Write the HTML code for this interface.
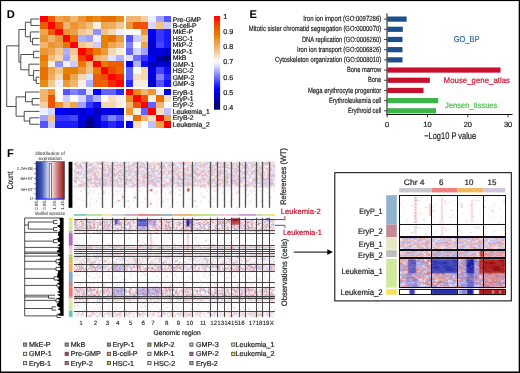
<!DOCTYPE html><html><head><meta charset="utf-8"><style>html,body{margin:0;padding:0;background:#fff;}svg{display:block;will-change:transform;}text{font-family:"Liberation Sans", sans-serif;text-rendering:geometricPrecision;}</style></head><body>
<svg width="520" height="373" viewBox="0 0 520 373">
<defs><filter id="gb" x="0" y="0" width="520" height="373" filterUnits="userSpaceOnUse" color-interpolation-filters="sRGB"><feConvolveMatrix order="3" kernelMatrix="1 2 1 2 4 2 1 2 1" divisor="16.0" edgeMode="duplicate"/></filter></defs>
<g>
<rect width="520" height="373" fill="#fff"/>
<text x="6.8" y="17.7" font-size="11.2" font-weight="bold" fill="#000">D</text>
<g shape-rendering="crispEdges">
<rect x="40" y="15.8" width="7.65" height="6.5" fill="#ff0000"/>
<rect x="47.6" y="15.8" width="7.65" height="6.5" fill="#eb5d00"/>
<rect x="55.2" y="15.8" width="7.65" height="6.5" fill="#eea550"/>
<rect x="62.8" y="15.8" width="7.65" height="6.5" fill="#eb9632"/>
<rect x="70.4" y="15.8" width="7.65" height="6.5" fill="#f0b473"/>
<rect x="78" y="15.8" width="7.65" height="6.5" fill="#eb9632"/>
<rect x="85.6" y="15.8" width="7.65" height="6.5" fill="#e87b00"/>
<rect x="93.2" y="15.8" width="7.65" height="6.5" fill="#ea8b19"/>
<rect x="100.8" y="15.8" width="7.65" height="6.5" fill="#e87000"/>
<rect x="108.4" y="15.8" width="7.65" height="6.5" fill="#e87000"/>
<rect x="116" y="15.8" width="7.65" height="6.5" fill="#ea8b19"/>
<rect x="125.5" y="15.8" width="7.65" height="6.5" fill="#f0b473"/>
<rect x="133.1" y="15.8" width="7.65" height="6.5" fill="#f0b473"/>
<rect x="140.7" y="15.8" width="7.65" height="6.5" fill="#f4d0a0"/>
<rect x="148.3" y="15.8" width="7.65" height="6.5" fill="#efefff"/>
<rect x="155.9" y="15.8" width="7.65" height="6.5" fill="#a0a0ff"/>
<rect x="163.5" y="15.8" width="7.65" height="6.5" fill="#5353ff"/>
<rect x="40" y="22.25" width="7.65" height="6.5" fill="#eb5d00"/>
<rect x="47.6" y="22.25" width="7.65" height="6.5" fill="#ff0000"/>
<rect x="55.2" y="22.25" width="7.65" height="6.5" fill="#eb5d00"/>
<rect x="62.8" y="22.25" width="7.65" height="6.5" fill="#f0b473"/>
<rect x="70.4" y="22.25" width="7.65" height="6.5" fill="#eb9632"/>
<rect x="78" y="22.25" width="7.65" height="6.5" fill="#eea550"/>
<rect x="85.6" y="22.25" width="7.65" height="6.5" fill="#f1bb7d"/>
<rect x="93.2" y="22.25" width="7.65" height="6.5" fill="#faeee1"/>
<rect x="100.8" y="22.25" width="7.65" height="6.5" fill="#eea550"/>
<rect x="108.4" y="22.25" width="7.65" height="6.5" fill="#efac61"/>
<rect x="116" y="22.25" width="7.65" height="6.5" fill="#f2c890"/>
<rect x="125.5" y="22.25" width="7.65" height="6.5" fill="#eb9632"/>
<rect x="133.1" y="22.25" width="7.65" height="6.5" fill="#ed5300"/>
<rect x="140.7" y="22.25" width="7.65" height="6.5" fill="#ed5300"/>
<rect x="148.3" y="22.25" width="7.65" height="6.5" fill="#d5d5ff"/>
<rect x="155.9" y="22.25" width="7.65" height="6.5" fill="#f1c186"/>
<rect x="163.5" y="22.25" width="7.65" height="6.5" fill="#cbcbff"/>
<rect x="40" y="28.7" width="7.65" height="6.5" fill="#eea550"/>
<rect x="47.6" y="28.7" width="7.65" height="6.5" fill="#eb5d00"/>
<rect x="55.2" y="28.7" width="7.65" height="6.5" fill="#ff0000"/>
<rect x="62.8" y="28.7" width="7.65" height="6.5" fill="#eb9632"/>
<rect x="70.4" y="28.7" width="7.65" height="6.5" fill="#eda046"/>
<rect x="78" y="28.7" width="7.65" height="6.5" fill="#f2c890"/>
<rect x="85.6" y="28.7" width="7.65" height="6.5" fill="#f5d8b0"/>
<rect x="93.2" y="28.7" width="7.65" height="6.5" fill="#9090ff"/>
<rect x="100.8" y="28.7" width="7.65" height="6.5" fill="#f1c186"/>
<rect x="108.4" y="28.7" width="7.65" height="6.5" fill="#f5d8b0"/>
<rect x="116" y="28.7" width="7.65" height="6.5" fill="#efefff"/>
<rect x="125.5" y="28.7" width="7.65" height="6.5" fill="#ffffff"/>
<rect x="133.1" y="28.7" width="7.65" height="6.5" fill="#ffffff"/>
<rect x="140.7" y="28.7" width="7.65" height="6.5" fill="#eb9632"/>
<rect x="148.3" y="28.7" width="7.65" height="6.5" fill="#0000ff"/>
<rect x="155.9" y="28.7" width="7.65" height="6.5" fill="#3636ff"/>
<rect x="163.5" y="28.7" width="7.65" height="6.5" fill="#1b1bff"/>
<rect x="40" y="35.15" width="7.65" height="6.5" fill="#eb9632"/>
<rect x="47.6" y="35.15" width="7.65" height="6.5" fill="#f0b473"/>
<rect x="55.2" y="35.15" width="7.65" height="6.5" fill="#eb9632"/>
<rect x="62.8" y="35.15" width="7.65" height="6.5" fill="#ff0000"/>
<rect x="70.4" y="35.15" width="7.65" height="6.5" fill="#e87500"/>
<rect x="78" y="35.15" width="7.65" height="6.5" fill="#b0b0ff"/>
<rect x="85.6" y="35.15" width="7.65" height="6.5" fill="#a0a0ff"/>
<rect x="93.2" y="35.15" width="7.65" height="6.5" fill="#efefff"/>
<rect x="100.8" y="35.15" width="7.65" height="6.5" fill="#e88000"/>
<rect x="108.4" y="35.15" width="7.65" height="6.5" fill="#e87000"/>
<rect x="116" y="35.15" width="7.65" height="6.5" fill="#ec9b3c"/>
<rect x="125.5" y="35.15" width="7.65" height="6.5" fill="#5353ff"/>
<rect x="133.1" y="35.15" width="7.65" height="6.5" fill="#cbcbff"/>
<rect x="140.7" y="35.15" width="7.65" height="6.5" fill="#f2c890"/>
<rect x="148.3" y="35.15" width="7.65" height="6.5" fill="#0000e4"/>
<rect x="155.9" y="35.15" width="7.65" height="6.5" fill="#3636ff"/>
<rect x="163.5" y="35.15" width="7.65" height="6.5" fill="#1b1bff"/>
<rect x="40" y="41.6" width="7.65" height="6.5" fill="#f0b473"/>
<rect x="47.6" y="41.6" width="7.65" height="6.5" fill="#eb9632"/>
<rect x="55.2" y="41.6" width="7.65" height="6.5" fill="#eda046"/>
<rect x="62.8" y="41.6" width="7.65" height="6.5" fill="#e87500"/>
<rect x="70.4" y="41.6" width="7.65" height="6.5" fill="#ff0000"/>
<rect x="78" y="41.6" width="7.65" height="6.5" fill="#f2c890"/>
<rect x="85.6" y="41.6" width="7.65" height="6.5" fill="#f5d8b0"/>
<rect x="93.2" y="41.6" width="7.65" height="6.5" fill="#cbcbff"/>
<rect x="100.8" y="41.6" width="7.65" height="6.5" fill="#e88000"/>
<rect x="108.4" y="41.6" width="7.65" height="6.5" fill="#eea550"/>
<rect x="116" y="41.6" width="7.65" height="6.5" fill="#f0b473"/>
<rect x="125.5" y="41.6" width="7.65" height="6.5" fill="#8080ff"/>
<rect x="133.1" y="41.6" width="7.65" height="6.5" fill="#ffffff"/>
<rect x="140.7" y="41.6" width="7.65" height="6.5" fill="#eea550"/>
<rect x="148.3" y="41.6" width="7.65" height="6.5" fill="#0000d6"/>
<rect x="155.9" y="41.6" width="7.65" height="6.5" fill="#4545ff"/>
<rect x="163.5" y="41.6" width="7.65" height="6.5" fill="#1b1bff"/>
<rect x="40" y="48.05" width="7.65" height="6.5" fill="#eb9632"/>
<rect x="47.6" y="48.05" width="7.65" height="6.5" fill="#eea550"/>
<rect x="55.2" y="48.05" width="7.65" height="6.5" fill="#f2c890"/>
<rect x="62.8" y="48.05" width="7.65" height="6.5" fill="#b0b0ff"/>
<rect x="70.4" y="48.05" width="7.65" height="6.5" fill="#f2c890"/>
<rect x="78" y="48.05" width="7.65" height="6.5" fill="#ff0000"/>
<rect x="85.6" y="48.05" width="7.65" height="6.5" fill="#f04000"/>
<rect x="93.2" y="48.05" width="7.65" height="6.5" fill="#e87b00"/>
<rect x="100.8" y="48.05" width="7.65" height="6.5" fill="#ec9b3c"/>
<rect x="108.4" y="48.05" width="7.65" height="6.5" fill="#f5d8b0"/>
<rect x="116" y="48.05" width="7.65" height="6.5" fill="#faeee1"/>
<rect x="125.5" y="48.05" width="7.65" height="6.5" fill="#6262ff"/>
<rect x="133.1" y="48.05" width="7.65" height="6.5" fill="#d5d5ff"/>
<rect x="140.7" y="48.05" width="7.65" height="6.5" fill="#a0a0ff"/>
<rect x="148.3" y="48.05" width="7.65" height="6.5" fill="#0000d6"/>
<rect x="155.9" y="48.05" width="7.65" height="6.5" fill="#0000e4"/>
<rect x="163.5" y="48.05" width="7.65" height="6.5" fill="#0000c8"/>
<rect x="40" y="54.5" width="7.65" height="6.5" fill="#e87b00"/>
<rect x="47.6" y="54.5" width="7.65" height="6.5" fill="#f1bb7d"/>
<rect x="55.2" y="54.5" width="7.65" height="6.5" fill="#f5d8b0"/>
<rect x="62.8" y="54.5" width="7.65" height="6.5" fill="#a0a0ff"/>
<rect x="70.4" y="54.5" width="7.65" height="6.5" fill="#f5d8b0"/>
<rect x="78" y="54.5" width="7.65" height="6.5" fill="#f04000"/>
<rect x="85.6" y="54.5" width="7.65" height="6.5" fill="#ff0000"/>
<rect x="93.2" y="54.5" width="7.65" height="6.5" fill="#f0b473"/>
<rect x="100.8" y="54.5" width="7.65" height="6.5" fill="#f1c186"/>
<rect x="108.4" y="54.5" width="7.65" height="6.5" fill="#e0e0ff"/>
<rect x="116" y="54.5" width="7.65" height="6.5" fill="#b0b0ff"/>
<rect x="125.5" y="54.5" width="7.65" height="6.5" fill="#e0e0ff"/>
<rect x="133.1" y="54.5" width="7.65" height="6.5" fill="#7070ff"/>
<rect x="140.7" y="54.5" width="7.65" height="6.5" fill="#3636ff"/>
<rect x="148.3" y="54.5" width="7.65" height="6.5" fill="#0000ff"/>
<rect x="155.9" y="54.5" width="7.65" height="6.5" fill="#0000a0"/>
<rect x="163.5" y="54.5" width="7.65" height="6.5" fill="#000080"/>
<rect x="40" y="60.95" width="7.65" height="6.5" fill="#ea8b19"/>
<rect x="47.6" y="60.95" width="7.65" height="6.5" fill="#faeee1"/>
<rect x="55.2" y="60.95" width="7.65" height="6.5" fill="#9090ff"/>
<rect x="62.8" y="60.95" width="7.65" height="6.5" fill="#efefff"/>
<rect x="70.4" y="60.95" width="7.65" height="6.5" fill="#cbcbff"/>
<rect x="78" y="60.95" width="7.65" height="6.5" fill="#e87b00"/>
<rect x="85.6" y="60.95" width="7.65" height="6.5" fill="#f0b473"/>
<rect x="93.2" y="60.95" width="7.65" height="6.5" fill="#ff0000"/>
<rect x="100.8" y="60.95" width="7.65" height="6.5" fill="#e87b00"/>
<rect x="108.4" y="60.95" width="7.65" height="6.5" fill="#eb5d00"/>
<rect x="116" y="60.95" width="7.65" height="6.5" fill="#eb5d00"/>
<rect x="125.5" y="60.95" width="7.65" height="6.5" fill="#0000f1"/>
<rect x="133.1" y="60.95" width="7.65" height="6.5" fill="#b0b0ff"/>
<rect x="140.7" y="60.95" width="7.65" height="6.5" fill="#0d0dff"/>
<rect x="148.3" y="60.95" width="7.65" height="6.5" fill="#0000bb"/>
<rect x="155.9" y="60.95" width="7.65" height="6.5" fill="#0000d6"/>
<rect x="163.5" y="60.95" width="7.65" height="6.5" fill="#0000c8"/>
<rect x="40" y="67.4" width="7.65" height="6.5" fill="#e87000"/>
<rect x="47.6" y="67.4" width="7.65" height="6.5" fill="#eea550"/>
<rect x="55.2" y="67.4" width="7.65" height="6.5" fill="#f1c186"/>
<rect x="62.8" y="67.4" width="7.65" height="6.5" fill="#e88000"/>
<rect x="70.4" y="67.4" width="7.65" height="6.5" fill="#e88000"/>
<rect x="78" y="67.4" width="7.65" height="6.5" fill="#ec9b3c"/>
<rect x="85.6" y="67.4" width="7.65" height="6.5" fill="#f1c186"/>
<rect x="93.2" y="67.4" width="7.65" height="6.5" fill="#e87b00"/>
<rect x="100.8" y="67.4" width="7.65" height="6.5" fill="#ff0000"/>
<rect x="108.4" y="67.4" width="7.65" height="6.5" fill="#ee4a00"/>
<rect x="116" y="67.4" width="7.65" height="6.5" fill="#ea6600"/>
<rect x="125.5" y="67.4" width="7.65" height="6.5" fill="#6262ff"/>
<rect x="133.1" y="67.4" width="7.65" height="6.5" fill="#ffffff"/>
<rect x="140.7" y="67.4" width="7.65" height="6.5" fill="#f5d8b0"/>
<rect x="148.3" y="67.4" width="7.65" height="6.5" fill="#0000e4"/>
<rect x="155.9" y="67.4" width="7.65" height="6.5" fill="#4545ff"/>
<rect x="163.5" y="67.4" width="7.65" height="6.5" fill="#0d0dff"/>
<rect x="40" y="73.85" width="7.65" height="6.5" fill="#e87000"/>
<rect x="47.6" y="73.85" width="7.65" height="6.5" fill="#efac61"/>
<rect x="55.2" y="73.85" width="7.65" height="6.5" fill="#f5d8b0"/>
<rect x="62.8" y="73.85" width="7.65" height="6.5" fill="#e87000"/>
<rect x="70.4" y="73.85" width="7.65" height="6.5" fill="#eea550"/>
<rect x="78" y="73.85" width="7.65" height="6.5" fill="#f5d8b0"/>
<rect x="85.6" y="73.85" width="7.65" height="6.5" fill="#e0e0ff"/>
<rect x="93.2" y="73.85" width="7.65" height="6.5" fill="#eb5d00"/>
<rect x="100.8" y="73.85" width="7.65" height="6.5" fill="#ee4a00"/>
<rect x="108.4" y="73.85" width="7.65" height="6.5" fill="#ff0000"/>
<rect x="116" y="73.85" width="7.65" height="6.5" fill="#f62600"/>
<rect x="125.5" y="73.85" width="7.65" height="6.5" fill="#6262ff"/>
<rect x="133.1" y="73.85" width="7.65" height="6.5" fill="#f7dfc0"/>
<rect x="140.7" y="73.85" width="7.65" height="6.5" fill="#f5d8b0"/>
<rect x="148.3" y="73.85" width="7.65" height="6.5" fill="#0000e4"/>
<rect x="155.9" y="73.85" width="7.65" height="6.5" fill="#8080ff"/>
<rect x="163.5" y="73.85" width="7.65" height="6.5" fill="#2828ff"/>
<rect x="40" y="80.3" width="7.65" height="6.5" fill="#ea8b19"/>
<rect x="47.6" y="80.3" width="7.65" height="6.5" fill="#f2c890"/>
<rect x="55.2" y="80.3" width="7.65" height="6.5" fill="#efefff"/>
<rect x="62.8" y="80.3" width="7.65" height="6.5" fill="#ec9b3c"/>
<rect x="70.4" y="80.3" width="7.65" height="6.5" fill="#f0b473"/>
<rect x="78" y="80.3" width="7.65" height="6.5" fill="#faeee1"/>
<rect x="85.6" y="80.3" width="7.65" height="6.5" fill="#b0b0ff"/>
<rect x="93.2" y="80.3" width="7.65" height="6.5" fill="#eb5d00"/>
<rect x="100.8" y="80.3" width="7.65" height="6.5" fill="#ea6600"/>
<rect x="108.4" y="80.3" width="7.65" height="6.5" fill="#f62600"/>
<rect x="116" y="80.3" width="7.65" height="6.5" fill="#ff0000"/>
<rect x="125.5" y="80.3" width="7.65" height="6.5" fill="#2828ff"/>
<rect x="133.1" y="80.3" width="7.65" height="6.5" fill="#faeee1"/>
<rect x="140.7" y="80.3" width="7.65" height="6.5" fill="#faeee1"/>
<rect x="148.3" y="80.3" width="7.65" height="6.5" fill="#0000c8"/>
<rect x="155.9" y="80.3" width="7.65" height="6.5" fill="#5353ff"/>
<rect x="163.5" y="80.3" width="7.65" height="6.5" fill="#0d0dff"/>
<rect x="40" y="88.8" width="7.65" height="6.5" fill="#f0b473"/>
<rect x="47.6" y="88.8" width="7.65" height="6.5" fill="#eb9632"/>
<rect x="55.2" y="88.8" width="7.65" height="6.5" fill="#ffffff"/>
<rect x="62.8" y="88.8" width="7.65" height="6.5" fill="#5353ff"/>
<rect x="70.4" y="88.8" width="7.65" height="6.5" fill="#8080ff"/>
<rect x="78" y="88.8" width="7.65" height="6.5" fill="#6262ff"/>
<rect x="85.6" y="88.8" width="7.65" height="6.5" fill="#e0e0ff"/>
<rect x="93.2" y="88.8" width="7.65" height="6.5" fill="#0000f1"/>
<rect x="100.8" y="88.8" width="7.65" height="6.5" fill="#6262ff"/>
<rect x="108.4" y="88.8" width="7.65" height="6.5" fill="#6262ff"/>
<rect x="116" y="88.8" width="7.65" height="6.5" fill="#2828ff"/>
<rect x="125.5" y="88.8" width="7.65" height="6.5" fill="#ff0000"/>
<rect x="133.1" y="88.8" width="7.65" height="6.5" fill="#ea8b19"/>
<rect x="140.7" y="88.8" width="7.65" height="6.5" fill="#f0b473"/>
<rect x="148.3" y="88.8" width="7.65" height="6.5" fill="#eb9632"/>
<rect x="155.9" y="88.8" width="7.65" height="6.5" fill="#efefff"/>
<rect x="163.5" y="88.8" width="7.65" height="6.5" fill="#0000e4"/>
<rect x="40" y="95.25" width="7.65" height="6.5" fill="#f0b473"/>
<rect x="47.6" y="95.25" width="7.65" height="6.5" fill="#ed5300"/>
<rect x="55.2" y="95.25" width="7.65" height="6.5" fill="#ffffff"/>
<rect x="62.8" y="95.25" width="7.65" height="6.5" fill="#cbcbff"/>
<rect x="70.4" y="95.25" width="7.65" height="6.5" fill="#ffffff"/>
<rect x="78" y="95.25" width="7.65" height="6.5" fill="#d5d5ff"/>
<rect x="85.6" y="95.25" width="7.65" height="6.5" fill="#7070ff"/>
<rect x="93.2" y="95.25" width="7.65" height="6.5" fill="#b0b0ff"/>
<rect x="100.8" y="95.25" width="7.65" height="6.5" fill="#ffffff"/>
<rect x="108.4" y="95.25" width="7.65" height="6.5" fill="#f7dfc0"/>
<rect x="116" y="95.25" width="7.65" height="6.5" fill="#faeee1"/>
<rect x="125.5" y="95.25" width="7.65" height="6.5" fill="#ea8b19"/>
<rect x="133.1" y="95.25" width="7.65" height="6.5" fill="#ff0000"/>
<rect x="140.7" y="95.25" width="7.65" height="6.5" fill="#ed5300"/>
<rect x="148.3" y="95.25" width="7.65" height="6.5" fill="#faeee1"/>
<rect x="155.9" y="95.25" width="7.65" height="6.5" fill="#e87000"/>
<rect x="163.5" y="95.25" width="7.65" height="6.5" fill="#f7dfc0"/>
<rect x="40" y="101.7" width="7.65" height="6.5" fill="#f4d0a0"/>
<rect x="47.6" y="101.7" width="7.65" height="6.5" fill="#ed5300"/>
<rect x="55.2" y="101.7" width="7.65" height="6.5" fill="#eb9632"/>
<rect x="62.8" y="101.7" width="7.65" height="6.5" fill="#f2c890"/>
<rect x="70.4" y="101.7" width="7.65" height="6.5" fill="#eea550"/>
<rect x="78" y="101.7" width="7.65" height="6.5" fill="#a0a0ff"/>
<rect x="85.6" y="101.7" width="7.65" height="6.5" fill="#3636ff"/>
<rect x="93.2" y="101.7" width="7.65" height="6.5" fill="#0d0dff"/>
<rect x="100.8" y="101.7" width="7.65" height="6.5" fill="#f5d8b0"/>
<rect x="108.4" y="101.7" width="7.65" height="6.5" fill="#f5d8b0"/>
<rect x="116" y="101.7" width="7.65" height="6.5" fill="#faeee1"/>
<rect x="125.5" y="101.7" width="7.65" height="6.5" fill="#f0b473"/>
<rect x="133.1" y="101.7" width="7.65" height="6.5" fill="#ed5300"/>
<rect x="140.7" y="101.7" width="7.65" height="6.5" fill="#ff0000"/>
<rect x="148.3" y="101.7" width="7.65" height="6.5" fill="#6262ff"/>
<rect x="155.9" y="101.7" width="7.65" height="6.5" fill="#f0b473"/>
<rect x="163.5" y="101.7" width="7.65" height="6.5" fill="#ffffff"/>
<rect x="40" y="108.15" width="7.65" height="6.5" fill="#efefff"/>
<rect x="47.6" y="108.15" width="7.65" height="6.5" fill="#d5d5ff"/>
<rect x="55.2" y="108.15" width="7.65" height="6.5" fill="#0000ff"/>
<rect x="62.8" y="108.15" width="7.65" height="6.5" fill="#0000e4"/>
<rect x="70.4" y="108.15" width="7.65" height="6.5" fill="#0000d6"/>
<rect x="78" y="108.15" width="7.65" height="6.5" fill="#0000d6"/>
<rect x="85.6" y="108.15" width="7.65" height="6.5" fill="#0000ff"/>
<rect x="93.2" y="108.15" width="7.65" height="6.5" fill="#0000bb"/>
<rect x="100.8" y="108.15" width="7.65" height="6.5" fill="#0000e4"/>
<rect x="108.4" y="108.15" width="7.65" height="6.5" fill="#0000e4"/>
<rect x="116" y="108.15" width="7.65" height="6.5" fill="#0000c8"/>
<rect x="125.5" y="108.15" width="7.65" height="6.5" fill="#eb9632"/>
<rect x="133.1" y="108.15" width="7.65" height="6.5" fill="#faeee1"/>
<rect x="140.7" y="108.15" width="7.65" height="6.5" fill="#6262ff"/>
<rect x="148.3" y="108.15" width="7.65" height="6.5" fill="#ff0000"/>
<rect x="155.9" y="108.15" width="7.65" height="6.5" fill="#f7dfc0"/>
<rect x="163.5" y="108.15" width="7.65" height="6.5" fill="#c0c0ff"/>
<rect x="40" y="114.6" width="7.65" height="6.5" fill="#a0a0ff"/>
<rect x="47.6" y="114.6" width="7.65" height="6.5" fill="#f1c186"/>
<rect x="55.2" y="114.6" width="7.65" height="6.5" fill="#3636ff"/>
<rect x="62.8" y="114.6" width="7.65" height="6.5" fill="#3636ff"/>
<rect x="70.4" y="114.6" width="7.65" height="6.5" fill="#4545ff"/>
<rect x="78" y="114.6" width="7.65" height="6.5" fill="#0000e4"/>
<rect x="85.6" y="114.6" width="7.65" height="6.5" fill="#0000a0"/>
<rect x="93.2" y="114.6" width="7.65" height="6.5" fill="#0000d6"/>
<rect x="100.8" y="114.6" width="7.65" height="6.5" fill="#4545ff"/>
<rect x="108.4" y="114.6" width="7.65" height="6.5" fill="#8080ff"/>
<rect x="116" y="114.6" width="7.65" height="6.5" fill="#5353ff"/>
<rect x="125.5" y="114.6" width="7.65" height="6.5" fill="#efefff"/>
<rect x="133.1" y="114.6" width="7.65" height="6.5" fill="#e87000"/>
<rect x="140.7" y="114.6" width="7.65" height="6.5" fill="#f0b473"/>
<rect x="148.3" y="114.6" width="7.65" height="6.5" fill="#f7dfc0"/>
<rect x="155.9" y="114.6" width="7.65" height="6.5" fill="#ff0000"/>
<rect x="163.5" y="114.6" width="7.65" height="6.5" fill="#eda046"/>
<rect x="40" y="121.05" width="7.65" height="6.5" fill="#5353ff"/>
<rect x="47.6" y="121.05" width="7.65" height="6.5" fill="#cbcbff"/>
<rect x="55.2" y="121.05" width="7.65" height="6.5" fill="#1b1bff"/>
<rect x="62.8" y="121.05" width="7.65" height="6.5" fill="#1b1bff"/>
<rect x="70.4" y="121.05" width="7.65" height="6.5" fill="#1b1bff"/>
<rect x="78" y="121.05" width="7.65" height="6.5" fill="#0000c8"/>
<rect x="85.6" y="121.05" width="7.65" height="6.5" fill="#000080"/>
<rect x="93.2" y="121.05" width="7.65" height="6.5" fill="#0000c8"/>
<rect x="100.8" y="121.05" width="7.65" height="6.5" fill="#0d0dff"/>
<rect x="108.4" y="121.05" width="7.65" height="6.5" fill="#2828ff"/>
<rect x="116" y="121.05" width="7.65" height="6.5" fill="#0d0dff"/>
<rect x="125.5" y="121.05" width="7.65" height="6.5" fill="#0000e4"/>
<rect x="133.1" y="121.05" width="7.65" height="6.5" fill="#f7dfc0"/>
<rect x="140.7" y="121.05" width="7.65" height="6.5" fill="#ffffff"/>
<rect x="148.3" y="121.05" width="7.65" height="6.5" fill="#c0c0ff"/>
<rect x="155.9" y="121.05" width="7.65" height="6.5" fill="#eda046"/>
<rect x="163.5" y="121.05" width="7.65" height="6.5" fill="#ff0000"/>
</g>
<text x="172.8" y="21.53" font-size="6.8" fill="#111" stroke="#111" stroke-width="0.2">Pre-GMP</text>
<text x="172.8" y="27.98" font-size="6.8" fill="#111" stroke="#111" stroke-width="0.2">B-cell-P</text>
<text x="172.8" y="34.43" font-size="6.8" fill="#111" stroke="#111" stroke-width="0.2">MkE-P</text>
<text x="172.8" y="40.88" font-size="6.8" fill="#111" stroke="#111" stroke-width="0.2">HSC-1</text>
<text x="172.8" y="47.33" font-size="6.8" fill="#111" stroke="#111" stroke-width="0.2">MkP-2</text>
<text x="172.8" y="53.77" font-size="6.8" fill="#111" stroke="#111" stroke-width="0.2">MkP-1</text>
<text x="172.8" y="60.23" font-size="6.8" fill="#111" stroke="#111" stroke-width="0.2">MkB</text>
<text x="172.8" y="66.67" font-size="6.8" fill="#111" stroke="#111" stroke-width="0.2">GMP-1</text>
<text x="172.8" y="73.12" font-size="6.8" fill="#111" stroke="#111" stroke-width="0.2">HSC-2</text>
<text x="172.8" y="79.58" font-size="6.8" fill="#111" stroke="#111" stroke-width="0.2">GMP-2</text>
<text x="172.8" y="86.02" font-size="6.8" fill="#111" stroke="#111" stroke-width="0.2">GMP-3</text>
<text x="172.8" y="94.52" font-size="6.8" fill="#111" stroke="#111" stroke-width="0.2">EryB-1</text>
<text x="172.8" y="100.97" font-size="6.8" fill="#111" stroke="#111" stroke-width="0.2">EryP-1</text>
<text x="172.8" y="107.42" font-size="6.8" fill="#111" stroke="#111" stroke-width="0.2">EryP-2</text>
<text x="172.8" y="113.88" font-size="6.8" fill="#111" stroke="#111" stroke-width="0.2">Leukemia_1</text>
<text x="172.8" y="120.32" font-size="6.8" fill="#111" stroke="#111" stroke-width="0.2">EryB-2</text>
<text x="172.8" y="126.77" font-size="6.8" fill="#111" stroke="#111" stroke-width="0.2">Leukemia_2</text>
<path d="M30.9 19.03L39.5 19.03M30.9 25.48L39.5 25.48M30.9 19.03L30.9 25.48M32.6 38.38L39.5 38.38M32.6 44.83L39.5 44.83M32.6 38.38L32.6 44.83M30.4 41.6L32.6 41.6M30.4 31.93L39.5 31.93M30.4 31.93L30.4 41.6M25.4 22.25L30.9 22.25M25.4 36.76L30.4 36.76M25.4 22.25L25.4 36.76M33.6 51.27L39.5 51.27M33.6 57.73L39.5 57.73M33.6 51.27L33.6 57.73M36.2 77.08L39.5 77.08M36.2 83.52L39.5 83.52M36.2 77.08L36.2 83.52M33.6 70.62L39.5 70.62M33.6 80.3L36.2 80.3M33.6 70.62L33.6 80.3M28.9 64.17L39.5 64.17M28.9 75.46L33.6 75.46M28.9 64.17L28.9 75.46M20.8 54.5L33.6 54.5M20.8 69.82L28.9 69.82M20.8 54.5L20.8 69.82M18.9 29.51L25.4 29.51M18.9 62.16L20.8 62.16M18.9 29.51L18.9 62.16M32.2 98.47L39.5 98.47M32.2 104.92L39.5 104.92M32.2 98.47L32.2 104.92M25.5 92.02L39.5 92.02M25.5 101.7L32.2 101.7M25.5 92.02L25.5 101.7M29.8 117.82L39.5 117.82M29.8 124.27L39.5 124.27M29.8 117.82L29.8 124.27M24.2 111.38L39.5 111.38M24.2 121.05L29.8 121.05M24.2 111.38L24.2 121.05M16.1 96.86L25.5 96.86M16.1 116.21L24.2 116.21M16.1 96.86L16.1 116.21M6.7 45.83L18.9 45.83M6.7 106.54L16.1 106.54M6.7 45.83L6.7 106.54" stroke="#3a3a3a" stroke-width="0.9" fill="none"/>
<defs><linearGradient id="cb" x1="0" y1="0" x2="0" y2="1">
<stop offset="0" stop-color="#ff0000"/>
<stop offset="0.03" stop-color="#fb1100"/>
<stop offset="0.05" stop-color="#f62500"/>
<stop offset="0.07" stop-color="#f23900"/>
<stop offset="0.1" stop-color="#ee4900"/>
<stop offset="0.12" stop-color="#ec5800"/>
<stop offset="0.15" stop-color="#e96700"/>
<stop offset="0.17" stop-color="#e87300"/>
<stop offset="0.2" stop-color="#e87b00"/>
<stop offset="0.23" stop-color="#e98811"/>
<stop offset="0.25" stop-color="#eb9734"/>
<stop offset="0.28" stop-color="#ed9f44"/>
<stop offset="0.3" stop-color="#eea756"/>
<stop offset="0.33" stop-color="#f0b371"/>
<stop offset="0.35" stop-color="#f1bd81"/>
<stop offset="0.38" stop-color="#f2c890"/>
<stop offset="0.4" stop-color="#f4d4a8"/>
<stop offset="0.42" stop-color="#f7e0c1"/>
<stop offset="0.45" stop-color="#f9ebda"/>
<stop offset="0.47" stop-color="#fdf8f2"/>
<stop offset="0.5" stop-color="#f4f4ff"/>
<stop offset="0.53" stop-color="#dedeff"/>
<stop offset="0.55" stop-color="#cdcdff"/>
<stop offset="0.57" stop-color="#bbbbff"/>
<stop offset="0.6" stop-color="#a2a2ff"/>
<stop offset="0.62" stop-color="#8989ff"/>
<stop offset="0.65" stop-color="#7171ff"/>
<stop offset="0.68" stop-color="#5a5aff"/>
<stop offset="0.7" stop-color="#4444ff"/>
<stop offset="0.72" stop-color="#2e2eff"/>
<stop offset="0.75" stop-color="#1919ff"/>
<stop offset="0.78" stop-color="#0404ff"/>
<stop offset="0.8" stop-color="#0000ee"/>
<stop offset="0.82" stop-color="#0000d9"/>
<stop offset="0.85" stop-color="#0000c4"/>
<stop offset="0.88" stop-color="#0000af"/>
<stop offset="0.9" stop-color="#00009c"/>
<stop offset="0.93" stop-color="#00008b"/>
<stop offset="0.95" stop-color="#00007e"/>
<stop offset="0.97" stop-color="#000077"/>
<stop offset="1" stop-color="#000070"/>
</linearGradient></defs>
<rect x="214" y="16" width="6.1" height="93.7" fill="url(#cb)"/>
<text x="223.2" y="18.9" font-size="7.2" fill="#222" stroke="#222" stroke-width="0.2">1</text>
<text x="223.2" y="34.07" font-size="7.2" fill="#222" stroke="#222" stroke-width="0.2">0.9</text>
<text x="223.2" y="49.24" font-size="7.2" fill="#222" stroke="#222" stroke-width="0.2">0.8</text>
<text x="223.2" y="64.41" font-size="7.2" fill="#222" stroke="#222" stroke-width="0.2">0.7</text>
<text x="223.2" y="79.58" font-size="7.2" fill="#222" stroke="#222" stroke-width="0.2">0.6</text>
<text x="223.2" y="94.75" font-size="7.2" fill="#222" stroke="#222" stroke-width="0.2">0.5</text>
<text x="223.2" y="109.92" font-size="7.2" fill="#222" stroke="#222" stroke-width="0.2">0.4</text>
<text x="249.4" y="17.7" font-size="11.2" font-weight="bold" fill="#000">E</text>
<rect x="387.5" y="16.5" width="19.1" height="5.2" fill="#1d4f8b"/>
<line x1="384" y1="19.1" x2="387" y2="19.1" stroke="#222" stroke-width="0.8"/>
<text x="303.2" y="21.2" font-size="7.5" fill="#222" textLength="78" lengthAdjust="spacingAndGlyphs" stroke="#222" stroke-width="0.2">Iron ion import (GO:0097286)</text>
<rect x="387.5" y="26.69" width="15.3" height="5.2" fill="#1d4f8b"/>
<line x1="384" y1="29.29" x2="387" y2="29.29" stroke="#222" stroke-width="0.8"/>
<text x="248.8" y="31.39" font-size="7.5" fill="#222" textLength="132.4" lengthAdjust="spacingAndGlyphs" stroke="#222" stroke-width="0.2">Mitotic sister chromatid segregation (GO:0000070)</text>
<rect x="387.5" y="36.88" width="15" height="5.2" fill="#1d4f8b"/>
<line x1="384" y1="39.48" x2="387" y2="39.48" stroke="#222" stroke-width="0.8"/>
<text x="301.9" y="41.58" font-size="7.5" fill="#222" textLength="79.3" lengthAdjust="spacingAndGlyphs" stroke="#222" stroke-width="0.2">DNA replication (GO:0006260)</text>
<rect x="387.5" y="47.07" width="15" height="5.2" fill="#1d4f8b"/>
<line x1="384" y1="49.67" x2="387" y2="49.67" stroke="#222" stroke-width="0.8"/>
<text x="297" y="51.77" font-size="7.5" fill="#222" textLength="84.2" lengthAdjust="spacingAndGlyphs" stroke="#222" stroke-width="0.2">Iron ion transport (GO:0006826)</text>
<rect x="387.5" y="57.26" width="15" height="5.2" fill="#1d4f8b"/>
<line x1="384" y1="59.86" x2="387" y2="59.86" stroke="#222" stroke-width="0.8"/>
<text x="275" y="61.96" font-size="7.5" fill="#222" textLength="106.2" lengthAdjust="spacingAndGlyphs" stroke="#222" stroke-width="0.2">Cytoskeleton organization (GO:0008010)</text>
<rect x="387.5" y="67.45" width="113" height="5.2" fill="#c8102e"/>
<line x1="384" y1="70.05" x2="387" y2="70.05" stroke="#222" stroke-width="0.8"/>
<text x="346.9" y="72.15" font-size="7.5" fill="#222" textLength="34.3" lengthAdjust="spacingAndGlyphs" stroke="#222" stroke-width="0.2">Bone marrow</text>
<rect x="387.5" y="77.64" width="42.3" height="5.2" fill="#c8102e"/>
<line x1="384" y1="80.24" x2="387" y2="80.24" stroke="#222" stroke-width="0.8"/>
<text x="367.9" y="82.34" font-size="7.5" fill="#222" textLength="13.3" lengthAdjust="spacingAndGlyphs" stroke="#222" stroke-width="0.2">Bone</text>
<rect x="387.5" y="87.83" width="36" height="5.2" fill="#c8102e"/>
<line x1="384" y1="90.43" x2="387" y2="90.43" stroke="#222" stroke-width="0.8"/>
<text x="307.9" y="92.53" font-size="7.5" fill="#222" textLength="73.3" lengthAdjust="spacingAndGlyphs" stroke="#222" stroke-width="0.2">Mega erythrocyte progenitor</text>
<rect x="387.5" y="98.02" width="50.7" height="5.2" fill="#3cb44a"/>
<line x1="384" y1="100.62" x2="387" y2="100.62" stroke="#222" stroke-width="0.8"/>
<text x="329" y="102.72" font-size="7.5" fill="#222" textLength="52.2" lengthAdjust="spacingAndGlyphs" stroke="#222" stroke-width="0.2">Erythroleukemia cell</text>
<rect x="387.5" y="108.21" width="48.5" height="5.2" fill="#3cb44a"/>
<line x1="384" y1="110.81" x2="387" y2="110.81" stroke="#222" stroke-width="0.8"/>
<text x="348" y="112.91" font-size="7.5" fill="#222" textLength="33.2" lengthAdjust="spacingAndGlyphs" stroke="#222" stroke-width="0.2">Erythroid cell</text>
<line x1="387" y1="13.3" x2="387" y2="115" stroke="#111" stroke-width="1"/>
<line x1="386.5" y1="114.5" x2="512.5" y2="114.5" stroke="#111" stroke-width="1"/>
<line x1="387.2" y1="114.5" x2="387.2" y2="117.3" stroke="#111" stroke-width="0.8"/>
<text x="387.2" y="126.7" font-size="7.5" fill="#222" text-anchor="middle" stroke="#222" stroke-width="0.2">0</text>
<line x1="427.5" y1="114.5" x2="427.5" y2="117.3" stroke="#111" stroke-width="0.8"/>
<text x="427.5" y="126.7" font-size="7.5" fill="#222" text-anchor="middle" stroke="#222" stroke-width="0.2">10</text>
<line x1="467.8" y1="114.5" x2="467.8" y2="117.3" stroke="#111" stroke-width="0.8"/>
<text x="467.8" y="126.7" font-size="7.5" fill="#222" text-anchor="middle" stroke="#222" stroke-width="0.2">20</text>
<line x1="508.1" y1="114.5" x2="508.1" y2="117.3" stroke="#111" stroke-width="0.8"/>
<text x="508.1" y="126.7" font-size="7.5" fill="#222" text-anchor="middle" stroke="#222" stroke-width="0.2">30</text>
<text x="424.2" y="139" font-size="9.6" fill="#222" textLength="52" lengthAdjust="spacingAndGlyphs" stroke="#222" stroke-width="0.2">−Log10 P value</text>
<text x="453.7" y="42.2" font-size="8.5" fill="#2e6aa2" textLength="25.8" lengthAdjust="spacingAndGlyphs" stroke="#2e6aa2" stroke-width="0.2">GO_BP</text>
<text x="443.6" y="82.7" font-size="8.1" fill="#c8102e" textLength="66.4" lengthAdjust="spacingAndGlyphs" stroke="#c8102e" stroke-width="0.2">Mouse_gene_atlas</text>
<text x="445.0" y="108.2" font-size="8.1" fill="#4cbb4c" textLength="52.4" lengthAdjust="spacingAndGlyphs" stroke="#4cbb4c" stroke-width="0.2">Jensen_tissues</text>
<defs>
<filter id="bl" x="-5%" y="-5%" width="110%" height="110%" color-interpolation-filters="sRGB"><feConvolveMatrix order="3" kernelMatrix="1 2 1 2 12 2 1 2 1" divisor="24" edgeMode="duplicate"/></filter>
<pattern id="pd" x="0" y="0" width="83" height="29" patternUnits="userSpaceOnUse"><rect width="83" height="29" fill="#fbf9fa"/><rect x="0" y="0" width="1" height="1" fill="#eab8b8"/><rect x="1" y="0" width="1" height="1" fill="#bcbcec"/><rect x="2" y="0" width="1" height="1" fill="#eab8b8"/><rect x="5" y="0" width="1" height="1" fill="#bcbcec"/><rect x="8" y="0" width="1" height="1" fill="#e6b0b0"/><rect x="9" y="0" width="1" height="1" fill="#eab8b8"/><rect x="11" y="0" width="1" height="1" fill="#ecbebe"/><rect x="12" y="0" width="1" height="1" fill="#eab8b8"/><rect x="16" y="0" width="1" height="1" fill="#ecbebe"/><rect x="17" y="0" width="1" height="1" fill="#f2cccc"/><rect x="18" y="0" width="1" height="1" fill="#c8c8f0"/><rect x="19" y="0" width="1" height="1" fill="#e0a2a2"/><rect x="20" y="0" width="1" height="1" fill="#d4d4f4"/><rect x="21" y="0" width="1" height="1" fill="#e0a2a2"/><rect x="23" y="0" width="1" height="1" fill="#c8c8f0"/><rect x="24" y="0" width="1" height="1" fill="#eab8b8"/><rect x="25" y="0" width="1" height="1" fill="#bcbcec"/><rect x="26" y="0" width="1" height="1" fill="#e0a2a2"/><rect x="28" y="0" width="1" height="1" fill="#c8c8f0"/><rect x="29" y="0" width="1" height="1" fill="#c8c8f0"/><rect x="30" y="0" width="1" height="1" fill="#f2cccc"/><rect x="31" y="0" width="1" height="1" fill="#c2c2ee"/><rect x="32" y="0" width="1" height="1" fill="#e6b0b0"/><rect x="33" y="0" width="1" height="1" fill="#e0a2a2"/><rect x="34" y="0" width="1" height="1" fill="#bcbcec"/><rect x="36" y="0" width="1" height="1" fill="#e6b0b0"/><rect x="38" y="0" width="1" height="1" fill="#eab8b8"/><rect x="39" y="0" width="1" height="1" fill="#c8c8f0"/><rect x="40" y="0" width="1" height="1" fill="#eab8b8"/><rect x="42" y="0" width="1" height="1" fill="#eab8b8"/><rect x="43" y="0" width="1" height="1" fill="#c8c8f0"/><rect x="44" y="0" width="1" height="1" fill="#c8c8f0"/><rect x="45" y="0" width="1" height="1" fill="#c8c8f0"/><rect x="46" y="0" width="1" height="1" fill="#ecbebe"/><rect x="47" y="0" width="1" height="1" fill="#e6b0b0"/><rect x="48" y="0" width="1" height="1" fill="#d4d4f4"/><rect x="51" y="0" width="1" height="1" fill="#c8c8f0"/><rect x="52" y="0" width="1" height="1" fill="#c8c8f0"/><rect x="53" y="0" width="1" height="1" fill="#f2cccc"/><rect x="54" y="0" width="1" height="1" fill="#eab8b8"/><rect x="55" y="0" width="1" height="1" fill="#bcbcec"/><rect x="58" y="0" width="1" height="1" fill="#c2c2ee"/><rect x="60" y="0" width="1" height="1" fill="#c2c2ee"/><rect x="61" y="0" width="1" height="1" fill="#c8c8f0"/><rect x="62" y="0" width="1" height="1" fill="#c2c2ee"/><rect x="64" y="0" width="1" height="1" fill="#eab8b8"/><rect x="65" y="0" width="1" height="1" fill="#ecbebe"/><rect x="66" y="0" width="1" height="1" fill="#c8c8f0"/><rect x="67" y="0" width="1" height="1" fill="#ecbebe"/><rect x="68" y="0" width="1" height="1" fill="#bcbcec"/><rect x="69" y="0" width="1" height="1" fill="#c2c2ee"/><rect x="70" y="0" width="1" height="1" fill="#f2cccc"/><rect x="71" y="0" width="1" height="1" fill="#bcbcec"/><rect x="73" y="0" width="1" height="1" fill="#e6b0b0"/><rect x="74" y="0" width="1" height="1" fill="#d4d4f4"/><rect x="76" y="0" width="1" height="1" fill="#e6b0b0"/><rect x="78" y="0" width="1" height="1" fill="#c2c2ee"/><rect x="79" y="0" width="1" height="1" fill="#eab8b8"/><rect x="80" y="0" width="1" height="1" fill="#d4d4f4"/><rect x="82" y="0" width="1" height="1" fill="#e6b0b0"/><rect x="0" y="1" width="1" height="1" fill="#e6b0b0"/><rect x="3" y="1" width="1" height="1" fill="#d4d4f4"/><rect x="6" y="1" width="1" height="1" fill="#ecbebe"/><rect x="8" y="1" width="1" height="1" fill="#f2cccc"/><rect x="10" y="1" width="1" height="1" fill="#e6b0b0"/><rect x="11" y="1" width="1" height="1" fill="#e0a2a2"/><rect x="12" y="1" width="1" height="1" fill="#eab8b8"/><rect x="14" y="1" width="1" height="1" fill="#e6b0b0"/><rect x="15" y="1" width="1" height="1" fill="#e0a2a2"/><rect x="18" y="1" width="1" height="1" fill="#ecbebe"/><rect x="19" y="1" width="1" height="1" fill="#f2cccc"/><rect x="20" y="1" width="1" height="1" fill="#ecbebe"/><rect x="21" y="1" width="1" height="1" fill="#ecbebe"/><rect x="22" y="1" width="1" height="1" fill="#bcbcec"/><rect x="23" y="1" width="1" height="1" fill="#c2c2ee"/><rect x="24" y="1" width="1" height="1" fill="#c2c2ee"/><rect x="25" y="1" width="1" height="1" fill="#bcbcec"/><rect x="26" y="1" width="1" height="1" fill="#e0a2a2"/><rect x="29" y="1" width="1" height="1" fill="#d4d4f4"/><rect x="30" y="1" width="1" height="1" fill="#ecbebe"/><rect x="31" y="1" width="1" height="1" fill="#ecbebe"/><rect x="32" y="1" width="1" height="1" fill="#eab8b8"/><rect x="33" y="1" width="1" height="1" fill="#c8c8f0"/><rect x="35" y="1" width="1" height="1" fill="#e0a2a2"/><rect x="36" y="1" width="1" height="1" fill="#e0a2a2"/><rect x="37" y="1" width="1" height="1" fill="#eab8b8"/><rect x="38" y="1" width="1" height="1" fill="#ecbebe"/><rect x="39" y="1" width="1" height="1" fill="#f2cccc"/><rect x="40" y="1" width="1" height="1" fill="#e0a2a2"/><rect x="41" y="1" width="1" height="1" fill="#d4d4f4"/><rect x="45" y="1" width="1" height="1" fill="#bcbcec"/><rect x="46" y="1" width="1" height="1" fill="#eab8b8"/><rect x="47" y="1" width="1" height="1" fill="#f2cccc"/><rect x="49" y="1" width="1" height="1" fill="#bcbcec"/><rect x="50" y="1" width="1" height="1" fill="#bcbcec"/><rect x="52" y="1" width="1" height="1" fill="#ecbebe"/><rect x="53" y="1" width="1" height="1" fill="#e6b0b0"/><rect x="54" y="1" width="1" height="1" fill="#eab8b8"/><rect x="58" y="1" width="1" height="1" fill="#e6b0b0"/><rect x="60" y="1" width="1" height="1" fill="#eab8b8"/><rect x="61" y="1" width="1" height="1" fill="#e6b0b0"/><rect x="62" y="1" width="1" height="1" fill="#d4d4f4"/><rect x="64" y="1" width="1" height="1" fill="#e0a2a2"/><rect x="65" y="1" width="1" height="1" fill="#e0a2a2"/><rect x="66" y="1" width="1" height="1" fill="#eab8b8"/><rect x="67" y="1" width="1" height="1" fill="#bcbcec"/><rect x="68" y="1" width="1" height="1" fill="#c2c2ee"/><rect x="70" y="1" width="1" height="1" fill="#ecbebe"/><rect x="71" y="1" width="1" height="1" fill="#c2c2ee"/><rect x="72" y="1" width="1" height="1" fill="#f2cccc"/><rect x="74" y="1" width="1" height="1" fill="#bcbcec"/><rect x="76" y="1" width="1" height="1" fill="#d4d4f4"/><rect x="79" y="1" width="1" height="1" fill="#f2cccc"/><rect x="80" y="1" width="1" height="1" fill="#f2cccc"/><rect x="0" y="2" width="1" height="1" fill="#d4d4f4"/><rect x="1" y="2" width="1" height="1" fill="#c8c8f0"/><rect x="2" y="2" width="1" height="1" fill="#c8c8f0"/><rect x="5" y="2" width="1" height="1" fill="#d4d4f4"/><rect x="6" y="2" width="1" height="1" fill="#c2c2ee"/><rect x="7" y="2" width="1" height="1" fill="#f2cccc"/><rect x="8" y="2" width="1" height="1" fill="#c8c8f0"/><rect x="11" y="2" width="1" height="1" fill="#e6b0b0"/><rect x="12" y="2" width="1" height="1" fill="#c8c8f0"/><rect x="13" y="2" width="1" height="1" fill="#eab8b8"/><rect x="14" y="2" width="1" height="1" fill="#f2cccc"/><rect x="15" y="2" width="1" height="1" fill="#d4d4f4"/><rect x="18" y="2" width="1" height="1" fill="#bcbcec"/><rect x="19" y="2" width="1" height="1" fill="#f2cccc"/><rect x="21" y="2" width="1" height="1" fill="#e6b0b0"/><rect x="22" y="2" width="1" height="1" fill="#e6b0b0"/><rect x="23" y="2" width="1" height="1" fill="#c2c2ee"/><rect x="24" y="2" width="1" height="1" fill="#c8c8f0"/><rect x="25" y="2" width="1" height="1" fill="#e6b0b0"/><rect x="27" y="2" width="1" height="1" fill="#e0a2a2"/><rect x="28" y="2" width="1" height="1" fill="#f2cccc"/><rect x="31" y="2" width="1" height="1" fill="#bcbcec"/><rect x="32" y="2" width="1" height="1" fill="#f2cccc"/><rect x="35" y="2" width="1" height="1" fill="#bcbcec"/><rect x="38" y="2" width="1" height="1" fill="#e6b0b0"/><rect x="40" y="2" width="1" height="1" fill="#f2cccc"/><rect x="41" y="2" width="1" height="1" fill="#eab8b8"/><rect x="42" y="2" width="1" height="1" fill="#bcbcec"/><rect x="43" y="2" width="1" height="1" fill="#f2cccc"/><rect x="44" y="2" width="1" height="1" fill="#e6b0b0"/><rect x="46" y="2" width="1" height="1" fill="#eab8b8"/><rect x="49" y="2" width="1" height="1" fill="#e6b0b0"/><rect x="50" y="2" width="1" height="1" fill="#e6b0b0"/><rect x="51" y="2" width="1" height="1" fill="#c2c2ee"/><rect x="53" y="2" width="1" height="1" fill="#eab8b8"/><rect x="54" y="2" width="1" height="1" fill="#ecbebe"/><rect x="55" y="2" width="1" height="1" fill="#c8c8f0"/><rect x="57" y="2" width="1" height="1" fill="#e6b0b0"/><rect x="58" y="2" width="1" height="1" fill="#ecbebe"/><rect x="59" y="2" width="1" height="1" fill="#d4d4f4"/><rect x="60" y="2" width="1" height="1" fill="#e6b0b0"/><rect x="61" y="2" width="1" height="1" fill="#f2cccc"/><rect x="62" y="2" width="1" height="1" fill="#bcbcec"/><rect x="64" y="2" width="1" height="1" fill="#eab8b8"/><rect x="65" y="2" width="1" height="1" fill="#e0a2a2"/><rect x="67" y="2" width="1" height="1" fill="#ecbebe"/><rect x="68" y="2" width="1" height="1" fill="#c2c2ee"/><rect x="69" y="2" width="1" height="1" fill="#c8c8f0"/><rect x="70" y="2" width="1" height="1" fill="#d4d4f4"/><rect x="71" y="2" width="1" height="1" fill="#e0a2a2"/><rect x="72" y="2" width="1" height="1" fill="#eab8b8"/><rect x="73" y="2" width="1" height="1" fill="#f2cccc"/><rect x="75" y="2" width="1" height="1" fill="#eab8b8"/><rect x="77" y="2" width="1" height="1" fill="#f2cccc"/><rect x="1" y="3" width="1" height="1" fill="#c2c2ee"/><rect x="4" y="3" width="1" height="1" fill="#c2c2ee"/><rect x="6" y="3" width="1" height="1" fill="#f2cccc"/><rect x="7" y="3" width="1" height="1" fill="#ecbebe"/><rect x="8" y="3" width="1" height="1" fill="#bcbcec"/><rect x="11" y="3" width="1" height="1" fill="#c8c8f0"/><rect x="12" y="3" width="1" height="1" fill="#e6b0b0"/><rect x="13" y="3" width="1" height="1" fill="#bcbcec"/><rect x="14" y="3" width="1" height="1" fill="#f2cccc"/><rect x="17" y="3" width="1" height="1" fill="#e0a2a2"/><rect x="19" y="3" width="1" height="1" fill="#e6b0b0"/><rect x="20" y="3" width="1" height="1" fill="#c2c2ee"/><rect x="25" y="3" width="1" height="1" fill="#c2c2ee"/><rect x="27" y="3" width="1" height="1" fill="#bcbcec"/><rect x="28" y="3" width="1" height="1" fill="#eab8b8"/><rect x="29" y="3" width="1" height="1" fill="#ecbebe"/><rect x="30" y="3" width="1" height="1" fill="#e6b0b0"/><rect x="32" y="3" width="1" height="1" fill="#c8c8f0"/><rect x="35" y="3" width="1" height="1" fill="#e6b0b0"/><rect x="36" y="3" width="1" height="1" fill="#c2c2ee"/><rect x="37" y="3" width="1" height="1" fill="#e6b0b0"/><rect x="40" y="3" width="1" height="1" fill="#f2cccc"/><rect x="43" y="3" width="1" height="1" fill="#c8c8f0"/><rect x="48" y="3" width="1" height="1" fill="#e0a2a2"/><rect x="50" y="3" width="1" height="1" fill="#c2c2ee"/><rect x="56" y="3" width="1" height="1" fill="#d4d4f4"/><rect x="59" y="3" width="1" height="1" fill="#e6b0b0"/><rect x="60" y="3" width="1" height="1" fill="#f2cccc"/><rect x="61" y="3" width="1" height="1" fill="#e0a2a2"/><rect x="62" y="3" width="1" height="1" fill="#bcbcec"/><rect x="65" y="3" width="1" height="1" fill="#e0a2a2"/><rect x="66" y="3" width="1" height="1" fill="#ecbebe"/><rect x="67" y="3" width="1" height="1" fill="#ecbebe"/><rect x="68" y="3" width="1" height="1" fill="#bcbcec"/><rect x="72" y="3" width="1" height="1" fill="#c8c8f0"/><rect x="74" y="3" width="1" height="1" fill="#bcbcec"/><rect x="76" y="3" width="1" height="1" fill="#e6b0b0"/><rect x="77" y="3" width="1" height="1" fill="#e0a2a2"/><rect x="78" y="3" width="1" height="1" fill="#c8c8f0"/><rect x="79" y="3" width="1" height="1" fill="#eab8b8"/><rect x="81" y="3" width="1" height="1" fill="#bcbcec"/><rect x="82" y="3" width="1" height="1" fill="#bcbcec"/><rect x="0" y="4" width="1" height="1" fill="#bcbcec"/><rect x="2" y="4" width="1" height="1" fill="#d4d4f4"/><rect x="3" y="4" width="1" height="1" fill="#ecbebe"/><rect x="4" y="4" width="1" height="1" fill="#eab8b8"/><rect x="5" y="4" width="1" height="1" fill="#d4d4f4"/><rect x="6" y="4" width="1" height="1" fill="#c8c8f0"/><rect x="8" y="4" width="1" height="1" fill="#eab8b8"/><rect x="9" y="4" width="1" height="1" fill="#eab8b8"/><rect x="11" y="4" width="1" height="1" fill="#e6b0b0"/><rect x="12" y="4" width="1" height="1" fill="#c8c8f0"/><rect x="13" y="4" width="1" height="1" fill="#e6b0b0"/><rect x="14" y="4" width="1" height="1" fill="#bcbcec"/><rect x="15" y="4" width="1" height="1" fill="#eab8b8"/><rect x="17" y="4" width="1" height="1" fill="#bcbcec"/><rect x="18" y="4" width="1" height="1" fill="#c2c2ee"/><rect x="19" y="4" width="1" height="1" fill="#c2c2ee"/><rect x="21" y="4" width="1" height="1" fill="#c8c8f0"/><rect x="22" y="4" width="1" height="1" fill="#e0a2a2"/><rect x="23" y="4" width="1" height="1" fill="#ecbebe"/><rect x="24" y="4" width="1" height="1" fill="#d4d4f4"/><rect x="26" y="4" width="1" height="1" fill="#e0a2a2"/><rect x="27" y="4" width="1" height="1" fill="#c2c2ee"/><rect x="29" y="4" width="1" height="1" fill="#e0a2a2"/><rect x="35" y="4" width="1" height="1" fill="#bcbcec"/><rect x="36" y="4" width="1" height="1" fill="#c8c8f0"/><rect x="37" y="4" width="1" height="1" fill="#eab8b8"/><rect x="38" y="4" width="1" height="1" fill="#e6b0b0"/><rect x="40" y="4" width="1" height="1" fill="#e0a2a2"/><rect x="42" y="4" width="1" height="1" fill="#bcbcec"/><rect x="43" y="4" width="1" height="1" fill="#f2cccc"/><rect x="44" y="4" width="1" height="1" fill="#e0a2a2"/><rect x="46" y="4" width="1" height="1" fill="#f2cccc"/><rect x="48" y="4" width="1" height="1" fill="#e6b0b0"/><rect x="49" y="4" width="1" height="1" fill="#d4d4f4"/><rect x="51" y="4" width="1" height="1" fill="#bcbcec"/><rect x="52" y="4" width="1" height="1" fill="#e6b0b0"/><rect x="53" y="4" width="1" height="1" fill="#e6b0b0"/><rect x="54" y="4" width="1" height="1" fill="#f2cccc"/><rect x="56" y="4" width="1" height="1" fill="#bcbcec"/><rect x="59" y="4" width="1" height="1" fill="#ecbebe"/><rect x="60" y="4" width="1" height="1" fill="#eab8b8"/><rect x="61" y="4" width="1" height="1" fill="#eab8b8"/><rect x="62" y="4" width="1" height="1" fill="#eab8b8"/><rect x="63" y="4" width="1" height="1" fill="#bcbcec"/><rect x="64" y="4" width="1" height="1" fill="#c8c8f0"/><rect x="65" y="4" width="1" height="1" fill="#c8c8f0"/><rect x="68" y="4" width="1" height="1" fill="#c2c2ee"/><rect x="69" y="4" width="1" height="1" fill="#d4d4f4"/><rect x="70" y="4" width="1" height="1" fill="#d4d4f4"/><rect x="71" y="4" width="1" height="1" fill="#bcbcec"/><rect x="72" y="4" width="1" height="1" fill="#e0a2a2"/><rect x="73" y="4" width="1" height="1" fill="#bcbcec"/><rect x="74" y="4" width="1" height="1" fill="#c2c2ee"/><rect x="75" y="4" width="1" height="1" fill="#c8c8f0"/><rect x="76" y="4" width="1" height="1" fill="#eab8b8"/><rect x="77" y="4" width="1" height="1" fill="#c2c2ee"/><rect x="80" y="4" width="1" height="1" fill="#bcbcec"/><rect x="82" y="4" width="1" height="1" fill="#f2cccc"/><rect x="4" y="5" width="1" height="1" fill="#e6b0b0"/><rect x="5" y="5" width="1" height="1" fill="#e0a2a2"/><rect x="6" y="5" width="1" height="1" fill="#c8c8f0"/><rect x="7" y="5" width="1" height="1" fill="#e0a2a2"/><rect x="8" y="5" width="1" height="1" fill="#e0a2a2"/><rect x="10" y="5" width="1" height="1" fill="#c2c2ee"/><rect x="11" y="5" width="1" height="1" fill="#bcbcec"/><rect x="12" y="5" width="1" height="1" fill="#bcbcec"/><rect x="13" y="5" width="1" height="1" fill="#d4d4f4"/><rect x="14" y="5" width="1" height="1" fill="#e0a2a2"/><rect x="15" y="5" width="1" height="1" fill="#bcbcec"/><rect x="16" y="5" width="1" height="1" fill="#bcbcec"/><rect x="17" y="5" width="1" height="1" fill="#f2cccc"/><rect x="18" y="5" width="1" height="1" fill="#e0a2a2"/><rect x="19" y="5" width="1" height="1" fill="#c2c2ee"/><rect x="20" y="5" width="1" height="1" fill="#bcbcec"/><rect x="21" y="5" width="1" height="1" fill="#f2cccc"/><rect x="22" y="5" width="1" height="1" fill="#bcbcec"/><rect x="24" y="5" width="1" height="1" fill="#f2cccc"/><rect x="25" y="5" width="1" height="1" fill="#e6b0b0"/><rect x="28" y="5" width="1" height="1" fill="#c2c2ee"/><rect x="29" y="5" width="1" height="1" fill="#eab8b8"/><rect x="31" y="5" width="1" height="1" fill="#e6b0b0"/><rect x="32" y="5" width="1" height="1" fill="#f2cccc"/><rect x="33" y="5" width="1" height="1" fill="#e6b0b0"/><rect x="34" y="5" width="1" height="1" fill="#e0a2a2"/><rect x="36" y="5" width="1" height="1" fill="#c2c2ee"/><rect x="37" y="5" width="1" height="1" fill="#f2cccc"/><rect x="38" y="5" width="1" height="1" fill="#eab8b8"/><rect x="39" y="5" width="1" height="1" fill="#c2c2ee"/><rect x="40" y="5" width="1" height="1" fill="#c8c8f0"/><rect x="42" y="5" width="1" height="1" fill="#d4d4f4"/><rect x="43" y="5" width="1" height="1" fill="#e0a2a2"/><rect x="44" y="5" width="1" height="1" fill="#e0a2a2"/><rect x="46" y="5" width="1" height="1" fill="#e0a2a2"/><rect x="47" y="5" width="1" height="1" fill="#e6b0b0"/><rect x="48" y="5" width="1" height="1" fill="#bcbcec"/><rect x="49" y="5" width="1" height="1" fill="#d4d4f4"/><rect x="51" y="5" width="1" height="1" fill="#ecbebe"/><rect x="53" y="5" width="1" height="1" fill="#eab8b8"/><rect x="54" y="5" width="1" height="1" fill="#c8c8f0"/><rect x="55" y="5" width="1" height="1" fill="#f2cccc"/><rect x="56" y="5" width="1" height="1" fill="#bcbcec"/><rect x="58" y="5" width="1" height="1" fill="#d4d4f4"/><rect x="59" y="5" width="1" height="1" fill="#c8c8f0"/><rect x="61" y="5" width="1" height="1" fill="#ecbebe"/><rect x="64" y="5" width="1" height="1" fill="#e6b0b0"/><rect x="66" y="5" width="1" height="1" fill="#ecbebe"/><rect x="67" y="5" width="1" height="1" fill="#f2cccc"/><rect x="69" y="5" width="1" height="1" fill="#c2c2ee"/><rect x="70" y="5" width="1" height="1" fill="#c8c8f0"/><rect x="72" y="5" width="1" height="1" fill="#ecbebe"/><rect x="74" y="5" width="1" height="1" fill="#bcbcec"/><rect x="77" y="5" width="1" height="1" fill="#d4d4f4"/><rect x="78" y="5" width="1" height="1" fill="#eab8b8"/><rect x="79" y="5" width="1" height="1" fill="#e6b0b0"/><rect x="3" y="6" width="1" height="1" fill="#e0a2a2"/><rect x="4" y="6" width="1" height="1" fill="#c8c8f0"/><rect x="5" y="6" width="1" height="1" fill="#e0a2a2"/><rect x="6" y="6" width="1" height="1" fill="#f2cccc"/><rect x="7" y="6" width="1" height="1" fill="#bcbcec"/><rect x="8" y="6" width="1" height="1" fill="#bcbcec"/><rect x="12" y="6" width="1" height="1" fill="#d4d4f4"/><rect x="13" y="6" width="1" height="1" fill="#c2c2ee"/><rect x="14" y="6" width="1" height="1" fill="#f2cccc"/><rect x="15" y="6" width="1" height="1" fill="#e6b0b0"/><rect x="16" y="6" width="1" height="1" fill="#bcbcec"/><rect x="17" y="6" width="1" height="1" fill="#ecbebe"/><rect x="20" y="6" width="1" height="1" fill="#f2cccc"/><rect x="21" y="6" width="1" height="1" fill="#c2c2ee"/><rect x="23" y="6" width="1" height="1" fill="#bcbcec"/><rect x="24" y="6" width="1" height="1" fill="#d4d4f4"/><rect x="26" y="6" width="1" height="1" fill="#ecbebe"/><rect x="27" y="6" width="1" height="1" fill="#e0a2a2"/><rect x="28" y="6" width="1" height="1" fill="#e6b0b0"/><rect x="29" y="6" width="1" height="1" fill="#bcbcec"/><rect x="30" y="6" width="1" height="1" fill="#c8c8f0"/><rect x="31" y="6" width="1" height="1" fill="#e6b0b0"/><rect x="33" y="6" width="1" height="1" fill="#eab8b8"/><rect x="34" y="6" width="1" height="1" fill="#eab8b8"/><rect x="37" y="6" width="1" height="1" fill="#c2c2ee"/><rect x="38" y="6" width="1" height="1" fill="#ecbebe"/><rect x="40" y="6" width="1" height="1" fill="#ecbebe"/><rect x="42" y="6" width="1" height="1" fill="#e6b0b0"/><rect x="43" y="6" width="1" height="1" fill="#eab8b8"/><rect x="44" y="6" width="1" height="1" fill="#c2c2ee"/><rect x="45" y="6" width="1" height="1" fill="#c2c2ee"/><rect x="46" y="6" width="1" height="1" fill="#eab8b8"/><rect x="47" y="6" width="1" height="1" fill="#e0a2a2"/><rect x="49" y="6" width="1" height="1" fill="#d4d4f4"/><rect x="51" y="6" width="1" height="1" fill="#f2cccc"/><rect x="52" y="6" width="1" height="1" fill="#e6b0b0"/><rect x="53" y="6" width="1" height="1" fill="#e6b0b0"/><rect x="54" y="6" width="1" height="1" fill="#f2cccc"/><rect x="55" y="6" width="1" height="1" fill="#e0a2a2"/><rect x="56" y="6" width="1" height="1" fill="#eab8b8"/><rect x="59" y="6" width="1" height="1" fill="#eab8b8"/><rect x="60" y="6" width="1" height="1" fill="#e6b0b0"/><rect x="61" y="6" width="1" height="1" fill="#c8c8f0"/><rect x="64" y="6" width="1" height="1" fill="#c8c8f0"/><rect x="65" y="6" width="1" height="1" fill="#c8c8f0"/><rect x="66" y="6" width="1" height="1" fill="#c2c2ee"/><rect x="67" y="6" width="1" height="1" fill="#e0a2a2"/><rect x="68" y="6" width="1" height="1" fill="#e0a2a2"/><rect x="69" y="6" width="1" height="1" fill="#c8c8f0"/><rect x="70" y="6" width="1" height="1" fill="#e0a2a2"/><rect x="71" y="6" width="1" height="1" fill="#d4d4f4"/><rect x="72" y="6" width="1" height="1" fill="#f2cccc"/><rect x="74" y="6" width="1" height="1" fill="#c2c2ee"/><rect x="75" y="6" width="1" height="1" fill="#c2c2ee"/><rect x="76" y="6" width="1" height="1" fill="#bcbcec"/><rect x="79" y="6" width="1" height="1" fill="#ecbebe"/><rect x="81" y="6" width="1" height="1" fill="#eab8b8"/><rect x="82" y="6" width="1" height="1" fill="#f2cccc"/><rect x="1" y="7" width="1" height="1" fill="#c2c2ee"/><rect x="3" y="7" width="1" height="1" fill="#c8c8f0"/><rect x="5" y="7" width="1" height="1" fill="#f2cccc"/><rect x="6" y="7" width="1" height="1" fill="#bcbcec"/><rect x="8" y="7" width="1" height="1" fill="#c8c8f0"/><rect x="10" y="7" width="1" height="1" fill="#e6b0b0"/><rect x="11" y="7" width="1" height="1" fill="#bcbcec"/><rect x="12" y="7" width="1" height="1" fill="#f2cccc"/><rect x="17" y="7" width="1" height="1" fill="#e6b0b0"/><rect x="18" y="7" width="1" height="1" fill="#f2cccc"/><rect x="19" y="7" width="1" height="1" fill="#d4d4f4"/><rect x="20" y="7" width="1" height="1" fill="#bcbcec"/><rect x="22" y="7" width="1" height="1" fill="#bcbcec"/><rect x="23" y="7" width="1" height="1" fill="#eab8b8"/><rect x="24" y="7" width="1" height="1" fill="#ecbebe"/><rect x="26" y="7" width="1" height="1" fill="#eab8b8"/><rect x="27" y="7" width="1" height="1" fill="#d4d4f4"/><rect x="29" y="7" width="1" height="1" fill="#e0a2a2"/><rect x="30" y="7" width="1" height="1" fill="#c2c2ee"/><rect x="32" y="7" width="1" height="1" fill="#e0a2a2"/><rect x="34" y="7" width="1" height="1" fill="#bcbcec"/><rect x="35" y="7" width="1" height="1" fill="#f2cccc"/><rect x="36" y="7" width="1" height="1" fill="#eab8b8"/><rect x="37" y="7" width="1" height="1" fill="#e6b0b0"/><rect x="38" y="7" width="1" height="1" fill="#ecbebe"/><rect x="41" y="7" width="1" height="1" fill="#bcbcec"/><rect x="42" y="7" width="1" height="1" fill="#eab8b8"/><rect x="43" y="7" width="1" height="1" fill="#c8c8f0"/><rect x="45" y="7" width="1" height="1" fill="#c8c8f0"/><rect x="47" y="7" width="1" height="1" fill="#bcbcec"/><rect x="48" y="7" width="1" height="1" fill="#e6b0b0"/><rect x="49" y="7" width="1" height="1" fill="#c8c8f0"/><rect x="50" y="7" width="1" height="1" fill="#c2c2ee"/><rect x="52" y="7" width="1" height="1" fill="#f2cccc"/><rect x="56" y="7" width="1" height="1" fill="#eab8b8"/><rect x="57" y="7" width="1" height="1" fill="#c8c8f0"/><rect x="58" y="7" width="1" height="1" fill="#e6b0b0"/><rect x="59" y="7" width="1" height="1" fill="#f2cccc"/><rect x="60" y="7" width="1" height="1" fill="#e0a2a2"/><rect x="61" y="7" width="1" height="1" fill="#bcbcec"/><rect x="62" y="7" width="1" height="1" fill="#ecbebe"/><rect x="64" y="7" width="1" height="1" fill="#bcbcec"/><rect x="65" y="7" width="1" height="1" fill="#ecbebe"/><rect x="66" y="7" width="1" height="1" fill="#c2c2ee"/><rect x="67" y="7" width="1" height="1" fill="#e0a2a2"/><rect x="68" y="7" width="1" height="1" fill="#f2cccc"/><rect x="69" y="7" width="1" height="1" fill="#e0a2a2"/><rect x="70" y="7" width="1" height="1" fill="#eab8b8"/><rect x="72" y="7" width="1" height="1" fill="#f2cccc"/><rect x="73" y="7" width="1" height="1" fill="#ecbebe"/><rect x="74" y="7" width="1" height="1" fill="#e0a2a2"/><rect x="75" y="7" width="1" height="1" fill="#eab8b8"/><rect x="76" y="7" width="1" height="1" fill="#e0a2a2"/><rect x="80" y="7" width="1" height="1" fill="#e6b0b0"/><rect x="81" y="7" width="1" height="1" fill="#d4d4f4"/><rect x="82" y="7" width="1" height="1" fill="#eab8b8"/><rect x="0" y="8" width="1" height="1" fill="#eab8b8"/><rect x="3" y="8" width="1" height="1" fill="#e0a2a2"/><rect x="4" y="8" width="1" height="1" fill="#ecbebe"/><rect x="5" y="8" width="1" height="1" fill="#c2c2ee"/><rect x="7" y="8" width="1" height="1" fill="#ecbebe"/><rect x="8" y="8" width="1" height="1" fill="#d4d4f4"/><rect x="9" y="8" width="1" height="1" fill="#d4d4f4"/><rect x="11" y="8" width="1" height="1" fill="#eab8b8"/><rect x="12" y="8" width="1" height="1" fill="#c8c8f0"/><rect x="13" y="8" width="1" height="1" fill="#c8c8f0"/><rect x="15" y="8" width="1" height="1" fill="#c8c8f0"/><rect x="16" y="8" width="1" height="1" fill="#e6b0b0"/><rect x="17" y="8" width="1" height="1" fill="#c8c8f0"/><rect x="18" y="8" width="1" height="1" fill="#d4d4f4"/><rect x="20" y="8" width="1" height="1" fill="#c2c2ee"/><rect x="21" y="8" width="1" height="1" fill="#bcbcec"/><rect x="22" y="8" width="1" height="1" fill="#ecbebe"/><rect x="23" y="8" width="1" height="1" fill="#ecbebe"/><rect x="26" y="8" width="1" height="1" fill="#e0a2a2"/><rect x="27" y="8" width="1" height="1" fill="#e6b0b0"/><rect x="29" y="8" width="1" height="1" fill="#e6b0b0"/><rect x="31" y="8" width="1" height="1" fill="#eab8b8"/><rect x="33" y="8" width="1" height="1" fill="#e0a2a2"/><rect x="34" y="8" width="1" height="1" fill="#f2cccc"/><rect x="35" y="8" width="1" height="1" fill="#d4d4f4"/><rect x="38" y="8" width="1" height="1" fill="#c2c2ee"/><rect x="40" y="8" width="1" height="1" fill="#c2c2ee"/><rect x="41" y="8" width="1" height="1" fill="#eab8b8"/><rect x="42" y="8" width="1" height="1" fill="#e6b0b0"/><rect x="43" y="8" width="1" height="1" fill="#c2c2ee"/><rect x="44" y="8" width="1" height="1" fill="#f2cccc"/><rect x="46" y="8" width="1" height="1" fill="#e6b0b0"/><rect x="49" y="8" width="1" height="1" fill="#bcbcec"/><rect x="53" y="8" width="1" height="1" fill="#d4d4f4"/><rect x="54" y="8" width="1" height="1" fill="#eab8b8"/><rect x="57" y="8" width="1" height="1" fill="#ecbebe"/><rect x="58" y="8" width="1" height="1" fill="#bcbcec"/><rect x="60" y="8" width="1" height="1" fill="#bcbcec"/><rect x="61" y="8" width="1" height="1" fill="#e0a2a2"/><rect x="63" y="8" width="1" height="1" fill="#f2cccc"/><rect x="64" y="8" width="1" height="1" fill="#d4d4f4"/><rect x="65" y="8" width="1" height="1" fill="#c8c8f0"/><rect x="67" y="8" width="1" height="1" fill="#ecbebe"/><rect x="68" y="8" width="1" height="1" fill="#f2cccc"/><rect x="69" y="8" width="1" height="1" fill="#ecbebe"/><rect x="70" y="8" width="1" height="1" fill="#c8c8f0"/><rect x="71" y="8" width="1" height="1" fill="#f2cccc"/><rect x="72" y="8" width="1" height="1" fill="#c8c8f0"/><rect x="73" y="8" width="1" height="1" fill="#e0a2a2"/><rect x="74" y="8" width="1" height="1" fill="#f2cccc"/><rect x="75" y="8" width="1" height="1" fill="#bcbcec"/><rect x="81" y="8" width="1" height="1" fill="#d4d4f4"/><rect x="0" y="9" width="1" height="1" fill="#c8c8f0"/><rect x="1" y="9" width="1" height="1" fill="#c8c8f0"/><rect x="2" y="9" width="1" height="1" fill="#c8c8f0"/><rect x="3" y="9" width="1" height="1" fill="#bcbcec"/><rect x="6" y="9" width="1" height="1" fill="#e0a2a2"/><rect x="7" y="9" width="1" height="1" fill="#eab8b8"/><rect x="8" y="9" width="1" height="1" fill="#f2cccc"/><rect x="9" y="9" width="1" height="1" fill="#c2c2ee"/><rect x="10" y="9" width="1" height="1" fill="#e0a2a2"/><rect x="11" y="9" width="1" height="1" fill="#eab8b8"/><rect x="12" y="9" width="1" height="1" fill="#c8c8f0"/><rect x="13" y="9" width="1" height="1" fill="#eab8b8"/><rect x="14" y="9" width="1" height="1" fill="#bcbcec"/><rect x="15" y="9" width="1" height="1" fill="#bcbcec"/><rect x="16" y="9" width="1" height="1" fill="#e6b0b0"/><rect x="17" y="9" width="1" height="1" fill="#ecbebe"/><rect x="19" y="9" width="1" height="1" fill="#e6b0b0"/><rect x="20" y="9" width="1" height="1" fill="#f2cccc"/><rect x="21" y="9" width="1" height="1" fill="#ecbebe"/><rect x="22" y="9" width="1" height="1" fill="#ecbebe"/><rect x="23" y="9" width="1" height="1" fill="#e6b0b0"/><rect x="24" y="9" width="1" height="1" fill="#d4d4f4"/><rect x="25" y="9" width="1" height="1" fill="#f2cccc"/><rect x="27" y="9" width="1" height="1" fill="#bcbcec"/><rect x="31" y="9" width="1" height="1" fill="#d4d4f4"/><rect x="32" y="9" width="1" height="1" fill="#d4d4f4"/><rect x="34" y="9" width="1" height="1" fill="#ecbebe"/><rect x="35" y="9" width="1" height="1" fill="#d4d4f4"/><rect x="37" y="9" width="1" height="1" fill="#f2cccc"/><rect x="41" y="9" width="1" height="1" fill="#c8c8f0"/><rect x="42" y="9" width="1" height="1" fill="#e0a2a2"/><rect x="43" y="9" width="1" height="1" fill="#e0a2a2"/><rect x="45" y="9" width="1" height="1" fill="#f2cccc"/><rect x="46" y="9" width="1" height="1" fill="#e6b0b0"/><rect x="48" y="9" width="1" height="1" fill="#c2c2ee"/><rect x="49" y="9" width="1" height="1" fill="#e6b0b0"/><rect x="50" y="9" width="1" height="1" fill="#ecbebe"/><rect x="51" y="9" width="1" height="1" fill="#d4d4f4"/><rect x="53" y="9" width="1" height="1" fill="#eab8b8"/><rect x="54" y="9" width="1" height="1" fill="#eab8b8"/><rect x="55" y="9" width="1" height="1" fill="#c2c2ee"/><rect x="56" y="9" width="1" height="1" fill="#eab8b8"/><rect x="58" y="9" width="1" height="1" fill="#d4d4f4"/><rect x="59" y="9" width="1" height="1" fill="#f2cccc"/><rect x="60" y="9" width="1" height="1" fill="#c8c8f0"/><rect x="61" y="9" width="1" height="1" fill="#eab8b8"/><rect x="65" y="9" width="1" height="1" fill="#c2c2ee"/><rect x="66" y="9" width="1" height="1" fill="#e0a2a2"/><rect x="67" y="9" width="1" height="1" fill="#d4d4f4"/><rect x="68" y="9" width="1" height="1" fill="#ecbebe"/><rect x="69" y="9" width="1" height="1" fill="#d4d4f4"/><rect x="70" y="9" width="1" height="1" fill="#eab8b8"/><rect x="71" y="9" width="1" height="1" fill="#e0a2a2"/><rect x="72" y="9" width="1" height="1" fill="#d4d4f4"/><rect x="76" y="9" width="1" height="1" fill="#bcbcec"/><rect x="82" y="9" width="1" height="1" fill="#e6b0b0"/><rect x="0" y="10" width="1" height="1" fill="#d4d4f4"/><rect x="1" y="10" width="1" height="1" fill="#c8c8f0"/><rect x="3" y="10" width="1" height="1" fill="#c2c2ee"/><rect x="4" y="10" width="1" height="1" fill="#d4d4f4"/><rect x="7" y="10" width="1" height="1" fill="#e0a2a2"/><rect x="11" y="10" width="1" height="1" fill="#c2c2ee"/><rect x="12" y="10" width="1" height="1" fill="#e6b0b0"/><rect x="13" y="10" width="1" height="1" fill="#eab8b8"/><rect x="16" y="10" width="1" height="1" fill="#e6b0b0"/><rect x="17" y="10" width="1" height="1" fill="#c8c8f0"/><rect x="18" y="10" width="1" height="1" fill="#d4d4f4"/><rect x="19" y="10" width="1" height="1" fill="#c8c8f0"/><rect x="20" y="10" width="1" height="1" fill="#e0a2a2"/><rect x="21" y="10" width="1" height="1" fill="#c8c8f0"/><rect x="22" y="10" width="1" height="1" fill="#eab8b8"/><rect x="23" y="10" width="1" height="1" fill="#ecbebe"/><rect x="24" y="10" width="1" height="1" fill="#eab8b8"/><rect x="25" y="10" width="1" height="1" fill="#c2c2ee"/><rect x="27" y="10" width="1" height="1" fill="#e0a2a2"/><rect x="29" y="10" width="1" height="1" fill="#c2c2ee"/><rect x="31" y="10" width="1" height="1" fill="#ecbebe"/><rect x="32" y="10" width="1" height="1" fill="#d4d4f4"/><rect x="34" y="10" width="1" height="1" fill="#ecbebe"/><rect x="36" y="10" width="1" height="1" fill="#c2c2ee"/><rect x="37" y="10" width="1" height="1" fill="#c8c8f0"/><rect x="38" y="10" width="1" height="1" fill="#eab8b8"/><rect x="39" y="10" width="1" height="1" fill="#c2c2ee"/><rect x="40" y="10" width="1" height="1" fill="#e6b0b0"/><rect x="42" y="10" width="1" height="1" fill="#eab8b8"/><rect x="43" y="10" width="1" height="1" fill="#c2c2ee"/><rect x="44" y="10" width="1" height="1" fill="#c2c2ee"/><rect x="45" y="10" width="1" height="1" fill="#c2c2ee"/><rect x="50" y="10" width="1" height="1" fill="#eab8b8"/><rect x="51" y="10" width="1" height="1" fill="#bcbcec"/><rect x="52" y="10" width="1" height="1" fill="#c2c2ee"/><rect x="53" y="10" width="1" height="1" fill="#e0a2a2"/><rect x="54" y="10" width="1" height="1" fill="#f2cccc"/><rect x="56" y="10" width="1" height="1" fill="#c2c2ee"/><rect x="59" y="10" width="1" height="1" fill="#c8c8f0"/><rect x="61" y="10" width="1" height="1" fill="#f2cccc"/><rect x="62" y="10" width="1" height="1" fill="#f2cccc"/><rect x="63" y="10" width="1" height="1" fill="#e0a2a2"/><rect x="64" y="10" width="1" height="1" fill="#eab8b8"/><rect x="65" y="10" width="1" height="1" fill="#e6b0b0"/><rect x="67" y="10" width="1" height="1" fill="#bcbcec"/><rect x="69" y="10" width="1" height="1" fill="#c2c2ee"/><rect x="70" y="10" width="1" height="1" fill="#ecbebe"/><rect x="71" y="10" width="1" height="1" fill="#c8c8f0"/><rect x="72" y="10" width="1" height="1" fill="#e0a2a2"/><rect x="73" y="10" width="1" height="1" fill="#d4d4f4"/><rect x="77" y="10" width="1" height="1" fill="#eab8b8"/><rect x="78" y="10" width="1" height="1" fill="#d4d4f4"/><rect x="79" y="10" width="1" height="1" fill="#f2cccc"/><rect x="80" y="10" width="1" height="1" fill="#bcbcec"/><rect x="81" y="10" width="1" height="1" fill="#eab8b8"/><rect x="82" y="10" width="1" height="1" fill="#e0a2a2"/><rect x="1" y="11" width="1" height="1" fill="#bcbcec"/><rect x="2" y="11" width="1" height="1" fill="#ecbebe"/><rect x="4" y="11" width="1" height="1" fill="#e0a2a2"/><rect x="5" y="11" width="1" height="1" fill="#d4d4f4"/><rect x="7" y="11" width="1" height="1" fill="#d4d4f4"/><rect x="12" y="11" width="1" height="1" fill="#d4d4f4"/><rect x="13" y="11" width="1" height="1" fill="#d4d4f4"/><rect x="14" y="11" width="1" height="1" fill="#c2c2ee"/><rect x="15" y="11" width="1" height="1" fill="#bcbcec"/><rect x="16" y="11" width="1" height="1" fill="#f2cccc"/><rect x="18" y="11" width="1" height="1" fill="#e0a2a2"/><rect x="20" y="11" width="1" height="1" fill="#c8c8f0"/><rect x="21" y="11" width="1" height="1" fill="#c2c2ee"/><rect x="22" y="11" width="1" height="1" fill="#ecbebe"/><rect x="23" y="11" width="1" height="1" fill="#c8c8f0"/><rect x="26" y="11" width="1" height="1" fill="#bcbcec"/><rect x="27" y="11" width="1" height="1" fill="#ecbebe"/><rect x="28" y="11" width="1" height="1" fill="#ecbebe"/><rect x="29" y="11" width="1" height="1" fill="#e6b0b0"/><rect x="30" y="11" width="1" height="1" fill="#ecbebe"/><rect x="31" y="11" width="1" height="1" fill="#eab8b8"/><rect x="33" y="11" width="1" height="1" fill="#e0a2a2"/><rect x="34" y="11" width="1" height="1" fill="#eab8b8"/><rect x="35" y="11" width="1" height="1" fill="#f2cccc"/><rect x="36" y="11" width="1" height="1" fill="#c8c8f0"/><rect x="38" y="11" width="1" height="1" fill="#eab8b8"/><rect x="42" y="11" width="1" height="1" fill="#e6b0b0"/><rect x="47" y="11" width="1" height="1" fill="#f2cccc"/><rect x="48" y="11" width="1" height="1" fill="#f2cccc"/><rect x="49" y="11" width="1" height="1" fill="#ecbebe"/><rect x="50" y="11" width="1" height="1" fill="#c8c8f0"/><rect x="51" y="11" width="1" height="1" fill="#c8c8f0"/><rect x="52" y="11" width="1" height="1" fill="#e6b0b0"/><rect x="54" y="11" width="1" height="1" fill="#d4d4f4"/><rect x="57" y="11" width="1" height="1" fill="#e6b0b0"/><rect x="58" y="11" width="1" height="1" fill="#d4d4f4"/><rect x="59" y="11" width="1" height="1" fill="#bcbcec"/><rect x="60" y="11" width="1" height="1" fill="#c8c8f0"/><rect x="61" y="11" width="1" height="1" fill="#c8c8f0"/><rect x="69" y="11" width="1" height="1" fill="#c8c8f0"/><rect x="71" y="11" width="1" height="1" fill="#e6b0b0"/><rect x="72" y="11" width="1" height="1" fill="#f2cccc"/><rect x="73" y="11" width="1" height="1" fill="#c8c8f0"/><rect x="74" y="11" width="1" height="1" fill="#ecbebe"/><rect x="78" y="11" width="1" height="1" fill="#ecbebe"/><rect x="79" y="11" width="1" height="1" fill="#f2cccc"/><rect x="80" y="11" width="1" height="1" fill="#eab8b8"/><rect x="81" y="11" width="1" height="1" fill="#eab8b8"/><rect x="0" y="12" width="1" height="1" fill="#e0a2a2"/><rect x="4" y="12" width="1" height="1" fill="#c8c8f0"/><rect x="5" y="12" width="1" height="1" fill="#e0a2a2"/><rect x="6" y="12" width="1" height="1" fill="#bcbcec"/><rect x="9" y="12" width="1" height="1" fill="#e6b0b0"/><rect x="10" y="12" width="1" height="1" fill="#e0a2a2"/><rect x="11" y="12" width="1" height="1" fill="#f2cccc"/><rect x="12" y="12" width="1" height="1" fill="#bcbcec"/><rect x="13" y="12" width="1" height="1" fill="#e0a2a2"/><rect x="14" y="12" width="1" height="1" fill="#eab8b8"/><rect x="16" y="12" width="1" height="1" fill="#c8c8f0"/><rect x="17" y="12" width="1" height="1" fill="#eab8b8"/><rect x="18" y="12" width="1" height="1" fill="#c2c2ee"/><rect x="20" y="12" width="1" height="1" fill="#f2cccc"/><rect x="22" y="12" width="1" height="1" fill="#d4d4f4"/><rect x="24" y="12" width="1" height="1" fill="#f2cccc"/><rect x="25" y="12" width="1" height="1" fill="#bcbcec"/><rect x="28" y="12" width="1" height="1" fill="#ecbebe"/><rect x="31" y="12" width="1" height="1" fill="#c2c2ee"/><rect x="34" y="12" width="1" height="1" fill="#ecbebe"/><rect x="35" y="12" width="1" height="1" fill="#eab8b8"/><rect x="36" y="12" width="1" height="1" fill="#c2c2ee"/><rect x="37" y="12" width="1" height="1" fill="#c8c8f0"/><rect x="38" y="12" width="1" height="1" fill="#eab8b8"/><rect x="39" y="12" width="1" height="1" fill="#eab8b8"/><rect x="40" y="12" width="1" height="1" fill="#ecbebe"/><rect x="43" y="12" width="1" height="1" fill="#e6b0b0"/><rect x="45" y="12" width="1" height="1" fill="#c2c2ee"/><rect x="46" y="12" width="1" height="1" fill="#e0a2a2"/><rect x="47" y="12" width="1" height="1" fill="#bcbcec"/><rect x="48" y="12" width="1" height="1" fill="#c2c2ee"/><rect x="49" y="12" width="1" height="1" fill="#e6b0b0"/><rect x="50" y="12" width="1" height="1" fill="#c8c8f0"/><rect x="51" y="12" width="1" height="1" fill="#f2cccc"/><rect x="53" y="12" width="1" height="1" fill="#c8c8f0"/><rect x="55" y="12" width="1" height="1" fill="#eab8b8"/><rect x="56" y="12" width="1" height="1" fill="#f2cccc"/><rect x="57" y="12" width="1" height="1" fill="#d4d4f4"/><rect x="61" y="12" width="1" height="1" fill="#d4d4f4"/><rect x="62" y="12" width="1" height="1" fill="#c2c2ee"/><rect x="63" y="12" width="1" height="1" fill="#f2cccc"/><rect x="64" y="12" width="1" height="1" fill="#ecbebe"/><rect x="65" y="12" width="1" height="1" fill="#c8c8f0"/><rect x="68" y="12" width="1" height="1" fill="#c2c2ee"/><rect x="70" y="12" width="1" height="1" fill="#c2c2ee"/><rect x="72" y="12" width="1" height="1" fill="#e0a2a2"/><rect x="73" y="12" width="1" height="1" fill="#eab8b8"/><rect x="74" y="12" width="1" height="1" fill="#c2c2ee"/><rect x="76" y="12" width="1" height="1" fill="#bcbcec"/><rect x="78" y="12" width="1" height="1" fill="#e6b0b0"/><rect x="79" y="12" width="1" height="1" fill="#c8c8f0"/><rect x="80" y="12" width="1" height="1" fill="#e0a2a2"/><rect x="81" y="12" width="1" height="1" fill="#ecbebe"/><rect x="82" y="12" width="1" height="1" fill="#ecbebe"/><rect x="0" y="13" width="1" height="1" fill="#d4d4f4"/><rect x="1" y="13" width="1" height="1" fill="#bcbcec"/><rect x="2" y="13" width="1" height="1" fill="#e0a2a2"/><rect x="3" y="13" width="1" height="1" fill="#e6b0b0"/><rect x="5" y="13" width="1" height="1" fill="#e0a2a2"/><rect x="8" y="13" width="1" height="1" fill="#eab8b8"/><rect x="9" y="13" width="1" height="1" fill="#eab8b8"/><rect x="10" y="13" width="1" height="1" fill="#d4d4f4"/><rect x="12" y="13" width="1" height="1" fill="#bcbcec"/><rect x="13" y="13" width="1" height="1" fill="#e6b0b0"/><rect x="14" y="13" width="1" height="1" fill="#e0a2a2"/><rect x="15" y="13" width="1" height="1" fill="#e6b0b0"/><rect x="17" y="13" width="1" height="1" fill="#eab8b8"/><rect x="18" y="13" width="1" height="1" fill="#f2cccc"/><rect x="21" y="13" width="1" height="1" fill="#f2cccc"/><rect x="22" y="13" width="1" height="1" fill="#bcbcec"/><rect x="24" y="13" width="1" height="1" fill="#f2cccc"/><rect x="25" y="13" width="1" height="1" fill="#d4d4f4"/><rect x="26" y="13" width="1" height="1" fill="#c8c8f0"/><rect x="27" y="13" width="1" height="1" fill="#ecbebe"/><rect x="28" y="13" width="1" height="1" fill="#d4d4f4"/><rect x="31" y="13" width="1" height="1" fill="#eab8b8"/><rect x="33" y="13" width="1" height="1" fill="#e0a2a2"/><rect x="34" y="13" width="1" height="1" fill="#e0a2a2"/><rect x="35" y="13" width="1" height="1" fill="#eab8b8"/><rect x="36" y="13" width="1" height="1" fill="#e6b0b0"/><rect x="37" y="13" width="1" height="1" fill="#ecbebe"/><rect x="38" y="13" width="1" height="1" fill="#e6b0b0"/><rect x="39" y="13" width="1" height="1" fill="#f2cccc"/><rect x="40" y="13" width="1" height="1" fill="#c2c2ee"/><rect x="42" y="13" width="1" height="1" fill="#bcbcec"/><rect x="43" y="13" width="1" height="1" fill="#c2c2ee"/><rect x="44" y="13" width="1" height="1" fill="#bcbcec"/><rect x="47" y="13" width="1" height="1" fill="#eab8b8"/><rect x="48" y="13" width="1" height="1" fill="#f2cccc"/><rect x="50" y="13" width="1" height="1" fill="#e6b0b0"/><rect x="51" y="13" width="1" height="1" fill="#bcbcec"/><rect x="52" y="13" width="1" height="1" fill="#ecbebe"/><rect x="53" y="13" width="1" height="1" fill="#e6b0b0"/><rect x="54" y="13" width="1" height="1" fill="#e6b0b0"/><rect x="56" y="13" width="1" height="1" fill="#e0a2a2"/><rect x="57" y="13" width="1" height="1" fill="#bcbcec"/><rect x="59" y="13" width="1" height="1" fill="#ecbebe"/><rect x="61" y="13" width="1" height="1" fill="#c8c8f0"/><rect x="62" y="13" width="1" height="1" fill="#e0a2a2"/><rect x="63" y="13" width="1" height="1" fill="#d4d4f4"/><rect x="66" y="13" width="1" height="1" fill="#c8c8f0"/><rect x="67" y="13" width="1" height="1" fill="#bcbcec"/><rect x="69" y="13" width="1" height="1" fill="#ecbebe"/><rect x="70" y="13" width="1" height="1" fill="#eab8b8"/><rect x="71" y="13" width="1" height="1" fill="#f2cccc"/><rect x="72" y="13" width="1" height="1" fill="#ecbebe"/><rect x="73" y="13" width="1" height="1" fill="#ecbebe"/><rect x="75" y="13" width="1" height="1" fill="#ecbebe"/><rect x="76" y="13" width="1" height="1" fill="#c8c8f0"/><rect x="78" y="13" width="1" height="1" fill="#f2cccc"/><rect x="79" y="13" width="1" height="1" fill="#f2cccc"/><rect x="81" y="13" width="1" height="1" fill="#e0a2a2"/><rect x="0" y="14" width="1" height="1" fill="#f2cccc"/><rect x="2" y="14" width="1" height="1" fill="#c2c2ee"/><rect x="3" y="14" width="1" height="1" fill="#eab8b8"/><rect x="4" y="14" width="1" height="1" fill="#ecbebe"/><rect x="5" y="14" width="1" height="1" fill="#e0a2a2"/><rect x="7" y="14" width="1" height="1" fill="#ecbebe"/><rect x="8" y="14" width="1" height="1" fill="#c8c8f0"/><rect x="9" y="14" width="1" height="1" fill="#f2cccc"/><rect x="10" y="14" width="1" height="1" fill="#e0a2a2"/><rect x="11" y="14" width="1" height="1" fill="#e0a2a2"/><rect x="12" y="14" width="1" height="1" fill="#ecbebe"/><rect x="13" y="14" width="1" height="1" fill="#e0a2a2"/><rect x="15" y="14" width="1" height="1" fill="#c2c2ee"/><rect x="19" y="14" width="1" height="1" fill="#c8c8f0"/><rect x="20" y="14" width="1" height="1" fill="#eab8b8"/><rect x="21" y="14" width="1" height="1" fill="#e0a2a2"/><rect x="22" y="14" width="1" height="1" fill="#c2c2ee"/><rect x="23" y="14" width="1" height="1" fill="#c2c2ee"/><rect x="26" y="14" width="1" height="1" fill="#e0a2a2"/><rect x="28" y="14" width="1" height="1" fill="#e0a2a2"/><rect x="29" y="14" width="1" height="1" fill="#e0a2a2"/><rect x="31" y="14" width="1" height="1" fill="#eab8b8"/><rect x="33" y="14" width="1" height="1" fill="#eab8b8"/><rect x="34" y="14" width="1" height="1" fill="#f2cccc"/><rect x="39" y="14" width="1" height="1" fill="#e0a2a2"/><rect x="40" y="14" width="1" height="1" fill="#d4d4f4"/><rect x="41" y="14" width="1" height="1" fill="#e6b0b0"/><rect x="46" y="14" width="1" height="1" fill="#d4d4f4"/><rect x="47" y="14" width="1" height="1" fill="#c2c2ee"/><rect x="48" y="14" width="1" height="1" fill="#d4d4f4"/><rect x="50" y="14" width="1" height="1" fill="#bcbcec"/><rect x="51" y="14" width="1" height="1" fill="#ecbebe"/><rect x="57" y="14" width="1" height="1" fill="#c8c8f0"/><rect x="58" y="14" width="1" height="1" fill="#e0a2a2"/><rect x="59" y="14" width="1" height="1" fill="#bcbcec"/><rect x="62" y="14" width="1" height="1" fill="#c2c2ee"/><rect x="65" y="14" width="1" height="1" fill="#e0a2a2"/><rect x="67" y="14" width="1" height="1" fill="#e0a2a2"/><rect x="70" y="14" width="1" height="1" fill="#bcbcec"/><rect x="72" y="14" width="1" height="1" fill="#bcbcec"/><rect x="73" y="14" width="1" height="1" fill="#d4d4f4"/><rect x="75" y="14" width="1" height="1" fill="#c2c2ee"/><rect x="80" y="14" width="1" height="1" fill="#bcbcec"/><rect x="82" y="14" width="1" height="1" fill="#f2cccc"/><rect x="2" y="15" width="1" height="1" fill="#bcbcec"/><rect x="3" y="15" width="1" height="1" fill="#d4d4f4"/><rect x="5" y="15" width="1" height="1" fill="#ecbebe"/><rect x="7" y="15" width="1" height="1" fill="#c8c8f0"/><rect x="8" y="15" width="1" height="1" fill="#ecbebe"/><rect x="9" y="15" width="1" height="1" fill="#d4d4f4"/><rect x="10" y="15" width="1" height="1" fill="#e0a2a2"/><rect x="12" y="15" width="1" height="1" fill="#d4d4f4"/><rect x="14" y="15" width="1" height="1" fill="#f2cccc"/><rect x="19" y="15" width="1" height="1" fill="#c8c8f0"/><rect x="20" y="15" width="1" height="1" fill="#bcbcec"/><rect x="22" y="15" width="1" height="1" fill="#bcbcec"/><rect x="23" y="15" width="1" height="1" fill="#f2cccc"/><rect x="24" y="15" width="1" height="1" fill="#ecbebe"/><rect x="26" y="15" width="1" height="1" fill="#f2cccc"/><rect x="27" y="15" width="1" height="1" fill="#eab8b8"/><rect x="31" y="15" width="1" height="1" fill="#eab8b8"/><rect x="33" y="15" width="1" height="1" fill="#eab8b8"/><rect x="34" y="15" width="1" height="1" fill="#e0a2a2"/><rect x="36" y="15" width="1" height="1" fill="#c8c8f0"/><rect x="38" y="15" width="1" height="1" fill="#c8c8f0"/><rect x="39" y="15" width="1" height="1" fill="#d4d4f4"/><rect x="42" y="15" width="1" height="1" fill="#d4d4f4"/><rect x="43" y="15" width="1" height="1" fill="#e6b0b0"/><rect x="45" y="15" width="1" height="1" fill="#c2c2ee"/><rect x="46" y="15" width="1" height="1" fill="#d4d4f4"/><rect x="49" y="15" width="1" height="1" fill="#ecbebe"/><rect x="50" y="15" width="1" height="1" fill="#eab8b8"/><rect x="51" y="15" width="1" height="1" fill="#f2cccc"/><rect x="52" y="15" width="1" height="1" fill="#ecbebe"/><rect x="53" y="15" width="1" height="1" fill="#c8c8f0"/><rect x="54" y="15" width="1" height="1" fill="#e6b0b0"/><rect x="55" y="15" width="1" height="1" fill="#e0a2a2"/><rect x="58" y="15" width="1" height="1" fill="#bcbcec"/><rect x="59" y="15" width="1" height="1" fill="#c8c8f0"/><rect x="61" y="15" width="1" height="1" fill="#c8c8f0"/><rect x="62" y="15" width="1" height="1" fill="#e6b0b0"/><rect x="63" y="15" width="1" height="1" fill="#e0a2a2"/><rect x="64" y="15" width="1" height="1" fill="#ecbebe"/><rect x="65" y="15" width="1" height="1" fill="#d4d4f4"/><rect x="66" y="15" width="1" height="1" fill="#e0a2a2"/><rect x="69" y="15" width="1" height="1" fill="#f2cccc"/><rect x="70" y="15" width="1" height="1" fill="#f2cccc"/><rect x="71" y="15" width="1" height="1" fill="#ecbebe"/><rect x="75" y="15" width="1" height="1" fill="#e0a2a2"/><rect x="77" y="15" width="1" height="1" fill="#e0a2a2"/><rect x="78" y="15" width="1" height="1" fill="#ecbebe"/><rect x="79" y="15" width="1" height="1" fill="#f2cccc"/><rect x="0" y="16" width="1" height="1" fill="#e0a2a2"/><rect x="1" y="16" width="1" height="1" fill="#bcbcec"/><rect x="4" y="16" width="1" height="1" fill="#bcbcec"/><rect x="5" y="16" width="1" height="1" fill="#e0a2a2"/><rect x="6" y="16" width="1" height="1" fill="#e0a2a2"/><rect x="9" y="16" width="1" height="1" fill="#d4d4f4"/><rect x="10" y="16" width="1" height="1" fill="#bcbcec"/><rect x="11" y="16" width="1" height="1" fill="#ecbebe"/><rect x="13" y="16" width="1" height="1" fill="#c2c2ee"/><rect x="14" y="16" width="1" height="1" fill="#c8c8f0"/><rect x="15" y="16" width="1" height="1" fill="#c2c2ee"/><rect x="17" y="16" width="1" height="1" fill="#c8c8f0"/><rect x="18" y="16" width="1" height="1" fill="#c2c2ee"/><rect x="19" y="16" width="1" height="1" fill="#c8c8f0"/><rect x="20" y="16" width="1" height="1" fill="#e6b0b0"/><rect x="21" y="16" width="1" height="1" fill="#e6b0b0"/><rect x="22" y="16" width="1" height="1" fill="#bcbcec"/><rect x="23" y="16" width="1" height="1" fill="#ecbebe"/><rect x="24" y="16" width="1" height="1" fill="#ecbebe"/><rect x="25" y="16" width="1" height="1" fill="#eab8b8"/><rect x="26" y="16" width="1" height="1" fill="#d4d4f4"/><rect x="27" y="16" width="1" height="1" fill="#e6b0b0"/><rect x="29" y="16" width="1" height="1" fill="#ecbebe"/><rect x="30" y="16" width="1" height="1" fill="#bcbcec"/><rect x="31" y="16" width="1" height="1" fill="#e6b0b0"/><rect x="33" y="16" width="1" height="1" fill="#ecbebe"/><rect x="37" y="16" width="1" height="1" fill="#d4d4f4"/><rect x="38" y="16" width="1" height="1" fill="#e0a2a2"/><rect x="41" y="16" width="1" height="1" fill="#ecbebe"/><rect x="42" y="16" width="1" height="1" fill="#eab8b8"/><rect x="44" y="16" width="1" height="1" fill="#bcbcec"/><rect x="45" y="16" width="1" height="1" fill="#ecbebe"/><rect x="47" y="16" width="1" height="1" fill="#e0a2a2"/><rect x="48" y="16" width="1" height="1" fill="#d4d4f4"/><rect x="50" y="16" width="1" height="1" fill="#e6b0b0"/><rect x="51" y="16" width="1" height="1" fill="#e6b0b0"/><rect x="52" y="16" width="1" height="1" fill="#eab8b8"/><rect x="53" y="16" width="1" height="1" fill="#d4d4f4"/><rect x="54" y="16" width="1" height="1" fill="#f2cccc"/><rect x="56" y="16" width="1" height="1" fill="#e6b0b0"/><rect x="58" y="16" width="1" height="1" fill="#c2c2ee"/><rect x="59" y="16" width="1" height="1" fill="#eab8b8"/><rect x="62" y="16" width="1" height="1" fill="#c2c2ee"/><rect x="63" y="16" width="1" height="1" fill="#d4d4f4"/><rect x="64" y="16" width="1" height="1" fill="#e0a2a2"/><rect x="66" y="16" width="1" height="1" fill="#ecbebe"/><rect x="68" y="16" width="1" height="1" fill="#eab8b8"/><rect x="69" y="16" width="1" height="1" fill="#e0a2a2"/><rect x="70" y="16" width="1" height="1" fill="#c2c2ee"/><rect x="71" y="16" width="1" height="1" fill="#d4d4f4"/><rect x="72" y="16" width="1" height="1" fill="#c8c8f0"/><rect x="73" y="16" width="1" height="1" fill="#c8c8f0"/><rect x="75" y="16" width="1" height="1" fill="#eab8b8"/><rect x="77" y="16" width="1" height="1" fill="#bcbcec"/><rect x="78" y="16" width="1" height="1" fill="#e0a2a2"/><rect x="79" y="16" width="1" height="1" fill="#f2cccc"/><rect x="80" y="16" width="1" height="1" fill="#e0a2a2"/><rect x="0" y="17" width="1" height="1" fill="#e0a2a2"/><rect x="2" y="17" width="1" height="1" fill="#d4d4f4"/><rect x="3" y="17" width="1" height="1" fill="#e0a2a2"/><rect x="4" y="17" width="1" height="1" fill="#bcbcec"/><rect x="6" y="17" width="1" height="1" fill="#ecbebe"/><rect x="12" y="17" width="1" height="1" fill="#e6b0b0"/><rect x="13" y="17" width="1" height="1" fill="#e0a2a2"/><rect x="14" y="17" width="1" height="1" fill="#c8c8f0"/><rect x="16" y="17" width="1" height="1" fill="#ecbebe"/><rect x="17" y="17" width="1" height="1" fill="#e6b0b0"/><rect x="18" y="17" width="1" height="1" fill="#eab8b8"/><rect x="19" y="17" width="1" height="1" fill="#f2cccc"/><rect x="20" y="17" width="1" height="1" fill="#eab8b8"/><rect x="21" y="17" width="1" height="1" fill="#e0a2a2"/><rect x="22" y="17" width="1" height="1" fill="#ecbebe"/><rect x="24" y="17" width="1" height="1" fill="#e6b0b0"/><rect x="27" y="17" width="1" height="1" fill="#eab8b8"/><rect x="29" y="17" width="1" height="1" fill="#c2c2ee"/><rect x="31" y="17" width="1" height="1" fill="#c8c8f0"/><rect x="32" y="17" width="1" height="1" fill="#d4d4f4"/><rect x="33" y="17" width="1" height="1" fill="#e0a2a2"/><rect x="34" y="17" width="1" height="1" fill="#e0a2a2"/><rect x="35" y="17" width="1" height="1" fill="#d4d4f4"/><rect x="37" y="17" width="1" height="1" fill="#bcbcec"/><rect x="39" y="17" width="1" height="1" fill="#e6b0b0"/><rect x="40" y="17" width="1" height="1" fill="#c8c8f0"/><rect x="41" y="17" width="1" height="1" fill="#c2c2ee"/><rect x="42" y="17" width="1" height="1" fill="#c8c8f0"/><rect x="43" y="17" width="1" height="1" fill="#c2c2ee"/><rect x="45" y="17" width="1" height="1" fill="#ecbebe"/><rect x="46" y="17" width="1" height="1" fill="#bcbcec"/><rect x="49" y="17" width="1" height="1" fill="#c2c2ee"/><rect x="51" y="17" width="1" height="1" fill="#e6b0b0"/><rect x="52" y="17" width="1" height="1" fill="#ecbebe"/><rect x="54" y="17" width="1" height="1" fill="#e6b0b0"/><rect x="55" y="17" width="1" height="1" fill="#eab8b8"/><rect x="56" y="17" width="1" height="1" fill="#eab8b8"/><rect x="57" y="17" width="1" height="1" fill="#bcbcec"/><rect x="58" y="17" width="1" height="1" fill="#bcbcec"/><rect x="60" y="17" width="1" height="1" fill="#c2c2ee"/><rect x="62" y="17" width="1" height="1" fill="#d4d4f4"/><rect x="63" y="17" width="1" height="1" fill="#eab8b8"/><rect x="70" y="17" width="1" height="1" fill="#f2cccc"/><rect x="71" y="17" width="1" height="1" fill="#eab8b8"/><rect x="73" y="17" width="1" height="1" fill="#f2cccc"/><rect x="75" y="17" width="1" height="1" fill="#ecbebe"/><rect x="77" y="17" width="1" height="1" fill="#bcbcec"/><rect x="78" y="17" width="1" height="1" fill="#eab8b8"/><rect x="81" y="17" width="1" height="1" fill="#bcbcec"/><rect x="82" y="17" width="1" height="1" fill="#bcbcec"/><rect x="0" y="18" width="1" height="1" fill="#c2c2ee"/><rect x="1" y="18" width="1" height="1" fill="#bcbcec"/><rect x="2" y="18" width="1" height="1" fill="#d4d4f4"/><rect x="4" y="18" width="1" height="1" fill="#e6b0b0"/><rect x="6" y="18" width="1" height="1" fill="#d4d4f4"/><rect x="7" y="18" width="1" height="1" fill="#ecbebe"/><rect x="8" y="18" width="1" height="1" fill="#f2cccc"/><rect x="9" y="18" width="1" height="1" fill="#eab8b8"/><rect x="10" y="18" width="1" height="1" fill="#bcbcec"/><rect x="11" y="18" width="1" height="1" fill="#f2cccc"/><rect x="14" y="18" width="1" height="1" fill="#bcbcec"/><rect x="15" y="18" width="1" height="1" fill="#e0a2a2"/><rect x="16" y="18" width="1" height="1" fill="#f2cccc"/><rect x="17" y="18" width="1" height="1" fill="#ecbebe"/><rect x="18" y="18" width="1" height="1" fill="#e6b0b0"/><rect x="19" y="18" width="1" height="1" fill="#c2c2ee"/><rect x="23" y="18" width="1" height="1" fill="#f2cccc"/><rect x="24" y="18" width="1" height="1" fill="#c8c8f0"/><rect x="26" y="18" width="1" height="1" fill="#ecbebe"/><rect x="28" y="18" width="1" height="1" fill="#eab8b8"/><rect x="29" y="18" width="1" height="1" fill="#eab8b8"/><rect x="30" y="18" width="1" height="1" fill="#e6b0b0"/><rect x="31" y="18" width="1" height="1" fill="#c2c2ee"/><rect x="37" y="18" width="1" height="1" fill="#f2cccc"/><rect x="39" y="18" width="1" height="1" fill="#c2c2ee"/><rect x="40" y="18" width="1" height="1" fill="#bcbcec"/><rect x="41" y="18" width="1" height="1" fill="#ecbebe"/><rect x="43" y="18" width="1" height="1" fill="#c8c8f0"/><rect x="45" y="18" width="1" height="1" fill="#c2c2ee"/><rect x="49" y="18" width="1" height="1" fill="#c2c2ee"/><rect x="50" y="18" width="1" height="1" fill="#eab8b8"/><rect x="51" y="18" width="1" height="1" fill="#c2c2ee"/><rect x="52" y="18" width="1" height="1" fill="#f2cccc"/><rect x="53" y="18" width="1" height="1" fill="#e0a2a2"/><rect x="54" y="18" width="1" height="1" fill="#c2c2ee"/><rect x="57" y="18" width="1" height="1" fill="#ecbebe"/><rect x="58" y="18" width="1" height="1" fill="#f2cccc"/><rect x="59" y="18" width="1" height="1" fill="#c2c2ee"/><rect x="60" y="18" width="1" height="1" fill="#bcbcec"/><rect x="64" y="18" width="1" height="1" fill="#e0a2a2"/><rect x="65" y="18" width="1" height="1" fill="#eab8b8"/><rect x="67" y="18" width="1" height="1" fill="#e0a2a2"/><rect x="68" y="18" width="1" height="1" fill="#c2c2ee"/><rect x="69" y="18" width="1" height="1" fill="#e6b0b0"/><rect x="70" y="18" width="1" height="1" fill="#ecbebe"/><rect x="73" y="18" width="1" height="1" fill="#ecbebe"/><rect x="74" y="18" width="1" height="1" fill="#e6b0b0"/><rect x="75" y="18" width="1" height="1" fill="#e6b0b0"/><rect x="76" y="18" width="1" height="1" fill="#d4d4f4"/><rect x="80" y="18" width="1" height="1" fill="#c2c2ee"/><rect x="2" y="19" width="1" height="1" fill="#c8c8f0"/><rect x="3" y="19" width="1" height="1" fill="#eab8b8"/><rect x="4" y="19" width="1" height="1" fill="#c8c8f0"/><rect x="6" y="19" width="1" height="1" fill="#bcbcec"/><rect x="7" y="19" width="1" height="1" fill="#bcbcec"/><rect x="8" y="19" width="1" height="1" fill="#e6b0b0"/><rect x="13" y="19" width="1" height="1" fill="#d4d4f4"/><rect x="14" y="19" width="1" height="1" fill="#d4d4f4"/><rect x="16" y="19" width="1" height="1" fill="#c2c2ee"/><rect x="17" y="19" width="1" height="1" fill="#e0a2a2"/><rect x="18" y="19" width="1" height="1" fill="#bcbcec"/><rect x="19" y="19" width="1" height="1" fill="#d4d4f4"/><rect x="21" y="19" width="1" height="1" fill="#bcbcec"/><rect x="22" y="19" width="1" height="1" fill="#d4d4f4"/><rect x="25" y="19" width="1" height="1" fill="#ecbebe"/><rect x="29" y="19" width="1" height="1" fill="#c2c2ee"/><rect x="30" y="19" width="1" height="1" fill="#bcbcec"/><rect x="32" y="19" width="1" height="1" fill="#ecbebe"/><rect x="34" y="19" width="1" height="1" fill="#e0a2a2"/><rect x="35" y="19" width="1" height="1" fill="#eab8b8"/><rect x="36" y="19" width="1" height="1" fill="#e0a2a2"/><rect x="37" y="19" width="1" height="1" fill="#e0a2a2"/><rect x="38" y="19" width="1" height="1" fill="#c2c2ee"/><rect x="40" y="19" width="1" height="1" fill="#d4d4f4"/><rect x="41" y="19" width="1" height="1" fill="#bcbcec"/><rect x="47" y="19" width="1" height="1" fill="#f2cccc"/><rect x="49" y="19" width="1" height="1" fill="#d4d4f4"/><rect x="50" y="19" width="1" height="1" fill="#c2c2ee"/><rect x="51" y="19" width="1" height="1" fill="#ecbebe"/><rect x="52" y="19" width="1" height="1" fill="#c8c8f0"/><rect x="55" y="19" width="1" height="1" fill="#c8c8f0"/><rect x="56" y="19" width="1" height="1" fill="#d4d4f4"/><rect x="57" y="19" width="1" height="1" fill="#e6b0b0"/><rect x="59" y="19" width="1" height="1" fill="#c8c8f0"/><rect x="60" y="19" width="1" height="1" fill="#eab8b8"/><rect x="61" y="19" width="1" height="1" fill="#ecbebe"/><rect x="62" y="19" width="1" height="1" fill="#eab8b8"/><rect x="63" y="19" width="1" height="1" fill="#f2cccc"/><rect x="65" y="19" width="1" height="1" fill="#e0a2a2"/><rect x="67" y="19" width="1" height="1" fill="#c8c8f0"/><rect x="70" y="19" width="1" height="1" fill="#eab8b8"/><rect x="71" y="19" width="1" height="1" fill="#eab8b8"/><rect x="73" y="19" width="1" height="1" fill="#d4d4f4"/><rect x="74" y="19" width="1" height="1" fill="#eab8b8"/><rect x="75" y="19" width="1" height="1" fill="#ecbebe"/><rect x="76" y="19" width="1" height="1" fill="#e0a2a2"/><rect x="79" y="19" width="1" height="1" fill="#eab8b8"/><rect x="80" y="19" width="1" height="1" fill="#c8c8f0"/><rect x="81" y="19" width="1" height="1" fill="#bcbcec"/><rect x="2" y="20" width="1" height="1" fill="#d4d4f4"/><rect x="3" y="20" width="1" height="1" fill="#e0a2a2"/><rect x="4" y="20" width="1" height="1" fill="#e0a2a2"/><rect x="5" y="20" width="1" height="1" fill="#bcbcec"/><rect x="6" y="20" width="1" height="1" fill="#e0a2a2"/><rect x="7" y="20" width="1" height="1" fill="#bcbcec"/><rect x="8" y="20" width="1" height="1" fill="#e0a2a2"/><rect x="9" y="20" width="1" height="1" fill="#c2c2ee"/><rect x="11" y="20" width="1" height="1" fill="#d4d4f4"/><rect x="12" y="20" width="1" height="1" fill="#e6b0b0"/><rect x="14" y="20" width="1" height="1" fill="#d4d4f4"/><rect x="15" y="20" width="1" height="1" fill="#c8c8f0"/><rect x="21" y="20" width="1" height="1" fill="#eab8b8"/><rect x="22" y="20" width="1" height="1" fill="#eab8b8"/><rect x="23" y="20" width="1" height="1" fill="#c8c8f0"/><rect x="24" y="20" width="1" height="1" fill="#c2c2ee"/><rect x="25" y="20" width="1" height="1" fill="#e0a2a2"/><rect x="27" y="20" width="1" height="1" fill="#bcbcec"/><rect x="28" y="20" width="1" height="1" fill="#c2c2ee"/><rect x="29" y="20" width="1" height="1" fill="#c8c8f0"/><rect x="31" y="20" width="1" height="1" fill="#bcbcec"/><rect x="32" y="20" width="1" height="1" fill="#c8c8f0"/><rect x="33" y="20" width="1" height="1" fill="#eab8b8"/><rect x="34" y="20" width="1" height="1" fill="#f2cccc"/><rect x="35" y="20" width="1" height="1" fill="#c8c8f0"/><rect x="37" y="20" width="1" height="1" fill="#d4d4f4"/><rect x="38" y="20" width="1" height="1" fill="#eab8b8"/><rect x="39" y="20" width="1" height="1" fill="#ecbebe"/><rect x="40" y="20" width="1" height="1" fill="#c8c8f0"/><rect x="42" y="20" width="1" height="1" fill="#eab8b8"/><rect x="44" y="20" width="1" height="1" fill="#eab8b8"/><rect x="45" y="20" width="1" height="1" fill="#bcbcec"/><rect x="46" y="20" width="1" height="1" fill="#e6b0b0"/><rect x="47" y="20" width="1" height="1" fill="#c8c8f0"/><rect x="48" y="20" width="1" height="1" fill="#c8c8f0"/><rect x="49" y="20" width="1" height="1" fill="#bcbcec"/><rect x="50" y="20" width="1" height="1" fill="#bcbcec"/><rect x="51" y="20" width="1" height="1" fill="#eab8b8"/><rect x="54" y="20" width="1" height="1" fill="#e6b0b0"/><rect x="55" y="20" width="1" height="1" fill="#f2cccc"/><rect x="57" y="20" width="1" height="1" fill="#e6b0b0"/><rect x="58" y="20" width="1" height="1" fill="#ecbebe"/><rect x="60" y="20" width="1" height="1" fill="#ecbebe"/><rect x="61" y="20" width="1" height="1" fill="#e0a2a2"/><rect x="64" y="20" width="1" height="1" fill="#e6b0b0"/><rect x="66" y="20" width="1" height="1" fill="#f2cccc"/><rect x="67" y="20" width="1" height="1" fill="#bcbcec"/><rect x="68" y="20" width="1" height="1" fill="#c2c2ee"/><rect x="70" y="20" width="1" height="1" fill="#ecbebe"/><rect x="71" y="20" width="1" height="1" fill="#f2cccc"/><rect x="72" y="20" width="1" height="1" fill="#f2cccc"/><rect x="75" y="20" width="1" height="1" fill="#e6b0b0"/><rect x="76" y="20" width="1" height="1" fill="#c8c8f0"/><rect x="77" y="20" width="1" height="1" fill="#bcbcec"/><rect x="78" y="20" width="1" height="1" fill="#eab8b8"/><rect x="79" y="20" width="1" height="1" fill="#ecbebe"/><rect x="80" y="20" width="1" height="1" fill="#e0a2a2"/><rect x="81" y="20" width="1" height="1" fill="#e6b0b0"/><rect x="1" y="21" width="1" height="1" fill="#e0a2a2"/><rect x="2" y="21" width="1" height="1" fill="#e6b0b0"/><rect x="5" y="21" width="1" height="1" fill="#c8c8f0"/><rect x="10" y="21" width="1" height="1" fill="#d4d4f4"/><rect x="11" y="21" width="1" height="1" fill="#eab8b8"/><rect x="14" y="21" width="1" height="1" fill="#f2cccc"/><rect x="20" y="21" width="1" height="1" fill="#f2cccc"/><rect x="24" y="21" width="1" height="1" fill="#eab8b8"/><rect x="25" y="21" width="1" height="1" fill="#f2cccc"/><rect x="27" y="21" width="1" height="1" fill="#e6b0b0"/><rect x="28" y="21" width="1" height="1" fill="#f2cccc"/><rect x="29" y="21" width="1" height="1" fill="#c2c2ee"/><rect x="31" y="21" width="1" height="1" fill="#c8c8f0"/><rect x="33" y="21" width="1" height="1" fill="#ecbebe"/><rect x="34" y="21" width="1" height="1" fill="#d4d4f4"/><rect x="35" y="21" width="1" height="1" fill="#e0a2a2"/><rect x="37" y="21" width="1" height="1" fill="#c2c2ee"/><rect x="38" y="21" width="1" height="1" fill="#e0a2a2"/><rect x="40" y="21" width="1" height="1" fill="#d4d4f4"/><rect x="43" y="21" width="1" height="1" fill="#ecbebe"/><rect x="45" y="21" width="1" height="1" fill="#ecbebe"/><rect x="46" y="21" width="1" height="1" fill="#ecbebe"/><rect x="48" y="21" width="1" height="1" fill="#ecbebe"/><rect x="50" y="21" width="1" height="1" fill="#e6b0b0"/><rect x="51" y="21" width="1" height="1" fill="#c2c2ee"/><rect x="53" y="21" width="1" height="1" fill="#f2cccc"/><rect x="54" y="21" width="1" height="1" fill="#ecbebe"/><rect x="56" y="21" width="1" height="1" fill="#eab8b8"/><rect x="57" y="21" width="1" height="1" fill="#eab8b8"/><rect x="58" y="21" width="1" height="1" fill="#c2c2ee"/><rect x="59" y="21" width="1" height="1" fill="#bcbcec"/><rect x="61" y="21" width="1" height="1" fill="#d4d4f4"/><rect x="62" y="21" width="1" height="1" fill="#d4d4f4"/><rect x="64" y="21" width="1" height="1" fill="#c8c8f0"/><rect x="65" y="21" width="1" height="1" fill="#c8c8f0"/><rect x="66" y="21" width="1" height="1" fill="#e6b0b0"/><rect x="68" y="21" width="1" height="1" fill="#bcbcec"/><rect x="70" y="21" width="1" height="1" fill="#c8c8f0"/><rect x="71" y="21" width="1" height="1" fill="#eab8b8"/><rect x="72" y="21" width="1" height="1" fill="#c8c8f0"/><rect x="73" y="21" width="1" height="1" fill="#f2cccc"/><rect x="77" y="21" width="1" height="1" fill="#eab8b8"/><rect x="78" y="21" width="1" height="1" fill="#bcbcec"/><rect x="80" y="21" width="1" height="1" fill="#c2c2ee"/><rect x="81" y="21" width="1" height="1" fill="#c8c8f0"/><rect x="82" y="21" width="1" height="1" fill="#ecbebe"/><rect x="3" y="22" width="1" height="1" fill="#e6b0b0"/><rect x="4" y="22" width="1" height="1" fill="#e0a2a2"/><rect x="8" y="22" width="1" height="1" fill="#c8c8f0"/><rect x="9" y="22" width="1" height="1" fill="#c8c8f0"/><rect x="10" y="22" width="1" height="1" fill="#e0a2a2"/><rect x="12" y="22" width="1" height="1" fill="#ecbebe"/><rect x="13" y="22" width="1" height="1" fill="#f2cccc"/><rect x="15" y="22" width="1" height="1" fill="#c8c8f0"/><rect x="17" y="22" width="1" height="1" fill="#c2c2ee"/><rect x="20" y="22" width="1" height="1" fill="#d4d4f4"/><rect x="21" y="22" width="1" height="1" fill="#bcbcec"/><rect x="22" y="22" width="1" height="1" fill="#e6b0b0"/><rect x="24" y="22" width="1" height="1" fill="#e6b0b0"/><rect x="25" y="22" width="1" height="1" fill="#eab8b8"/><rect x="26" y="22" width="1" height="1" fill="#e0a2a2"/><rect x="29" y="22" width="1" height="1" fill="#c8c8f0"/><rect x="30" y="22" width="1" height="1" fill="#eab8b8"/><rect x="33" y="22" width="1" height="1" fill="#f2cccc"/><rect x="34" y="22" width="1" height="1" fill="#ecbebe"/><rect x="36" y="22" width="1" height="1" fill="#ecbebe"/><rect x="37" y="22" width="1" height="1" fill="#bcbcec"/><rect x="39" y="22" width="1" height="1" fill="#c8c8f0"/><rect x="40" y="22" width="1" height="1" fill="#d4d4f4"/><rect x="41" y="22" width="1" height="1" fill="#eab8b8"/><rect x="42" y="22" width="1" height="1" fill="#bcbcec"/><rect x="43" y="22" width="1" height="1" fill="#e0a2a2"/><rect x="44" y="22" width="1" height="1" fill="#d4d4f4"/><rect x="45" y="22" width="1" height="1" fill="#eab8b8"/><rect x="46" y="22" width="1" height="1" fill="#bcbcec"/><rect x="47" y="22" width="1" height="1" fill="#c8c8f0"/><rect x="48" y="22" width="1" height="1" fill="#f2cccc"/><rect x="52" y="22" width="1" height="1" fill="#e0a2a2"/><rect x="53" y="22" width="1" height="1" fill="#e0a2a2"/><rect x="54" y="22" width="1" height="1" fill="#e6b0b0"/><rect x="55" y="22" width="1" height="1" fill="#c2c2ee"/><rect x="56" y="22" width="1" height="1" fill="#c8c8f0"/><rect x="57" y="22" width="1" height="1" fill="#bcbcec"/><rect x="58" y="22" width="1" height="1" fill="#ecbebe"/><rect x="59" y="22" width="1" height="1" fill="#e0a2a2"/><rect x="60" y="22" width="1" height="1" fill="#eab8b8"/><rect x="61" y="22" width="1" height="1" fill="#e0a2a2"/><rect x="62" y="22" width="1" height="1" fill="#c2c2ee"/><rect x="64" y="22" width="1" height="1" fill="#d4d4f4"/><rect x="67" y="22" width="1" height="1" fill="#ecbebe"/><rect x="70" y="22" width="1" height="1" fill="#c8c8f0"/><rect x="71" y="22" width="1" height="1" fill="#d4d4f4"/><rect x="72" y="22" width="1" height="1" fill="#e6b0b0"/><rect x="75" y="22" width="1" height="1" fill="#eab8b8"/><rect x="76" y="22" width="1" height="1" fill="#d4d4f4"/><rect x="77" y="22" width="1" height="1" fill="#ecbebe"/><rect x="78" y="22" width="1" height="1" fill="#ecbebe"/><rect x="79" y="22" width="1" height="1" fill="#bcbcec"/><rect x="80" y="22" width="1" height="1" fill="#bcbcec"/><rect x="81" y="22" width="1" height="1" fill="#c8c8f0"/><rect x="82" y="22" width="1" height="1" fill="#c8c8f0"/><rect x="1" y="23" width="1" height="1" fill="#c2c2ee"/><rect x="2" y="23" width="1" height="1" fill="#eab8b8"/><rect x="3" y="23" width="1" height="1" fill="#c2c2ee"/><rect x="6" y="23" width="1" height="1" fill="#ecbebe"/><rect x="7" y="23" width="1" height="1" fill="#bcbcec"/><rect x="9" y="23" width="1" height="1" fill="#bcbcec"/><rect x="10" y="23" width="1" height="1" fill="#d4d4f4"/><rect x="11" y="23" width="1" height="1" fill="#e0a2a2"/><rect x="12" y="23" width="1" height="1" fill="#f2cccc"/><rect x="13" y="23" width="1" height="1" fill="#e6b0b0"/><rect x="14" y="23" width="1" height="1" fill="#c8c8f0"/><rect x="16" y="23" width="1" height="1" fill="#ecbebe"/><rect x="17" y="23" width="1" height="1" fill="#eab8b8"/><rect x="19" y="23" width="1" height="1" fill="#e0a2a2"/><rect x="20" y="23" width="1" height="1" fill="#eab8b8"/><rect x="22" y="23" width="1" height="1" fill="#e6b0b0"/><rect x="25" y="23" width="1" height="1" fill="#bcbcec"/><rect x="26" y="23" width="1" height="1" fill="#c8c8f0"/><rect x="27" y="23" width="1" height="1" fill="#e6b0b0"/><rect x="28" y="23" width="1" height="1" fill="#c8c8f0"/><rect x="30" y="23" width="1" height="1" fill="#e0a2a2"/><rect x="31" y="23" width="1" height="1" fill="#e0a2a2"/><rect x="33" y="23" width="1" height="1" fill="#f2cccc"/><rect x="35" y="23" width="1" height="1" fill="#e0a2a2"/><rect x="38" y="23" width="1" height="1" fill="#f2cccc"/><rect x="41" y="23" width="1" height="1" fill="#e6b0b0"/><rect x="43" y="23" width="1" height="1" fill="#f2cccc"/><rect x="45" y="23" width="1" height="1" fill="#d4d4f4"/><rect x="46" y="23" width="1" height="1" fill="#ecbebe"/><rect x="48" y="23" width="1" height="1" fill="#bcbcec"/><rect x="49" y="23" width="1" height="1" fill="#ecbebe"/><rect x="50" y="23" width="1" height="1" fill="#ecbebe"/><rect x="51" y="23" width="1" height="1" fill="#e6b0b0"/><rect x="54" y="23" width="1" height="1" fill="#c2c2ee"/><rect x="56" y="23" width="1" height="1" fill="#f2cccc"/><rect x="58" y="23" width="1" height="1" fill="#f2cccc"/><rect x="61" y="23" width="1" height="1" fill="#c8c8f0"/><rect x="62" y="23" width="1" height="1" fill="#c2c2ee"/><rect x="63" y="23" width="1" height="1" fill="#c2c2ee"/><rect x="65" y="23" width="1" height="1" fill="#ecbebe"/><rect x="66" y="23" width="1" height="1" fill="#e0a2a2"/><rect x="67" y="23" width="1" height="1" fill="#e6b0b0"/><rect x="68" y="23" width="1" height="1" fill="#ecbebe"/><rect x="69" y="23" width="1" height="1" fill="#ecbebe"/><rect x="70" y="23" width="1" height="1" fill="#c8c8f0"/><rect x="71" y="23" width="1" height="1" fill="#c2c2ee"/><rect x="72" y="23" width="1" height="1" fill="#f2cccc"/><rect x="75" y="23" width="1" height="1" fill="#eab8b8"/><rect x="76" y="23" width="1" height="1" fill="#bcbcec"/><rect x="78" y="23" width="1" height="1" fill="#ecbebe"/><rect x="79" y="23" width="1" height="1" fill="#c8c8f0"/><rect x="80" y="23" width="1" height="1" fill="#c8c8f0"/><rect x="81" y="23" width="1" height="1" fill="#eab8b8"/><rect x="82" y="23" width="1" height="1" fill="#ecbebe"/><rect x="0" y="24" width="1" height="1" fill="#bcbcec"/><rect x="5" y="24" width="1" height="1" fill="#ecbebe"/><rect x="6" y="24" width="1" height="1" fill="#c2c2ee"/><rect x="7" y="24" width="1" height="1" fill="#f2cccc"/><rect x="8" y="24" width="1" height="1" fill="#c8c8f0"/><rect x="10" y="24" width="1" height="1" fill="#c8c8f0"/><rect x="11" y="24" width="1" height="1" fill="#ecbebe"/><rect x="13" y="24" width="1" height="1" fill="#c8c8f0"/><rect x="16" y="24" width="1" height="1" fill="#d4d4f4"/><rect x="17" y="24" width="1" height="1" fill="#e0a2a2"/><rect x="18" y="24" width="1" height="1" fill="#ecbebe"/><rect x="19" y="24" width="1" height="1" fill="#eab8b8"/><rect x="20" y="24" width="1" height="1" fill="#bcbcec"/><rect x="21" y="24" width="1" height="1" fill="#e0a2a2"/><rect x="22" y="24" width="1" height="1" fill="#eab8b8"/><rect x="23" y="24" width="1" height="1" fill="#d4d4f4"/><rect x="25" y="24" width="1" height="1" fill="#f2cccc"/><rect x="26" y="24" width="1" height="1" fill="#c2c2ee"/><rect x="27" y="24" width="1" height="1" fill="#c8c8f0"/><rect x="29" y="24" width="1" height="1" fill="#ecbebe"/><rect x="30" y="24" width="1" height="1" fill="#f2cccc"/><rect x="31" y="24" width="1" height="1" fill="#c8c8f0"/><rect x="32" y="24" width="1" height="1" fill="#eab8b8"/><rect x="37" y="24" width="1" height="1" fill="#c2c2ee"/><rect x="38" y="24" width="1" height="1" fill="#e6b0b0"/><rect x="40" y="24" width="1" height="1" fill="#eab8b8"/><rect x="43" y="24" width="1" height="1" fill="#bcbcec"/><rect x="45" y="24" width="1" height="1" fill="#f2cccc"/><rect x="46" y="24" width="1" height="1" fill="#e0a2a2"/><rect x="48" y="24" width="1" height="1" fill="#ecbebe"/><rect x="49" y="24" width="1" height="1" fill="#d4d4f4"/><rect x="54" y="24" width="1" height="1" fill="#c2c2ee"/><rect x="55" y="24" width="1" height="1" fill="#ecbebe"/><rect x="61" y="24" width="1" height="1" fill="#eab8b8"/><rect x="63" y="24" width="1" height="1" fill="#f2cccc"/><rect x="64" y="24" width="1" height="1" fill="#ecbebe"/><rect x="65" y="24" width="1" height="1" fill="#c2c2ee"/><rect x="68" y="24" width="1" height="1" fill="#e0a2a2"/><rect x="69" y="24" width="1" height="1" fill="#d4d4f4"/><rect x="70" y="24" width="1" height="1" fill="#e0a2a2"/><rect x="71" y="24" width="1" height="1" fill="#c8c8f0"/><rect x="75" y="24" width="1" height="1" fill="#d4d4f4"/><rect x="78" y="24" width="1" height="1" fill="#e6b0b0"/><rect x="82" y="24" width="1" height="1" fill="#f2cccc"/><rect x="0" y="25" width="1" height="1" fill="#d4d4f4"/><rect x="2" y="25" width="1" height="1" fill="#eab8b8"/><rect x="4" y="25" width="1" height="1" fill="#eab8b8"/><rect x="5" y="25" width="1" height="1" fill="#bcbcec"/><rect x="7" y="25" width="1" height="1" fill="#c8c8f0"/><rect x="8" y="25" width="1" height="1" fill="#e0a2a2"/><rect x="9" y="25" width="1" height="1" fill="#eab8b8"/><rect x="10" y="25" width="1" height="1" fill="#ecbebe"/><rect x="12" y="25" width="1" height="1" fill="#f2cccc"/><rect x="13" y="25" width="1" height="1" fill="#e6b0b0"/><rect x="18" y="25" width="1" height="1" fill="#ecbebe"/><rect x="21" y="25" width="1" height="1" fill="#ecbebe"/><rect x="22" y="25" width="1" height="1" fill="#f2cccc"/><rect x="23" y="25" width="1" height="1" fill="#d4d4f4"/><rect x="24" y="25" width="1" height="1" fill="#c8c8f0"/><rect x="25" y="25" width="1" height="1" fill="#f2cccc"/><rect x="26" y="25" width="1" height="1" fill="#e0a2a2"/><rect x="27" y="25" width="1" height="1" fill="#e6b0b0"/><rect x="28" y="25" width="1" height="1" fill="#c2c2ee"/><rect x="29" y="25" width="1" height="1" fill="#e0a2a2"/><rect x="31" y="25" width="1" height="1" fill="#bcbcec"/><rect x="32" y="25" width="1" height="1" fill="#ecbebe"/><rect x="33" y="25" width="1" height="1" fill="#d4d4f4"/><rect x="34" y="25" width="1" height="1" fill="#bcbcec"/><rect x="35" y="25" width="1" height="1" fill="#d4d4f4"/><rect x="36" y="25" width="1" height="1" fill="#bcbcec"/><rect x="37" y="25" width="1" height="1" fill="#e6b0b0"/><rect x="39" y="25" width="1" height="1" fill="#c2c2ee"/><rect x="40" y="25" width="1" height="1" fill="#bcbcec"/><rect x="42" y="25" width="1" height="1" fill="#c2c2ee"/><rect x="43" y="25" width="1" height="1" fill="#ecbebe"/><rect x="44" y="25" width="1" height="1" fill="#d4d4f4"/><rect x="45" y="25" width="1" height="1" fill="#c2c2ee"/><rect x="46" y="25" width="1" height="1" fill="#d4d4f4"/><rect x="47" y="25" width="1" height="1" fill="#ecbebe"/><rect x="48" y="25" width="1" height="1" fill="#bcbcec"/><rect x="49" y="25" width="1" height="1" fill="#eab8b8"/><rect x="51" y="25" width="1" height="1" fill="#ecbebe"/><rect x="52" y="25" width="1" height="1" fill="#c8c8f0"/><rect x="53" y="25" width="1" height="1" fill="#d4d4f4"/><rect x="54" y="25" width="1" height="1" fill="#ecbebe"/><rect x="55" y="25" width="1" height="1" fill="#e6b0b0"/><rect x="57" y="25" width="1" height="1" fill="#bcbcec"/><rect x="58" y="25" width="1" height="1" fill="#c8c8f0"/><rect x="59" y="25" width="1" height="1" fill="#c8c8f0"/><rect x="60" y="25" width="1" height="1" fill="#d4d4f4"/><rect x="63" y="25" width="1" height="1" fill="#bcbcec"/><rect x="67" y="25" width="1" height="1" fill="#d4d4f4"/><rect x="68" y="25" width="1" height="1" fill="#c8c8f0"/><rect x="70" y="25" width="1" height="1" fill="#eab8b8"/><rect x="71" y="25" width="1" height="1" fill="#d4d4f4"/><rect x="72" y="25" width="1" height="1" fill="#c2c2ee"/><rect x="73" y="25" width="1" height="1" fill="#e6b0b0"/><rect x="74" y="25" width="1" height="1" fill="#e6b0b0"/><rect x="75" y="25" width="1" height="1" fill="#c8c8f0"/><rect x="81" y="25" width="1" height="1" fill="#e6b0b0"/><rect x="82" y="25" width="1" height="1" fill="#f2cccc"/><rect x="1" y="26" width="1" height="1" fill="#e0a2a2"/><rect x="2" y="26" width="1" height="1" fill="#bcbcec"/><rect x="3" y="26" width="1" height="1" fill="#eab8b8"/><rect x="4" y="26" width="1" height="1" fill="#ecbebe"/><rect x="5" y="26" width="1" height="1" fill="#e6b0b0"/><rect x="6" y="26" width="1" height="1" fill="#f2cccc"/><rect x="7" y="26" width="1" height="1" fill="#e6b0b0"/><rect x="8" y="26" width="1" height="1" fill="#d4d4f4"/><rect x="9" y="26" width="1" height="1" fill="#eab8b8"/><rect x="10" y="26" width="1" height="1" fill="#ecbebe"/><rect x="12" y="26" width="1" height="1" fill="#c8c8f0"/><rect x="13" y="26" width="1" height="1" fill="#f2cccc"/><rect x="14" y="26" width="1" height="1" fill="#eab8b8"/><rect x="15" y="26" width="1" height="1" fill="#f2cccc"/><rect x="18" y="26" width="1" height="1" fill="#ecbebe"/><rect x="20" y="26" width="1" height="1" fill="#f2cccc"/><rect x="21" y="26" width="1" height="1" fill="#bcbcec"/><rect x="22" y="26" width="1" height="1" fill="#c8c8f0"/><rect x="25" y="26" width="1" height="1" fill="#ecbebe"/><rect x="26" y="26" width="1" height="1" fill="#d4d4f4"/><rect x="28" y="26" width="1" height="1" fill="#bcbcec"/><rect x="29" y="26" width="1" height="1" fill="#f2cccc"/><rect x="35" y="26" width="1" height="1" fill="#eab8b8"/><rect x="36" y="26" width="1" height="1" fill="#bcbcec"/><rect x="37" y="26" width="1" height="1" fill="#ecbebe"/><rect x="38" y="26" width="1" height="1" fill="#e6b0b0"/><rect x="41" y="26" width="1" height="1" fill="#f2cccc"/><rect x="42" y="26" width="1" height="1" fill="#e0a2a2"/><rect x="43" y="26" width="1" height="1" fill="#bcbcec"/><rect x="44" y="26" width="1" height="1" fill="#bcbcec"/><rect x="45" y="26" width="1" height="1" fill="#bcbcec"/><rect x="46" y="26" width="1" height="1" fill="#bcbcec"/><rect x="48" y="26" width="1" height="1" fill="#e0a2a2"/><rect x="51" y="26" width="1" height="1" fill="#c2c2ee"/><rect x="52" y="26" width="1" height="1" fill="#c2c2ee"/><rect x="53" y="26" width="1" height="1" fill="#e6b0b0"/><rect x="54" y="26" width="1" height="1" fill="#e6b0b0"/><rect x="55" y="26" width="1" height="1" fill="#e6b0b0"/><rect x="56" y="26" width="1" height="1" fill="#ecbebe"/><rect x="58" y="26" width="1" height="1" fill="#c2c2ee"/><rect x="59" y="26" width="1" height="1" fill="#e6b0b0"/><rect x="60" y="26" width="1" height="1" fill="#bcbcec"/><rect x="61" y="26" width="1" height="1" fill="#eab8b8"/><rect x="64" y="26" width="1" height="1" fill="#ecbebe"/><rect x="65" y="26" width="1" height="1" fill="#e0a2a2"/><rect x="67" y="26" width="1" height="1" fill="#f2cccc"/><rect x="68" y="26" width="1" height="1" fill="#eab8b8"/><rect x="69" y="26" width="1" height="1" fill="#bcbcec"/><rect x="70" y="26" width="1" height="1" fill="#ecbebe"/><rect x="71" y="26" width="1" height="1" fill="#e0a2a2"/><rect x="73" y="26" width="1" height="1" fill="#c2c2ee"/><rect x="74" y="26" width="1" height="1" fill="#e0a2a2"/><rect x="75" y="26" width="1" height="1" fill="#e6b0b0"/><rect x="77" y="26" width="1" height="1" fill="#c2c2ee"/><rect x="78" y="26" width="1" height="1" fill="#eab8b8"/><rect x="80" y="26" width="1" height="1" fill="#c8c8f0"/><rect x="81" y="26" width="1" height="1" fill="#ecbebe"/><rect x="2" y="27" width="1" height="1" fill="#c8c8f0"/><rect x="3" y="27" width="1" height="1" fill="#ecbebe"/><rect x="5" y="27" width="1" height="1" fill="#c8c8f0"/><rect x="6" y="27" width="1" height="1" fill="#eab8b8"/><rect x="7" y="27" width="1" height="1" fill="#e0a2a2"/><rect x="8" y="27" width="1" height="1" fill="#ecbebe"/><rect x="11" y="27" width="1" height="1" fill="#e0a2a2"/><rect x="14" y="27" width="1" height="1" fill="#bcbcec"/><rect x="15" y="27" width="1" height="1" fill="#eab8b8"/><rect x="16" y="27" width="1" height="1" fill="#f2cccc"/><rect x="18" y="27" width="1" height="1" fill="#e0a2a2"/><rect x="20" y="27" width="1" height="1" fill="#ecbebe"/><rect x="24" y="27" width="1" height="1" fill="#eab8b8"/><rect x="25" y="27" width="1" height="1" fill="#d4d4f4"/><rect x="26" y="27" width="1" height="1" fill="#eab8b8"/><rect x="27" y="27" width="1" height="1" fill="#e6b0b0"/><rect x="28" y="27" width="1" height="1" fill="#e0a2a2"/><rect x="29" y="27" width="1" height="1" fill="#e6b0b0"/><rect x="30" y="27" width="1" height="1" fill="#bcbcec"/><rect x="31" y="27" width="1" height="1" fill="#ecbebe"/><rect x="33" y="27" width="1" height="1" fill="#e6b0b0"/><rect x="34" y="27" width="1" height="1" fill="#eab8b8"/><rect x="35" y="27" width="1" height="1" fill="#c8c8f0"/><rect x="36" y="27" width="1" height="1" fill="#d4d4f4"/><rect x="37" y="27" width="1" height="1" fill="#e6b0b0"/><rect x="38" y="27" width="1" height="1" fill="#bcbcec"/><rect x="39" y="27" width="1" height="1" fill="#c8c8f0"/><rect x="41" y="27" width="1" height="1" fill="#e6b0b0"/><rect x="42" y="27" width="1" height="1" fill="#e0a2a2"/><rect x="44" y="27" width="1" height="1" fill="#bcbcec"/><rect x="46" y="27" width="1" height="1" fill="#e6b0b0"/><rect x="47" y="27" width="1" height="1" fill="#eab8b8"/><rect x="48" y="27" width="1" height="1" fill="#d4d4f4"/><rect x="49" y="27" width="1" height="1" fill="#bcbcec"/><rect x="50" y="27" width="1" height="1" fill="#e0a2a2"/><rect x="51" y="27" width="1" height="1" fill="#ecbebe"/><rect x="53" y="27" width="1" height="1" fill="#c8c8f0"/><rect x="54" y="27" width="1" height="1" fill="#e0a2a2"/><rect x="56" y="27" width="1" height="1" fill="#bcbcec"/><rect x="61" y="27" width="1" height="1" fill="#e0a2a2"/><rect x="65" y="27" width="1" height="1" fill="#e6b0b0"/><rect x="66" y="27" width="1" height="1" fill="#eab8b8"/><rect x="67" y="27" width="1" height="1" fill="#c2c2ee"/><rect x="69" y="27" width="1" height="1" fill="#bcbcec"/><rect x="70" y="27" width="1" height="1" fill="#e0a2a2"/><rect x="71" y="27" width="1" height="1" fill="#f2cccc"/><rect x="76" y="27" width="1" height="1" fill="#ecbebe"/><rect x="77" y="27" width="1" height="1" fill="#e0a2a2"/><rect x="78" y="27" width="1" height="1" fill="#e0a2a2"/><rect x="79" y="27" width="1" height="1" fill="#e0a2a2"/><rect x="80" y="27" width="1" height="1" fill="#d4d4f4"/><rect x="81" y="27" width="1" height="1" fill="#bcbcec"/><rect x="82" y="27" width="1" height="1" fill="#c8c8f0"/><rect x="2" y="28" width="1" height="1" fill="#c8c8f0"/><rect x="3" y="28" width="1" height="1" fill="#e0a2a2"/><rect x="4" y="28" width="1" height="1" fill="#e0a2a2"/><rect x="6" y="28" width="1" height="1" fill="#e6b0b0"/><rect x="9" y="28" width="1" height="1" fill="#c8c8f0"/><rect x="10" y="28" width="1" height="1" fill="#bcbcec"/><rect x="11" y="28" width="1" height="1" fill="#e0a2a2"/><rect x="12" y="28" width="1" height="1" fill="#e0a2a2"/><rect x="13" y="28" width="1" height="1" fill="#f2cccc"/><rect x="15" y="28" width="1" height="1" fill="#bcbcec"/><rect x="18" y="28" width="1" height="1" fill="#f2cccc"/><rect x="19" y="28" width="1" height="1" fill="#eab8b8"/><rect x="21" y="28" width="1" height="1" fill="#e6b0b0"/><rect x="22" y="28" width="1" height="1" fill="#f2cccc"/><rect x="23" y="28" width="1" height="1" fill="#f2cccc"/><rect x="24" y="28" width="1" height="1" fill="#ecbebe"/><rect x="26" y="28" width="1" height="1" fill="#c2c2ee"/><rect x="27" y="28" width="1" height="1" fill="#bcbcec"/><rect x="29" y="28" width="1" height="1" fill="#c8c8f0"/><rect x="30" y="28" width="1" height="1" fill="#e0a2a2"/><rect x="31" y="28" width="1" height="1" fill="#c2c2ee"/><rect x="33" y="28" width="1" height="1" fill="#ecbebe"/><rect x="34" y="28" width="1" height="1" fill="#f2cccc"/><rect x="35" y="28" width="1" height="1" fill="#c8c8f0"/><rect x="38" y="28" width="1" height="1" fill="#ecbebe"/><rect x="40" y="28" width="1" height="1" fill="#eab8b8"/><rect x="42" y="28" width="1" height="1" fill="#d4d4f4"/><rect x="45" y="28" width="1" height="1" fill="#bcbcec"/><rect x="47" y="28" width="1" height="1" fill="#c8c8f0"/><rect x="52" y="28" width="1" height="1" fill="#c2c2ee"/><rect x="53" y="28" width="1" height="1" fill="#e6b0b0"/><rect x="54" y="28" width="1" height="1" fill="#bcbcec"/><rect x="55" y="28" width="1" height="1" fill="#ecbebe"/><rect x="56" y="28" width="1" height="1" fill="#bcbcec"/><rect x="57" y="28" width="1" height="1" fill="#c8c8f0"/><rect x="58" y="28" width="1" height="1" fill="#eab8b8"/><rect x="59" y="28" width="1" height="1" fill="#f2cccc"/><rect x="60" y="28" width="1" height="1" fill="#bcbcec"/><rect x="62" y="28" width="1" height="1" fill="#bcbcec"/><rect x="63" y="28" width="1" height="1" fill="#e6b0b0"/><rect x="64" y="28" width="1" height="1" fill="#c8c8f0"/><rect x="65" y="28" width="1" height="1" fill="#e6b0b0"/><rect x="70" y="28" width="1" height="1" fill="#c2c2ee"/><rect x="73" y="28" width="1" height="1" fill="#c8c8f0"/><rect x="75" y="28" width="1" height="1" fill="#bcbcec"/><rect x="76" y="28" width="1" height="1" fill="#bcbcec"/><rect x="78" y="28" width="1" height="1" fill="#e0a2a2"/><rect x="80" y="28" width="1" height="1" fill="#c2c2ee"/><rect x="81" y="28" width="1" height="1" fill="#ecbebe"/></pattern>
<pattern id="po" x="0" y="0" width="79" height="31" patternUnits="userSpaceOnUse"><rect width="79" height="31" fill="#fcf9f9"/><rect x="3" y="0" width="1" height="1" fill="#e29a9a"/><rect x="4" y="0" width="1" height="1" fill="#e6a8a8"/><rect x="9" y="0" width="1" height="1" fill="#d88888"/><rect x="10" y="0" width="1" height="1" fill="#e29a9a"/><rect x="13" y="0" width="1" height="1" fill="#d07474"/><rect x="17" y="0" width="1" height="1" fill="#eab4b4"/><rect x="21" y="0" width="1" height="1" fill="#e29a9a"/><rect x="23" y="0" width="1" height="1" fill="#c8c8f0"/><rect x="24" y="0" width="1" height="1" fill="#a0a0e4"/><rect x="29" y="0" width="1" height="1" fill="#c8c8f0"/><rect x="30" y="0" width="1" height="1" fill="#c8c8f0"/><rect x="31" y="0" width="1" height="1" fill="#c8c8f0"/><rect x="32" y="0" width="1" height="1" fill="#e29a9a"/><rect x="34" y="0" width="1" height="1" fill="#aaaae6"/><rect x="35" y="0" width="1" height="1" fill="#e6a8a8"/><rect x="37" y="0" width="1" height="1" fill="#b4b4ea"/><rect x="39" y="0" width="1" height="1" fill="#c8c8f0"/><rect x="41" y="0" width="1" height="1" fill="#eab4b4"/><rect x="44" y="0" width="1" height="1" fill="#e6a8a8"/><rect x="46" y="0" width="1" height="1" fill="#eab4b4"/><rect x="47" y="0" width="1" height="1" fill="#d07474"/><rect x="48" y="0" width="1" height="1" fill="#d07474"/><rect x="49" y="0" width="1" height="1" fill="#a0a0e4"/><rect x="50" y="0" width="1" height="1" fill="#b4b4ea"/><rect x="54" y="0" width="1" height="1" fill="#a0a0e4"/><rect x="58" y="0" width="1" height="1" fill="#eab4b4"/><rect x="59" y="0" width="1" height="1" fill="#e6a8a8"/><rect x="60" y="0" width="1" height="1" fill="#d07474"/><rect x="62" y="0" width="1" height="1" fill="#eab4b4"/><rect x="63" y="0" width="1" height="1" fill="#aaaae6"/><rect x="64" y="0" width="1" height="1" fill="#eab4b4"/><rect x="65" y="0" width="1" height="1" fill="#d07474"/><rect x="67" y="0" width="1" height="1" fill="#b4b4ea"/><rect x="71" y="0" width="1" height="1" fill="#b4b4ea"/><rect x="74" y="0" width="1" height="1" fill="#b4b4ea"/><rect x="75" y="0" width="1" height="1" fill="#eab4b4"/><rect x="0" y="1" width="1" height="1" fill="#eab4b4"/><rect x="1" y="1" width="1" height="1" fill="#c8c8f0"/><rect x="2" y="1" width="1" height="1" fill="#e6a8a8"/><rect x="6" y="1" width="1" height="1" fill="#d07474"/><rect x="7" y="1" width="1" height="1" fill="#d88888"/><rect x="8" y="1" width="1" height="1" fill="#b4b4ea"/><rect x="9" y="1" width="1" height="1" fill="#a0a0e4"/><rect x="11" y="1" width="1" height="1" fill="#eab4b4"/><rect x="13" y="1" width="1" height="1" fill="#d88888"/><rect x="15" y="1" width="1" height="1" fill="#d07474"/><rect x="18" y="1" width="1" height="1" fill="#e6a8a8"/><rect x="19" y="1" width="1" height="1" fill="#c8c8f0"/><rect x="20" y="1" width="1" height="1" fill="#e6a8a8"/><rect x="21" y="1" width="1" height="1" fill="#eab4b4"/><rect x="22" y="1" width="1" height="1" fill="#aaaae6"/><rect x="23" y="1" width="1" height="1" fill="#c8c8f0"/><rect x="24" y="1" width="1" height="1" fill="#a0a0e4"/><rect x="25" y="1" width="1" height="1" fill="#d88888"/><rect x="27" y="1" width="1" height="1" fill="#e29a9a"/><rect x="28" y="1" width="1" height="1" fill="#b4b4ea"/><rect x="29" y="1" width="1" height="1" fill="#d07474"/><rect x="30" y="1" width="1" height="1" fill="#aaaae6"/><rect x="34" y="1" width="1" height="1" fill="#a0a0e4"/><rect x="35" y="1" width="1" height="1" fill="#d88888"/><rect x="36" y="1" width="1" height="1" fill="#aaaae6"/><rect x="39" y="1" width="1" height="1" fill="#aaaae6"/><rect x="40" y="1" width="1" height="1" fill="#eab4b4"/><rect x="43" y="1" width="1" height="1" fill="#a0a0e4"/><rect x="44" y="1" width="1" height="1" fill="#d07474"/><rect x="45" y="1" width="1" height="1" fill="#eab4b4"/><rect x="46" y="1" width="1" height="1" fill="#d88888"/><rect x="47" y="1" width="1" height="1" fill="#e29a9a"/><rect x="48" y="1" width="1" height="1" fill="#c8c8f0"/><rect x="53" y="1" width="1" height="1" fill="#c8c8f0"/><rect x="57" y="1" width="1" height="1" fill="#a0a0e4"/><rect x="59" y="1" width="1" height="1" fill="#d07474"/><rect x="60" y="1" width="1" height="1" fill="#d88888"/><rect x="61" y="1" width="1" height="1" fill="#d88888"/><rect x="63" y="1" width="1" height="1" fill="#d07474"/><rect x="66" y="1" width="1" height="1" fill="#d07474"/><rect x="67" y="1" width="1" height="1" fill="#e6a8a8"/><rect x="68" y="1" width="1" height="1" fill="#d88888"/><rect x="69" y="1" width="1" height="1" fill="#eab4b4"/><rect x="71" y="1" width="1" height="1" fill="#d07474"/><rect x="72" y="1" width="1" height="1" fill="#eab4b4"/><rect x="75" y="1" width="1" height="1" fill="#d07474"/><rect x="76" y="1" width="1" height="1" fill="#a0a0e4"/><rect x="78" y="1" width="1" height="1" fill="#a0a0e4"/><rect x="6" y="2" width="1" height="1" fill="#aaaae6"/><rect x="8" y="2" width="1" height="1" fill="#e6a8a8"/><rect x="10" y="2" width="1" height="1" fill="#a0a0e4"/><rect x="14" y="2" width="1" height="1" fill="#a0a0e4"/><rect x="16" y="2" width="1" height="1" fill="#d07474"/><rect x="18" y="2" width="1" height="1" fill="#eab4b4"/><rect x="19" y="2" width="1" height="1" fill="#c8c8f0"/><rect x="21" y="2" width="1" height="1" fill="#e6a8a8"/><rect x="23" y="2" width="1" height="1" fill="#c8c8f0"/><rect x="26" y="2" width="1" height="1" fill="#eab4b4"/><rect x="31" y="2" width="1" height="1" fill="#aaaae6"/><rect x="35" y="2" width="1" height="1" fill="#d07474"/><rect x="37" y="2" width="1" height="1" fill="#d88888"/><rect x="41" y="2" width="1" height="1" fill="#d07474"/><rect x="43" y="2" width="1" height="1" fill="#d88888"/><rect x="44" y="2" width="1" height="1" fill="#e29a9a"/><rect x="45" y="2" width="1" height="1" fill="#eab4b4"/><rect x="47" y="2" width="1" height="1" fill="#a0a0e4"/><rect x="48" y="2" width="1" height="1" fill="#e29a9a"/><rect x="49" y="2" width="1" height="1" fill="#e6a8a8"/><rect x="50" y="2" width="1" height="1" fill="#e29a9a"/><rect x="53" y="2" width="1" height="1" fill="#e6a8a8"/><rect x="54" y="2" width="1" height="1" fill="#e29a9a"/><rect x="56" y="2" width="1" height="1" fill="#a0a0e4"/><rect x="58" y="2" width="1" height="1" fill="#a0a0e4"/><rect x="62" y="2" width="1" height="1" fill="#eab4b4"/><rect x="66" y="2" width="1" height="1" fill="#c8c8f0"/><rect x="67" y="2" width="1" height="1" fill="#c8c8f0"/><rect x="68" y="2" width="1" height="1" fill="#eab4b4"/><rect x="70" y="2" width="1" height="1" fill="#e29a9a"/><rect x="72" y="2" width="1" height="1" fill="#aaaae6"/><rect x="73" y="2" width="1" height="1" fill="#aaaae6"/><rect x="77" y="2" width="1" height="1" fill="#a0a0e4"/><rect x="1" y="3" width="1" height="1" fill="#e6a8a8"/><rect x="2" y="3" width="1" height="1" fill="#d88888"/><rect x="5" y="3" width="1" height="1" fill="#aaaae6"/><rect x="6" y="3" width="1" height="1" fill="#e29a9a"/><rect x="8" y="3" width="1" height="1" fill="#e29a9a"/><rect x="9" y="3" width="1" height="1" fill="#c8c8f0"/><rect x="14" y="3" width="1" height="1" fill="#d07474"/><rect x="16" y="3" width="1" height="1" fill="#a0a0e4"/><rect x="21" y="3" width="1" height="1" fill="#e6a8a8"/><rect x="23" y="3" width="1" height="1" fill="#e6a8a8"/><rect x="26" y="3" width="1" height="1" fill="#eab4b4"/><rect x="30" y="3" width="1" height="1" fill="#eab4b4"/><rect x="32" y="3" width="1" height="1" fill="#e29a9a"/><rect x="33" y="3" width="1" height="1" fill="#aaaae6"/><rect x="35" y="3" width="1" height="1" fill="#e6a8a8"/><rect x="37" y="3" width="1" height="1" fill="#d88888"/><rect x="38" y="3" width="1" height="1" fill="#d88888"/><rect x="39" y="3" width="1" height="1" fill="#e29a9a"/><rect x="40" y="3" width="1" height="1" fill="#aaaae6"/><rect x="43" y="3" width="1" height="1" fill="#e6a8a8"/><rect x="44" y="3" width="1" height="1" fill="#e6a8a8"/><rect x="46" y="3" width="1" height="1" fill="#e6a8a8"/><rect x="48" y="3" width="1" height="1" fill="#e29a9a"/><rect x="52" y="3" width="1" height="1" fill="#d88888"/><rect x="54" y="3" width="1" height="1" fill="#d07474"/><rect x="57" y="3" width="1" height="1" fill="#c8c8f0"/><rect x="61" y="3" width="1" height="1" fill="#d07474"/><rect x="64" y="3" width="1" height="1" fill="#c8c8f0"/><rect x="65" y="3" width="1" height="1" fill="#e6a8a8"/><rect x="69" y="3" width="1" height="1" fill="#d07474"/><rect x="70" y="3" width="1" height="1" fill="#e6a8a8"/><rect x="71" y="3" width="1" height="1" fill="#d88888"/><rect x="72" y="3" width="1" height="1" fill="#a0a0e4"/><rect x="73" y="3" width="1" height="1" fill="#b4b4ea"/><rect x="75" y="3" width="1" height="1" fill="#e6a8a8"/><rect x="76" y="3" width="1" height="1" fill="#d88888"/><rect x="77" y="3" width="1" height="1" fill="#e29a9a"/><rect x="1" y="4" width="1" height="1" fill="#c8c8f0"/><rect x="2" y="4" width="1" height="1" fill="#d07474"/><rect x="3" y="4" width="1" height="1" fill="#d07474"/><rect x="7" y="4" width="1" height="1" fill="#c8c8f0"/><rect x="8" y="4" width="1" height="1" fill="#d07474"/><rect x="10" y="4" width="1" height="1" fill="#e6a8a8"/><rect x="11" y="4" width="1" height="1" fill="#e6a8a8"/><rect x="12" y="4" width="1" height="1" fill="#e29a9a"/><rect x="13" y="4" width="1" height="1" fill="#a0a0e4"/><rect x="15" y="4" width="1" height="1" fill="#e6a8a8"/><rect x="20" y="4" width="1" height="1" fill="#aaaae6"/><rect x="24" y="4" width="1" height="1" fill="#a0a0e4"/><rect x="25" y="4" width="1" height="1" fill="#a0a0e4"/><rect x="27" y="4" width="1" height="1" fill="#d07474"/><rect x="28" y="4" width="1" height="1" fill="#e29a9a"/><rect x="30" y="4" width="1" height="1" fill="#e29a9a"/><rect x="31" y="4" width="1" height="1" fill="#b4b4ea"/><rect x="33" y="4" width="1" height="1" fill="#a0a0e4"/><rect x="34" y="4" width="1" height="1" fill="#eab4b4"/><rect x="35" y="4" width="1" height="1" fill="#eab4b4"/><rect x="47" y="4" width="1" height="1" fill="#d07474"/><rect x="49" y="4" width="1" height="1" fill="#eab4b4"/><rect x="51" y="4" width="1" height="1" fill="#e6a8a8"/><rect x="52" y="4" width="1" height="1" fill="#aaaae6"/><rect x="54" y="4" width="1" height="1" fill="#d07474"/><rect x="57" y="4" width="1" height="1" fill="#aaaae6"/><rect x="59" y="4" width="1" height="1" fill="#e6a8a8"/><rect x="60" y="4" width="1" height="1" fill="#d88888"/><rect x="61" y="4" width="1" height="1" fill="#b4b4ea"/><rect x="62" y="4" width="1" height="1" fill="#eab4b4"/><rect x="63" y="4" width="1" height="1" fill="#a0a0e4"/><rect x="64" y="4" width="1" height="1" fill="#aaaae6"/><rect x="65" y="4" width="1" height="1" fill="#e6a8a8"/><rect x="68" y="4" width="1" height="1" fill="#d07474"/><rect x="69" y="4" width="1" height="1" fill="#c8c8f0"/><rect x="70" y="4" width="1" height="1" fill="#d07474"/><rect x="72" y="4" width="1" height="1" fill="#aaaae6"/><rect x="74" y="4" width="1" height="1" fill="#aaaae6"/><rect x="75" y="4" width="1" height="1" fill="#d07474"/><rect x="77" y="4" width="1" height="1" fill="#c8c8f0"/><rect x="0" y="5" width="1" height="1" fill="#d07474"/><rect x="2" y="5" width="1" height="1" fill="#eab4b4"/><rect x="4" y="5" width="1" height="1" fill="#d07474"/><rect x="6" y="5" width="1" height="1" fill="#aaaae6"/><rect x="8" y="5" width="1" height="1" fill="#d88888"/><rect x="9" y="5" width="1" height="1" fill="#a0a0e4"/><rect x="10" y="5" width="1" height="1" fill="#d07474"/><rect x="11" y="5" width="1" height="1" fill="#d07474"/><rect x="14" y="5" width="1" height="1" fill="#d88888"/><rect x="15" y="5" width="1" height="1" fill="#eab4b4"/><rect x="17" y="5" width="1" height="1" fill="#a0a0e4"/><rect x="18" y="5" width="1" height="1" fill="#eab4b4"/><rect x="19" y="5" width="1" height="1" fill="#d07474"/><rect x="20" y="5" width="1" height="1" fill="#c8c8f0"/><rect x="21" y="5" width="1" height="1" fill="#c8c8f0"/><rect x="22" y="5" width="1" height="1" fill="#e29a9a"/><rect x="25" y="5" width="1" height="1" fill="#d07474"/><rect x="27" y="5" width="1" height="1" fill="#a0a0e4"/><rect x="28" y="5" width="1" height="1" fill="#c8c8f0"/><rect x="31" y="5" width="1" height="1" fill="#c8c8f0"/><rect x="32" y="5" width="1" height="1" fill="#e6a8a8"/><rect x="33" y="5" width="1" height="1" fill="#c8c8f0"/><rect x="35" y="5" width="1" height="1" fill="#eab4b4"/><rect x="36" y="5" width="1" height="1" fill="#c8c8f0"/><rect x="38" y="5" width="1" height="1" fill="#eab4b4"/><rect x="40" y="5" width="1" height="1" fill="#b4b4ea"/><rect x="41" y="5" width="1" height="1" fill="#e29a9a"/><rect x="42" y="5" width="1" height="1" fill="#d07474"/><rect x="45" y="5" width="1" height="1" fill="#d07474"/><rect x="46" y="5" width="1" height="1" fill="#d07474"/><rect x="49" y="5" width="1" height="1" fill="#b4b4ea"/><rect x="50" y="5" width="1" height="1" fill="#d07474"/><rect x="54" y="5" width="1" height="1" fill="#e6a8a8"/><rect x="55" y="5" width="1" height="1" fill="#e29a9a"/><rect x="56" y="5" width="1" height="1" fill="#e6a8a8"/><rect x="59" y="5" width="1" height="1" fill="#aaaae6"/><rect x="61" y="5" width="1" height="1" fill="#e6a8a8"/><rect x="62" y="5" width="1" height="1" fill="#e29a9a"/><rect x="64" y="5" width="1" height="1" fill="#d07474"/><rect x="65" y="5" width="1" height="1" fill="#e29a9a"/><rect x="66" y="5" width="1" height="1" fill="#eab4b4"/><rect x="68" y="5" width="1" height="1" fill="#d07474"/><rect x="71" y="5" width="1" height="1" fill="#d07474"/><rect x="73" y="5" width="1" height="1" fill="#e6a8a8"/><rect x="74" y="5" width="1" height="1" fill="#b4b4ea"/><rect x="75" y="5" width="1" height="1" fill="#a0a0e4"/><rect x="76" y="5" width="1" height="1" fill="#d88888"/><rect x="3" y="6" width="1" height="1" fill="#d88888"/><rect x="4" y="6" width="1" height="1" fill="#aaaae6"/><rect x="7" y="6" width="1" height="1" fill="#eab4b4"/><rect x="10" y="6" width="1" height="1" fill="#aaaae6"/><rect x="12" y="6" width="1" height="1" fill="#c8c8f0"/><rect x="14" y="6" width="1" height="1" fill="#aaaae6"/><rect x="16" y="6" width="1" height="1" fill="#e6a8a8"/><rect x="21" y="6" width="1" height="1" fill="#a0a0e4"/><rect x="22" y="6" width="1" height="1" fill="#a0a0e4"/><rect x="23" y="6" width="1" height="1" fill="#d07474"/><rect x="24" y="6" width="1" height="1" fill="#e6a8a8"/><rect x="25" y="6" width="1" height="1" fill="#eab4b4"/><rect x="28" y="6" width="1" height="1" fill="#b4b4ea"/><rect x="31" y="6" width="1" height="1" fill="#a0a0e4"/><rect x="36" y="6" width="1" height="1" fill="#c8c8f0"/><rect x="38" y="6" width="1" height="1" fill="#a0a0e4"/><rect x="39" y="6" width="1" height="1" fill="#d88888"/><rect x="40" y="6" width="1" height="1" fill="#b4b4ea"/><rect x="41" y="6" width="1" height="1" fill="#c8c8f0"/><rect x="43" y="6" width="1" height="1" fill="#b4b4ea"/><rect x="44" y="6" width="1" height="1" fill="#eab4b4"/><rect x="48" y="6" width="1" height="1" fill="#d88888"/><rect x="49" y="6" width="1" height="1" fill="#a0a0e4"/><rect x="51" y="6" width="1" height="1" fill="#a0a0e4"/><rect x="54" y="6" width="1" height="1" fill="#d88888"/><rect x="57" y="6" width="1" height="1" fill="#eab4b4"/><rect x="60" y="6" width="1" height="1" fill="#c8c8f0"/><rect x="61" y="6" width="1" height="1" fill="#a0a0e4"/><rect x="62" y="6" width="1" height="1" fill="#e6a8a8"/><rect x="63" y="6" width="1" height="1" fill="#eab4b4"/><rect x="64" y="6" width="1" height="1" fill="#e29a9a"/><rect x="65" y="6" width="1" height="1" fill="#b4b4ea"/><rect x="66" y="6" width="1" height="1" fill="#e29a9a"/><rect x="67" y="6" width="1" height="1" fill="#aaaae6"/><rect x="68" y="6" width="1" height="1" fill="#c8c8f0"/><rect x="69" y="6" width="1" height="1" fill="#b4b4ea"/><rect x="71" y="6" width="1" height="1" fill="#b4b4ea"/><rect x="75" y="6" width="1" height="1" fill="#d07474"/><rect x="0" y="7" width="1" height="1" fill="#b4b4ea"/><rect x="2" y="7" width="1" height="1" fill="#e29a9a"/><rect x="3" y="7" width="1" height="1" fill="#c8c8f0"/><rect x="5" y="7" width="1" height="1" fill="#e6a8a8"/><rect x="7" y="7" width="1" height="1" fill="#b4b4ea"/><rect x="8" y="7" width="1" height="1" fill="#e6a8a8"/><rect x="10" y="7" width="1" height="1" fill="#a0a0e4"/><rect x="12" y="7" width="1" height="1" fill="#eab4b4"/><rect x="14" y="7" width="1" height="1" fill="#e29a9a"/><rect x="15" y="7" width="1" height="1" fill="#d07474"/><rect x="18" y="7" width="1" height="1" fill="#d07474"/><rect x="20" y="7" width="1" height="1" fill="#a0a0e4"/><rect x="21" y="7" width="1" height="1" fill="#d07474"/><rect x="26" y="7" width="1" height="1" fill="#d07474"/><rect x="28" y="7" width="1" height="1" fill="#c8c8f0"/><rect x="29" y="7" width="1" height="1" fill="#d88888"/><rect x="30" y="7" width="1" height="1" fill="#d88888"/><rect x="34" y="7" width="1" height="1" fill="#d88888"/><rect x="35" y="7" width="1" height="1" fill="#a0a0e4"/><rect x="36" y="7" width="1" height="1" fill="#a0a0e4"/><rect x="40" y="7" width="1" height="1" fill="#d07474"/><rect x="41" y="7" width="1" height="1" fill="#d07474"/><rect x="42" y="7" width="1" height="1" fill="#b4b4ea"/><rect x="44" y="7" width="1" height="1" fill="#b4b4ea"/><rect x="45" y="7" width="1" height="1" fill="#e6a8a8"/><rect x="46" y="7" width="1" height="1" fill="#e6a8a8"/><rect x="47" y="7" width="1" height="1" fill="#aaaae6"/><rect x="48" y="7" width="1" height="1" fill="#b4b4ea"/><rect x="50" y="7" width="1" height="1" fill="#a0a0e4"/><rect x="51" y="7" width="1" height="1" fill="#d07474"/><rect x="58" y="7" width="1" height="1" fill="#eab4b4"/><rect x="59" y="7" width="1" height="1" fill="#eab4b4"/><rect x="60" y="7" width="1" height="1" fill="#aaaae6"/><rect x="61" y="7" width="1" height="1" fill="#aaaae6"/><rect x="63" y="7" width="1" height="1" fill="#a0a0e4"/><rect x="66" y="7" width="1" height="1" fill="#eab4b4"/><rect x="70" y="7" width="1" height="1" fill="#c8c8f0"/><rect x="72" y="7" width="1" height="1" fill="#eab4b4"/><rect x="73" y="7" width="1" height="1" fill="#c8c8f0"/><rect x="74" y="7" width="1" height="1" fill="#a0a0e4"/><rect x="75" y="7" width="1" height="1" fill="#d07474"/><rect x="77" y="7" width="1" height="1" fill="#a0a0e4"/><rect x="3" y="8" width="1" height="1" fill="#e29a9a"/><rect x="4" y="8" width="1" height="1" fill="#b4b4ea"/><rect x="6" y="8" width="1" height="1" fill="#a0a0e4"/><rect x="7" y="8" width="1" height="1" fill="#d88888"/><rect x="8" y="8" width="1" height="1" fill="#e29a9a"/><rect x="10" y="8" width="1" height="1" fill="#e6a8a8"/><rect x="11" y="8" width="1" height="1" fill="#a0a0e4"/><rect x="14" y="8" width="1" height="1" fill="#d07474"/><rect x="15" y="8" width="1" height="1" fill="#b4b4ea"/><rect x="19" y="8" width="1" height="1" fill="#e6a8a8"/><rect x="20" y="8" width="1" height="1" fill="#c8c8f0"/><rect x="21" y="8" width="1" height="1" fill="#b4b4ea"/><rect x="22" y="8" width="1" height="1" fill="#eab4b4"/><rect x="24" y="8" width="1" height="1" fill="#b4b4ea"/><rect x="25" y="8" width="1" height="1" fill="#d07474"/><rect x="27" y="8" width="1" height="1" fill="#a0a0e4"/><rect x="28" y="8" width="1" height="1" fill="#c8c8f0"/><rect x="30" y="8" width="1" height="1" fill="#d88888"/><rect x="31" y="8" width="1" height="1" fill="#c8c8f0"/><rect x="34" y="8" width="1" height="1" fill="#eab4b4"/><rect x="36" y="8" width="1" height="1" fill="#a0a0e4"/><rect x="37" y="8" width="1" height="1" fill="#c8c8f0"/><rect x="39" y="8" width="1" height="1" fill="#e6a8a8"/><rect x="42" y="8" width="1" height="1" fill="#d07474"/><rect x="45" y="8" width="1" height="1" fill="#b4b4ea"/><rect x="46" y="8" width="1" height="1" fill="#e29a9a"/><rect x="48" y="8" width="1" height="1" fill="#c8c8f0"/><rect x="50" y="8" width="1" height="1" fill="#e6a8a8"/><rect x="54" y="8" width="1" height="1" fill="#d07474"/><rect x="57" y="8" width="1" height="1" fill="#e29a9a"/><rect x="58" y="8" width="1" height="1" fill="#aaaae6"/><rect x="59" y="8" width="1" height="1" fill="#d07474"/><rect x="63" y="8" width="1" height="1" fill="#e6a8a8"/><rect x="64" y="8" width="1" height="1" fill="#aaaae6"/><rect x="65" y="8" width="1" height="1" fill="#c8c8f0"/><rect x="67" y="8" width="1" height="1" fill="#d07474"/><rect x="68" y="8" width="1" height="1" fill="#eab4b4"/><rect x="73" y="8" width="1" height="1" fill="#c8c8f0"/><rect x="75" y="8" width="1" height="1" fill="#eab4b4"/><rect x="76" y="8" width="1" height="1" fill="#d07474"/><rect x="78" y="8" width="1" height="1" fill="#c8c8f0"/><rect x="0" y="9" width="1" height="1" fill="#d88888"/><rect x="1" y="9" width="1" height="1" fill="#e6a8a8"/><rect x="2" y="9" width="1" height="1" fill="#eab4b4"/><rect x="3" y="9" width="1" height="1" fill="#c8c8f0"/><rect x="4" y="9" width="1" height="1" fill="#c8c8f0"/><rect x="7" y="9" width="1" height="1" fill="#a0a0e4"/><rect x="8" y="9" width="1" height="1" fill="#d07474"/><rect x="10" y="9" width="1" height="1" fill="#d07474"/><rect x="11" y="9" width="1" height="1" fill="#d88888"/><rect x="15" y="9" width="1" height="1" fill="#eab4b4"/><rect x="18" y="9" width="1" height="1" fill="#c8c8f0"/><rect x="25" y="9" width="1" height="1" fill="#eab4b4"/><rect x="27" y="9" width="1" height="1" fill="#c8c8f0"/><rect x="28" y="9" width="1" height="1" fill="#e29a9a"/><rect x="29" y="9" width="1" height="1" fill="#e29a9a"/><rect x="31" y="9" width="1" height="1" fill="#aaaae6"/><rect x="32" y="9" width="1" height="1" fill="#c8c8f0"/><rect x="33" y="9" width="1" height="1" fill="#e6a8a8"/><rect x="42" y="9" width="1" height="1" fill="#d07474"/><rect x="45" y="9" width="1" height="1" fill="#e29a9a"/><rect x="50" y="9" width="1" height="1" fill="#c8c8f0"/><rect x="51" y="9" width="1" height="1" fill="#a0a0e4"/><rect x="52" y="9" width="1" height="1" fill="#aaaae6"/><rect x="56" y="9" width="1" height="1" fill="#e29a9a"/><rect x="58" y="9" width="1" height="1" fill="#aaaae6"/><rect x="63" y="9" width="1" height="1" fill="#c8c8f0"/><rect x="64" y="9" width="1" height="1" fill="#c8c8f0"/><rect x="65" y="9" width="1" height="1" fill="#e6a8a8"/><rect x="67" y="9" width="1" height="1" fill="#c8c8f0"/><rect x="69" y="9" width="1" height="1" fill="#d88888"/><rect x="73" y="9" width="1" height="1" fill="#eab4b4"/><rect x="74" y="9" width="1" height="1" fill="#e29a9a"/><rect x="76" y="9" width="1" height="1" fill="#b4b4ea"/><rect x="1" y="10" width="1" height="1" fill="#e29a9a"/><rect x="3" y="10" width="1" height="1" fill="#aaaae6"/><rect x="6" y="10" width="1" height="1" fill="#e29a9a"/><rect x="8" y="10" width="1" height="1" fill="#e6a8a8"/><rect x="11" y="10" width="1" height="1" fill="#d07474"/><rect x="12" y="10" width="1" height="1" fill="#aaaae6"/><rect x="13" y="10" width="1" height="1" fill="#d07474"/><rect x="14" y="10" width="1" height="1" fill="#e6a8a8"/><rect x="15" y="10" width="1" height="1" fill="#e6a8a8"/><rect x="16" y="10" width="1" height="1" fill="#d88888"/><rect x="18" y="10" width="1" height="1" fill="#eab4b4"/><rect x="19" y="10" width="1" height="1" fill="#e29a9a"/><rect x="23" y="10" width="1" height="1" fill="#e6a8a8"/><rect x="24" y="10" width="1" height="1" fill="#e29a9a"/><rect x="25" y="10" width="1" height="1" fill="#e6a8a8"/><rect x="26" y="10" width="1" height="1" fill="#eab4b4"/><rect x="28" y="10" width="1" height="1" fill="#b4b4ea"/><rect x="29" y="10" width="1" height="1" fill="#d88888"/><rect x="31" y="10" width="1" height="1" fill="#b4b4ea"/><rect x="33" y="10" width="1" height="1" fill="#d07474"/><rect x="34" y="10" width="1" height="1" fill="#aaaae6"/><rect x="36" y="10" width="1" height="1" fill="#d07474"/><rect x="39" y="10" width="1" height="1" fill="#c8c8f0"/><rect x="41" y="10" width="1" height="1" fill="#aaaae6"/><rect x="43" y="10" width="1" height="1" fill="#d07474"/><rect x="44" y="10" width="1" height="1" fill="#b4b4ea"/><rect x="45" y="10" width="1" height="1" fill="#aaaae6"/><rect x="46" y="10" width="1" height="1" fill="#d88888"/><rect x="50" y="10" width="1" height="1" fill="#e29a9a"/><rect x="51" y="10" width="1" height="1" fill="#e6a8a8"/><rect x="52" y="10" width="1" height="1" fill="#eab4b4"/><rect x="57" y="10" width="1" height="1" fill="#d88888"/><rect x="61" y="10" width="1" height="1" fill="#e6a8a8"/><rect x="64" y="10" width="1" height="1" fill="#e29a9a"/><rect x="69" y="10" width="1" height="1" fill="#eab4b4"/><rect x="70" y="10" width="1" height="1" fill="#d88888"/><rect x="72" y="10" width="1" height="1" fill="#e6a8a8"/><rect x="73" y="10" width="1" height="1" fill="#d88888"/><rect x="75" y="10" width="1" height="1" fill="#d88888"/><rect x="76" y="10" width="1" height="1" fill="#a0a0e4"/><rect x="78" y="10" width="1" height="1" fill="#d88888"/><rect x="0" y="11" width="1" height="1" fill="#c8c8f0"/><rect x="2" y="11" width="1" height="1" fill="#d07474"/><rect x="4" y="11" width="1" height="1" fill="#d07474"/><rect x="5" y="11" width="1" height="1" fill="#d88888"/><rect x="7" y="11" width="1" height="1" fill="#b4b4ea"/><rect x="8" y="11" width="1" height="1" fill="#d07474"/><rect x="9" y="11" width="1" height="1" fill="#a0a0e4"/><rect x="10" y="11" width="1" height="1" fill="#eab4b4"/><rect x="11" y="11" width="1" height="1" fill="#e6a8a8"/><rect x="12" y="11" width="1" height="1" fill="#a0a0e4"/><rect x="14" y="11" width="1" height="1" fill="#a0a0e4"/><rect x="15" y="11" width="1" height="1" fill="#b4b4ea"/><rect x="18" y="11" width="1" height="1" fill="#d88888"/><rect x="22" y="11" width="1" height="1" fill="#aaaae6"/><rect x="24" y="11" width="1" height="1" fill="#e6a8a8"/><rect x="25" y="11" width="1" height="1" fill="#e6a8a8"/><rect x="27" y="11" width="1" height="1" fill="#e29a9a"/><rect x="29" y="11" width="1" height="1" fill="#c8c8f0"/><rect x="32" y="11" width="1" height="1" fill="#e6a8a8"/><rect x="35" y="11" width="1" height="1" fill="#eab4b4"/><rect x="37" y="11" width="1" height="1" fill="#e6a8a8"/><rect x="38" y="11" width="1" height="1" fill="#c8c8f0"/><rect x="39" y="11" width="1" height="1" fill="#a0a0e4"/><rect x="42" y="11" width="1" height="1" fill="#aaaae6"/><rect x="44" y="11" width="1" height="1" fill="#a0a0e4"/><rect x="46" y="11" width="1" height="1" fill="#b4b4ea"/><rect x="47" y="11" width="1" height="1" fill="#aaaae6"/><rect x="50" y="11" width="1" height="1" fill="#d88888"/><rect x="53" y="11" width="1" height="1" fill="#d88888"/><rect x="57" y="11" width="1" height="1" fill="#a0a0e4"/><rect x="58" y="11" width="1" height="1" fill="#d88888"/><rect x="59" y="11" width="1" height="1" fill="#eab4b4"/><rect x="61" y="11" width="1" height="1" fill="#a0a0e4"/><rect x="63" y="11" width="1" height="1" fill="#d88888"/><rect x="64" y="11" width="1" height="1" fill="#d88888"/><rect x="65" y="11" width="1" height="1" fill="#e29a9a"/><rect x="67" y="11" width="1" height="1" fill="#e6a8a8"/><rect x="68" y="11" width="1" height="1" fill="#e6a8a8"/><rect x="69" y="11" width="1" height="1" fill="#a0a0e4"/><rect x="74" y="11" width="1" height="1" fill="#aaaae6"/><rect x="76" y="11" width="1" height="1" fill="#e6a8a8"/><rect x="77" y="11" width="1" height="1" fill="#e29a9a"/><rect x="0" y="12" width="1" height="1" fill="#a0a0e4"/><rect x="2" y="12" width="1" height="1" fill="#c8c8f0"/><rect x="7" y="12" width="1" height="1" fill="#b4b4ea"/><rect x="8" y="12" width="1" height="1" fill="#e6a8a8"/><rect x="9" y="12" width="1" height="1" fill="#eab4b4"/><rect x="11" y="12" width="1" height="1" fill="#b4b4ea"/><rect x="12" y="12" width="1" height="1" fill="#e29a9a"/><rect x="15" y="12" width="1" height="1" fill="#eab4b4"/><rect x="17" y="12" width="1" height="1" fill="#e29a9a"/><rect x="18" y="12" width="1" height="1" fill="#e6a8a8"/><rect x="21" y="12" width="1" height="1" fill="#d07474"/><rect x="23" y="12" width="1" height="1" fill="#a0a0e4"/><rect x="24" y="12" width="1" height="1" fill="#e6a8a8"/><rect x="26" y="12" width="1" height="1" fill="#eab4b4"/><rect x="27" y="12" width="1" height="1" fill="#d88888"/><rect x="29" y="12" width="1" height="1" fill="#d07474"/><rect x="30" y="12" width="1" height="1" fill="#d88888"/><rect x="35" y="12" width="1" height="1" fill="#eab4b4"/><rect x="38" y="12" width="1" height="1" fill="#a0a0e4"/><rect x="39" y="12" width="1" height="1" fill="#a0a0e4"/><rect x="41" y="12" width="1" height="1" fill="#d07474"/><rect x="42" y="12" width="1" height="1" fill="#e29a9a"/><rect x="46" y="12" width="1" height="1" fill="#e29a9a"/><rect x="47" y="12" width="1" height="1" fill="#e6a8a8"/><rect x="49" y="12" width="1" height="1" fill="#d88888"/><rect x="50" y="12" width="1" height="1" fill="#e29a9a"/><rect x="51" y="12" width="1" height="1" fill="#aaaae6"/><rect x="54" y="12" width="1" height="1" fill="#b4b4ea"/><rect x="56" y="12" width="1" height="1" fill="#a0a0e4"/><rect x="58" y="12" width="1" height="1" fill="#e6a8a8"/><rect x="60" y="12" width="1" height="1" fill="#e6a8a8"/><rect x="61" y="12" width="1" height="1" fill="#e29a9a"/><rect x="66" y="12" width="1" height="1" fill="#c8c8f0"/><rect x="69" y="12" width="1" height="1" fill="#a0a0e4"/><rect x="70" y="12" width="1" height="1" fill="#e6a8a8"/><rect x="76" y="12" width="1" height="1" fill="#aaaae6"/><rect x="77" y="12" width="1" height="1" fill="#d07474"/><rect x="78" y="12" width="1" height="1" fill="#eab4b4"/><rect x="0" y="13" width="1" height="1" fill="#d07474"/><rect x="2" y="13" width="1" height="1" fill="#c8c8f0"/><rect x="4" y="13" width="1" height="1" fill="#d88888"/><rect x="5" y="13" width="1" height="1" fill="#a0a0e4"/><rect x="7" y="13" width="1" height="1" fill="#a0a0e4"/><rect x="9" y="13" width="1" height="1" fill="#c8c8f0"/><rect x="12" y="13" width="1" height="1" fill="#c8c8f0"/><rect x="14" y="13" width="1" height="1" fill="#b4b4ea"/><rect x="17" y="13" width="1" height="1" fill="#d07474"/><rect x="18" y="13" width="1" height="1" fill="#d88888"/><rect x="19" y="13" width="1" height="1" fill="#eab4b4"/><rect x="20" y="13" width="1" height="1" fill="#a0a0e4"/><rect x="24" y="13" width="1" height="1" fill="#d07474"/><rect x="25" y="13" width="1" height="1" fill="#a0a0e4"/><rect x="27" y="13" width="1" height="1" fill="#d88888"/><rect x="29" y="13" width="1" height="1" fill="#c8c8f0"/><rect x="31" y="13" width="1" height="1" fill="#eab4b4"/><rect x="32" y="13" width="1" height="1" fill="#b4b4ea"/><rect x="34" y="13" width="1" height="1" fill="#d07474"/><rect x="38" y="13" width="1" height="1" fill="#e6a8a8"/><rect x="39" y="13" width="1" height="1" fill="#e29a9a"/><rect x="42" y="13" width="1" height="1" fill="#aaaae6"/><rect x="46" y="13" width="1" height="1" fill="#c8c8f0"/><rect x="47" y="13" width="1" height="1" fill="#b4b4ea"/><rect x="50" y="13" width="1" height="1" fill="#d07474"/><rect x="51" y="13" width="1" height="1" fill="#d88888"/><rect x="56" y="13" width="1" height="1" fill="#b4b4ea"/><rect x="57" y="13" width="1" height="1" fill="#d07474"/><rect x="58" y="13" width="1" height="1" fill="#b4b4ea"/><rect x="59" y="13" width="1" height="1" fill="#c8c8f0"/><rect x="63" y="13" width="1" height="1" fill="#e6a8a8"/><rect x="64" y="13" width="1" height="1" fill="#e29a9a"/><rect x="66" y="13" width="1" height="1" fill="#e29a9a"/><rect x="67" y="13" width="1" height="1" fill="#e29a9a"/><rect x="69" y="13" width="1" height="1" fill="#b4b4ea"/><rect x="70" y="13" width="1" height="1" fill="#d88888"/><rect x="73" y="13" width="1" height="1" fill="#eab4b4"/><rect x="77" y="13" width="1" height="1" fill="#d88888"/><rect x="2" y="14" width="1" height="1" fill="#d88888"/><rect x="4" y="14" width="1" height="1" fill="#d07474"/><rect x="5" y="14" width="1" height="1" fill="#c8c8f0"/><rect x="7" y="14" width="1" height="1" fill="#e6a8a8"/><rect x="8" y="14" width="1" height="1" fill="#e6a8a8"/><rect x="11" y="14" width="1" height="1" fill="#aaaae6"/><rect x="12" y="14" width="1" height="1" fill="#aaaae6"/><rect x="17" y="14" width="1" height="1" fill="#eab4b4"/><rect x="18" y="14" width="1" height="1" fill="#e29a9a"/><rect x="21" y="14" width="1" height="1" fill="#c8c8f0"/><rect x="25" y="14" width="1" height="1" fill="#e6a8a8"/><rect x="29" y="14" width="1" height="1" fill="#aaaae6"/><rect x="30" y="14" width="1" height="1" fill="#c8c8f0"/><rect x="34" y="14" width="1" height="1" fill="#e6a8a8"/><rect x="35" y="14" width="1" height="1" fill="#e29a9a"/><rect x="47" y="14" width="1" height="1" fill="#c8c8f0"/><rect x="50" y="14" width="1" height="1" fill="#e29a9a"/><rect x="51" y="14" width="1" height="1" fill="#d88888"/><rect x="53" y="14" width="1" height="1" fill="#d88888"/><rect x="54" y="14" width="1" height="1" fill="#aaaae6"/><rect x="56" y="14" width="1" height="1" fill="#e29a9a"/><rect x="57" y="14" width="1" height="1" fill="#d88888"/><rect x="58" y="14" width="1" height="1" fill="#a0a0e4"/><rect x="60" y="14" width="1" height="1" fill="#e6a8a8"/><rect x="61" y="14" width="1" height="1" fill="#eab4b4"/><rect x="62" y="14" width="1" height="1" fill="#b4b4ea"/><rect x="63" y="14" width="1" height="1" fill="#d88888"/><rect x="64" y="14" width="1" height="1" fill="#a0a0e4"/><rect x="66" y="14" width="1" height="1" fill="#b4b4ea"/><rect x="70" y="14" width="1" height="1" fill="#e29a9a"/><rect x="71" y="14" width="1" height="1" fill="#eab4b4"/><rect x="73" y="14" width="1" height="1" fill="#d88888"/><rect x="74" y="14" width="1" height="1" fill="#e29a9a"/><rect x="75" y="14" width="1" height="1" fill="#d88888"/><rect x="0" y="15" width="1" height="1" fill="#eab4b4"/><rect x="3" y="15" width="1" height="1" fill="#e6a8a8"/><rect x="4" y="15" width="1" height="1" fill="#c8c8f0"/><rect x="5" y="15" width="1" height="1" fill="#d88888"/><rect x="7" y="15" width="1" height="1" fill="#c8c8f0"/><rect x="9" y="15" width="1" height="1" fill="#eab4b4"/><rect x="12" y="15" width="1" height="1" fill="#eab4b4"/><rect x="13" y="15" width="1" height="1" fill="#e29a9a"/><rect x="15" y="15" width="1" height="1" fill="#d07474"/><rect x="17" y="15" width="1" height="1" fill="#e6a8a8"/><rect x="19" y="15" width="1" height="1" fill="#aaaae6"/><rect x="20" y="15" width="1" height="1" fill="#aaaae6"/><rect x="23" y="15" width="1" height="1" fill="#e29a9a"/><rect x="24" y="15" width="1" height="1" fill="#d88888"/><rect x="26" y="15" width="1" height="1" fill="#eab4b4"/><rect x="27" y="15" width="1" height="1" fill="#c8c8f0"/><rect x="28" y="15" width="1" height="1" fill="#e6a8a8"/><rect x="30" y="15" width="1" height="1" fill="#d88888"/><rect x="32" y="15" width="1" height="1" fill="#a0a0e4"/><rect x="33" y="15" width="1" height="1" fill="#d88888"/><rect x="34" y="15" width="1" height="1" fill="#e6a8a8"/><rect x="35" y="15" width="1" height="1" fill="#d88888"/><rect x="37" y="15" width="1" height="1" fill="#c8c8f0"/><rect x="39" y="15" width="1" height="1" fill="#d88888"/><rect x="40" y="15" width="1" height="1" fill="#d88888"/><rect x="41" y="15" width="1" height="1" fill="#b4b4ea"/><rect x="42" y="15" width="1" height="1" fill="#d07474"/><rect x="43" y="15" width="1" height="1" fill="#c8c8f0"/><rect x="45" y="15" width="1" height="1" fill="#e6a8a8"/><rect x="51" y="15" width="1" height="1" fill="#c8c8f0"/><rect x="52" y="15" width="1" height="1" fill="#e6a8a8"/><rect x="53" y="15" width="1" height="1" fill="#eab4b4"/><rect x="55" y="15" width="1" height="1" fill="#aaaae6"/><rect x="58" y="15" width="1" height="1" fill="#eab4b4"/><rect x="59" y="15" width="1" height="1" fill="#b4b4ea"/><rect x="60" y="15" width="1" height="1" fill="#d88888"/><rect x="62" y="15" width="1" height="1" fill="#a0a0e4"/><rect x="64" y="15" width="1" height="1" fill="#a0a0e4"/><rect x="65" y="15" width="1" height="1" fill="#eab4b4"/><rect x="66" y="15" width="1" height="1" fill="#e6a8a8"/><rect x="67" y="15" width="1" height="1" fill="#a0a0e4"/><rect x="68" y="15" width="1" height="1" fill="#e6a8a8"/><rect x="72" y="15" width="1" height="1" fill="#a0a0e4"/><rect x="75" y="15" width="1" height="1" fill="#b4b4ea"/><rect x="77" y="15" width="1" height="1" fill="#d07474"/><rect x="78" y="15" width="1" height="1" fill="#e6a8a8"/><rect x="0" y="16" width="1" height="1" fill="#d88888"/><rect x="3" y="16" width="1" height="1" fill="#e6a8a8"/><rect x="4" y="16" width="1" height="1" fill="#a0a0e4"/><rect x="7" y="16" width="1" height="1" fill="#e29a9a"/><rect x="9" y="16" width="1" height="1" fill="#d07474"/><rect x="10" y="16" width="1" height="1" fill="#e29a9a"/><rect x="11" y="16" width="1" height="1" fill="#aaaae6"/><rect x="13" y="16" width="1" height="1" fill="#eab4b4"/><rect x="14" y="16" width="1" height="1" fill="#e29a9a"/><rect x="15" y="16" width="1" height="1" fill="#d07474"/><rect x="16" y="16" width="1" height="1" fill="#d07474"/><rect x="19" y="16" width="1" height="1" fill="#b4b4ea"/><rect x="20" y="16" width="1" height="1" fill="#e6a8a8"/><rect x="23" y="16" width="1" height="1" fill="#aaaae6"/><rect x="28" y="16" width="1" height="1" fill="#aaaae6"/><rect x="29" y="16" width="1" height="1" fill="#d07474"/><rect x="31" y="16" width="1" height="1" fill="#eab4b4"/><rect x="32" y="16" width="1" height="1" fill="#aaaae6"/><rect x="34" y="16" width="1" height="1" fill="#eab4b4"/><rect x="35" y="16" width="1" height="1" fill="#aaaae6"/><rect x="36" y="16" width="1" height="1" fill="#b4b4ea"/><rect x="37" y="16" width="1" height="1" fill="#e6a8a8"/><rect x="43" y="16" width="1" height="1" fill="#a0a0e4"/><rect x="46" y="16" width="1" height="1" fill="#b4b4ea"/><rect x="48" y="16" width="1" height="1" fill="#a0a0e4"/><rect x="50" y="16" width="1" height="1" fill="#d88888"/><rect x="52" y="16" width="1" height="1" fill="#e6a8a8"/><rect x="54" y="16" width="1" height="1" fill="#d88888"/><rect x="55" y="16" width="1" height="1" fill="#d07474"/><rect x="56" y="16" width="1" height="1" fill="#aaaae6"/><rect x="64" y="16" width="1" height="1" fill="#eab4b4"/><rect x="65" y="16" width="1" height="1" fill="#d07474"/><rect x="67" y="16" width="1" height="1" fill="#a0a0e4"/><rect x="68" y="16" width="1" height="1" fill="#d88888"/><rect x="70" y="16" width="1" height="1" fill="#aaaae6"/><rect x="71" y="16" width="1" height="1" fill="#e29a9a"/><rect x="75" y="16" width="1" height="1" fill="#e29a9a"/><rect x="77" y="16" width="1" height="1" fill="#c8c8f0"/><rect x="0" y="17" width="1" height="1" fill="#c8c8f0"/><rect x="2" y="17" width="1" height="1" fill="#e6a8a8"/><rect x="3" y="17" width="1" height="1" fill="#c8c8f0"/><rect x="4" y="17" width="1" height="1" fill="#c8c8f0"/><rect x="7" y="17" width="1" height="1" fill="#eab4b4"/><rect x="8" y="17" width="1" height="1" fill="#b4b4ea"/><rect x="10" y="17" width="1" height="1" fill="#a0a0e4"/><rect x="11" y="17" width="1" height="1" fill="#d07474"/><rect x="12" y="17" width="1" height="1" fill="#e29a9a"/><rect x="13" y="17" width="1" height="1" fill="#d07474"/><rect x="14" y="17" width="1" height="1" fill="#eab4b4"/><rect x="18" y="17" width="1" height="1" fill="#eab4b4"/><rect x="19" y="17" width="1" height="1" fill="#eab4b4"/><rect x="20" y="17" width="1" height="1" fill="#d07474"/><rect x="26" y="17" width="1" height="1" fill="#d88888"/><rect x="33" y="17" width="1" height="1" fill="#a0a0e4"/><rect x="36" y="17" width="1" height="1" fill="#d88888"/><rect x="37" y="17" width="1" height="1" fill="#b4b4ea"/><rect x="38" y="17" width="1" height="1" fill="#b4b4ea"/><rect x="39" y="17" width="1" height="1" fill="#eab4b4"/><rect x="41" y="17" width="1" height="1" fill="#d07474"/><rect x="43" y="17" width="1" height="1" fill="#d88888"/><rect x="44" y="17" width="1" height="1" fill="#aaaae6"/><rect x="46" y="17" width="1" height="1" fill="#b4b4ea"/><rect x="48" y="17" width="1" height="1" fill="#e6a8a8"/><rect x="49" y="17" width="1" height="1" fill="#b4b4ea"/><rect x="54" y="17" width="1" height="1" fill="#a0a0e4"/><rect x="57" y="17" width="1" height="1" fill="#aaaae6"/><rect x="58" y="17" width="1" height="1" fill="#c8c8f0"/><rect x="59" y="17" width="1" height="1" fill="#b4b4ea"/><rect x="60" y="17" width="1" height="1" fill="#d88888"/><rect x="61" y="17" width="1" height="1" fill="#e29a9a"/><rect x="63" y="17" width="1" height="1" fill="#eab4b4"/><rect x="67" y="17" width="1" height="1" fill="#aaaae6"/><rect x="70" y="17" width="1" height="1" fill="#c8c8f0"/><rect x="71" y="17" width="1" height="1" fill="#e29a9a"/><rect x="75" y="17" width="1" height="1" fill="#e6a8a8"/><rect x="76" y="17" width="1" height="1" fill="#e6a8a8"/><rect x="78" y="17" width="1" height="1" fill="#b4b4ea"/><rect x="0" y="18" width="1" height="1" fill="#a0a0e4"/><rect x="2" y="18" width="1" height="1" fill="#aaaae6"/><rect x="3" y="18" width="1" height="1" fill="#eab4b4"/><rect x="7" y="18" width="1" height="1" fill="#aaaae6"/><rect x="11" y="18" width="1" height="1" fill="#aaaae6"/><rect x="12" y="18" width="1" height="1" fill="#b4b4ea"/><rect x="14" y="18" width="1" height="1" fill="#d07474"/><rect x="17" y="18" width="1" height="1" fill="#c8c8f0"/><rect x="18" y="18" width="1" height="1" fill="#d88888"/><rect x="19" y="18" width="1" height="1" fill="#b4b4ea"/><rect x="21" y="18" width="1" height="1" fill="#a0a0e4"/><rect x="22" y="18" width="1" height="1" fill="#e6a8a8"/><rect x="23" y="18" width="1" height="1" fill="#b4b4ea"/><rect x="24" y="18" width="1" height="1" fill="#d07474"/><rect x="25" y="18" width="1" height="1" fill="#a0a0e4"/><rect x="27" y="18" width="1" height="1" fill="#d88888"/><rect x="29" y="18" width="1" height="1" fill="#eab4b4"/><rect x="32" y="18" width="1" height="1" fill="#c8c8f0"/><rect x="33" y="18" width="1" height="1" fill="#a0a0e4"/><rect x="34" y="18" width="1" height="1" fill="#b4b4ea"/><rect x="36" y="18" width="1" height="1" fill="#e6a8a8"/><rect x="37" y="18" width="1" height="1" fill="#d88888"/><rect x="44" y="18" width="1" height="1" fill="#b4b4ea"/><rect x="45" y="18" width="1" height="1" fill="#e29a9a"/><rect x="46" y="18" width="1" height="1" fill="#a0a0e4"/><rect x="47" y="18" width="1" height="1" fill="#e6a8a8"/><rect x="48" y="18" width="1" height="1" fill="#a0a0e4"/><rect x="49" y="18" width="1" height="1" fill="#eab4b4"/><rect x="50" y="18" width="1" height="1" fill="#b4b4ea"/><rect x="51" y="18" width="1" height="1" fill="#eab4b4"/><rect x="53" y="18" width="1" height="1" fill="#aaaae6"/><rect x="54" y="18" width="1" height="1" fill="#eab4b4"/><rect x="55" y="18" width="1" height="1" fill="#d07474"/><rect x="57" y="18" width="1" height="1" fill="#eab4b4"/><rect x="58" y="18" width="1" height="1" fill="#a0a0e4"/><rect x="59" y="18" width="1" height="1" fill="#aaaae6"/><rect x="60" y="18" width="1" height="1" fill="#e6a8a8"/><rect x="61" y="18" width="1" height="1" fill="#b4b4ea"/><rect x="62" y="18" width="1" height="1" fill="#c8c8f0"/><rect x="63" y="18" width="1" height="1" fill="#e6a8a8"/><rect x="71" y="18" width="1" height="1" fill="#eab4b4"/><rect x="73" y="18" width="1" height="1" fill="#e6a8a8"/><rect x="75" y="18" width="1" height="1" fill="#c8c8f0"/><rect x="76" y="18" width="1" height="1" fill="#d07474"/><rect x="78" y="18" width="1" height="1" fill="#e6a8a8"/><rect x="0" y="19" width="1" height="1" fill="#d07474"/><rect x="1" y="19" width="1" height="1" fill="#d88888"/><rect x="2" y="19" width="1" height="1" fill="#aaaae6"/><rect x="3" y="19" width="1" height="1" fill="#e6a8a8"/><rect x="4" y="19" width="1" height="1" fill="#eab4b4"/><rect x="6" y="19" width="1" height="1" fill="#eab4b4"/><rect x="10" y="19" width="1" height="1" fill="#d07474"/><rect x="13" y="19" width="1" height="1" fill="#d07474"/><rect x="14" y="19" width="1" height="1" fill="#eab4b4"/><rect x="15" y="19" width="1" height="1" fill="#d88888"/><rect x="16" y="19" width="1" height="1" fill="#d07474"/><rect x="17" y="19" width="1" height="1" fill="#d88888"/><rect x="18" y="19" width="1" height="1" fill="#c8c8f0"/><rect x="19" y="19" width="1" height="1" fill="#c8c8f0"/><rect x="21" y="19" width="1" height="1" fill="#a0a0e4"/><rect x="22" y="19" width="1" height="1" fill="#a0a0e4"/><rect x="26" y="19" width="1" height="1" fill="#c8c8f0"/><rect x="29" y="19" width="1" height="1" fill="#b4b4ea"/><rect x="32" y="19" width="1" height="1" fill="#a0a0e4"/><rect x="33" y="19" width="1" height="1" fill="#eab4b4"/><rect x="34" y="19" width="1" height="1" fill="#a0a0e4"/><rect x="35" y="19" width="1" height="1" fill="#e6a8a8"/><rect x="40" y="19" width="1" height="1" fill="#aaaae6"/><rect x="41" y="19" width="1" height="1" fill="#eab4b4"/><rect x="42" y="19" width="1" height="1" fill="#b4b4ea"/><rect x="48" y="19" width="1" height="1" fill="#e6a8a8"/><rect x="51" y="19" width="1" height="1" fill="#d88888"/><rect x="52" y="19" width="1" height="1" fill="#e6a8a8"/><rect x="54" y="19" width="1" height="1" fill="#aaaae6"/><rect x="55" y="19" width="1" height="1" fill="#a0a0e4"/><rect x="57" y="19" width="1" height="1" fill="#eab4b4"/><rect x="58" y="19" width="1" height="1" fill="#e29a9a"/><rect x="59" y="19" width="1" height="1" fill="#e29a9a"/><rect x="60" y="19" width="1" height="1" fill="#d07474"/><rect x="64" y="19" width="1" height="1" fill="#e29a9a"/><rect x="67" y="19" width="1" height="1" fill="#eab4b4"/><rect x="69" y="19" width="1" height="1" fill="#e6a8a8"/><rect x="70" y="19" width="1" height="1" fill="#e29a9a"/><rect x="72" y="19" width="1" height="1" fill="#e29a9a"/><rect x="73" y="19" width="1" height="1" fill="#d88888"/><rect x="2" y="20" width="1" height="1" fill="#b4b4ea"/><rect x="3" y="20" width="1" height="1" fill="#b4b4ea"/><rect x="4" y="20" width="1" height="1" fill="#e6a8a8"/><rect x="6" y="20" width="1" height="1" fill="#eab4b4"/><rect x="7" y="20" width="1" height="1" fill="#e6a8a8"/><rect x="9" y="20" width="1" height="1" fill="#e29a9a"/><rect x="10" y="20" width="1" height="1" fill="#e6a8a8"/><rect x="12" y="20" width="1" height="1" fill="#e6a8a8"/><rect x="13" y="20" width="1" height="1" fill="#c8c8f0"/><rect x="15" y="20" width="1" height="1" fill="#e29a9a"/><rect x="16" y="20" width="1" height="1" fill="#c8c8f0"/><rect x="18" y="20" width="1" height="1" fill="#e29a9a"/><rect x="19" y="20" width="1" height="1" fill="#c8c8f0"/><rect x="20" y="20" width="1" height="1" fill="#e6a8a8"/><rect x="21" y="20" width="1" height="1" fill="#b4b4ea"/><rect x="22" y="20" width="1" height="1" fill="#eab4b4"/><rect x="24" y="20" width="1" height="1" fill="#aaaae6"/><rect x="25" y="20" width="1" height="1" fill="#a0a0e4"/><rect x="26" y="20" width="1" height="1" fill="#eab4b4"/><rect x="29" y="20" width="1" height="1" fill="#aaaae6"/><rect x="30" y="20" width="1" height="1" fill="#c8c8f0"/><rect x="32" y="20" width="1" height="1" fill="#b4b4ea"/><rect x="34" y="20" width="1" height="1" fill="#e29a9a"/><rect x="36" y="20" width="1" height="1" fill="#e29a9a"/><rect x="37" y="20" width="1" height="1" fill="#e6a8a8"/><rect x="40" y="20" width="1" height="1" fill="#d07474"/><rect x="44" y="20" width="1" height="1" fill="#eab4b4"/><rect x="45" y="20" width="1" height="1" fill="#e29a9a"/><rect x="46" y="20" width="1" height="1" fill="#e29a9a"/><rect x="47" y="20" width="1" height="1" fill="#e6a8a8"/><rect x="51" y="20" width="1" height="1" fill="#a0a0e4"/><rect x="53" y="20" width="1" height="1" fill="#aaaae6"/><rect x="59" y="20" width="1" height="1" fill="#e6a8a8"/><rect x="60" y="20" width="1" height="1" fill="#e6a8a8"/><rect x="61" y="20" width="1" height="1" fill="#d07474"/><rect x="65" y="20" width="1" height="1" fill="#c8c8f0"/><rect x="66" y="20" width="1" height="1" fill="#e29a9a"/><rect x="67" y="20" width="1" height="1" fill="#e29a9a"/><rect x="68" y="20" width="1" height="1" fill="#a0a0e4"/><rect x="69" y="20" width="1" height="1" fill="#b4b4ea"/><rect x="70" y="20" width="1" height="1" fill="#eab4b4"/><rect x="72" y="20" width="1" height="1" fill="#d07474"/><rect x="73" y="20" width="1" height="1" fill="#a0a0e4"/><rect x="74" y="20" width="1" height="1" fill="#d88888"/><rect x="77" y="20" width="1" height="1" fill="#e29a9a"/><rect x="78" y="20" width="1" height="1" fill="#a0a0e4"/><rect x="0" y="21" width="1" height="1" fill="#d07474"/><rect x="1" y="21" width="1" height="1" fill="#eab4b4"/><rect x="2" y="21" width="1" height="1" fill="#d88888"/><rect x="4" y="21" width="1" height="1" fill="#d88888"/><rect x="5" y="21" width="1" height="1" fill="#c8c8f0"/><rect x="6" y="21" width="1" height="1" fill="#eab4b4"/><rect x="8" y="21" width="1" height="1" fill="#e6a8a8"/><rect x="10" y="21" width="1" height="1" fill="#b4b4ea"/><rect x="12" y="21" width="1" height="1" fill="#d07474"/><rect x="16" y="21" width="1" height="1" fill="#d07474"/><rect x="19" y="21" width="1" height="1" fill="#a0a0e4"/><rect x="22" y="21" width="1" height="1" fill="#aaaae6"/><rect x="23" y="21" width="1" height="1" fill="#d07474"/><rect x="27" y="21" width="1" height="1" fill="#aaaae6"/><rect x="30" y="21" width="1" height="1" fill="#a0a0e4"/><rect x="31" y="21" width="1" height="1" fill="#eab4b4"/><rect x="33" y="21" width="1" height="1" fill="#b4b4ea"/><rect x="34" y="21" width="1" height="1" fill="#b4b4ea"/><rect x="35" y="21" width="1" height="1" fill="#aaaae6"/><rect x="41" y="21" width="1" height="1" fill="#a0a0e4"/><rect x="44" y="21" width="1" height="1" fill="#a0a0e4"/><rect x="47" y="21" width="1" height="1" fill="#c8c8f0"/><rect x="48" y="21" width="1" height="1" fill="#eab4b4"/><rect x="52" y="21" width="1" height="1" fill="#d07474"/><rect x="60" y="21" width="1" height="1" fill="#b4b4ea"/><rect x="61" y="21" width="1" height="1" fill="#e6a8a8"/><rect x="64" y="21" width="1" height="1" fill="#a0a0e4"/><rect x="66" y="21" width="1" height="1" fill="#d88888"/><rect x="67" y="21" width="1" height="1" fill="#d88888"/><rect x="70" y="21" width="1" height="1" fill="#eab4b4"/><rect x="73" y="21" width="1" height="1" fill="#d07474"/><rect x="75" y="21" width="1" height="1" fill="#aaaae6"/><rect x="77" y="21" width="1" height="1" fill="#aaaae6"/><rect x="1" y="22" width="1" height="1" fill="#e29a9a"/><rect x="5" y="22" width="1" height="1" fill="#eab4b4"/><rect x="7" y="22" width="1" height="1" fill="#aaaae6"/><rect x="8" y="22" width="1" height="1" fill="#c8c8f0"/><rect x="12" y="22" width="1" height="1" fill="#e29a9a"/><rect x="14" y="22" width="1" height="1" fill="#d07474"/><rect x="15" y="22" width="1" height="1" fill="#aaaae6"/><rect x="16" y="22" width="1" height="1" fill="#b4b4ea"/><rect x="17" y="22" width="1" height="1" fill="#e6a8a8"/><rect x="18" y="22" width="1" height="1" fill="#eab4b4"/><rect x="28" y="22" width="1" height="1" fill="#e6a8a8"/><rect x="29" y="22" width="1" height="1" fill="#e29a9a"/><rect x="34" y="22" width="1" height="1" fill="#d07474"/><rect x="36" y="22" width="1" height="1" fill="#c8c8f0"/><rect x="37" y="22" width="1" height="1" fill="#d88888"/><rect x="38" y="22" width="1" height="1" fill="#b4b4ea"/><rect x="39" y="22" width="1" height="1" fill="#d88888"/><rect x="40" y="22" width="1" height="1" fill="#d88888"/><rect x="46" y="22" width="1" height="1" fill="#b4b4ea"/><rect x="47" y="22" width="1" height="1" fill="#d88888"/><rect x="51" y="22" width="1" height="1" fill="#aaaae6"/><rect x="53" y="22" width="1" height="1" fill="#b4b4ea"/><rect x="55" y="22" width="1" height="1" fill="#d88888"/><rect x="56" y="22" width="1" height="1" fill="#c8c8f0"/><rect x="57" y="22" width="1" height="1" fill="#eab4b4"/><rect x="61" y="22" width="1" height="1" fill="#e6a8a8"/><rect x="62" y="22" width="1" height="1" fill="#a0a0e4"/><rect x="65" y="22" width="1" height="1" fill="#d88888"/><rect x="67" y="22" width="1" height="1" fill="#e6a8a8"/><rect x="71" y="22" width="1" height="1" fill="#e29a9a"/><rect x="72" y="22" width="1" height="1" fill="#aaaae6"/><rect x="75" y="22" width="1" height="1" fill="#d88888"/><rect x="76" y="22" width="1" height="1" fill="#e29a9a"/><rect x="78" y="22" width="1" height="1" fill="#d88888"/><rect x="0" y="23" width="1" height="1" fill="#e6a8a8"/><rect x="1" y="23" width="1" height="1" fill="#aaaae6"/><rect x="2" y="23" width="1" height="1" fill="#b4b4ea"/><rect x="4" y="23" width="1" height="1" fill="#e29a9a"/><rect x="8" y="23" width="1" height="1" fill="#eab4b4"/><rect x="10" y="23" width="1" height="1" fill="#d07474"/><rect x="12" y="23" width="1" height="1" fill="#d88888"/><rect x="13" y="23" width="1" height="1" fill="#c8c8f0"/><rect x="14" y="23" width="1" height="1" fill="#e29a9a"/><rect x="19" y="23" width="1" height="1" fill="#d88888"/><rect x="21" y="23" width="1" height="1" fill="#d88888"/><rect x="23" y="23" width="1" height="1" fill="#eab4b4"/><rect x="24" y="23" width="1" height="1" fill="#d07474"/><rect x="25" y="23" width="1" height="1" fill="#d07474"/><rect x="27" y="23" width="1" height="1" fill="#eab4b4"/><rect x="29" y="23" width="1" height="1" fill="#c8c8f0"/><rect x="30" y="23" width="1" height="1" fill="#eab4b4"/><rect x="31" y="23" width="1" height="1" fill="#eab4b4"/><rect x="32" y="23" width="1" height="1" fill="#b4b4ea"/><rect x="34" y="23" width="1" height="1" fill="#d88888"/><rect x="36" y="23" width="1" height="1" fill="#eab4b4"/><rect x="37" y="23" width="1" height="1" fill="#d88888"/><rect x="38" y="23" width="1" height="1" fill="#eab4b4"/><rect x="40" y="23" width="1" height="1" fill="#c8c8f0"/><rect x="41" y="23" width="1" height="1" fill="#d88888"/><rect x="42" y="23" width="1" height="1" fill="#aaaae6"/><rect x="45" y="23" width="1" height="1" fill="#e29a9a"/><rect x="46" y="23" width="1" height="1" fill="#c8c8f0"/><rect x="47" y="23" width="1" height="1" fill="#d88888"/><rect x="48" y="23" width="1" height="1" fill="#d88888"/><rect x="49" y="23" width="1" height="1" fill="#c8c8f0"/><rect x="51" y="23" width="1" height="1" fill="#a0a0e4"/><rect x="54" y="23" width="1" height="1" fill="#e29a9a"/><rect x="57" y="23" width="1" height="1" fill="#d07474"/><rect x="58" y="23" width="1" height="1" fill="#e29a9a"/><rect x="60" y="23" width="1" height="1" fill="#c8c8f0"/><rect x="61" y="23" width="1" height="1" fill="#c8c8f0"/><rect x="63" y="23" width="1" height="1" fill="#d07474"/><rect x="65" y="23" width="1" height="1" fill="#a0a0e4"/><rect x="66" y="23" width="1" height="1" fill="#e29a9a"/><rect x="68" y="23" width="1" height="1" fill="#c8c8f0"/><rect x="71" y="23" width="1" height="1" fill="#e6a8a8"/><rect x="72" y="23" width="1" height="1" fill="#a0a0e4"/><rect x="73" y="23" width="1" height="1" fill="#aaaae6"/><rect x="74" y="23" width="1" height="1" fill="#d07474"/><rect x="76" y="23" width="1" height="1" fill="#c8c8f0"/><rect x="77" y="23" width="1" height="1" fill="#d88888"/><rect x="3" y="24" width="1" height="1" fill="#d07474"/><rect x="4" y="24" width="1" height="1" fill="#b4b4ea"/><rect x="6" y="24" width="1" height="1" fill="#e29a9a"/><rect x="11" y="24" width="1" height="1" fill="#c8c8f0"/><rect x="12" y="24" width="1" height="1" fill="#a0a0e4"/><rect x="14" y="24" width="1" height="1" fill="#e6a8a8"/><rect x="15" y="24" width="1" height="1" fill="#a0a0e4"/><rect x="16" y="24" width="1" height="1" fill="#a0a0e4"/><rect x="18" y="24" width="1" height="1" fill="#c8c8f0"/><rect x="19" y="24" width="1" height="1" fill="#d88888"/><rect x="20" y="24" width="1" height="1" fill="#e6a8a8"/><rect x="25" y="24" width="1" height="1" fill="#d07474"/><rect x="26" y="24" width="1" height="1" fill="#eab4b4"/><rect x="27" y="24" width="1" height="1" fill="#aaaae6"/><rect x="28" y="24" width="1" height="1" fill="#eab4b4"/><rect x="29" y="24" width="1" height="1" fill="#e29a9a"/><rect x="30" y="24" width="1" height="1" fill="#a0a0e4"/><rect x="33" y="24" width="1" height="1" fill="#aaaae6"/><rect x="35" y="24" width="1" height="1" fill="#aaaae6"/><rect x="39" y="24" width="1" height="1" fill="#e29a9a"/><rect x="43" y="24" width="1" height="1" fill="#eab4b4"/><rect x="44" y="24" width="1" height="1" fill="#e29a9a"/><rect x="46" y="24" width="1" height="1" fill="#e6a8a8"/><rect x="47" y="24" width="1" height="1" fill="#e29a9a"/><rect x="48" y="24" width="1" height="1" fill="#eab4b4"/><rect x="55" y="24" width="1" height="1" fill="#d07474"/><rect x="56" y="24" width="1" height="1" fill="#d88888"/><rect x="57" y="24" width="1" height="1" fill="#d88888"/><rect x="64" y="24" width="1" height="1" fill="#e6a8a8"/><rect x="65" y="24" width="1" height="1" fill="#e29a9a"/><rect x="66" y="24" width="1" height="1" fill="#e29a9a"/><rect x="71" y="24" width="1" height="1" fill="#aaaae6"/><rect x="76" y="24" width="1" height="1" fill="#d07474"/><rect x="77" y="24" width="1" height="1" fill="#aaaae6"/><rect x="78" y="24" width="1" height="1" fill="#d07474"/><rect x="0" y="25" width="1" height="1" fill="#e29a9a"/><rect x="1" y="25" width="1" height="1" fill="#d07474"/><rect x="5" y="25" width="1" height="1" fill="#a0a0e4"/><rect x="6" y="25" width="1" height="1" fill="#e6a8a8"/><rect x="9" y="25" width="1" height="1" fill="#e29a9a"/><rect x="10" y="25" width="1" height="1" fill="#e6a8a8"/><rect x="11" y="25" width="1" height="1" fill="#aaaae6"/><rect x="12" y="25" width="1" height="1" fill="#d07474"/><rect x="17" y="25" width="1" height="1" fill="#eab4b4"/><rect x="19" y="25" width="1" height="1" fill="#aaaae6"/><rect x="20" y="25" width="1" height="1" fill="#b4b4ea"/><rect x="23" y="25" width="1" height="1" fill="#b4b4ea"/><rect x="27" y="25" width="1" height="1" fill="#e6a8a8"/><rect x="29" y="25" width="1" height="1" fill="#d88888"/><rect x="31" y="25" width="1" height="1" fill="#d07474"/><rect x="32" y="25" width="1" height="1" fill="#e6a8a8"/><rect x="33" y="25" width="1" height="1" fill="#b4b4ea"/><rect x="36" y="25" width="1" height="1" fill="#aaaae6"/><rect x="38" y="25" width="1" height="1" fill="#a0a0e4"/><rect x="42" y="25" width="1" height="1" fill="#d07474"/><rect x="43" y="25" width="1" height="1" fill="#a0a0e4"/><rect x="44" y="25" width="1" height="1" fill="#c8c8f0"/><rect x="46" y="25" width="1" height="1" fill="#eab4b4"/><rect x="50" y="25" width="1" height="1" fill="#d88888"/><rect x="51" y="25" width="1" height="1" fill="#b4b4ea"/><rect x="52" y="25" width="1" height="1" fill="#b4b4ea"/><rect x="55" y="25" width="1" height="1" fill="#aaaae6"/><rect x="56" y="25" width="1" height="1" fill="#e6a8a8"/><rect x="60" y="25" width="1" height="1" fill="#d88888"/><rect x="61" y="25" width="1" height="1" fill="#c8c8f0"/><rect x="62" y="25" width="1" height="1" fill="#d88888"/><rect x="64" y="25" width="1" height="1" fill="#d88888"/><rect x="65" y="25" width="1" height="1" fill="#e6a8a8"/><rect x="66" y="25" width="1" height="1" fill="#d07474"/><rect x="68" y="25" width="1" height="1" fill="#e6a8a8"/><rect x="69" y="25" width="1" height="1" fill="#b4b4ea"/><rect x="71" y="25" width="1" height="1" fill="#a0a0e4"/><rect x="75" y="25" width="1" height="1" fill="#a0a0e4"/><rect x="76" y="25" width="1" height="1" fill="#e6a8a8"/><rect x="3" y="26" width="1" height="1" fill="#aaaae6"/><rect x="11" y="26" width="1" height="1" fill="#e29a9a"/><rect x="12" y="26" width="1" height="1" fill="#eab4b4"/><rect x="14" y="26" width="1" height="1" fill="#e6a8a8"/><rect x="20" y="26" width="1" height="1" fill="#e6a8a8"/><rect x="23" y="26" width="1" height="1" fill="#c8c8f0"/><rect x="27" y="26" width="1" height="1" fill="#a0a0e4"/><rect x="28" y="26" width="1" height="1" fill="#aaaae6"/><rect x="30" y="26" width="1" height="1" fill="#a0a0e4"/><rect x="32" y="26" width="1" height="1" fill="#aaaae6"/><rect x="33" y="26" width="1" height="1" fill="#eab4b4"/><rect x="34" y="26" width="1" height="1" fill="#e6a8a8"/><rect x="36" y="26" width="1" height="1" fill="#eab4b4"/><rect x="37" y="26" width="1" height="1" fill="#b4b4ea"/><rect x="38" y="26" width="1" height="1" fill="#e6a8a8"/><rect x="42" y="26" width="1" height="1" fill="#d07474"/><rect x="43" y="26" width="1" height="1" fill="#d07474"/><rect x="44" y="26" width="1" height="1" fill="#e6a8a8"/><rect x="49" y="26" width="1" height="1" fill="#c8c8f0"/><rect x="52" y="26" width="1" height="1" fill="#e6a8a8"/><rect x="53" y="26" width="1" height="1" fill="#aaaae6"/><rect x="54" y="26" width="1" height="1" fill="#d07474"/><rect x="55" y="26" width="1" height="1" fill="#b4b4ea"/><rect x="57" y="26" width="1" height="1" fill="#d07474"/><rect x="58" y="26" width="1" height="1" fill="#d07474"/><rect x="59" y="26" width="1" height="1" fill="#aaaae6"/><rect x="60" y="26" width="1" height="1" fill="#d88888"/><rect x="61" y="26" width="1" height="1" fill="#d07474"/><rect x="63" y="26" width="1" height="1" fill="#e6a8a8"/><rect x="66" y="26" width="1" height="1" fill="#c8c8f0"/><rect x="67" y="26" width="1" height="1" fill="#b4b4ea"/><rect x="71" y="26" width="1" height="1" fill="#e6a8a8"/><rect x="72" y="26" width="1" height="1" fill="#e29a9a"/><rect x="75" y="26" width="1" height="1" fill="#eab4b4"/><rect x="3" y="27" width="1" height="1" fill="#e6a8a8"/><rect x="4" y="27" width="1" height="1" fill="#d07474"/><rect x="5" y="27" width="1" height="1" fill="#eab4b4"/><rect x="6" y="27" width="1" height="1" fill="#e6a8a8"/><rect x="10" y="27" width="1" height="1" fill="#a0a0e4"/><rect x="11" y="27" width="1" height="1" fill="#e6a8a8"/><rect x="17" y="27" width="1" height="1" fill="#c8c8f0"/><rect x="18" y="27" width="1" height="1" fill="#eab4b4"/><rect x="19" y="27" width="1" height="1" fill="#e6a8a8"/><rect x="20" y="27" width="1" height="1" fill="#aaaae6"/><rect x="21" y="27" width="1" height="1" fill="#a0a0e4"/><rect x="23" y="27" width="1" height="1" fill="#aaaae6"/><rect x="25" y="27" width="1" height="1" fill="#d88888"/><rect x="26" y="27" width="1" height="1" fill="#eab4b4"/><rect x="28" y="27" width="1" height="1" fill="#e6a8a8"/><rect x="30" y="27" width="1" height="1" fill="#e29a9a"/><rect x="32" y="27" width="1" height="1" fill="#e29a9a"/><rect x="34" y="27" width="1" height="1" fill="#d88888"/><rect x="35" y="27" width="1" height="1" fill="#aaaae6"/><rect x="36" y="27" width="1" height="1" fill="#a0a0e4"/><rect x="37" y="27" width="1" height="1" fill="#e6a8a8"/><rect x="38" y="27" width="1" height="1" fill="#d07474"/><rect x="39" y="27" width="1" height="1" fill="#eab4b4"/><rect x="41" y="27" width="1" height="1" fill="#d07474"/><rect x="42" y="27" width="1" height="1" fill="#d07474"/><rect x="43" y="27" width="1" height="1" fill="#d07474"/><rect x="44" y="27" width="1" height="1" fill="#e6a8a8"/><rect x="46" y="27" width="1" height="1" fill="#b4b4ea"/><rect x="47" y="27" width="1" height="1" fill="#a0a0e4"/><rect x="48" y="27" width="1" height="1" fill="#d07474"/><rect x="49" y="27" width="1" height="1" fill="#e6a8a8"/><rect x="50" y="27" width="1" height="1" fill="#aaaae6"/><rect x="52" y="27" width="1" height="1" fill="#d07474"/><rect x="53" y="27" width="1" height="1" fill="#d88888"/><rect x="55" y="27" width="1" height="1" fill="#b4b4ea"/><rect x="57" y="27" width="1" height="1" fill="#aaaae6"/><rect x="62" y="27" width="1" height="1" fill="#d07474"/><rect x="63" y="27" width="1" height="1" fill="#a0a0e4"/><rect x="65" y="27" width="1" height="1" fill="#e29a9a"/><rect x="74" y="27" width="1" height="1" fill="#b4b4ea"/><rect x="75" y="27" width="1" height="1" fill="#c8c8f0"/><rect x="76" y="27" width="1" height="1" fill="#eab4b4"/><rect x="77" y="27" width="1" height="1" fill="#e29a9a"/><rect x="78" y="27" width="1" height="1" fill="#d88888"/><rect x="0" y="28" width="1" height="1" fill="#c8c8f0"/><rect x="3" y="28" width="1" height="1" fill="#d88888"/><rect x="7" y="28" width="1" height="1" fill="#a0a0e4"/><rect x="10" y="28" width="1" height="1" fill="#d07474"/><rect x="11" y="28" width="1" height="1" fill="#b4b4ea"/><rect x="14" y="28" width="1" height="1" fill="#e6a8a8"/><rect x="15" y="28" width="1" height="1" fill="#aaaae6"/><rect x="16" y="28" width="1" height="1" fill="#d07474"/><rect x="19" y="28" width="1" height="1" fill="#e6a8a8"/><rect x="20" y="28" width="1" height="1" fill="#d07474"/><rect x="21" y="28" width="1" height="1" fill="#d07474"/><rect x="22" y="28" width="1" height="1" fill="#e29a9a"/><rect x="25" y="28" width="1" height="1" fill="#e29a9a"/><rect x="26" y="28" width="1" height="1" fill="#c8c8f0"/><rect x="27" y="28" width="1" height="1" fill="#eab4b4"/><rect x="28" y="28" width="1" height="1" fill="#a0a0e4"/><rect x="30" y="28" width="1" height="1" fill="#d07474"/><rect x="31" y="28" width="1" height="1" fill="#d88888"/><rect x="33" y="28" width="1" height="1" fill="#b4b4ea"/><rect x="34" y="28" width="1" height="1" fill="#a0a0e4"/><rect x="35" y="28" width="1" height="1" fill="#b4b4ea"/><rect x="39" y="28" width="1" height="1" fill="#c8c8f0"/><rect x="40" y="28" width="1" height="1" fill="#aaaae6"/><rect x="42" y="28" width="1" height="1" fill="#e6a8a8"/><rect x="47" y="28" width="1" height="1" fill="#e29a9a"/><rect x="48" y="28" width="1" height="1" fill="#b4b4ea"/><rect x="49" y="28" width="1" height="1" fill="#eab4b4"/><rect x="51" y="28" width="1" height="1" fill="#d88888"/><rect x="52" y="28" width="1" height="1" fill="#eab4b4"/><rect x="53" y="28" width="1" height="1" fill="#d88888"/><rect x="54" y="28" width="1" height="1" fill="#e29a9a"/><rect x="55" y="28" width="1" height="1" fill="#e29a9a"/><rect x="56" y="28" width="1" height="1" fill="#e29a9a"/><rect x="57" y="28" width="1" height="1" fill="#eab4b4"/><rect x="58" y="28" width="1" height="1" fill="#d88888"/><rect x="60" y="28" width="1" height="1" fill="#d88888"/><rect x="61" y="28" width="1" height="1" fill="#e6a8a8"/><rect x="63" y="28" width="1" height="1" fill="#d88888"/><rect x="64" y="28" width="1" height="1" fill="#e6a8a8"/><rect x="66" y="28" width="1" height="1" fill="#d07474"/><rect x="70" y="28" width="1" height="1" fill="#eab4b4"/><rect x="71" y="28" width="1" height="1" fill="#a0a0e4"/><rect x="72" y="28" width="1" height="1" fill="#eab4b4"/><rect x="73" y="28" width="1" height="1" fill="#c8c8f0"/><rect x="74" y="28" width="1" height="1" fill="#d07474"/><rect x="75" y="28" width="1" height="1" fill="#d07474"/><rect x="77" y="28" width="1" height="1" fill="#e6a8a8"/><rect x="78" y="28" width="1" height="1" fill="#e29a9a"/><rect x="1" y="29" width="1" height="1" fill="#c8c8f0"/><rect x="3" y="29" width="1" height="1" fill="#aaaae6"/><rect x="4" y="29" width="1" height="1" fill="#a0a0e4"/><rect x="6" y="29" width="1" height="1" fill="#d88888"/><rect x="7" y="29" width="1" height="1" fill="#d88888"/><rect x="8" y="29" width="1" height="1" fill="#d07474"/><rect x="9" y="29" width="1" height="1" fill="#d07474"/><rect x="10" y="29" width="1" height="1" fill="#e6a8a8"/><rect x="12" y="29" width="1" height="1" fill="#eab4b4"/><rect x="16" y="29" width="1" height="1" fill="#aaaae6"/><rect x="17" y="29" width="1" height="1" fill="#aaaae6"/><rect x="18" y="29" width="1" height="1" fill="#b4b4ea"/><rect x="19" y="29" width="1" height="1" fill="#e29a9a"/><rect x="20" y="29" width="1" height="1" fill="#e6a8a8"/><rect x="22" y="29" width="1" height="1" fill="#d07474"/><rect x="25" y="29" width="1" height="1" fill="#aaaae6"/><rect x="29" y="29" width="1" height="1" fill="#aaaae6"/><rect x="31" y="29" width="1" height="1" fill="#e6a8a8"/><rect x="32" y="29" width="1" height="1" fill="#e6a8a8"/><rect x="33" y="29" width="1" height="1" fill="#d88888"/><rect x="37" y="29" width="1" height="1" fill="#e6a8a8"/><rect x="39" y="29" width="1" height="1" fill="#d07474"/><rect x="42" y="29" width="1" height="1" fill="#d88888"/><rect x="43" y="29" width="1" height="1" fill="#a0a0e4"/><rect x="45" y="29" width="1" height="1" fill="#c8c8f0"/><rect x="46" y="29" width="1" height="1" fill="#a0a0e4"/><rect x="48" y="29" width="1" height="1" fill="#c8c8f0"/><rect x="49" y="29" width="1" height="1" fill="#e29a9a"/><rect x="50" y="29" width="1" height="1" fill="#e29a9a"/><rect x="57" y="29" width="1" height="1" fill="#a0a0e4"/><rect x="58" y="29" width="1" height="1" fill="#e29a9a"/><rect x="60" y="29" width="1" height="1" fill="#aaaae6"/><rect x="61" y="29" width="1" height="1" fill="#aaaae6"/><rect x="62" y="29" width="1" height="1" fill="#c8c8f0"/><rect x="65" y="29" width="1" height="1" fill="#c8c8f0"/><rect x="67" y="29" width="1" height="1" fill="#e29a9a"/><rect x="69" y="29" width="1" height="1" fill="#d07474"/><rect x="71" y="29" width="1" height="1" fill="#b4b4ea"/><rect x="74" y="29" width="1" height="1" fill="#a0a0e4"/><rect x="75" y="29" width="1" height="1" fill="#e6a8a8"/><rect x="76" y="29" width="1" height="1" fill="#d88888"/><rect x="77" y="29" width="1" height="1" fill="#eab4b4"/><rect x="3" y="30" width="1" height="1" fill="#e6a8a8"/><rect x="5" y="30" width="1" height="1" fill="#aaaae6"/><rect x="6" y="30" width="1" height="1" fill="#aaaae6"/><rect x="7" y="30" width="1" height="1" fill="#d88888"/><rect x="9" y="30" width="1" height="1" fill="#b4b4ea"/><rect x="12" y="30" width="1" height="1" fill="#eab4b4"/><rect x="14" y="30" width="1" height="1" fill="#eab4b4"/><rect x="15" y="30" width="1" height="1" fill="#e29a9a"/><rect x="16" y="30" width="1" height="1" fill="#eab4b4"/><rect x="18" y="30" width="1" height="1" fill="#b4b4ea"/><rect x="19" y="30" width="1" height="1" fill="#d07474"/><rect x="22" y="30" width="1" height="1" fill="#eab4b4"/><rect x="26" y="30" width="1" height="1" fill="#b4b4ea"/><rect x="27" y="30" width="1" height="1" fill="#c8c8f0"/><rect x="29" y="30" width="1" height="1" fill="#d07474"/><rect x="31" y="30" width="1" height="1" fill="#e29a9a"/><rect x="32" y="30" width="1" height="1" fill="#a0a0e4"/><rect x="33" y="30" width="1" height="1" fill="#d07474"/><rect x="36" y="30" width="1" height="1" fill="#e29a9a"/><rect x="37" y="30" width="1" height="1" fill="#d88888"/><rect x="38" y="30" width="1" height="1" fill="#e6a8a8"/><rect x="40" y="30" width="1" height="1" fill="#d88888"/><rect x="42" y="30" width="1" height="1" fill="#b4b4ea"/><rect x="44" y="30" width="1" height="1" fill="#e29a9a"/><rect x="45" y="30" width="1" height="1" fill="#d88888"/><rect x="50" y="30" width="1" height="1" fill="#d88888"/><rect x="51" y="30" width="1" height="1" fill="#d07474"/><rect x="52" y="30" width="1" height="1" fill="#d88888"/><rect x="53" y="30" width="1" height="1" fill="#eab4b4"/><rect x="56" y="30" width="1" height="1" fill="#b4b4ea"/><rect x="57" y="30" width="1" height="1" fill="#b4b4ea"/><rect x="59" y="30" width="1" height="1" fill="#e29a9a"/><rect x="61" y="30" width="1" height="1" fill="#eab4b4"/><rect x="63" y="30" width="1" height="1" fill="#d88888"/><rect x="66" y="30" width="1" height="1" fill="#c8c8f0"/><rect x="67" y="30" width="1" height="1" fill="#d88888"/><rect x="68" y="30" width="1" height="1" fill="#d88888"/><rect x="69" y="30" width="1" height="1" fill="#b4b4ea"/><rect x="70" y="30" width="1" height="1" fill="#d88888"/><rect x="72" y="30" width="1" height="1" fill="#eab4b4"/><rect x="75" y="30" width="1" height="1" fill="#a0a0e4"/><rect x="76" y="30" width="1" height="1" fill="#d88888"/><rect x="77" y="30" width="1" height="1" fill="#aaaae6"/></pattern>
<pattern id="pm" x="0" y="0" width="71" height="23" patternUnits="userSpaceOnUse"><rect x="3" y="0" width="1" height="1" fill="#ccccee"/><rect x="4" y="0" width="2" height="1" fill="#d6d6f2"/><rect x="8" y="0" width="2" height="1" fill="#ecc0c0"/><rect x="11" y="0" width="1" height="1" fill="#eebcbc"/><rect x="15" y="0" width="1" height="1" fill="#d6d6f2"/><rect x="16" y="0" width="2" height="1" fill="#e2e2f6"/><rect x="27" y="0" width="3" height="1" fill="#e6b0b0"/><rect x="34" y="0" width="1" height="1" fill="#eaeafa"/><rect x="35" y="0" width="2" height="1" fill="#ccccee"/><rect x="38" y="0" width="1" height="1" fill="#ecc0c0"/><rect x="42" y="0" width="2" height="1" fill="#f4dada"/><rect x="44" y="0" width="2" height="1" fill="#f0cccc"/><rect x="47" y="0" width="3" height="1" fill="#f4dada"/><rect x="51" y="0" width="2" height="1" fill="#e6b0b0"/><rect x="54" y="0" width="2" height="1" fill="#ecc0c0"/><rect x="56" y="0" width="2" height="1" fill="#ccccee"/><rect x="58" y="0" width="1" height="1" fill="#e6b0b0"/><rect x="59" y="0" width="1" height="1" fill="#d6d6f2"/><rect x="61" y="0" width="2" height="1" fill="#eaeafa"/><rect x="63" y="0" width="1" height="1" fill="#f0cccc"/><rect x="68" y="0" width="2" height="1" fill="#eaeafa"/><rect x="0" y="1" width="3" height="1" fill="#f8e6e6"/><rect x="4" y="1" width="2" height="1" fill="#d6d6f2"/><rect x="8" y="1" width="2" height="1" fill="#ccccee"/><rect x="11" y="1" width="2" height="1" fill="#f4dada"/><rect x="15" y="1" width="2" height="1" fill="#f0cccc"/><rect x="17" y="1" width="2" height="1" fill="#eaeafa"/><rect x="25" y="1" width="2" height="1" fill="#ccccee"/><rect x="28" y="1" width="3" height="1" fill="#f4dada"/><rect x="36" y="1" width="1" height="1" fill="#d6d6f2"/><rect x="37" y="1" width="3" height="1" fill="#ccccee"/><rect x="41" y="1" width="3" height="1" fill="#eebcbc"/><rect x="44" y="1" width="1" height="1" fill="#ecc0c0"/><rect x="45" y="1" width="3" height="1" fill="#eebcbc"/><rect x="48" y="1" width="2" height="1" fill="#f0cccc"/><rect x="53" y="1" width="1" height="1" fill="#e6b0b0"/><rect x="55" y="1" width="3" height="1" fill="#f8e6e6"/><rect x="58" y="1" width="2" height="1" fill="#f0cccc"/><rect x="60" y="1" width="2" height="1" fill="#f0cccc"/><rect x="63" y="1" width="3" height="1" fill="#eaeafa"/><rect x="66" y="1" width="2" height="1" fill="#e6b0b0"/><rect x="69" y="1" width="2" height="1" fill="#e2e2f6"/><rect x="1" y="2" width="3" height="1" fill="#ccccee"/><rect x="6" y="2" width="1" height="1" fill="#eebcbc"/><rect x="7" y="2" width="3" height="1" fill="#f8e6e6"/><rect x="12" y="2" width="2" height="1" fill="#e6b0b0"/><rect x="14" y="2" width="2" height="1" fill="#ecc0c0"/><rect x="16" y="2" width="3" height="1" fill="#f8e6e6"/><rect x="22" y="2" width="2" height="1" fill="#ccccee"/><rect x="26" y="2" width="2" height="1" fill="#ccccee"/><rect x="28" y="2" width="2" height="1" fill="#d6d6f2"/><rect x="30" y="2" width="1" height="1" fill="#e2e2f6"/><rect x="33" y="2" width="3" height="1" fill="#eaeafa"/><rect x="40" y="2" width="1" height="1" fill="#e2e2f6"/><rect x="42" y="2" width="1" height="1" fill="#f0cccc"/><rect x="44" y="2" width="1" height="1" fill="#eaeafa"/><rect x="46" y="2" width="1" height="1" fill="#f8e6e6"/><rect x="56" y="2" width="2" height="1" fill="#e2e2f6"/><rect x="59" y="2" width="1" height="1" fill="#ecc0c0"/><rect x="68" y="2" width="1" height="1" fill="#f8e6e6"/><rect x="69" y="2" width="1" height="1" fill="#d6d6f2"/><rect x="70" y="2" width="1" height="1" fill="#e2e2f6"/><rect x="5" y="3" width="3" height="1" fill="#ecc0c0"/><rect x="9" y="3" width="3" height="1" fill="#e2e2f6"/><rect x="15" y="3" width="2" height="1" fill="#f8e6e6"/><rect x="19" y="3" width="1" height="1" fill="#f8e6e6"/><rect x="23" y="3" width="2" height="1" fill="#ccccee"/><rect x="25" y="3" width="3" height="1" fill="#eaeafa"/><rect x="28" y="3" width="2" height="1" fill="#e6b0b0"/><rect x="34" y="3" width="2" height="1" fill="#f4dada"/><rect x="36" y="3" width="3" height="1" fill="#d6d6f2"/><rect x="39" y="3" width="1" height="1" fill="#e6b0b0"/><rect x="40" y="3" width="2" height="1" fill="#ecc0c0"/><rect x="46" y="3" width="3" height="1" fill="#f0cccc"/><rect x="53" y="3" width="2" height="1" fill="#eebcbc"/><rect x="56" y="3" width="2" height="1" fill="#e2e2f6"/><rect x="61" y="3" width="2" height="1" fill="#eaeafa"/><rect x="63" y="3" width="2" height="1" fill="#f4dada"/><rect x="66" y="3" width="1" height="1" fill="#f4dada"/><rect x="2" y="4" width="2" height="1" fill="#ecc0c0"/><rect x="6" y="4" width="3" height="1" fill="#ccccee"/><rect x="13" y="4" width="2" height="1" fill="#f4dada"/><rect x="17" y="4" width="2" height="1" fill="#d6d6f2"/><rect x="22" y="4" width="2" height="1" fill="#f4dada"/><rect x="24" y="4" width="2" height="1" fill="#ecc0c0"/><rect x="26" y="4" width="1" height="1" fill="#e6b0b0"/><rect x="27" y="4" width="2" height="1" fill="#f4dada"/><rect x="30" y="4" width="1" height="1" fill="#e6b0b0"/><rect x="34" y="4" width="1" height="1" fill="#f0cccc"/><rect x="38" y="4" width="3" height="1" fill="#f8e6e6"/><rect x="41" y="4" width="3" height="1" fill="#e6b0b0"/><rect x="47" y="4" width="2" height="1" fill="#f8e6e6"/><rect x="49" y="4" width="3" height="1" fill="#ccccee"/><rect x="58" y="4" width="1" height="1" fill="#f4dada"/><rect x="62" y="4" width="2" height="1" fill="#e6b0b0"/><rect x="70" y="4" width="1" height="1" fill="#eebcbc"/><rect x="0" y="5" width="1" height="1" fill="#f0cccc"/><rect x="1" y="5" width="1" height="1" fill="#e6b0b0"/><rect x="3" y="5" width="2" height="1" fill="#d6d6f2"/><rect x="6" y="5" width="1" height="1" fill="#e6b0b0"/><rect x="8" y="5" width="1" height="1" fill="#e2e2f6"/><rect x="9" y="5" width="2" height="1" fill="#f4dada"/><rect x="12" y="5" width="2" height="1" fill="#f8e6e6"/><rect x="14" y="5" width="2" height="1" fill="#e6b0b0"/><rect x="16" y="5" width="3" height="1" fill="#e2e2f6"/><rect x="19" y="5" width="3" height="1" fill="#f4dada"/><rect x="23" y="5" width="3" height="1" fill="#d6d6f2"/><rect x="27" y="5" width="1" height="1" fill="#ccccee"/><rect x="30" y="5" width="2" height="1" fill="#ccccee"/><rect x="32" y="5" width="2" height="1" fill="#f4dada"/><rect x="36" y="5" width="3" height="1" fill="#f0cccc"/><rect x="45" y="5" width="1" height="1" fill="#ccccee"/><rect x="47" y="5" width="2" height="1" fill="#d6d6f2"/><rect x="50" y="5" width="2" height="1" fill="#d6d6f2"/><rect x="52" y="5" width="3" height="1" fill="#f0cccc"/><rect x="55" y="5" width="1" height="1" fill="#eebcbc"/><rect x="57" y="5" width="3" height="1" fill="#f0cccc"/><rect x="60" y="5" width="3" height="1" fill="#d6d6f2"/><rect x="63" y="5" width="3" height="1" fill="#ecc0c0"/><rect x="68" y="5" width="2" height="1" fill="#ccccee"/><rect x="0" y="6" width="1" height="1" fill="#ccccee"/><rect x="4" y="6" width="2" height="1" fill="#d6d6f2"/><rect x="11" y="6" width="2" height="1" fill="#ecc0c0"/><rect x="16" y="6" width="3" height="1" fill="#e6b0b0"/><rect x="19" y="6" width="1" height="1" fill="#d6d6f2"/><rect x="22" y="6" width="1" height="1" fill="#d6d6f2"/><rect x="25" y="6" width="3" height="1" fill="#e2e2f6"/><rect x="30" y="6" width="1" height="1" fill="#e2e2f6"/><rect x="33" y="6" width="1" height="1" fill="#ecc0c0"/><rect x="35" y="6" width="2" height="1" fill="#e2e2f6"/><rect x="41" y="6" width="3" height="1" fill="#f8e6e6"/><rect x="44" y="6" width="2" height="1" fill="#e2e2f6"/><rect x="46" y="6" width="2" height="1" fill="#ecc0c0"/><rect x="49" y="6" width="2" height="1" fill="#f4dada"/><rect x="51" y="6" width="2" height="1" fill="#f0cccc"/><rect x="60" y="6" width="1" height="1" fill="#f0cccc"/><rect x="62" y="6" width="3" height="1" fill="#ccccee"/><rect x="65" y="6" width="2" height="1" fill="#d6d6f2"/><rect x="67" y="6" width="1" height="1" fill="#f8e6e6"/><rect x="3" y="7" width="2" height="1" fill="#e2e2f6"/><rect x="5" y="7" width="2" height="1" fill="#ecc0c0"/><rect x="7" y="7" width="1" height="1" fill="#f8e6e6"/><rect x="8" y="7" width="1" height="1" fill="#f0cccc"/><rect x="9" y="7" width="3" height="1" fill="#e2e2f6"/><rect x="13" y="7" width="1" height="1" fill="#eebcbc"/><rect x="16" y="7" width="2" height="1" fill="#f4dada"/><rect x="18" y="7" width="1" height="1" fill="#e2e2f6"/><rect x="19" y="7" width="1" height="1" fill="#eaeafa"/><rect x="21" y="7" width="3" height="1" fill="#f8e6e6"/><rect x="24" y="7" width="1" height="1" fill="#f0cccc"/><rect x="25" y="7" width="1" height="1" fill="#e2e2f6"/><rect x="27" y="7" width="3" height="1" fill="#ecc0c0"/><rect x="32" y="7" width="2" height="1" fill="#e2e2f6"/><rect x="34" y="7" width="1" height="1" fill="#eebcbc"/><rect x="35" y="7" width="1" height="1" fill="#eebcbc"/><rect x="49" y="7" width="3" height="1" fill="#ccccee"/><rect x="52" y="7" width="3" height="1" fill="#e2e2f6"/><rect x="55" y="7" width="1" height="1" fill="#e2e2f6"/><rect x="56" y="7" width="3" height="1" fill="#ccccee"/><rect x="63" y="7" width="3" height="1" fill="#ccccee"/><rect x="66" y="7" width="1" height="1" fill="#d6d6f2"/><rect x="67" y="7" width="3" height="1" fill="#f0cccc"/><rect x="0" y="8" width="3" height="1" fill="#ecc0c0"/><rect x="8" y="8" width="3" height="1" fill="#e2e2f6"/><rect x="13" y="8" width="1" height="1" fill="#f4dada"/><rect x="14" y="8" width="1" height="1" fill="#f8e6e6"/><rect x="16" y="8" width="2" height="1" fill="#ccccee"/><rect x="18" y="8" width="2" height="1" fill="#f8e6e6"/><rect x="20" y="8" width="3" height="1" fill="#eaeafa"/><rect x="23" y="8" width="1" height="1" fill="#d6d6f2"/><rect x="24" y="8" width="1" height="1" fill="#d6d6f2"/><rect x="29" y="8" width="1" height="1" fill="#e2e2f6"/><rect x="30" y="8" width="3" height="1" fill="#f8e6e6"/><rect x="33" y="8" width="3" height="1" fill="#e6b0b0"/><rect x="38" y="8" width="1" height="1" fill="#f8e6e6"/><rect x="42" y="8" width="1" height="1" fill="#e6b0b0"/><rect x="45" y="8" width="1" height="1" fill="#e2e2f6"/><rect x="48" y="8" width="1" height="1" fill="#e6b0b0"/><rect x="55" y="8" width="1" height="1" fill="#e6b0b0"/><rect x="60" y="8" width="2" height="1" fill="#e6b0b0"/><rect x="63" y="8" width="1" height="1" fill="#eaeafa"/><rect x="64" y="8" width="2" height="1" fill="#e6b0b0"/><rect x="69" y="8" width="2" height="1" fill="#f8e6e6"/><rect x="4" y="9" width="1" height="1" fill="#f0cccc"/><rect x="8" y="9" width="1" height="1" fill="#e2e2f6"/><rect x="9" y="9" width="2" height="1" fill="#f0cccc"/><rect x="12" y="9" width="2" height="1" fill="#eebcbc"/><rect x="16" y="9" width="3" height="1" fill="#d6d6f2"/><rect x="19" y="9" width="2" height="1" fill="#ccccee"/><rect x="21" y="9" width="1" height="1" fill="#e6b0b0"/><rect x="22" y="9" width="3" height="1" fill="#e6b0b0"/><rect x="26" y="9" width="3" height="1" fill="#e2e2f6"/><rect x="31" y="9" width="2" height="1" fill="#e2e2f6"/><rect x="33" y="9" width="1" height="1" fill="#ccccee"/><rect x="37" y="9" width="2" height="1" fill="#ecc0c0"/><rect x="41" y="9" width="3" height="1" fill="#f0cccc"/><rect x="45" y="9" width="1" height="1" fill="#e6b0b0"/><rect x="51" y="9" width="3" height="1" fill="#eaeafa"/><rect x="57" y="9" width="2" height="1" fill="#eaeafa"/><rect x="60" y="9" width="1" height="1" fill="#ccccee"/><rect x="64" y="9" width="3" height="1" fill="#ecc0c0"/><rect x="68" y="9" width="3" height="1" fill="#f4dada"/><rect x="2" y="10" width="1" height="1" fill="#f4dada"/><rect x="6" y="10" width="2" height="1" fill="#ccccee"/><rect x="8" y="10" width="1" height="1" fill="#ccccee"/><rect x="9" y="10" width="3" height="1" fill="#ccccee"/><rect x="13" y="10" width="3" height="1" fill="#e2e2f6"/><rect x="19" y="10" width="3" height="1" fill="#eebcbc"/><rect x="22" y="10" width="1" height="1" fill="#f0cccc"/><rect x="27" y="10" width="2" height="1" fill="#d6d6f2"/><rect x="33" y="10" width="1" height="1" fill="#eaeafa"/><rect x="36" y="10" width="3" height="1" fill="#e2e2f6"/><rect x="40" y="10" width="2" height="1" fill="#ccccee"/><rect x="43" y="10" width="2" height="1" fill="#ccccee"/><rect x="47" y="10" width="1" height="1" fill="#e6b0b0"/><rect x="50" y="10" width="2" height="1" fill="#d6d6f2"/><rect x="53" y="10" width="2" height="1" fill="#d6d6f2"/><rect x="56" y="10" width="3" height="1" fill="#ecc0c0"/><rect x="60" y="10" width="3" height="1" fill="#f4dada"/><rect x="63" y="10" width="3" height="1" fill="#f0cccc"/><rect x="66" y="10" width="2" height="1" fill="#f8e6e6"/><rect x="68" y="10" width="3" height="1" fill="#eebcbc"/><rect x="0" y="11" width="1" height="1" fill="#d6d6f2"/><rect x="1" y="11" width="3" height="1" fill="#eebcbc"/><rect x="9" y="11" width="2" height="1" fill="#f8e6e6"/><rect x="15" y="11" width="3" height="1" fill="#ecc0c0"/><rect x="19" y="11" width="3" height="1" fill="#ecc0c0"/><rect x="22" y="11" width="2" height="1" fill="#e2e2f6"/><rect x="24" y="11" width="3" height="1" fill="#eebcbc"/><rect x="27" y="11" width="2" height="1" fill="#f8e6e6"/><rect x="30" y="11" width="2" height="1" fill="#f4dada"/><rect x="35" y="11" width="2" height="1" fill="#eebcbc"/><rect x="38" y="11" width="2" height="1" fill="#e2e2f6"/><rect x="41" y="11" width="3" height="1" fill="#e6b0b0"/><rect x="44" y="11" width="1" height="1" fill="#f0cccc"/><rect x="50" y="11" width="1" height="1" fill="#e6b0b0"/><rect x="52" y="11" width="2" height="1" fill="#f4dada"/><rect x="54" y="11" width="2" height="1" fill="#d6d6f2"/><rect x="57" y="11" width="2" height="1" fill="#f8e6e6"/><rect x="61" y="11" width="2" height="1" fill="#f0cccc"/><rect x="68" y="11" width="1" height="1" fill="#eaeafa"/><rect x="69" y="11" width="1" height="1" fill="#f8e6e6"/><rect x="1" y="12" width="1" height="1" fill="#e6b0b0"/><rect x="10" y="12" width="1" height="1" fill="#d6d6f2"/><rect x="12" y="12" width="3" height="1" fill="#ecc0c0"/><rect x="16" y="12" width="3" height="1" fill="#ccccee"/><rect x="19" y="12" width="1" height="1" fill="#ecc0c0"/><rect x="21" y="12" width="3" height="1" fill="#eebcbc"/><rect x="27" y="12" width="2" height="1" fill="#f4dada"/><rect x="29" y="12" width="1" height="1" fill="#eebcbc"/><rect x="30" y="12" width="2" height="1" fill="#ecc0c0"/><rect x="33" y="12" width="1" height="1" fill="#eaeafa"/><rect x="36" y="12" width="2" height="1" fill="#d6d6f2"/><rect x="38" y="12" width="1" height="1" fill="#ccccee"/><rect x="39" y="12" width="1" height="1" fill="#ccccee"/><rect x="49" y="12" width="1" height="1" fill="#f0cccc"/><rect x="50" y="12" width="2" height="1" fill="#f8e6e6"/><rect x="54" y="12" width="3" height="1" fill="#e6b0b0"/><rect x="59" y="12" width="1" height="1" fill="#ecc0c0"/><rect x="62" y="12" width="2" height="1" fill="#eaeafa"/><rect x="64" y="12" width="1" height="1" fill="#ecc0c0"/><rect x="67" y="12" width="1" height="1" fill="#d6d6f2"/><rect x="0" y="13" width="3" height="1" fill="#ccccee"/><rect x="6" y="13" width="3" height="1" fill="#f0cccc"/><rect x="11" y="13" width="1" height="1" fill="#f0cccc"/><rect x="12" y="13" width="1" height="1" fill="#e2e2f6"/><rect x="15" y="13" width="3" height="1" fill="#eebcbc"/><rect x="20" y="13" width="1" height="1" fill="#d6d6f2"/><rect x="21" y="13" width="2" height="1" fill="#ecc0c0"/><rect x="25" y="13" width="3" height="1" fill="#d6d6f2"/><rect x="28" y="13" width="1" height="1" fill="#eaeafa"/><rect x="29" y="13" width="3" height="1" fill="#e2e2f6"/><rect x="37" y="13" width="3" height="1" fill="#f8e6e6"/><rect x="40" y="13" width="3" height="1" fill="#d6d6f2"/><rect x="43" y="13" width="2" height="1" fill="#f8e6e6"/><rect x="45" y="13" width="1" height="1" fill="#ecc0c0"/><rect x="48" y="13" width="2" height="1" fill="#ecc0c0"/><rect x="50" y="13" width="1" height="1" fill="#eebcbc"/><rect x="53" y="13" width="3" height="1" fill="#d6d6f2"/><rect x="57" y="13" width="3" height="1" fill="#ecc0c0"/><rect x="65" y="13" width="3" height="1" fill="#ecc0c0"/><rect x="0" y="14" width="3" height="1" fill="#e2e2f6"/><rect x="4" y="14" width="2" height="1" fill="#eaeafa"/><rect x="7" y="14" width="2" height="1" fill="#f8e6e6"/><rect x="10" y="14" width="3" height="1" fill="#ecc0c0"/><rect x="15" y="14" width="1" height="1" fill="#eebcbc"/><rect x="20" y="14" width="3" height="1" fill="#eebcbc"/><rect x="23" y="14" width="3" height="1" fill="#ccccee"/><rect x="28" y="14" width="1" height="1" fill="#eebcbc"/><rect x="29" y="14" width="1" height="1" fill="#e2e2f6"/><rect x="31" y="14" width="1" height="1" fill="#f4dada"/><rect x="34" y="14" width="3" height="1" fill="#e6b0b0"/><rect x="37" y="14" width="2" height="1" fill="#eebcbc"/><rect x="39" y="14" width="3" height="1" fill="#f4dada"/><rect x="42" y="14" width="3" height="1" fill="#ecc0c0"/><rect x="47" y="14" width="1" height="1" fill="#eebcbc"/><rect x="48" y="14" width="1" height="1" fill="#ecc0c0"/><rect x="50" y="14" width="2" height="1" fill="#e2e2f6"/><rect x="54" y="14" width="1" height="1" fill="#eaeafa"/><rect x="55" y="14" width="3" height="1" fill="#eaeafa"/><rect x="58" y="14" width="2" height="1" fill="#ecc0c0"/><rect x="61" y="14" width="1" height="1" fill="#e6b0b0"/><rect x="62" y="14" width="1" height="1" fill="#eebcbc"/><rect x="65" y="14" width="2" height="1" fill="#f0cccc"/><rect x="67" y="14" width="2" height="1" fill="#e6b0b0"/><rect x="70" y="14" width="1" height="1" fill="#f0cccc"/><rect x="1" y="15" width="1" height="1" fill="#e6b0b0"/><rect x="2" y="15" width="3" height="1" fill="#ccccee"/><rect x="6" y="15" width="1" height="1" fill="#eebcbc"/><rect x="7" y="15" width="3" height="1" fill="#eaeafa"/><rect x="10" y="15" width="3" height="1" fill="#d6d6f2"/><rect x="16" y="15" width="1" height="1" fill="#eebcbc"/><rect x="19" y="15" width="3" height="1" fill="#e2e2f6"/><rect x="23" y="15" width="1" height="1" fill="#e6b0b0"/><rect x="28" y="15" width="3" height="1" fill="#eebcbc"/><rect x="31" y="15" width="3" height="1" fill="#f0cccc"/><rect x="35" y="15" width="1" height="1" fill="#f4dada"/><rect x="36" y="15" width="3" height="1" fill="#eaeafa"/><rect x="39" y="15" width="3" height="1" fill="#d6d6f2"/><rect x="42" y="15" width="1" height="1" fill="#e2e2f6"/><rect x="45" y="15" width="3" height="1" fill="#e6b0b0"/><rect x="48" y="15" width="3" height="1" fill="#ccccee"/><rect x="53" y="15" width="2" height="1" fill="#e6b0b0"/><rect x="55" y="15" width="3" height="1" fill="#d6d6f2"/><rect x="67" y="15" width="3" height="1" fill="#e6b0b0"/><rect x="70" y="15" width="1" height="1" fill="#d6d6f2"/><rect x="0" y="16" width="1" height="1" fill="#f0cccc"/><rect x="6" y="16" width="1" height="1" fill="#ccccee"/><rect x="7" y="16" width="1" height="1" fill="#f0cccc"/><rect x="10" y="16" width="3" height="1" fill="#d6d6f2"/><rect x="14" y="16" width="2" height="1" fill="#f0cccc"/><rect x="17" y="16" width="1" height="1" fill="#f4dada"/><rect x="18" y="16" width="3" height="1" fill="#ecc0c0"/><rect x="21" y="16" width="3" height="1" fill="#f8e6e6"/><rect x="25" y="16" width="1" height="1" fill="#ccccee"/><rect x="27" y="16" width="1" height="1" fill="#f0cccc"/><rect x="29" y="16" width="2" height="1" fill="#f4dada"/><rect x="33" y="16" width="1" height="1" fill="#eaeafa"/><rect x="37" y="16" width="2" height="1" fill="#ccccee"/><rect x="39" y="16" width="3" height="1" fill="#eaeafa"/><rect x="42" y="16" width="1" height="1" fill="#eebcbc"/><rect x="44" y="16" width="3" height="1" fill="#eebcbc"/><rect x="47" y="16" width="3" height="1" fill="#e2e2f6"/><rect x="50" y="16" width="3" height="1" fill="#eaeafa"/><rect x="55" y="16" width="3" height="1" fill="#f4dada"/><rect x="61" y="16" width="1" height="1" fill="#eaeafa"/><rect x="68" y="16" width="2" height="1" fill="#eebcbc"/><rect x="70" y="16" width="1" height="1" fill="#d6d6f2"/><rect x="1" y="17" width="1" height="1" fill="#e6b0b0"/><rect x="5" y="17" width="2" height="1" fill="#eaeafa"/><rect x="9" y="17" width="2" height="1" fill="#e2e2f6"/><rect x="16" y="17" width="2" height="1" fill="#f0cccc"/><rect x="18" y="17" width="2" height="1" fill="#ccccee"/><rect x="25" y="17" width="3" height="1" fill="#ccccee"/><rect x="29" y="17" width="1" height="1" fill="#f4dada"/><rect x="31" y="17" width="3" height="1" fill="#e6b0b0"/><rect x="37" y="17" width="1" height="1" fill="#ccccee"/><rect x="40" y="17" width="3" height="1" fill="#eebcbc"/><rect x="43" y="17" width="3" height="1" fill="#f8e6e6"/><rect x="48" y="17" width="2" height="1" fill="#eebcbc"/><rect x="53" y="17" width="2" height="1" fill="#f4dada"/><rect x="57" y="17" width="3" height="1" fill="#f0cccc"/><rect x="62" y="17" width="2" height="1" fill="#ecc0c0"/><rect x="66" y="17" width="1" height="1" fill="#d6d6f2"/><rect x="67" y="17" width="1" height="1" fill="#eaeafa"/><rect x="68" y="17" width="2" height="1" fill="#eaeafa"/><rect x="0" y="18" width="2" height="1" fill="#f4dada"/><rect x="2" y="18" width="1" height="1" fill="#f0cccc"/><rect x="4" y="18" width="3" height="1" fill="#eaeafa"/><rect x="7" y="18" width="1" height="1" fill="#ecc0c0"/><rect x="8" y="18" width="2" height="1" fill="#e6b0b0"/><rect x="12" y="18" width="1" height="1" fill="#e6b0b0"/><rect x="14" y="18" width="3" height="1" fill="#f4dada"/><rect x="17" y="18" width="1" height="1" fill="#e6b0b0"/><rect x="18" y="18" width="1" height="1" fill="#e2e2f6"/><rect x="19" y="18" width="3" height="1" fill="#e6b0b0"/><rect x="22" y="18" width="1" height="1" fill="#f8e6e6"/><rect x="24" y="18" width="3" height="1" fill="#eaeafa"/><rect x="29" y="18" width="3" height="1" fill="#d6d6f2"/><rect x="32" y="18" width="3" height="1" fill="#eaeafa"/><rect x="36" y="18" width="1" height="1" fill="#ccccee"/><rect x="42" y="18" width="2" height="1" fill="#ccccee"/><rect x="44" y="18" width="3" height="1" fill="#f4dada"/><rect x="49" y="18" width="1" height="1" fill="#f0cccc"/><rect x="50" y="18" width="2" height="1" fill="#d6d6f2"/><rect x="52" y="18" width="2" height="1" fill="#f0cccc"/><rect x="55" y="18" width="3" height="1" fill="#f8e6e6"/><rect x="58" y="18" width="1" height="1" fill="#f8e6e6"/><rect x="59" y="18" width="2" height="1" fill="#f4dada"/><rect x="63" y="18" width="1" height="1" fill="#d6d6f2"/><rect x="65" y="18" width="3" height="1" fill="#ecc0c0"/><rect x="1" y="19" width="3" height="1" fill="#e2e2f6"/><rect x="4" y="19" width="3" height="1" fill="#e6b0b0"/><rect x="7" y="19" width="2" height="1" fill="#eaeafa"/><rect x="14" y="19" width="1" height="1" fill="#f8e6e6"/><rect x="15" y="19" width="3" height="1" fill="#ccccee"/><rect x="18" y="19" width="3" height="1" fill="#f8e6e6"/><rect x="24" y="19" width="1" height="1" fill="#eaeafa"/><rect x="25" y="19" width="3" height="1" fill="#d6d6f2"/><rect x="28" y="19" width="1" height="1" fill="#ecc0c0"/><rect x="29" y="19" width="2" height="1" fill="#e6b0b0"/><rect x="32" y="19" width="2" height="1" fill="#eebcbc"/><rect x="34" y="19" width="3" height="1" fill="#ecc0c0"/><rect x="38" y="19" width="3" height="1" fill="#ecc0c0"/><rect x="44" y="19" width="1" height="1" fill="#eebcbc"/><rect x="45" y="19" width="1" height="1" fill="#d6d6f2"/><rect x="48" y="19" width="3" height="1" fill="#ecc0c0"/><rect x="56" y="19" width="1" height="1" fill="#eaeafa"/><rect x="57" y="19" width="2" height="1" fill="#eaeafa"/><rect x="62" y="19" width="1" height="1" fill="#f0cccc"/><rect x="63" y="19" width="2" height="1" fill="#f8e6e6"/><rect x="65" y="19" width="3" height="1" fill="#f4dada"/><rect x="69" y="19" width="2" height="1" fill="#eebcbc"/><rect x="0" y="20" width="2" height="1" fill="#d6d6f2"/><rect x="3" y="20" width="2" height="1" fill="#f4dada"/><rect x="7" y="20" width="2" height="1" fill="#f0cccc"/><rect x="11" y="20" width="3" height="1" fill="#e2e2f6"/><rect x="15" y="20" width="3" height="1" fill="#eaeafa"/><rect x="18" y="20" width="3" height="1" fill="#f8e6e6"/><rect x="21" y="20" width="2" height="1" fill="#ecc0c0"/><rect x="23" y="20" width="1" height="1" fill="#f4dada"/><rect x="25" y="20" width="1" height="1" fill="#f0cccc"/><rect x="28" y="20" width="3" height="1" fill="#e6b0b0"/><rect x="32" y="20" width="3" height="1" fill="#ecc0c0"/><rect x="37" y="20" width="3" height="1" fill="#d6d6f2"/><rect x="40" y="20" width="2" height="1" fill="#d6d6f2"/><rect x="42" y="20" width="1" height="1" fill="#eaeafa"/><rect x="44" y="20" width="2" height="1" fill="#ccccee"/><rect x="49" y="20" width="1" height="1" fill="#e2e2f6"/><rect x="55" y="20" width="1" height="1" fill="#f8e6e6"/><rect x="56" y="20" width="3" height="1" fill="#f0cccc"/><rect x="59" y="20" width="1" height="1" fill="#f0cccc"/><rect x="66" y="20" width="1" height="1" fill="#e6b0b0"/><rect x="67" y="20" width="3" height="1" fill="#ccccee"/><rect x="3" y="21" width="3" height="1" fill="#e2e2f6"/><rect x="7" y="21" width="1" height="1" fill="#f0cccc"/><rect x="8" y="21" width="1" height="1" fill="#f8e6e6"/><rect x="10" y="21" width="1" height="1" fill="#ccccee"/><rect x="15" y="21" width="2" height="1" fill="#eaeafa"/><rect x="20" y="21" width="2" height="1" fill="#d6d6f2"/><rect x="24" y="21" width="3" height="1" fill="#eaeafa"/><rect x="28" y="21" width="3" height="1" fill="#ecc0c0"/><rect x="33" y="21" width="1" height="1" fill="#eaeafa"/><rect x="36" y="21" width="1" height="1" fill="#f0cccc"/><rect x="38" y="21" width="1" height="1" fill="#eaeafa"/><rect x="42" y="21" width="1" height="1" fill="#f4dada"/><rect x="43" y="21" width="3" height="1" fill="#ccccee"/><rect x="46" y="21" width="1" height="1" fill="#d6d6f2"/><rect x="47" y="21" width="3" height="1" fill="#f4dada"/><rect x="51" y="21" width="2" height="1" fill="#f8e6e6"/><rect x="53" y="21" width="2" height="1" fill="#d6d6f2"/><rect x="55" y="21" width="3" height="1" fill="#e2e2f6"/><rect x="59" y="21" width="3" height="1" fill="#f4dada"/><rect x="63" y="21" width="3" height="1" fill="#e6b0b0"/><rect x="5" y="22" width="1" height="1" fill="#d6d6f2"/><rect x="9" y="22" width="2" height="1" fill="#f4dada"/><rect x="11" y="22" width="1" height="1" fill="#ccccee"/><rect x="15" y="22" width="2" height="1" fill="#e2e2f6"/><rect x="17" y="22" width="2" height="1" fill="#eaeafa"/><rect x="22" y="22" width="1" height="1" fill="#f4dada"/><rect x="23" y="22" width="2" height="1" fill="#ccccee"/><rect x="25" y="22" width="1" height="1" fill="#e6b0b0"/><rect x="34" y="22" width="3" height="1" fill="#ccccee"/><rect x="37" y="22" width="3" height="1" fill="#e2e2f6"/><rect x="42" y="22" width="2" height="1" fill="#f0cccc"/><rect x="44" y="22" width="1" height="1" fill="#f4dada"/><rect x="49" y="22" width="2" height="1" fill="#f4dada"/><rect x="51" y="22" width="3" height="1" fill="#ecc0c0"/><rect x="55" y="22" width="1" height="1" fill="#f8e6e6"/><rect x="56" y="22" width="1" height="1" fill="#d6d6f2"/><rect x="59" y="22" width="2" height="1" fill="#e6b0b0"/><rect x="63" y="22" width="3" height="1" fill="#e6b0b0"/><rect x="66" y="22" width="3" height="1" fill="#d6d6f2"/><rect x="70" y="22" width="1" height="1" fill="#ccccee"/></pattern>
<pattern id="ps" x="0" y="0" width="67" height="31" patternUnits="userSpaceOnUse"><rect x="16" y="0" width="1" height="1" fill="#dadaf4"/><rect x="56" y="0" width="1" height="1" fill="#e4b0b0"/><rect x="58" y="0" width="1" height="1" fill="#e4b0b0"/><rect x="18" y="1" width="1" height="1" fill="#d0d0f2"/><rect x="30" y="1" width="1" height="1" fill="#e4b0b0"/><rect x="53" y="1" width="1" height="1" fill="#dadaf4"/><rect x="59" y="1" width="1" height="1" fill="#dadaf4"/><rect x="66" y="1" width="1" height="1" fill="#e4b0b0"/><rect x="3" y="2" width="1" height="1" fill="#f0d0d0"/><rect x="8" y="2" width="1" height="1" fill="#e2e2f6"/><rect x="34" y="2" width="1" height="1" fill="#f0d0d0"/><rect x="53" y="2" width="1" height="1" fill="#f4dada"/><rect x="5" y="3" width="1" height="1" fill="#f0d0d0"/><rect x="17" y="3" width="1" height="1" fill="#ecc6c6"/><rect x="23" y="3" width="1" height="1" fill="#f0d0d0"/><rect x="33" y="3" width="1" height="1" fill="#d0d0f2"/><rect x="44" y="3" width="1" height="1" fill="#e2e2f6"/><rect x="45" y="3" width="1" height="1" fill="#d0d0f2"/><rect x="50" y="3" width="1" height="1" fill="#f4dada"/><rect x="13" y="4" width="1" height="1" fill="#d0d0f2"/><rect x="15" y="4" width="1" height="1" fill="#ecc6c6"/><rect x="26" y="4" width="1" height="1" fill="#e4b0b0"/><rect x="38" y="4" width="1" height="1" fill="#d0d0f2"/><rect x="45" y="4" width="1" height="1" fill="#e4b0b0"/><rect x="49" y="4" width="1" height="1" fill="#f0d0d0"/><rect x="53" y="4" width="1" height="1" fill="#e2e2f6"/><rect x="58" y="4" width="1" height="1" fill="#f4dada"/><rect x="6" y="5" width="1" height="1" fill="#e4b0b0"/><rect x="13" y="5" width="1" height="1" fill="#e4b0b0"/><rect x="23" y="5" width="1" height="1" fill="#e4b0b0"/><rect x="36" y="5" width="1" height="1" fill="#e4b0b0"/><rect x="48" y="5" width="1" height="1" fill="#dadaf4"/><rect x="50" y="5" width="1" height="1" fill="#f0d0d0"/><rect x="52" y="5" width="1" height="1" fill="#d0d0f2"/><rect x="59" y="5" width="1" height="1" fill="#dadaf4"/><rect x="0" y="6" width="1" height="1" fill="#f0d0d0"/><rect x="26" y="6" width="1" height="1" fill="#ecc6c6"/><rect x="35" y="6" width="1" height="1" fill="#ecc6c6"/><rect x="37" y="6" width="1" height="1" fill="#ecc6c6"/><rect x="38" y="6" width="1" height="1" fill="#f0d0d0"/><rect x="50" y="6" width="1" height="1" fill="#d0d0f2"/><rect x="8" y="7" width="1" height="1" fill="#f0d0d0"/><rect x="19" y="7" width="1" height="1" fill="#e2e2f6"/><rect x="21" y="7" width="1" height="1" fill="#e4b0b0"/><rect x="22" y="7" width="1" height="1" fill="#f4dada"/><rect x="31" y="7" width="1" height="1" fill="#e4b0b0"/><rect x="34" y="7" width="1" height="1" fill="#d0d0f2"/><rect x="36" y="7" width="1" height="1" fill="#e4b0b0"/><rect x="41" y="7" width="1" height="1" fill="#ecc6c6"/><rect x="66" y="7" width="1" height="1" fill="#dadaf4"/><rect x="47" y="8" width="1" height="1" fill="#e4b0b0"/><rect x="51" y="8" width="1" height="1" fill="#dadaf4"/><rect x="54" y="8" width="1" height="1" fill="#ecc6c6"/><rect x="0" y="9" width="1" height="1" fill="#f4dada"/><rect x="32" y="9" width="1" height="1" fill="#f0d0d0"/><rect x="45" y="9" width="1" height="1" fill="#ecc6c6"/><rect x="46" y="9" width="1" height="1" fill="#dadaf4"/><rect x="1" y="10" width="1" height="1" fill="#e4b0b0"/><rect x="8" y="10" width="1" height="1" fill="#e2e2f6"/><rect x="24" y="10" width="1" height="1" fill="#f4dada"/><rect x="60" y="10" width="1" height="1" fill="#e2e2f6"/><rect x="3" y="11" width="1" height="1" fill="#e4b0b0"/><rect x="30" y="11" width="1" height="1" fill="#f4dada"/><rect x="55" y="11" width="1" height="1" fill="#dadaf4"/><rect x="10" y="12" width="1" height="1" fill="#ecc6c6"/><rect x="11" y="12" width="1" height="1" fill="#f0d0d0"/><rect x="13" y="12" width="1" height="1" fill="#f0d0d0"/><rect x="31" y="12" width="1" height="1" fill="#f0d0d0"/><rect x="56" y="12" width="1" height="1" fill="#f4dada"/><rect x="24" y="13" width="1" height="1" fill="#dadaf4"/><rect x="33" y="13" width="1" height="1" fill="#d0d0f2"/><rect x="38" y="13" width="1" height="1" fill="#f4dada"/><rect x="54" y="13" width="1" height="1" fill="#d0d0f2"/><rect x="16" y="14" width="1" height="1" fill="#f0d0d0"/><rect x="29" y="14" width="1" height="1" fill="#ecc6c6"/><rect x="49" y="14" width="1" height="1" fill="#dadaf4"/><rect x="60" y="14" width="1" height="1" fill="#f0d0d0"/><rect x="61" y="14" width="1" height="1" fill="#d0d0f2"/><rect x="66" y="14" width="1" height="1" fill="#f0d0d0"/><rect x="7" y="15" width="1" height="1" fill="#f4dada"/><rect x="13" y="15" width="1" height="1" fill="#dadaf4"/><rect x="17" y="15" width="1" height="1" fill="#f4dada"/><rect x="29" y="15" width="1" height="1" fill="#d0d0f2"/><rect x="37" y="15" width="1" height="1" fill="#e2e2f6"/><rect x="49" y="15" width="1" height="1" fill="#f0d0d0"/><rect x="60" y="15" width="1" height="1" fill="#f4dada"/><rect x="61" y="15" width="1" height="1" fill="#ecc6c6"/><rect x="8" y="16" width="1" height="1" fill="#ecc6c6"/><rect x="23" y="16" width="1" height="1" fill="#ecc6c6"/><rect x="26" y="16" width="1" height="1" fill="#ecc6c6"/><rect x="33" y="16" width="1" height="1" fill="#dadaf4"/><rect x="43" y="16" width="1" height="1" fill="#f4dada"/><rect x="48" y="16" width="1" height="1" fill="#ecc6c6"/><rect x="58" y="16" width="1" height="1" fill="#dadaf4"/><rect x="66" y="16" width="1" height="1" fill="#f4dada"/><rect x="23" y="18" width="1" height="1" fill="#dadaf4"/><rect x="38" y="18" width="1" height="1" fill="#f4dada"/><rect x="50" y="18" width="1" height="1" fill="#f4dada"/><rect x="22" y="20" width="1" height="1" fill="#d0d0f2"/><rect x="35" y="20" width="1" height="1" fill="#e2e2f6"/><rect x="53" y="20" width="1" height="1" fill="#d0d0f2"/><rect x="62" y="20" width="1" height="1" fill="#e4b0b0"/><rect x="10" y="21" width="1" height="1" fill="#f4dada"/><rect x="12" y="21" width="1" height="1" fill="#d0d0f2"/><rect x="35" y="21" width="1" height="1" fill="#e2e2f6"/><rect x="36" y="21" width="1" height="1" fill="#ecc6c6"/><rect x="38" y="21" width="1" height="1" fill="#f0d0d0"/><rect x="43" y="21" width="1" height="1" fill="#e2e2f6"/><rect x="61" y="21" width="1" height="1" fill="#ecc6c6"/><rect x="22" y="22" width="1" height="1" fill="#e2e2f6"/><rect x="50" y="22" width="1" height="1" fill="#dadaf4"/><rect x="4" y="23" width="1" height="1" fill="#e4b0b0"/><rect x="5" y="23" width="1" height="1" fill="#e2e2f6"/><rect x="4" y="24" width="1" height="1" fill="#f4dada"/><rect x="8" y="24" width="1" height="1" fill="#f0d0d0"/><rect x="9" y="24" width="1" height="1" fill="#ecc6c6"/><rect x="20" y="24" width="1" height="1" fill="#ecc6c6"/><rect x="25" y="24" width="1" height="1" fill="#e2e2f6"/><rect x="32" y="24" width="1" height="1" fill="#ecc6c6"/><rect x="36" y="24" width="1" height="1" fill="#ecc6c6"/><rect x="62" y="24" width="1" height="1" fill="#e2e2f6"/><rect x="1" y="25" width="1" height="1" fill="#f4dada"/><rect x="18" y="25" width="1" height="1" fill="#d0d0f2"/><rect x="29" y="25" width="1" height="1" fill="#e4b0b0"/><rect x="57" y="25" width="1" height="1" fill="#dadaf4"/><rect x="64" y="25" width="1" height="1" fill="#dadaf4"/><rect x="10" y="26" width="1" height="1" fill="#e4b0b0"/><rect x="38" y="26" width="1" height="1" fill="#e2e2f6"/><rect x="7" y="27" width="1" height="1" fill="#e4b0b0"/><rect x="11" y="27" width="1" height="1" fill="#d0d0f2"/><rect x="12" y="27" width="1" height="1" fill="#dadaf4"/><rect x="22" y="27" width="1" height="1" fill="#f4dada"/><rect x="41" y="27" width="1" height="1" fill="#e4b0b0"/><rect x="61" y="27" width="1" height="1" fill="#e2e2f6"/><rect x="64" y="27" width="1" height="1" fill="#f0d0d0"/><rect x="3" y="28" width="1" height="1" fill="#e4b0b0"/><rect x="22" y="28" width="1" height="1" fill="#f0d0d0"/><rect x="31" y="28" width="1" height="1" fill="#d0d0f2"/><rect x="33" y="28" width="1" height="1" fill="#e4b0b0"/><rect x="42" y="28" width="1" height="1" fill="#d0d0f2"/><rect x="47" y="28" width="1" height="1" fill="#ecc6c6"/><rect x="54" y="28" width="1" height="1" fill="#ecc6c6"/><rect x="27" y="29" width="1" height="1" fill="#e4b0b0"/><rect x="33" y="29" width="1" height="1" fill="#f0d0d0"/><rect x="52" y="29" width="1" height="1" fill="#e2e2f6"/><rect x="57" y="29" width="1" height="1" fill="#e4b0b0"/><rect x="63" y="29" width="1" height="1" fill="#dadaf4"/><rect x="6" y="30" width="1" height="1" fill="#f4dada"/><rect x="12" y="30" width="1" height="1" fill="#e2e2f6"/><rect x="25" y="30" width="1" height="1" fill="#f0d0d0"/><rect x="30" y="30" width="1" height="1" fill="#f4dada"/><rect x="39" y="30" width="1" height="1" fill="#f0d0d0"/><rect x="43" y="30" width="1" height="1" fill="#e4b0b0"/><rect x="47" y="30" width="1" height="1" fill="#ecc6c6"/><rect x="49" y="30" width="1" height="1" fill="#e4b0b0"/><rect x="65" y="30" width="1" height="1" fill="#e2e2f6"/></pattern>
<pattern id="pz" x="0" y="0" width="59" height="27" patternUnits="userSpaceOnUse"><rect x="1" y="0" width="1" height="1" fill="#f0d0d0"/><rect x="2" y="0" width="1" height="1" fill="#dcdcf4"/><rect x="29" y="0" width="1" height="1" fill="#f0d0d0"/><rect x="20" y="1" width="2" height="1" fill="#dcdcf4"/><rect x="36" y="1" width="2" height="1" fill="#ecc4c4"/><rect x="42" y="1" width="2" height="1" fill="#dcdcf4"/><rect x="10" y="3" width="2" height="1" fill="#ecc4c4"/><rect x="52" y="4" width="2" height="1" fill="#dcdcf4"/><rect x="53" y="6" width="1" height="1" fill="#dcdcf4"/><rect x="26" y="7" width="2" height="1" fill="#f0d0d0"/><rect x="31" y="7" width="1" height="1" fill="#f0d0d0"/><rect x="37" y="7" width="1" height="1" fill="#dcdcf4"/><rect x="5" y="8" width="2" height="1" fill="#dcdcf4"/><rect x="8" y="8" width="2" height="1" fill="#f0d0d0"/><rect x="46" y="9" width="1" height="1" fill="#f0d0d0"/><rect x="2" y="10" width="2" height="1" fill="#dcdcf4"/><rect x="3" y="11" width="2" height="1" fill="#f0d0d0"/><rect x="6" y="11" width="2" height="1" fill="#f0d0d0"/><rect x="13" y="11" width="1" height="1" fill="#ecc4c4"/><rect x="41" y="11" width="1" height="1" fill="#ecc4c4"/><rect x="31" y="12" width="2" height="1" fill="#ecc4c4"/><rect x="35" y="13" width="1" height="1" fill="#f0d0d0"/><rect x="32" y="14" width="2" height="1" fill="#f0d0d0"/><rect x="44" y="14" width="1" height="1" fill="#ecc4c4"/><rect x="45" y="14" width="2" height="1" fill="#f0d0d0"/><rect x="21" y="15" width="2" height="1" fill="#dcdcf4"/><rect x="57" y="16" width="2" height="1" fill="#ecc4c4"/><rect x="48" y="17" width="1" height="1" fill="#ecc4c4"/><rect x="12" y="18" width="2" height="1" fill="#ecc4c4"/><rect x="20" y="18" width="1" height="1" fill="#dcdcf4"/><rect x="28" y="19" width="1" height="1" fill="#ecc4c4"/><rect x="44" y="20" width="1" height="1" fill="#ecc4c4"/><rect x="19" y="21" width="2" height="1" fill="#ecc4c4"/><rect x="38" y="21" width="2" height="1" fill="#f0d0d0"/><rect x="44" y="21" width="1" height="1" fill="#ecc4c4"/><rect x="20" y="22" width="2" height="1" fill="#f0d0d0"/><rect x="58" y="23" width="1" height="1" fill="#dcdcf4"/><rect x="7" y="24" width="2" height="1" fill="#f0d0d0"/><rect x="49" y="24" width="1" height="1" fill="#f0d0d0"/><rect x="39" y="25" width="2" height="1" fill="#f0d0d0"/><rect x="16" y="26" width="1" height="1" fill="#dcdcf4"/></pattern>
<pattern id="pt" x="0" y="0" width="47" height="23" patternUnits="userSpaceOnUse"><rect x="0" y="0" width="4" height="1" fill="rgba(255,255,255,0.55)"/><rect x="4" y="0" width="4" height="1" fill="rgba(0,0,60,0.12)"/><rect x="8" y="0" width="2" height="1" fill="rgba(255,255,255,0.35)"/><rect x="14" y="0" width="2" height="1" fill="rgba(0,0,60,0.12)"/><rect x="16" y="0" width="2" height="1" fill="rgba(0,0,60,0.12)"/><rect x="18" y="0" width="5" height="1" fill="rgba(255,255,255,0.35)"/><rect x="25" y="0" width="4" height="1" fill="rgba(0,0,60,0.12)"/><rect x="29" y="0" width="5" height="1" fill="rgba(255,255,255,0.35)"/><rect x="35" y="0" width="1" height="1" fill="rgba(0,0,60,0.12)"/><rect x="37" y="0" width="2" height="1" fill="rgba(255,255,255,0.35)"/><rect x="39" y="0" width="1" height="1" fill="rgba(255,255,255,0.35)"/><rect x="41" y="0" width="4" height="1" fill="rgba(255,255,255,0.35)"/><rect x="46" y="0" width="1" height="1" fill="rgba(255,255,255,0.55)"/><rect x="4" y="1" width="1" height="1" fill="rgba(255,255,255,0.35)"/><rect x="6" y="1" width="6" height="1" fill="rgba(0,0,60,0.12)"/><rect x="12" y="1" width="1" height="1" fill="rgba(255,255,255,0.55)"/><rect x="13" y="1" width="4" height="1" fill="rgba(255,255,255,0.55)"/><rect x="18" y="1" width="4" height="1" fill="rgba(255,255,255,0.35)"/><rect x="22" y="1" width="5" height="1" fill="rgba(255,255,255,0.55)"/><rect x="28" y="1" width="2" height="1" fill="rgba(255,255,255,0.35)"/><rect x="30" y="1" width="4" height="1" fill="rgba(0,0,60,0.12)"/><rect x="34" y="1" width="1" height="1" fill="rgba(255,255,255,0.55)"/><rect x="35" y="1" width="3" height="1" fill="rgba(0,0,60,0.12)"/><rect x="38" y="1" width="2" height="1" fill="rgba(255,255,255,0.55)"/><rect x="40" y="1" width="4" height="1" fill="rgba(255,255,255,0.35)"/><rect x="44" y="1" width="2" height="1" fill="rgba(0,0,60,0.12)"/><rect x="0" y="2" width="3" height="1" fill="rgba(255,255,255,0.55)"/><rect x="4" y="2" width="4" height="1" fill="rgba(0,0,60,0.12)"/><rect x="8" y="2" width="3" height="1" fill="rgba(0,0,60,0.12)"/><rect x="14" y="2" width="6" height="1" fill="rgba(255,255,255,0.35)"/><rect x="21" y="2" width="1" height="1" fill="rgba(0,0,60,0.12)"/><rect x="23" y="2" width="4" height="1" fill="rgba(255,255,255,0.35)"/><rect x="28" y="2" width="3" height="1" fill="rgba(255,255,255,0.55)"/><rect x="32" y="2" width="4" height="1" fill="rgba(255,255,255,0.55)"/><rect x="36" y="2" width="6" height="1" fill="rgba(255,255,255,0.55)"/><rect x="42" y="2" width="4" height="1" fill="rgba(255,255,255,0.55)"/><rect x="46" y="2" width="1" height="1" fill="rgba(255,255,255,0.55)"/><rect x="0" y="3" width="5" height="1" fill="rgba(255,255,255,0.55)"/><rect x="5" y="3" width="6" height="1" fill="rgba(0,0,60,0.12)"/><rect x="15" y="3" width="5" height="1" fill="rgba(255,255,255,0.55)"/><rect x="23" y="3" width="1" height="1" fill="rgba(255,255,255,0.35)"/><rect x="28" y="3" width="2" height="1" fill="rgba(0,0,60,0.12)"/><rect x="32" y="3" width="5" height="1" fill="rgba(255,255,255,0.55)"/><rect x="38" y="3" width="1" height="1" fill="rgba(255,255,255,0.55)"/><rect x="42" y="3" width="3" height="1" fill="rgba(255,255,255,0.35)"/><rect x="45" y="3" width="1" height="1" fill="rgba(255,255,255,0.55)"/><rect x="46" y="3" width="1" height="1" fill="rgba(255,255,255,0.55)"/><rect x="0" y="4" width="1" height="1" fill="rgba(255,255,255,0.35)"/><rect x="1" y="4" width="1" height="1" fill="rgba(255,255,255,0.35)"/><rect x="4" y="4" width="5" height="1" fill="rgba(0,0,60,0.12)"/><rect x="9" y="4" width="2" height="1" fill="rgba(255,255,255,0.35)"/><rect x="11" y="4" width="1" height="1" fill="rgba(255,255,255,0.35)"/><rect x="15" y="4" width="1" height="1" fill="rgba(255,255,255,0.55)"/><rect x="17" y="4" width="6" height="1" fill="rgba(0,0,60,0.12)"/><rect x="24" y="4" width="1" height="1" fill="rgba(0,0,60,0.12)"/><rect x="26" y="4" width="5" height="1" fill="rgba(255,255,255,0.35)"/><rect x="31" y="4" width="5" height="1" fill="rgba(255,255,255,0.35)"/><rect x="41" y="4" width="1" height="1" fill="rgba(255,255,255,0.35)"/><rect x="45" y="4" width="2" height="1" fill="rgba(255,255,255,0.35)"/><rect x="3" y="5" width="1" height="1" fill="rgba(255,255,255,0.35)"/><rect x="4" y="5" width="4" height="1" fill="rgba(255,255,255,0.55)"/><rect x="8" y="5" width="1" height="1" fill="rgba(255,255,255,0.55)"/><rect x="12" y="5" width="5" height="1" fill="rgba(0,0,60,0.12)"/><rect x="17" y="5" width="1" height="1" fill="rgba(255,255,255,0.35)"/><rect x="21" y="5" width="2" height="1" fill="rgba(255,255,255,0.35)"/><rect x="23" y="5" width="2" height="1" fill="rgba(255,255,255,0.55)"/><rect x="28" y="5" width="6" height="1" fill="rgba(255,255,255,0.55)"/><rect x="36" y="5" width="1" height="1" fill="rgba(255,255,255,0.35)"/><rect x="37" y="5" width="1" height="1" fill="rgba(255,255,255,0.35)"/><rect x="39" y="5" width="5" height="1" fill="rgba(255,255,255,0.55)"/><rect x="45" y="5" width="2" height="1" fill="rgba(255,255,255,0.55)"/><rect x="0" y="6" width="3" height="1" fill="rgba(0,0,60,0.12)"/><rect x="3" y="6" width="2" height="1" fill="rgba(0,0,60,0.12)"/><rect x="5" y="6" width="3" height="1" fill="rgba(0,0,60,0.12)"/><rect x="9" y="6" width="3" height="1" fill="rgba(0,0,60,0.12)"/><rect x="12" y="6" width="2" height="1" fill="rgba(255,255,255,0.55)"/><rect x="14" y="6" width="4" height="1" fill="rgba(0,0,60,0.12)"/><rect x="20" y="6" width="2" height="1" fill="rgba(255,255,255,0.55)"/><rect x="22" y="6" width="1" height="1" fill="rgba(255,255,255,0.55)"/><rect x="23" y="6" width="1" height="1" fill="rgba(255,255,255,0.55)"/><rect x="25" y="6" width="4" height="1" fill="rgba(255,255,255,0.35)"/><rect x="30" y="6" width="4" height="1" fill="rgba(255,255,255,0.35)"/><rect x="36" y="6" width="6" height="1" fill="rgba(255,255,255,0.55)"/><rect x="42" y="6" width="5" height="1" fill="rgba(0,0,60,0.12)"/><rect x="0" y="7" width="1" height="1" fill="rgba(0,0,60,0.12)"/><rect x="3" y="7" width="1" height="1" fill="rgba(255,255,255,0.35)"/><rect x="5" y="7" width="3" height="1" fill="rgba(0,0,60,0.12)"/><rect x="8" y="7" width="5" height="1" fill="rgba(255,255,255,0.35)"/><rect x="13" y="7" width="3" height="1" fill="rgba(255,255,255,0.55)"/><rect x="16" y="7" width="3" height="1" fill="rgba(255,255,255,0.55)"/><rect x="20" y="7" width="2" height="1" fill="rgba(255,255,255,0.55)"/><rect x="23" y="7" width="2" height="1" fill="rgba(255,255,255,0.35)"/><rect x="25" y="7" width="4" height="1" fill="rgba(255,255,255,0.55)"/><rect x="35" y="7" width="2" height="1" fill="rgba(0,0,60,0.12)"/><rect x="41" y="7" width="2" height="1" fill="rgba(0,0,60,0.12)"/><rect x="44" y="7" width="3" height="1" fill="rgba(255,255,255,0.55)"/><rect x="0" y="8" width="6" height="1" fill="rgba(0,0,60,0.12)"/><rect x="8" y="8" width="6" height="1" fill="rgba(0,0,60,0.12)"/><rect x="15" y="8" width="6" height="1" fill="rgba(255,255,255,0.55)"/><rect x="23" y="8" width="3" height="1" fill="rgba(255,255,255,0.55)"/><rect x="26" y="8" width="6" height="1" fill="rgba(255,255,255,0.35)"/><rect x="34" y="8" width="2" height="1" fill="rgba(255,255,255,0.35)"/><rect x="37" y="8" width="1" height="1" fill="rgba(0,0,60,0.12)"/><rect x="38" y="8" width="2" height="1" fill="rgba(255,255,255,0.35)"/><rect x="42" y="8" width="5" height="1" fill="rgba(255,255,255,0.35)"/><rect x="1" y="9" width="5" height="1" fill="rgba(255,255,255,0.35)"/><rect x="6" y="9" width="5" height="1" fill="rgba(255,255,255,0.35)"/><rect x="14" y="9" width="5" height="1" fill="rgba(0,0,60,0.12)"/><rect x="19" y="9" width="1" height="1" fill="rgba(255,255,255,0.35)"/><rect x="22" y="9" width="1" height="1" fill="rgba(0,0,60,0.12)"/><rect x="23" y="9" width="4" height="1" fill="rgba(255,255,255,0.35)"/><rect x="27" y="9" width="4" height="1" fill="rgba(255,255,255,0.55)"/><rect x="32" y="9" width="3" height="1" fill="rgba(255,255,255,0.35)"/><rect x="35" y="9" width="1" height="1" fill="rgba(0,0,60,0.12)"/><rect x="37" y="9" width="5" height="1" fill="rgba(0,0,60,0.12)"/><rect x="42" y="9" width="5" height="1" fill="rgba(255,255,255,0.35)"/><rect x="4" y="10" width="5" height="1" fill="rgba(255,255,255,0.55)"/><rect x="10" y="10" width="5" height="1" fill="rgba(255,255,255,0.35)"/><rect x="16" y="10" width="3" height="1" fill="rgba(255,255,255,0.35)"/><rect x="19" y="10" width="5" height="1" fill="rgba(0,0,60,0.12)"/><rect x="26" y="10" width="4" height="1" fill="rgba(255,255,255,0.55)"/><rect x="30" y="10" width="5" height="1" fill="rgba(255,255,255,0.35)"/><rect x="36" y="10" width="4" height="1" fill="rgba(0,0,60,0.12)"/><rect x="41" y="10" width="5" height="1" fill="rgba(255,255,255,0.35)"/><rect x="46" y="10" width="1" height="1" fill="rgba(0,0,60,0.12)"/><rect x="0" y="11" width="1" height="1" fill="rgba(255,255,255,0.55)"/><rect x="1" y="11" width="6" height="1" fill="rgba(0,0,60,0.12)"/><rect x="8" y="11" width="5" height="1" fill="rgba(0,0,60,0.12)"/><rect x="14" y="11" width="3" height="1" fill="rgba(255,255,255,0.35)"/><rect x="17" y="11" width="2" height="1" fill="rgba(0,0,60,0.12)"/><rect x="19" y="11" width="5" height="1" fill="rgba(255,255,255,0.35)"/><rect x="24" y="11" width="4" height="1" fill="rgba(255,255,255,0.55)"/><rect x="28" y="11" width="4" height="1" fill="rgba(255,255,255,0.35)"/><rect x="32" y="11" width="1" height="1" fill="rgba(255,255,255,0.55)"/><rect x="35" y="11" width="6" height="1" fill="rgba(255,255,255,0.35)"/><rect x="44" y="11" width="1" height="1" fill="rgba(255,255,255,0.55)"/><rect x="45" y="11" width="2" height="1" fill="rgba(0,0,60,0.12)"/><rect x="1" y="12" width="6" height="1" fill="rgba(255,255,255,0.55)"/><rect x="10" y="12" width="3" height="1" fill="rgba(255,255,255,0.55)"/><rect x="13" y="12" width="1" height="1" fill="rgba(0,0,60,0.12)"/><rect x="14" y="12" width="2" height="1" fill="rgba(255,255,255,0.55)"/><rect x="16" y="12" width="6" height="1" fill="rgba(255,255,255,0.55)"/><rect x="22" y="12" width="5" height="1" fill="rgba(255,255,255,0.35)"/><rect x="27" y="12" width="3" height="1" fill="rgba(255,255,255,0.55)"/><rect x="30" y="12" width="1" height="1" fill="rgba(255,255,255,0.55)"/><rect x="31" y="12" width="4" height="1" fill="rgba(0,0,60,0.12)"/><rect x="35" y="12" width="3" height="1" fill="rgba(255,255,255,0.55)"/><rect x="39" y="12" width="6" height="1" fill="rgba(0,0,60,0.12)"/><rect x="0" y="13" width="2" height="1" fill="rgba(255,255,255,0.55)"/><rect x="4" y="13" width="3" height="1" fill="rgba(255,255,255,0.55)"/><rect x="11" y="13" width="2" height="1" fill="rgba(255,255,255,0.55)"/><rect x="13" y="13" width="3" height="1" fill="rgba(0,0,60,0.12)"/><rect x="17" y="13" width="3" height="1" fill="rgba(255,255,255,0.55)"/><rect x="20" y="13" width="5" height="1" fill="rgba(0,0,60,0.12)"/><rect x="29" y="13" width="5" height="1" fill="rgba(255,255,255,0.35)"/><rect x="34" y="13" width="4" height="1" fill="rgba(255,255,255,0.55)"/><rect x="38" y="13" width="1" height="1" fill="rgba(255,255,255,0.35)"/><rect x="39" y="13" width="4" height="1" fill="rgba(255,255,255,0.55)"/><rect x="0" y="14" width="3" height="1" fill="rgba(255,255,255,0.55)"/><rect x="7" y="14" width="3" height="1" fill="rgba(255,255,255,0.35)"/><rect x="11" y="14" width="1" height="1" fill="rgba(0,0,60,0.12)"/><rect x="14" y="14" width="4" height="1" fill="rgba(255,255,255,0.35)"/><rect x="21" y="14" width="5" height="1" fill="rgba(255,255,255,0.35)"/><rect x="27" y="14" width="3" height="1" fill="rgba(0,0,60,0.12)"/><rect x="30" y="14" width="6" height="1" fill="rgba(255,255,255,0.55)"/><rect x="36" y="14" width="3" height="1" fill="rgba(0,0,60,0.12)"/><rect x="39" y="14" width="3" height="1" fill="rgba(255,255,255,0.35)"/><rect x="42" y="14" width="2" height="1" fill="rgba(255,255,255,0.55)"/><rect x="45" y="14" width="2" height="1" fill="rgba(255,255,255,0.35)"/><rect x="2" y="15" width="2" height="1" fill="rgba(255,255,255,0.35)"/><rect x="5" y="15" width="5" height="1" fill="rgba(255,255,255,0.35)"/><rect x="16" y="15" width="6" height="1" fill="rgba(255,255,255,0.55)"/><rect x="23" y="15" width="4" height="1" fill="rgba(0,0,60,0.12)"/><rect x="27" y="15" width="3" height="1" fill="rgba(255,255,255,0.35)"/><rect x="30" y="15" width="6" height="1" fill="rgba(255,255,255,0.35)"/><rect x="38" y="15" width="1" height="1" fill="rgba(0,0,60,0.12)"/><rect x="39" y="15" width="6" height="1" fill="rgba(255,255,255,0.55)"/><rect x="45" y="15" width="2" height="1" fill="rgba(255,255,255,0.35)"/><rect x="1" y="16" width="1" height="1" fill="rgba(0,0,60,0.12)"/><rect x="3" y="16" width="4" height="1" fill="rgba(255,255,255,0.55)"/><rect x="7" y="16" width="5" height="1" fill="rgba(255,255,255,0.55)"/><rect x="12" y="16" width="4" height="1" fill="rgba(255,255,255,0.35)"/><rect x="16" y="16" width="6" height="1" fill="rgba(255,255,255,0.35)"/><rect x="22" y="16" width="3" height="1" fill="rgba(0,0,60,0.12)"/><rect x="25" y="16" width="5" height="1" fill="rgba(0,0,60,0.12)"/><rect x="30" y="16" width="4" height="1" fill="rgba(0,0,60,0.12)"/><rect x="34" y="16" width="4" height="1" fill="rgba(255,255,255,0.35)"/><rect x="39" y="16" width="3" height="1" fill="rgba(0,0,60,0.12)"/><rect x="42" y="16" width="2" height="1" fill="rgba(255,255,255,0.35)"/><rect x="44" y="16" width="3" height="1" fill="rgba(255,255,255,0.55)"/><rect x="0" y="17" width="3" height="1" fill="rgba(255,255,255,0.35)"/><rect x="4" y="17" width="4" height="1" fill="rgba(255,255,255,0.35)"/><rect x="11" y="17" width="4" height="1" fill="rgba(255,255,255,0.55)"/><rect x="16" y="17" width="3" height="1" fill="rgba(255,255,255,0.35)"/><rect x="19" y="17" width="5" height="1" fill="rgba(255,255,255,0.55)"/><rect x="26" y="17" width="4" height="1" fill="rgba(0,0,60,0.12)"/><rect x="30" y="17" width="1" height="1" fill="rgba(255,255,255,0.55)"/><rect x="31" y="17" width="3" height="1" fill="rgba(255,255,255,0.55)"/><rect x="36" y="17" width="6" height="1" fill="rgba(255,255,255,0.55)"/><rect x="42" y="17" width="1" height="1" fill="rgba(255,255,255,0.35)"/><rect x="43" y="17" width="3" height="1" fill="rgba(255,255,255,0.35)"/><rect x="46" y="17" width="1" height="1" fill="rgba(255,255,255,0.55)"/><rect x="1" y="18" width="4" height="1" fill="rgba(255,255,255,0.55)"/><rect x="7" y="18" width="6" height="1" fill="rgba(255,255,255,0.55)"/><rect x="13" y="18" width="5" height="1" fill="rgba(255,255,255,0.55)"/><rect x="19" y="18" width="4" height="1" fill="rgba(255,255,255,0.35)"/><rect x="23" y="18" width="6" height="1" fill="rgba(255,255,255,0.55)"/><rect x="30" y="18" width="3" height="1" fill="rgba(255,255,255,0.35)"/><rect x="33" y="18" width="1" height="1" fill="rgba(0,0,60,0.12)"/><rect x="34" y="18" width="6" height="1" fill="rgba(0,0,60,0.12)"/><rect x="40" y="18" width="2" height="1" fill="rgba(255,255,255,0.55)"/><rect x="42" y="18" width="2" height="1" fill="rgba(255,255,255,0.35)"/><rect x="44" y="18" width="3" height="1" fill="rgba(255,255,255,0.35)"/><rect x="5" y="19" width="6" height="1" fill="rgba(0,0,60,0.12)"/><rect x="11" y="19" width="2" height="1" fill="rgba(255,255,255,0.55)"/><rect x="13" y="19" width="5" height="1" fill="rgba(255,255,255,0.55)"/><rect x="18" y="19" width="2" height="1" fill="rgba(255,255,255,0.35)"/><rect x="20" y="19" width="1" height="1" fill="rgba(255,255,255,0.35)"/><rect x="21" y="19" width="6" height="1" fill="rgba(255,255,255,0.55)"/><rect x="27" y="19" width="3" height="1" fill="rgba(255,255,255,0.55)"/><rect x="30" y="19" width="5" height="1" fill="rgba(255,255,255,0.35)"/><rect x="39" y="19" width="5" height="1" fill="rgba(255,255,255,0.35)"/><rect x="45" y="19" width="2" height="1" fill="rgba(255,255,255,0.35)"/><rect x="1" y="20" width="2" height="1" fill="rgba(255,255,255,0.55)"/><rect x="6" y="20" width="2" height="1" fill="rgba(255,255,255,0.55)"/><rect x="8" y="20" width="3" height="1" fill="rgba(255,255,255,0.55)"/><rect x="13" y="20" width="2" height="1" fill="rgba(0,0,60,0.12)"/><rect x="16" y="20" width="4" height="1" fill="rgba(255,255,255,0.35)"/><rect x="20" y="20" width="2" height="1" fill="rgba(0,0,60,0.12)"/><rect x="22" y="20" width="6" height="1" fill="rgba(255,255,255,0.55)"/><rect x="28" y="20" width="4" height="1" fill="rgba(255,255,255,0.55)"/><rect x="32" y="20" width="1" height="1" fill="rgba(255,255,255,0.35)"/><rect x="33" y="20" width="4" height="1" fill="rgba(255,255,255,0.55)"/><rect x="38" y="20" width="3" height="1" fill="rgba(255,255,255,0.35)"/><rect x="41" y="20" width="5" height="1" fill="rgba(255,255,255,0.35)"/><rect x="2" y="21" width="2" height="1" fill="rgba(255,255,255,0.35)"/><rect x="6" y="21" width="3" height="1" fill="rgba(255,255,255,0.55)"/><rect x="10" y="21" width="5" height="1" fill="rgba(255,255,255,0.55)"/><rect x="19" y="21" width="4" height="1" fill="rgba(0,0,60,0.12)"/><rect x="23" y="21" width="1" height="1" fill="rgba(255,255,255,0.55)"/><rect x="26" y="21" width="3" height="1" fill="rgba(255,255,255,0.35)"/><rect x="29" y="21" width="3" height="1" fill="rgba(255,255,255,0.35)"/><rect x="33" y="21" width="3" height="1" fill="rgba(0,0,60,0.12)"/><rect x="37" y="21" width="5" height="1" fill="rgba(255,255,255,0.35)"/><rect x="2" y="22" width="3" height="1" fill="rgba(255,255,255,0.55)"/><rect x="6" y="22" width="1" height="1" fill="rgba(255,255,255,0.35)"/><rect x="10" y="22" width="5" height="1" fill="rgba(0,0,60,0.12)"/><rect x="16" y="22" width="1" height="1" fill="rgba(0,0,60,0.12)"/><rect x="17" y="22" width="1" height="1" fill="rgba(0,0,60,0.12)"/><rect x="20" y="22" width="6" height="1" fill="rgba(255,255,255,0.35)"/><rect x="28" y="22" width="5" height="1" fill="rgba(255,255,255,0.35)"/><rect x="38" y="22" width="4" height="1" fill="rgba(255,255,255,0.35)"/><rect x="42" y="22" width="5" height="1" fill="rgba(255,255,255,0.55)"/></pattern>
<pattern id="pj" x="0" y="0" width="53" height="29" patternUnits="userSpaceOnUse"><rect width="53" height="29" fill="#faf6fa"/><rect x="0" y="0" width="6" height="1" fill="#dc8484"/><rect x="6" y="0" width="4" height="1" fill="#9898e2"/><rect x="10" y="0" width="4" height="1" fill="#9898e2"/><rect x="14" y="0" width="6" height="1" fill="#dc8484"/><rect x="22" y="0" width="2" height="1" fill="#eaacac"/><rect x="24" y="0" width="2" height="1" fill="#8e8ede"/><rect x="26" y="0" width="3" height="1" fill="#eaacac"/><rect x="30" y="0" width="6" height="1" fill="#eaacac"/><rect x="36" y="0" width="5" height="1" fill="#eaacac"/><rect x="41" y="0" width="3" height="1" fill="#bcbcee"/><rect x="44" y="0" width="5" height="1" fill="#dc8484"/><rect x="49" y="0" width="4" height="1" fill="#8e8ede"/><rect x="0" y="1" width="5" height="1" fill="#e49898"/><rect x="6" y="1" width="3" height="1" fill="#bcbcee"/><rect x="11" y="1" width="4" height="1" fill="#dc8484"/><rect x="15" y="1" width="4" height="1" fill="#e49898"/><rect x="19" y="1" width="2" height="1" fill="#8e8ede"/><rect x="24" y="1" width="2" height="1" fill="#acace8"/><rect x="26" y="1" width="4" height="1" fill="#d67676"/><rect x="30" y="1" width="6" height="1" fill="#eaacac"/><rect x="36" y="1" width="3" height="1" fill="#bcbcee"/><rect x="40" y="1" width="6" height="1" fill="#acace8"/><rect x="47" y="1" width="2" height="1" fill="#8e8ede"/><rect x="49" y="1" width="4" height="1" fill="#8e8ede"/><rect x="0" y="2" width="1" height="1" fill="#bcbcee"/><rect x="1" y="2" width="4" height="1" fill="#d67676"/><rect x="9" y="2" width="2" height="1" fill="#bcbcee"/><rect x="11" y="2" width="1" height="1" fill="#9898e2"/><rect x="13" y="2" width="2" height="1" fill="#e49898"/><rect x="15" y="2" width="5" height="1" fill="#9898e2"/><rect x="20" y="2" width="3" height="1" fill="#eaacac"/><rect x="23" y="2" width="3" height="1" fill="#eaacac"/><rect x="28" y="2" width="4" height="1" fill="#8e8ede"/><rect x="34" y="2" width="4" height="1" fill="#acace8"/><rect x="38" y="2" width="4" height="1" fill="#dc8484"/><rect x="42" y="2" width="3" height="1" fill="#d67676"/><rect x="45" y="2" width="3" height="1" fill="#bcbcee"/><rect x="49" y="2" width="4" height="1" fill="#acace8"/><rect x="0" y="3" width="1" height="1" fill="#bcbcee"/><rect x="1" y="3" width="6" height="1" fill="#eaacac"/><rect x="9" y="3" width="5" height="1" fill="#8e8ede"/><rect x="15" y="3" width="1" height="1" fill="#dc8484"/><rect x="16" y="3" width="2" height="1" fill="#d67676"/><rect x="19" y="3" width="1" height="1" fill="#bcbcee"/><rect x="20" y="3" width="5" height="1" fill="#eaacac"/><rect x="25" y="3" width="2" height="1" fill="#d67676"/><rect x="27" y="3" width="5" height="1" fill="#dc8484"/><rect x="32" y="3" width="2" height="1" fill="#9898e2"/><rect x="34" y="3" width="4" height="1" fill="#eaacac"/><rect x="38" y="3" width="5" height="1" fill="#eaacac"/><rect x="44" y="3" width="2" height="1" fill="#9898e2"/><rect x="46" y="3" width="3" height="1" fill="#9898e2"/><rect x="49" y="3" width="1" height="1" fill="#9898e2"/><rect x="50" y="3" width="3" height="1" fill="#8e8ede"/><rect x="0" y="4" width="6" height="1" fill="#8e8ede"/><rect x="6" y="4" width="4" height="1" fill="#eaacac"/><rect x="10" y="4" width="2" height="1" fill="#eaacac"/><rect x="14" y="4" width="3" height="1" fill="#bcbcee"/><rect x="17" y="4" width="6" height="1" fill="#acace8"/><rect x="23" y="4" width="2" height="1" fill="#e49898"/><rect x="25" y="4" width="3" height="1" fill="#dc8484"/><rect x="28" y="4" width="1" height="1" fill="#9898e2"/><rect x="29" y="4" width="1" height="1" fill="#dc8484"/><rect x="30" y="4" width="3" height="1" fill="#dc8484"/><rect x="34" y="4" width="3" height="1" fill="#9898e2"/><rect x="37" y="4" width="1" height="1" fill="#eaacac"/><rect x="39" y="4" width="6" height="1" fill="#9898e2"/><rect x="45" y="4" width="6" height="1" fill="#bcbcee"/><rect x="0" y="5" width="3" height="1" fill="#eaacac"/><rect x="3" y="5" width="4" height="1" fill="#d67676"/><rect x="7" y="5" width="5" height="1" fill="#bcbcee"/><rect x="12" y="5" width="6" height="1" fill="#9898e2"/><rect x="18" y="5" width="2" height="1" fill="#dc8484"/><rect x="20" y="5" width="3" height="1" fill="#d67676"/><rect x="24" y="5" width="3" height="1" fill="#8e8ede"/><rect x="27" y="5" width="3" height="1" fill="#8e8ede"/><rect x="31" y="5" width="6" height="1" fill="#8e8ede"/><rect x="37" y="5" width="5" height="1" fill="#eaacac"/><rect x="42" y="5" width="4" height="1" fill="#acace8"/><rect x="46" y="5" width="5" height="1" fill="#bcbcee"/><rect x="51" y="5" width="2" height="1" fill="#d67676"/><rect x="1" y="6" width="5" height="1" fill="#acace8"/><rect x="6" y="6" width="5" height="1" fill="#eaacac"/><rect x="12" y="6" width="6" height="1" fill="#eaacac"/><rect x="18" y="6" width="6" height="1" fill="#9898e2"/><rect x="24" y="6" width="1" height="1" fill="#dc8484"/><rect x="25" y="6" width="2" height="1" fill="#d67676"/><rect x="27" y="6" width="3" height="1" fill="#9898e2"/><rect x="30" y="6" width="3" height="1" fill="#eaacac"/><rect x="33" y="6" width="6" height="1" fill="#dc8484"/><rect x="39" y="6" width="4" height="1" fill="#eaacac"/><rect x="44" y="6" width="1" height="1" fill="#9898e2"/><rect x="45" y="6" width="6" height="1" fill="#dc8484"/><rect x="0" y="7" width="2" height="1" fill="#9898e2"/><rect x="3" y="7" width="3" height="1" fill="#d67676"/><rect x="6" y="7" width="1" height="1" fill="#9898e2"/><rect x="7" y="7" width="6" height="1" fill="#d67676"/><rect x="14" y="7" width="4" height="1" fill="#eaacac"/><rect x="18" y="7" width="6" height="1" fill="#bcbcee"/><rect x="24" y="7" width="2" height="1" fill="#bcbcee"/><rect x="27" y="7" width="6" height="1" fill="#acace8"/><rect x="33" y="7" width="3" height="1" fill="#eaacac"/><rect x="36" y="7" width="5" height="1" fill="#eaacac"/><rect x="41" y="7" width="3" height="1" fill="#acace8"/><rect x="44" y="7" width="5" height="1" fill="#e49898"/><rect x="50" y="7" width="3" height="1" fill="#9898e2"/><rect x="0" y="8" width="1" height="1" fill="#d67676"/><rect x="1" y="8" width="4" height="1" fill="#e49898"/><rect x="5" y="8" width="6" height="1" fill="#dc8484"/><rect x="12" y="8" width="1" height="1" fill="#9898e2"/><rect x="13" y="8" width="2" height="1" fill="#8e8ede"/><rect x="15" y="8" width="5" height="1" fill="#e49898"/><rect x="20" y="8" width="3" height="1" fill="#bcbcee"/><rect x="24" y="8" width="5" height="1" fill="#d67676"/><rect x="29" y="8" width="3" height="1" fill="#eaacac"/><rect x="32" y="8" width="6" height="1" fill="#d67676"/><rect x="39" y="8" width="4" height="1" fill="#8e8ede"/><rect x="43" y="8" width="2" height="1" fill="#9898e2"/><rect x="45" y="8" width="3" height="1" fill="#dc8484"/><rect x="48" y="8" width="3" height="1" fill="#acace8"/><rect x="51" y="8" width="2" height="1" fill="#dc8484"/><rect x="0" y="9" width="1" height="1" fill="#bcbcee"/><rect x="1" y="9" width="6" height="1" fill="#bcbcee"/><rect x="8" y="9" width="3" height="1" fill="#acace8"/><rect x="14" y="9" width="2" height="1" fill="#9898e2"/><rect x="16" y="9" width="1" height="1" fill="#bcbcee"/><rect x="17" y="9" width="4" height="1" fill="#bcbcee"/><rect x="21" y="9" width="1" height="1" fill="#d67676"/><rect x="22" y="9" width="5" height="1" fill="#eaacac"/><rect x="27" y="9" width="6" height="1" fill="#9898e2"/><rect x="33" y="9" width="6" height="1" fill="#eaacac"/><rect x="41" y="9" width="4" height="1" fill="#8e8ede"/><rect x="45" y="9" width="6" height="1" fill="#d67676"/><rect x="52" y="9" width="1" height="1" fill="#dc8484"/><rect x="1" y="10" width="6" height="1" fill="#e49898"/><rect x="10" y="10" width="2" height="1" fill="#acace8"/><rect x="13" y="10" width="1" height="1" fill="#dc8484"/><rect x="16" y="10" width="2" height="1" fill="#acace8"/><rect x="20" y="10" width="3" height="1" fill="#acace8"/><rect x="24" y="10" width="4" height="1" fill="#dc8484"/><rect x="29" y="10" width="5" height="1" fill="#bcbcee"/><rect x="34" y="10" width="2" height="1" fill="#bcbcee"/><rect x="36" y="10" width="4" height="1" fill="#bcbcee"/><rect x="41" y="10" width="6" height="1" fill="#e49898"/><rect x="49" y="10" width="4" height="1" fill="#9898e2"/><rect x="0" y="11" width="1" height="1" fill="#e49898"/><rect x="1" y="11" width="1" height="1" fill="#bcbcee"/><rect x="3" y="11" width="1" height="1" fill="#8e8ede"/><rect x="4" y="11" width="5" height="1" fill="#d67676"/><rect x="9" y="11" width="2" height="1" fill="#8e8ede"/><rect x="11" y="11" width="6" height="1" fill="#eaacac"/><rect x="17" y="11" width="5" height="1" fill="#bcbcee"/><rect x="22" y="11" width="6" height="1" fill="#d67676"/><rect x="30" y="11" width="5" height="1" fill="#eaacac"/><rect x="36" y="11" width="1" height="1" fill="#e49898"/><rect x="37" y="11" width="3" height="1" fill="#e49898"/><rect x="40" y="11" width="6" height="1" fill="#8e8ede"/><rect x="46" y="11" width="6" height="1" fill="#dc8484"/><rect x="0" y="12" width="1" height="1" fill="#acace8"/><rect x="1" y="12" width="6" height="1" fill="#8e8ede"/><rect x="7" y="12" width="2" height="1" fill="#e49898"/><rect x="9" y="12" width="4" height="1" fill="#acace8"/><rect x="13" y="12" width="2" height="1" fill="#8e8ede"/><rect x="15" y="12" width="2" height="1" fill="#e49898"/><rect x="17" y="12" width="3" height="1" fill="#d67676"/><rect x="20" y="12" width="1" height="1" fill="#dc8484"/><rect x="22" y="12" width="2" height="1" fill="#acace8"/><rect x="24" y="12" width="4" height="1" fill="#dc8484"/><rect x="29" y="12" width="3" height="1" fill="#bcbcee"/><rect x="32" y="12" width="5" height="1" fill="#acace8"/><rect x="37" y="12" width="5" height="1" fill="#acace8"/><rect x="44" y="12" width="2" height="1" fill="#eaacac"/><rect x="46" y="12" width="1" height="1" fill="#9898e2"/><rect x="47" y="12" width="6" height="1" fill="#acace8"/><rect x="0" y="13" width="1" height="1" fill="#8e8ede"/><rect x="1" y="13" width="6" height="1" fill="#d67676"/><rect x="7" y="13" width="2" height="1" fill="#acace8"/><rect x="10" y="13" width="6" height="1" fill="#dc8484"/><rect x="17" y="13" width="6" height="1" fill="#e49898"/><rect x="24" y="13" width="1" height="1" fill="#bcbcee"/><rect x="27" y="13" width="1" height="1" fill="#dc8484"/><rect x="28" y="13" width="6" height="1" fill="#acace8"/><rect x="34" y="13" width="6" height="1" fill="#d67676"/><rect x="41" y="13" width="4" height="1" fill="#eaacac"/><rect x="45" y="13" width="3" height="1" fill="#eaacac"/><rect x="48" y="13" width="3" height="1" fill="#9898e2"/><rect x="52" y="13" width="1" height="1" fill="#8e8ede"/><rect x="1" y="14" width="5" height="1" fill="#eaacac"/><rect x="8" y="14" width="4" height="1" fill="#eaacac"/><rect x="12" y="14" width="1" height="1" fill="#9898e2"/><rect x="13" y="14" width="4" height="1" fill="#eaacac"/><rect x="17" y="14" width="2" height="1" fill="#9898e2"/><rect x="19" y="14" width="2" height="1" fill="#e49898"/><rect x="21" y="14" width="1" height="1" fill="#acace8"/><rect x="22" y="14" width="4" height="1" fill="#d67676"/><rect x="26" y="14" width="6" height="1" fill="#dc8484"/><rect x="32" y="14" width="2" height="1" fill="#8e8ede"/><rect x="34" y="14" width="1" height="1" fill="#8e8ede"/><rect x="35" y="14" width="6" height="1" fill="#eaacac"/><rect x="44" y="14" width="1" height="1" fill="#e49898"/><rect x="45" y="14" width="5" height="1" fill="#9898e2"/><rect x="51" y="14" width="2" height="1" fill="#dc8484"/><rect x="0" y="15" width="2" height="1" fill="#9898e2"/><rect x="4" y="15" width="5" height="1" fill="#acace8"/><rect x="9" y="15" width="6" height="1" fill="#eaacac"/><rect x="15" y="15" width="3" height="1" fill="#bcbcee"/><rect x="18" y="15" width="6" height="1" fill="#8e8ede"/><rect x="24" y="15" width="3" height="1" fill="#bcbcee"/><rect x="27" y="15" width="2" height="1" fill="#8e8ede"/><rect x="31" y="15" width="1" height="1" fill="#eaacac"/><rect x="32" y="15" width="6" height="1" fill="#bcbcee"/><rect x="38" y="15" width="1" height="1" fill="#acace8"/><rect x="39" y="15" width="2" height="1" fill="#bcbcee"/><rect x="41" y="15" width="2" height="1" fill="#bcbcee"/><rect x="46" y="15" width="4" height="1" fill="#dc8484"/><rect x="50" y="15" width="3" height="1" fill="#dc8484"/><rect x="0" y="16" width="3" height="1" fill="#acace8"/><rect x="4" y="16" width="3" height="1" fill="#eaacac"/><rect x="8" y="16" width="4" height="1" fill="#bcbcee"/><rect x="12" y="16" width="6" height="1" fill="#dc8484"/><rect x="18" y="16" width="1" height="1" fill="#eaacac"/><rect x="19" y="16" width="4" height="1" fill="#e49898"/><rect x="24" y="16" width="1" height="1" fill="#dc8484"/><rect x="25" y="16" width="4" height="1" fill="#e49898"/><rect x="30" y="16" width="3" height="1" fill="#d67676"/><rect x="33" y="16" width="1" height="1" fill="#dc8484"/><rect x="34" y="16" width="6" height="1" fill="#9898e2"/><rect x="40" y="16" width="5" height="1" fill="#dc8484"/><rect x="46" y="16" width="4" height="1" fill="#e49898"/><rect x="51" y="16" width="1" height="1" fill="#dc8484"/><rect x="52" y="16" width="1" height="1" fill="#d67676"/><rect x="1" y="17" width="4" height="1" fill="#eaacac"/><rect x="5" y="17" width="5" height="1" fill="#e49898"/><rect x="10" y="17" width="5" height="1" fill="#eaacac"/><rect x="15" y="17" width="5" height="1" fill="#dc8484"/><rect x="20" y="17" width="5" height="1" fill="#e49898"/><rect x="25" y="17" width="5" height="1" fill="#8e8ede"/><rect x="30" y="17" width="3" height="1" fill="#bcbcee"/><rect x="33" y="17" width="3" height="1" fill="#d67676"/><rect x="36" y="17" width="5" height="1" fill="#d67676"/><rect x="41" y="17" width="5" height="1" fill="#dc8484"/><rect x="47" y="17" width="3" height="1" fill="#9898e2"/><rect x="50" y="17" width="3" height="1" fill="#eaacac"/><rect x="0" y="18" width="2" height="1" fill="#bcbcee"/><rect x="2" y="18" width="3" height="1" fill="#acace8"/><rect x="5" y="18" width="5" height="1" fill="#9898e2"/><rect x="10" y="18" width="2" height="1" fill="#dc8484"/><rect x="13" y="18" width="4" height="1" fill="#acace8"/><rect x="17" y="18" width="6" height="1" fill="#eaacac"/><rect x="23" y="18" width="4" height="1" fill="#e49898"/><rect x="27" y="18" width="6" height="1" fill="#bcbcee"/><rect x="35" y="18" width="2" height="1" fill="#eaacac"/><rect x="37" y="18" width="5" height="1" fill="#eaacac"/><rect x="42" y="18" width="5" height="1" fill="#dc8484"/><rect x="47" y="18" width="1" height="1" fill="#bcbcee"/><rect x="51" y="18" width="2" height="1" fill="#d67676"/><rect x="1" y="19" width="1" height="1" fill="#8e8ede"/><rect x="2" y="19" width="1" height="1" fill="#eaacac"/><rect x="3" y="19" width="2" height="1" fill="#9898e2"/><rect x="5" y="19" width="2" height="1" fill="#9898e2"/><rect x="8" y="19" width="3" height="1" fill="#bcbcee"/><rect x="13" y="19" width="1" height="1" fill="#bcbcee"/><rect x="15" y="19" width="3" height="1" fill="#e49898"/><rect x="19" y="19" width="2" height="1" fill="#dc8484"/><rect x="21" y="19" width="1" height="1" fill="#bcbcee"/><rect x="22" y="19" width="2" height="1" fill="#dc8484"/><rect x="25" y="19" width="3" height="1" fill="#bcbcee"/><rect x="28" y="19" width="1" height="1" fill="#8e8ede"/><rect x="29" y="19" width="5" height="1" fill="#d67676"/><rect x="34" y="19" width="3" height="1" fill="#e49898"/><rect x="37" y="19" width="2" height="1" fill="#8e8ede"/><rect x="41" y="19" width="5" height="1" fill="#8e8ede"/><rect x="46" y="19" width="1" height="1" fill="#9898e2"/><rect x="47" y="19" width="1" height="1" fill="#dc8484"/><rect x="49" y="19" width="4" height="1" fill="#eaacac"/><rect x="2" y="20" width="5" height="1" fill="#e49898"/><rect x="7" y="20" width="5" height="1" fill="#9898e2"/><rect x="14" y="20" width="4" height="1" fill="#d67676"/><rect x="18" y="20" width="1" height="1" fill="#9898e2"/><rect x="19" y="20" width="5" height="1" fill="#acace8"/><rect x="28" y="20" width="4" height="1" fill="#dc8484"/><rect x="33" y="20" width="5" height="1" fill="#9898e2"/><rect x="38" y="20" width="3" height="1" fill="#dc8484"/><rect x="42" y="20" width="4" height="1" fill="#9898e2"/><rect x="46" y="20" width="4" height="1" fill="#acace8"/><rect x="52" y="20" width="1" height="1" fill="#acace8"/><rect x="1" y="21" width="3" height="1" fill="#dc8484"/><rect x="4" y="21" width="1" height="1" fill="#acace8"/><rect x="6" y="21" width="4" height="1" fill="#eaacac"/><rect x="10" y="21" width="2" height="1" fill="#dc8484"/><rect x="12" y="21" width="6" height="1" fill="#d67676"/><rect x="18" y="21" width="6" height="1" fill="#8e8ede"/><rect x="24" y="21" width="4" height="1" fill="#8e8ede"/><rect x="29" y="21" width="3" height="1" fill="#9898e2"/><rect x="32" y="21" width="5" height="1" fill="#bcbcee"/><rect x="39" y="21" width="3" height="1" fill="#acace8"/><rect x="44" y="21" width="6" height="1" fill="#acace8"/><rect x="50" y="21" width="3" height="1" fill="#d67676"/><rect x="0" y="22" width="4" height="1" fill="#8e8ede"/><rect x="5" y="22" width="5" height="1" fill="#dc8484"/><rect x="12" y="22" width="5" height="1" fill="#8e8ede"/><rect x="18" y="22" width="4" height="1" fill="#dc8484"/><rect x="22" y="22" width="2" height="1" fill="#8e8ede"/><rect x="25" y="22" width="3" height="1" fill="#8e8ede"/><rect x="28" y="22" width="2" height="1" fill="#9898e2"/><rect x="30" y="22" width="5" height="1" fill="#bcbcee"/><rect x="36" y="22" width="2" height="1" fill="#9898e2"/><rect x="43" y="22" width="3" height="1" fill="#d67676"/><rect x="46" y="22" width="3" height="1" fill="#eaacac"/><rect x="49" y="22" width="1" height="1" fill="#9898e2"/><rect x="52" y="22" width="1" height="1" fill="#d67676"/><rect x="1" y="23" width="2" height="1" fill="#bcbcee"/><rect x="3" y="23" width="2" height="1" fill="#dc8484"/><rect x="5" y="23" width="5" height="1" fill="#dc8484"/><rect x="11" y="23" width="5" height="1" fill="#dc8484"/><rect x="16" y="23" width="2" height="1" fill="#bcbcee"/><rect x="18" y="23" width="4" height="1" fill="#bcbcee"/><rect x="22" y="23" width="3" height="1" fill="#8e8ede"/><rect x="28" y="23" width="1" height="1" fill="#9898e2"/><rect x="29" y="23" width="2" height="1" fill="#bcbcee"/><rect x="33" y="23" width="1" height="1" fill="#eaacac"/><rect x="34" y="23" width="5" height="1" fill="#acace8"/><rect x="39" y="23" width="2" height="1" fill="#8e8ede"/><rect x="41" y="23" width="4" height="1" fill="#acace8"/><rect x="46" y="23" width="1" height="1" fill="#9898e2"/><rect x="48" y="23" width="2" height="1" fill="#9898e2"/><rect x="50" y="23" width="3" height="1" fill="#bcbcee"/><rect x="2" y="24" width="5" height="1" fill="#eaacac"/><rect x="8" y="24" width="3" height="1" fill="#8e8ede"/><rect x="11" y="24" width="1" height="1" fill="#9898e2"/><rect x="12" y="24" width="1" height="1" fill="#e49898"/><rect x="16" y="24" width="2" height="1" fill="#8e8ede"/><rect x="18" y="24" width="3" height="1" fill="#d67676"/><rect x="21" y="24" width="1" height="1" fill="#eaacac"/><rect x="22" y="24" width="3" height="1" fill="#8e8ede"/><rect x="25" y="24" width="6" height="1" fill="#bcbcee"/><rect x="31" y="24" width="5" height="1" fill="#e49898"/><rect x="37" y="24" width="3" height="1" fill="#acace8"/><rect x="40" y="24" width="2" height="1" fill="#eaacac"/><rect x="42" y="24" width="4" height="1" fill="#9898e2"/><rect x="46" y="24" width="3" height="1" fill="#8e8ede"/><rect x="0" y="25" width="5" height="1" fill="#9898e2"/><rect x="5" y="25" width="6" height="1" fill="#8e8ede"/><rect x="11" y="25" width="3" height="1" fill="#d67676"/><rect x="14" y="25" width="4" height="1" fill="#acace8"/><rect x="19" y="25" width="3" height="1" fill="#e49898"/><rect x="23" y="25" width="2" height="1" fill="#dc8484"/><rect x="25" y="25" width="3" height="1" fill="#eaacac"/><rect x="28" y="25" width="3" height="1" fill="#bcbcee"/><rect x="31" y="25" width="3" height="1" fill="#d67676"/><rect x="34" y="25" width="5" height="1" fill="#dc8484"/><rect x="39" y="25" width="4" height="1" fill="#acace8"/><rect x="43" y="25" width="6" height="1" fill="#9898e2"/><rect x="49" y="25" width="4" height="1" fill="#acace8"/><rect x="1" y="26" width="3" height="1" fill="#bcbcee"/><rect x="5" y="26" width="6" height="1" fill="#8e8ede"/><rect x="11" y="26" width="5" height="1" fill="#8e8ede"/><rect x="19" y="26" width="6" height="1" fill="#e49898"/><rect x="25" y="26" width="2" height="1" fill="#bcbcee"/><rect x="27" y="26" width="3" height="1" fill="#e49898"/><rect x="31" y="26" width="5" height="1" fill="#e49898"/><rect x="36" y="26" width="1" height="1" fill="#8e8ede"/><rect x="38" y="26" width="3" height="1" fill="#bcbcee"/><rect x="41" y="26" width="1" height="1" fill="#bcbcee"/><rect x="43" y="26" width="5" height="1" fill="#dc8484"/><rect x="48" y="26" width="1" height="1" fill="#d67676"/><rect x="49" y="26" width="4" height="1" fill="#bcbcee"/><rect x="1" y="27" width="4" height="1" fill="#e49898"/><rect x="5" y="27" width="2" height="1" fill="#acace8"/><rect x="7" y="27" width="1" height="1" fill="#eaacac"/><rect x="9" y="27" width="3" height="1" fill="#8e8ede"/><rect x="12" y="27" width="5" height="1" fill="#dc8484"/><rect x="18" y="27" width="5" height="1" fill="#eaacac"/><rect x="23" y="27" width="6" height="1" fill="#d67676"/><rect x="29" y="27" width="2" height="1" fill="#d67676"/><rect x="31" y="27" width="5" height="1" fill="#acace8"/><rect x="36" y="27" width="6" height="1" fill="#eaacac"/><rect x="42" y="27" width="1" height="1" fill="#eaacac"/><rect x="46" y="27" width="3" height="1" fill="#dc8484"/><rect x="49" y="27" width="4" height="1" fill="#9898e2"/><rect x="3" y="28" width="6" height="1" fill="#d67676"/><rect x="9" y="28" width="4" height="1" fill="#eaacac"/><rect x="13" y="28" width="1" height="1" fill="#eaacac"/><rect x="15" y="28" width="4" height="1" fill="#acace8"/><rect x="19" y="28" width="1" height="1" fill="#d67676"/><rect x="20" y="28" width="1" height="1" fill="#8e8ede"/><rect x="22" y="28" width="1" height="1" fill="#eaacac"/><rect x="24" y="28" width="3" height="1" fill="#acace8"/><rect x="27" y="28" width="2" height="1" fill="#eaacac"/><rect x="29" y="28" width="6" height="1" fill="#e49898"/><rect x="36" y="28" width="3" height="1" fill="#eaacac"/><rect x="39" y="28" width="6" height="1" fill="#d67676"/><rect x="45" y="28" width="5" height="1" fill="#9898e2"/><rect x="51" y="28" width="2" height="1" fill="#d67676"/></pattern>
<pattern id="pi" x="0" y="0" width="53" height="29" patternUnits="userSpaceOnUse"><rect width="53" height="29" fill="#fbf8fb"/><rect x="0" y="0" width="6" height="1" fill="#b8b8ea"/><rect x="6" y="0" width="3" height="1" fill="#ecb6b6"/><rect x="10" y="0" width="6" height="1" fill="#acace6"/><rect x="17" y="0" width="2" height="1" fill="#d4d4f4"/><rect x="19" y="0" width="3" height="1" fill="#e6a8a8"/><rect x="22" y="0" width="6" height="1" fill="#b8b8ea"/><rect x="28" y="0" width="1" height="1" fill="#f2caca"/><rect x="29" y="0" width="3" height="1" fill="#e09a9a"/><rect x="32" y="0" width="4" height="1" fill="#c8c8f0"/><rect x="38" y="0" width="5" height="1" fill="#d4d4f4"/><rect x="43" y="0" width="1" height="1" fill="#acace6"/><rect x="44" y="0" width="2" height="1" fill="#e6a8a8"/><rect x="46" y="0" width="3" height="1" fill="#ecb6b6"/><rect x="49" y="0" width="1" height="1" fill="#ecb6b6"/><rect x="50" y="0" width="3" height="1" fill="#ecb6b6"/><rect x="0" y="1" width="6" height="1" fill="#e09a9a"/><rect x="6" y="1" width="4" height="1" fill="#e09a9a"/><rect x="10" y="1" width="1" height="1" fill="#e09a9a"/><rect x="11" y="1" width="5" height="1" fill="#c8c8f0"/><rect x="16" y="1" width="4" height="1" fill="#acace6"/><rect x="20" y="1" width="6" height="1" fill="#e09a9a"/><rect x="26" y="1" width="6" height="1" fill="#acace6"/><rect x="32" y="1" width="3" height="1" fill="#c8c8f0"/><rect x="36" y="1" width="3" height="1" fill="#ecb6b6"/><rect x="39" y="1" width="3" height="1" fill="#ecb6b6"/><rect x="42" y="1" width="3" height="1" fill="#d4d4f4"/><rect x="46" y="1" width="2" height="1" fill="#c8c8f0"/><rect x="48" y="1" width="5" height="1" fill="#e6a8a8"/><rect x="0" y="2" width="6" height="1" fill="#d4d4f4"/><rect x="8" y="2" width="5" height="1" fill="#b8b8ea"/><rect x="13" y="2" width="2" height="1" fill="#e09a9a"/><rect x="15" y="2" width="4" height="1" fill="#d4d4f4"/><rect x="19" y="2" width="5" height="1" fill="#e09a9a"/><rect x="24" y="2" width="3" height="1" fill="#ecb6b6"/><rect x="27" y="2" width="1" height="1" fill="#b8b8ea"/><rect x="28" y="2" width="4" height="1" fill="#e09a9a"/><rect x="32" y="2" width="1" height="1" fill="#f2caca"/><rect x="33" y="2" width="4" height="1" fill="#e6a8a8"/><rect x="37" y="2" width="6" height="1" fill="#ecb6b6"/><rect x="44" y="2" width="6" height="1" fill="#d4d4f4"/><rect x="51" y="2" width="2" height="1" fill="#acace6"/><rect x="0" y="3" width="4" height="1" fill="#ecb6b6"/><rect x="5" y="3" width="6" height="1" fill="#c8c8f0"/><rect x="12" y="3" width="1" height="1" fill="#b8b8ea"/><rect x="13" y="3" width="6" height="1" fill="#e6a8a8"/><rect x="21" y="3" width="4" height="1" fill="#e09a9a"/><rect x="26" y="3" width="1" height="1" fill="#b8b8ea"/><rect x="27" y="3" width="5" height="1" fill="#c8c8f0"/><rect x="32" y="3" width="2" height="1" fill="#c8c8f0"/><rect x="37" y="3" width="4" height="1" fill="#f2caca"/><rect x="41" y="3" width="2" height="1" fill="#f2caca"/><rect x="44" y="3" width="4" height="1" fill="#ecb6b6"/><rect x="49" y="3" width="4" height="1" fill="#acace6"/><rect x="0" y="4" width="4" height="1" fill="#c8c8f0"/><rect x="4" y="4" width="6" height="1" fill="#e09a9a"/><rect x="14" y="4" width="1" height="1" fill="#ecb6b6"/><rect x="15" y="4" width="6" height="1" fill="#c8c8f0"/><rect x="21" y="4" width="6" height="1" fill="#d4d4f4"/><rect x="28" y="4" width="2" height="1" fill="#c8c8f0"/><rect x="32" y="4" width="3" height="1" fill="#e6a8a8"/><rect x="35" y="4" width="5" height="1" fill="#e6a8a8"/><rect x="41" y="4" width="4" height="1" fill="#d4d4f4"/><rect x="45" y="4" width="5" height="1" fill="#b8b8ea"/><rect x="52" y="4" width="1" height="1" fill="#b8b8ea"/><rect x="0" y="5" width="1" height="1" fill="#acace6"/><rect x="1" y="5" width="3" height="1" fill="#e6a8a8"/><rect x="4" y="5" width="1" height="1" fill="#ecb6b6"/><rect x="7" y="5" width="3" height="1" fill="#acace6"/><rect x="12" y="5" width="2" height="1" fill="#d4d4f4"/><rect x="14" y="5" width="5" height="1" fill="#acace6"/><rect x="19" y="5" width="1" height="1" fill="#f2caca"/><rect x="20" y="5" width="2" height="1" fill="#b8b8ea"/><rect x="22" y="5" width="6" height="1" fill="#e09a9a"/><rect x="28" y="5" width="4" height="1" fill="#ecb6b6"/><rect x="32" y="5" width="5" height="1" fill="#c8c8f0"/><rect x="38" y="5" width="2" height="1" fill="#e6a8a8"/><rect x="40" y="5" width="5" height="1" fill="#ecb6b6"/><rect x="45" y="5" width="6" height="1" fill="#ecb6b6"/><rect x="51" y="5" width="2" height="1" fill="#b8b8ea"/><rect x="0" y="6" width="1" height="1" fill="#e09a9a"/><rect x="1" y="6" width="5" height="1" fill="#f2caca"/><rect x="6" y="6" width="5" height="1" fill="#f2caca"/><rect x="11" y="6" width="4" height="1" fill="#c8c8f0"/><rect x="16" y="6" width="4" height="1" fill="#ecb6b6"/><rect x="20" y="6" width="2" height="1" fill="#ecb6b6"/><rect x="22" y="6" width="6" height="1" fill="#b8b8ea"/><rect x="29" y="6" width="2" height="1" fill="#c8c8f0"/><rect x="31" y="6" width="3" height="1" fill="#e6a8a8"/><rect x="34" y="6" width="6" height="1" fill="#acace6"/><rect x="40" y="6" width="5" height="1" fill="#acace6"/><rect x="45" y="6" width="2" height="1" fill="#b8b8ea"/><rect x="47" y="6" width="6" height="1" fill="#e6a8a8"/><rect x="0" y="7" width="1" height="1" fill="#e6a8a8"/><rect x="1" y="7" width="1" height="1" fill="#ecb6b6"/><rect x="2" y="7" width="6" height="1" fill="#d4d4f4"/><rect x="8" y="7" width="3" height="1" fill="#b8b8ea"/><rect x="11" y="7" width="2" height="1" fill="#f2caca"/><rect x="14" y="7" width="4" height="1" fill="#d4d4f4"/><rect x="19" y="7" width="2" height="1" fill="#acace6"/><rect x="22" y="7" width="6" height="1" fill="#d4d4f4"/><rect x="31" y="7" width="6" height="1" fill="#ecb6b6"/><rect x="37" y="7" width="4" height="1" fill="#f2caca"/><rect x="42" y="7" width="5" height="1" fill="#ecb6b6"/><rect x="48" y="7" width="3" height="1" fill="#e6a8a8"/><rect x="52" y="7" width="1" height="1" fill="#e09a9a"/><rect x="1" y="8" width="5" height="1" fill="#ecb6b6"/><rect x="6" y="8" width="5" height="1" fill="#b8b8ea"/><rect x="13" y="8" width="4" height="1" fill="#acace6"/><rect x="17" y="8" width="4" height="1" fill="#acace6"/><rect x="22" y="8" width="3" height="1" fill="#ecb6b6"/><rect x="25" y="8" width="3" height="1" fill="#e09a9a"/><rect x="29" y="8" width="1" height="1" fill="#e09a9a"/><rect x="32" y="8" width="2" height="1" fill="#b8b8ea"/><rect x="34" y="8" width="2" height="1" fill="#ecb6b6"/><rect x="36" y="8" width="1" height="1" fill="#e6a8a8"/><rect x="38" y="8" width="6" height="1" fill="#ecb6b6"/><rect x="45" y="8" width="2" height="1" fill="#d4d4f4"/><rect x="47" y="8" width="5" height="1" fill="#acace6"/><rect x="0" y="9" width="5" height="1" fill="#ecb6b6"/><rect x="5" y="9" width="1" height="1" fill="#b8b8ea"/><rect x="7" y="9" width="6" height="1" fill="#f2caca"/><rect x="13" y="9" width="1" height="1" fill="#b8b8ea"/><rect x="16" y="9" width="2" height="1" fill="#f2caca"/><rect x="20" y="9" width="4" height="1" fill="#b8b8ea"/><rect x="24" y="9" width="5" height="1" fill="#f2caca"/><rect x="30" y="9" width="1" height="1" fill="#d4d4f4"/><rect x="31" y="9" width="2" height="1" fill="#acace6"/><rect x="33" y="9" width="3" height="1" fill="#f2caca"/><rect x="36" y="9" width="3" height="1" fill="#e6a8a8"/><rect x="39" y="9" width="1" height="1" fill="#d4d4f4"/><rect x="40" y="9" width="2" height="1" fill="#acace6"/><rect x="42" y="9" width="4" height="1" fill="#d4d4f4"/><rect x="46" y="9" width="1" height="1" fill="#e09a9a"/><rect x="47" y="9" width="2" height="1" fill="#f2caca"/><rect x="50" y="9" width="3" height="1" fill="#f2caca"/><rect x="1" y="10" width="4" height="1" fill="#e09a9a"/><rect x="5" y="10" width="1" height="1" fill="#f2caca"/><rect x="6" y="10" width="3" height="1" fill="#e6a8a8"/><rect x="9" y="10" width="2" height="1" fill="#d4d4f4"/><rect x="11" y="10" width="4" height="1" fill="#c8c8f0"/><rect x="15" y="10" width="3" height="1" fill="#b8b8ea"/><rect x="18" y="10" width="6" height="1" fill="#e09a9a"/><rect x="24" y="10" width="4" height="1" fill="#f2caca"/><rect x="28" y="10" width="6" height="1" fill="#acace6"/><rect x="34" y="10" width="3" height="1" fill="#b8b8ea"/><rect x="37" y="10" width="3" height="1" fill="#b8b8ea"/><rect x="42" y="10" width="2" height="1" fill="#acace6"/><rect x="44" y="10" width="4" height="1" fill="#ecb6b6"/><rect x="48" y="10" width="5" height="1" fill="#f2caca"/><rect x="0" y="11" width="4" height="1" fill="#acace6"/><rect x="4" y="11" width="5" height="1" fill="#d4d4f4"/><rect x="11" y="11" width="3" height="1" fill="#e09a9a"/><rect x="14" y="11" width="3" height="1" fill="#e09a9a"/><rect x="17" y="11" width="6" height="1" fill="#acace6"/><rect x="23" y="11" width="4" height="1" fill="#acace6"/><rect x="27" y="11" width="1" height="1" fill="#d4d4f4"/><rect x="28" y="11" width="1" height="1" fill="#ecb6b6"/><rect x="30" y="11" width="6" height="1" fill="#ecb6b6"/><rect x="36" y="11" width="2" height="1" fill="#b8b8ea"/><rect x="38" y="11" width="2" height="1" fill="#b8b8ea"/><rect x="40" y="11" width="3" height="1" fill="#ecb6b6"/><rect x="43" y="11" width="6" height="1" fill="#ecb6b6"/><rect x="49" y="11" width="4" height="1" fill="#e6a8a8"/><rect x="0" y="12" width="3" height="1" fill="#f2caca"/><rect x="3" y="12" width="3" height="1" fill="#b8b8ea"/><rect x="6" y="12" width="3" height="1" fill="#d4d4f4"/><rect x="9" y="12" width="5" height="1" fill="#c8c8f0"/><rect x="14" y="12" width="4" height="1" fill="#f2caca"/><rect x="18" y="12" width="1" height="1" fill="#c8c8f0"/><rect x="22" y="12" width="6" height="1" fill="#e6a8a8"/><rect x="28" y="12" width="3" height="1" fill="#ecb6b6"/><rect x="31" y="12" width="6" height="1" fill="#f2caca"/><rect x="39" y="12" width="1" height="1" fill="#ecb6b6"/><rect x="40" y="12" width="1" height="1" fill="#c8c8f0"/><rect x="41" y="12" width="3" height="1" fill="#f2caca"/><rect x="44" y="12" width="6" height="1" fill="#ecb6b6"/><rect x="50" y="12" width="2" height="1" fill="#c8c8f0"/><rect x="52" y="12" width="1" height="1" fill="#acace6"/><rect x="0" y="13" width="4" height="1" fill="#e09a9a"/><rect x="5" y="13" width="5" height="1" fill="#d4d4f4"/><rect x="10" y="13" width="1" height="1" fill="#f2caca"/><rect x="12" y="13" width="4" height="1" fill="#e09a9a"/><rect x="17" y="13" width="5" height="1" fill="#e09a9a"/><rect x="22" y="13" width="5" height="1" fill="#c8c8f0"/><rect x="29" y="13" width="5" height="1" fill="#e6a8a8"/><rect x="36" y="13" width="6" height="1" fill="#e6a8a8"/><rect x="42" y="13" width="5" height="1" fill="#b8b8ea"/><rect x="47" y="13" width="1" height="1" fill="#e09a9a"/><rect x="48" y="13" width="3" height="1" fill="#c8c8f0"/><rect x="52" y="13" width="1" height="1" fill="#f2caca"/><rect x="1" y="14" width="1" height="1" fill="#b8b8ea"/><rect x="2" y="14" width="3" height="1" fill="#e6a8a8"/><rect x="5" y="14" width="1" height="1" fill="#f2caca"/><rect x="6" y="14" width="1" height="1" fill="#ecb6b6"/><rect x="7" y="14" width="5" height="1" fill="#f2caca"/><rect x="12" y="14" width="6" height="1" fill="#f2caca"/><rect x="21" y="14" width="4" height="1" fill="#e09a9a"/><rect x="26" y="14" width="6" height="1" fill="#c8c8f0"/><rect x="32" y="14" width="5" height="1" fill="#ecb6b6"/><rect x="37" y="14" width="4" height="1" fill="#acace6"/><rect x="46" y="14" width="2" height="1" fill="#e6a8a8"/><rect x="48" y="14" width="4" height="1" fill="#f2caca"/><rect x="1" y="15" width="4" height="1" fill="#c8c8f0"/><rect x="6" y="15" width="5" height="1" fill="#b8b8ea"/><rect x="11" y="15" width="5" height="1" fill="#f2caca"/><rect x="16" y="15" width="5" height="1" fill="#f2caca"/><rect x="23" y="15" width="5" height="1" fill="#ecb6b6"/><rect x="28" y="15" width="4" height="1" fill="#c8c8f0"/><rect x="32" y="15" width="5" height="1" fill="#c8c8f0"/><rect x="37" y="15" width="4" height="1" fill="#c8c8f0"/><rect x="41" y="15" width="6" height="1" fill="#b8b8ea"/><rect x="47" y="15" width="4" height="1" fill="#acace6"/><rect x="51" y="15" width="2" height="1" fill="#e6a8a8"/><rect x="0" y="16" width="2" height="1" fill="#b8b8ea"/><rect x="2" y="16" width="4" height="1" fill="#acace6"/><rect x="6" y="16" width="1" height="1" fill="#e09a9a"/><rect x="10" y="16" width="2" height="1" fill="#e6a8a8"/><rect x="12" y="16" width="2" height="1" fill="#e09a9a"/><rect x="15" y="16" width="2" height="1" fill="#e6a8a8"/><rect x="20" y="16" width="5" height="1" fill="#b8b8ea"/><rect x="26" y="16" width="2" height="1" fill="#e6a8a8"/><rect x="32" y="16" width="1" height="1" fill="#b8b8ea"/><rect x="33" y="16" width="2" height="1" fill="#acace6"/><rect x="35" y="16" width="5" height="1" fill="#b8b8ea"/><rect x="41" y="16" width="4" height="1" fill="#f2caca"/><rect x="46" y="16" width="4" height="1" fill="#f2caca"/><rect x="50" y="16" width="3" height="1" fill="#e09a9a"/><rect x="0" y="17" width="4" height="1" fill="#d4d4f4"/><rect x="6" y="17" width="3" height="1" fill="#f2caca"/><rect x="9" y="17" width="6" height="1" fill="#e09a9a"/><rect x="15" y="17" width="4" height="1" fill="#e6a8a8"/><rect x="19" y="17" width="5" height="1" fill="#ecb6b6"/><rect x="25" y="17" width="6" height="1" fill="#c8c8f0"/><rect x="32" y="17" width="3" height="1" fill="#e6a8a8"/><rect x="36" y="17" width="5" height="1" fill="#b8b8ea"/><rect x="42" y="17" width="1" height="1" fill="#d4d4f4"/><rect x="44" y="17" width="6" height="1" fill="#d4d4f4"/><rect x="50" y="17" width="2" height="1" fill="#f2caca"/><rect x="52" y="17" width="1" height="1" fill="#c8c8f0"/><rect x="0" y="18" width="3" height="1" fill="#d4d4f4"/><rect x="6" y="18" width="3" height="1" fill="#f2caca"/><rect x="10" y="18" width="6" height="1" fill="#e09a9a"/><rect x="16" y="18" width="1" height="1" fill="#f2caca"/><rect x="17" y="18" width="1" height="1" fill="#c8c8f0"/><rect x="18" y="18" width="5" height="1" fill="#f2caca"/><rect x="23" y="18" width="3" height="1" fill="#c8c8f0"/><rect x="28" y="18" width="2" height="1" fill="#f2caca"/><rect x="35" y="18" width="4" height="1" fill="#d4d4f4"/><rect x="40" y="18" width="3" height="1" fill="#e09a9a"/><rect x="43" y="18" width="4" height="1" fill="#c8c8f0"/><rect x="47" y="18" width="4" height="1" fill="#e09a9a"/><rect x="51" y="18" width="2" height="1" fill="#e6a8a8"/><rect x="1" y="19" width="4" height="1" fill="#d4d4f4"/><rect x="7" y="19" width="3" height="1" fill="#e6a8a8"/><rect x="10" y="19" width="3" height="1" fill="#c8c8f0"/><rect x="13" y="19" width="5" height="1" fill="#acace6"/><rect x="19" y="19" width="3" height="1" fill="#f2caca"/><rect x="22" y="19" width="1" height="1" fill="#e6a8a8"/><rect x="23" y="19" width="6" height="1" fill="#d4d4f4"/><rect x="29" y="19" width="5" height="1" fill="#ecb6b6"/><rect x="34" y="19" width="5" height="1" fill="#d4d4f4"/><rect x="40" y="19" width="1" height="1" fill="#d4d4f4"/><rect x="41" y="19" width="5" height="1" fill="#acace6"/><rect x="46" y="19" width="2" height="1" fill="#c8c8f0"/><rect x="49" y="19" width="4" height="1" fill="#ecb6b6"/><rect x="0" y="20" width="1" height="1" fill="#e09a9a"/><rect x="1" y="20" width="5" height="1" fill="#e6a8a8"/><rect x="8" y="20" width="1" height="1" fill="#e6a8a8"/><rect x="12" y="20" width="2" height="1" fill="#c8c8f0"/><rect x="14" y="20" width="2" height="1" fill="#b8b8ea"/><rect x="19" y="20" width="3" height="1" fill="#d4d4f4"/><rect x="22" y="20" width="6" height="1" fill="#e09a9a"/><rect x="29" y="20" width="4" height="1" fill="#f2caca"/><rect x="34" y="20" width="6" height="1" fill="#e09a9a"/><rect x="40" y="20" width="4" height="1" fill="#acace6"/><rect x="44" y="20" width="2" height="1" fill="#f2caca"/><rect x="46" y="20" width="6" height="1" fill="#c8c8f0"/><rect x="1" y="21" width="5" height="1" fill="#ecb6b6"/><rect x="8" y="21" width="1" height="1" fill="#e09a9a"/><rect x="9" y="21" width="3" height="1" fill="#e6a8a8"/><rect x="12" y="21" width="1" height="1" fill="#e6a8a8"/><rect x="13" y="21" width="5" height="1" fill="#b8b8ea"/><rect x="18" y="21" width="4" height="1" fill="#b8b8ea"/><rect x="22" y="21" width="1" height="1" fill="#f2caca"/><rect x="25" y="21" width="4" height="1" fill="#f2caca"/><rect x="30" y="21" width="2" height="1" fill="#c8c8f0"/><rect x="32" y="21" width="3" height="1" fill="#c8c8f0"/><rect x="35" y="21" width="6" height="1" fill="#e09a9a"/><rect x="41" y="21" width="6" height="1" fill="#d4d4f4"/><rect x="47" y="21" width="6" height="1" fill="#ecb6b6"/><rect x="2" y="22" width="1" height="1" fill="#e6a8a8"/><rect x="3" y="22" width="3" height="1" fill="#e09a9a"/><rect x="6" y="22" width="6" height="1" fill="#ecb6b6"/><rect x="12" y="22" width="1" height="1" fill="#c8c8f0"/><rect x="13" y="22" width="6" height="1" fill="#f2caca"/><rect x="23" y="22" width="3" height="1" fill="#e6a8a8"/><rect x="28" y="22" width="2" height="1" fill="#e09a9a"/><rect x="31" y="22" width="6" height="1" fill="#c8c8f0"/><rect x="37" y="22" width="1" height="1" fill="#c8c8f0"/><rect x="39" y="22" width="3" height="1" fill="#c8c8f0"/><rect x="42" y="22" width="4" height="1" fill="#e6a8a8"/><rect x="47" y="22" width="3" height="1" fill="#acace6"/><rect x="50" y="22" width="2" height="1" fill="#e09a9a"/><rect x="52" y="22" width="1" height="1" fill="#d4d4f4"/><rect x="0" y="23" width="2" height="1" fill="#c8c8f0"/><rect x="2" y="23" width="5" height="1" fill="#e6a8a8"/><rect x="7" y="23" width="6" height="1" fill="#ecb6b6"/><rect x="13" y="23" width="4" height="1" fill="#acace6"/><rect x="19" y="23" width="5" height="1" fill="#e09a9a"/><rect x="24" y="23" width="1" height="1" fill="#e09a9a"/><rect x="27" y="23" width="1" height="1" fill="#ecb6b6"/><rect x="28" y="23" width="4" height="1" fill="#e6a8a8"/><rect x="32" y="23" width="6" height="1" fill="#e6a8a8"/><rect x="38" y="23" width="6" height="1" fill="#acace6"/><rect x="45" y="23" width="4" height="1" fill="#e09a9a"/><rect x="49" y="23" width="1" height="1" fill="#c8c8f0"/><rect x="50" y="23" width="2" height="1" fill="#f2caca"/><rect x="52" y="23" width="1" height="1" fill="#e09a9a"/><rect x="1" y="24" width="6" height="1" fill="#d4d4f4"/><rect x="7" y="24" width="5" height="1" fill="#f2caca"/><rect x="12" y="24" width="2" height="1" fill="#e09a9a"/><rect x="17" y="24" width="3" height="1" fill="#b8b8ea"/><rect x="22" y="24" width="1" height="1" fill="#e09a9a"/><rect x="23" y="24" width="2" height="1" fill="#f2caca"/><rect x="25" y="24" width="6" height="1" fill="#b8b8ea"/><rect x="32" y="24" width="1" height="1" fill="#acace6"/><rect x="33" y="24" width="6" height="1" fill="#ecb6b6"/><rect x="39" y="24" width="5" height="1" fill="#ecb6b6"/><rect x="44" y="24" width="2" height="1" fill="#e6a8a8"/><rect x="46" y="24" width="3" height="1" fill="#f2caca"/><rect x="49" y="24" width="4" height="1" fill="#e6a8a8"/><rect x="0" y="25" width="2" height="1" fill="#d4d4f4"/><rect x="2" y="25" width="6" height="1" fill="#ecb6b6"/><rect x="8" y="25" width="4" height="1" fill="#b8b8ea"/><rect x="12" y="25" width="3" height="1" fill="#d4d4f4"/><rect x="16" y="25" width="2" height="1" fill="#b8b8ea"/><rect x="19" y="25" width="4" height="1" fill="#e6a8a8"/><rect x="23" y="25" width="6" height="1" fill="#e6a8a8"/><rect x="30" y="25" width="2" height="1" fill="#acace6"/><rect x="32" y="25" width="6" height="1" fill="#e6a8a8"/><rect x="39" y="25" width="4" height="1" fill="#e09a9a"/><rect x="43" y="25" width="6" height="1" fill="#d4d4f4"/><rect x="49" y="25" width="1" height="1" fill="#e6a8a8"/><rect x="50" y="25" width="2" height="1" fill="#acace6"/><rect x="52" y="25" width="1" height="1" fill="#c8c8f0"/><rect x="2" y="26" width="3" height="1" fill="#e09a9a"/><rect x="5" y="26" width="6" height="1" fill="#acace6"/><rect x="14" y="26" width="6" height="1" fill="#c8c8f0"/><rect x="20" y="26" width="2" height="1" fill="#d4d4f4"/><rect x="22" y="26" width="2" height="1" fill="#e09a9a"/><rect x="25" y="26" width="6" height="1" fill="#acace6"/><rect x="32" y="26" width="5" height="1" fill="#e09a9a"/><rect x="38" y="26" width="3" height="1" fill="#e6a8a8"/><rect x="42" y="26" width="6" height="1" fill="#e09a9a"/><rect x="49" y="26" width="4" height="1" fill="#c8c8f0"/><rect x="1" y="27" width="1" height="1" fill="#e09a9a"/><rect x="3" y="27" width="5" height="1" fill="#f2caca"/><rect x="8" y="27" width="6" height="1" fill="#e09a9a"/><rect x="15" y="27" width="6" height="1" fill="#c8c8f0"/><rect x="21" y="27" width="2" height="1" fill="#e09a9a"/><rect x="23" y="27" width="4" height="1" fill="#d4d4f4"/><rect x="28" y="27" width="3" height="1" fill="#e6a8a8"/><rect x="31" y="27" width="3" height="1" fill="#c8c8f0"/><rect x="34" y="27" width="4" height="1" fill="#ecb6b6"/><rect x="38" y="27" width="5" height="1" fill="#f2caca"/><rect x="44" y="27" width="5" height="1" fill="#c8c8f0"/><rect x="49" y="27" width="2" height="1" fill="#d4d4f4"/><rect x="0" y="28" width="4" height="1" fill="#e09a9a"/><rect x="5" y="28" width="5" height="1" fill="#d4d4f4"/><rect x="10" y="28" width="4" height="1" fill="#c8c8f0"/><rect x="14" y="28" width="5" height="1" fill="#c8c8f0"/><rect x="19" y="28" width="6" height="1" fill="#f2caca"/><rect x="26" y="28" width="2" height="1" fill="#e6a8a8"/><rect x="28" y="28" width="4" height="1" fill="#e6a8a8"/><rect x="32" y="28" width="3" height="1" fill="#f2caca"/><rect x="36" y="28" width="1" height="1" fill="#acace6"/><rect x="37" y="28" width="4" height="1" fill="#f2caca"/><rect x="41" y="28" width="4" height="1" fill="#f2caca"/><rect x="45" y="28" width="3" height="1" fill="#c8c8f0"/><rect x="50" y="28" width="2" height="1" fill="#c8c8f0"/></pattern>
</defs>
<text x="7.0" y="157.4" font-size="11.2" font-weight="bold" fill="#000">F</text>
<defs><linearGradient id="hk" x1="0" y1="0" x2="1" y2="0"><stop offset="0" stop-color="#1c2a8a"/><stop offset="0.2" stop-color="#3e56b4"/><stop offset="0.5" stop-color="#ffffff"/><stop offset="0.75" stop-color="#cf7c7c"/><stop offset="1" stop-color="#8a1414"/></linearGradient></defs>
<rect x="36" y="161.6" width="28.5" height="37.8" fill="url(#hk)" stroke="#333" stroke-width="0.5"/>
<rect x="49.2" y="163.3" width="2.2" height="35.8" fill="none" stroke="#2233ff" stroke-width="0.7"/>
<line x1="36.5" y1="198.6" x2="49" y2="198.6" stroke="#2233ff" stroke-width="0.7"/>
<line x1="51.6" y1="198.6" x2="64" y2="198.6" stroke="#2233ff" stroke-width="0.7"/>
<text x="50.2" y="155" font-size="4.8" fill="#333" text-anchor="middle" stroke="#333" stroke-width="0.05">Distribution of</text>
<text x="50.2" y="159.9" font-size="4.8" fill="#333" text-anchor="middle" stroke="#333" stroke-width="0.05">expression</text>
<line x1="33.8" y1="163.6" x2="36" y2="163.6" stroke="#333" stroke-width="0.5"/>
<line x1="33.8" y1="168.63" x2="36" y2="168.63" stroke="#333" stroke-width="0.5"/>
<line x1="33.8" y1="173.66" x2="36" y2="173.66" stroke="#333" stroke-width="0.5"/>
<line x1="33.8" y1="178.69" x2="36" y2="178.69" stroke="#333" stroke-width="0.5"/>
<line x1="33.8" y1="183.72" x2="36" y2="183.72" stroke="#333" stroke-width="0.5"/>
<line x1="33.8" y1="188.75" x2="36" y2="188.75" stroke="#333" stroke-width="0.5"/>
<line x1="33.8" y1="193.78" x2="36" y2="193.78" stroke="#333" stroke-width="0.5"/>
<line x1="33.8" y1="198.81" x2="36" y2="198.81" stroke="#333" stroke-width="0.5"/>
<text x="32.8" y="170.3" font-size="4.4" fill="#333" text-anchor="end" stroke="#333" stroke-width="0.05">1.2e+08</text>
<text x="32.8" y="180.4" font-size="4.4" fill="#333" text-anchor="end" stroke="#333" stroke-width="0.05">8e+07</text>
<text x="32.8" y="190.5" font-size="4.4" fill="#333" text-anchor="end" stroke="#333" stroke-width="0.05">4e+07</text>
<text x="32.8" y="200.4" font-size="4.4" fill="#333" text-anchor="end" stroke="#333" stroke-width="0.05">0</text>
<line x1="37.4" y1="199.4" x2="37.4" y2="200.8" stroke="#333" stroke-width="0.5"/>
<text transform="translate(38.4,209.8) rotate(-90)" font-size="4.5" fill="#333" stroke="#333" stroke-width="0.05">0.85</text>
<line x1="45.4" y1="199.4" x2="45.4" y2="200.8" stroke="#333" stroke-width="0.5"/>
<text transform="translate(46.4,209.8) rotate(-90)" font-size="4.5" fill="#333" stroke="#333" stroke-width="0.05">0.95</text>
<line x1="55.2" y1="199.4" x2="55.2" y2="200.8" stroke="#333" stroke-width="0.5"/>
<text transform="translate(56.2,209.8) rotate(-90)" font-size="4.5" fill="#333" stroke="#333" stroke-width="0.05">1.05</text>
<line x1="63.2" y1="199.4" x2="63.2" y2="200.8" stroke="#333" stroke-width="0.5"/>
<text transform="translate(64.2,209.8) rotate(-90)" font-size="4.5" fill="#333" stroke="#333" stroke-width="0.05">1.15</text>
<text x="50.2" y="215.4" font-size="4.8" fill="#333" text-anchor="middle" textLength="30" lengthAdjust="spacingAndGlyphs" stroke="#333" stroke-width="0.05">Modified expression</text>
<text transform="translate(12.6,189.2) rotate(-90)" font-size="8.4" fill="#222" textLength="17.8" lengthAdjust="spacingAndGlyphs" stroke="#222" stroke-width="0.2">Count</text>
<rect x="68.6" y="161.8" width="3.8" height="46" fill="#000"/>
<g filter="url(#bl)">
<rect x="74" y="161.8" width="200.9" height="25.4" fill="url(#pd)"/>
<rect x="74" y="187.2" width="200.9" height="20.6" fill="url(#ps)"/>
<rect x="150.3" y="189.2" width="2" height="2" fill="#c03030"/>
<rect x="187.4" y="188.4" width="2" height="3" fill="#b01818"/>
<rect x="150" y="203" width="1.5" height="1.5" fill="#d06060"/>
<rect x="118" y="200" width="1.5" height="1.5" fill="#d06060"/>
<rect x="122" y="196" width="1.5" height="1.5" fill="#d06060"/>
<rect x="134" y="197" width="1.5" height="1.5" fill="#d07070"/>
</g>
<line x1="86.5" y1="161.8" x2="86.5" y2="207.8" stroke="#555" stroke-width="1.3"/>
<line x1="102.5" y1="161.8" x2="102.5" y2="207.8" stroke="#555" stroke-width="1.3"/>
<line x1="112.5" y1="161.8" x2="112.5" y2="207.8" stroke="#555" stroke-width="1.3"/>
<line x1="124.5" y1="161.8" x2="124.5" y2="207.8" stroke="#555" stroke-width="1.3"/>
<line x1="137.5" y1="161.8" x2="137.5" y2="207.8" stroke="#555" stroke-width="1.3"/>
<line x1="147.5" y1="161.8" x2="147.5" y2="207.8" stroke="#555" stroke-width="1.3"/>
<line x1="161.5" y1="161.8" x2="161.5" y2="207.8" stroke="#555" stroke-width="1.3"/>
<line x1="172.5" y1="161.8" x2="172.5" y2="207.8" stroke="#555" stroke-width="1.3"/>
<line x1="183.5" y1="161.8" x2="183.5" y2="207.8" stroke="#555" stroke-width="1.3"/>
<line x1="192.5" y1="161.8" x2="192.5" y2="207.8" stroke="#555" stroke-width="1.3"/>
<line x1="210.5" y1="161.8" x2="210.5" y2="207.8" stroke="#555" stroke-width="1.3"/>
<line x1="217.5" y1="161.8" x2="217.5" y2="207.8" stroke="#555" stroke-width="1.3"/>
<line x1="224.5" y1="161.8" x2="224.5" y2="207.8" stroke="#555" stroke-width="1.3"/>
<line x1="231.5" y1="161.8" x2="231.5" y2="207.8" stroke="#555" stroke-width="1.3"/>
<line x1="239.5" y1="161.8" x2="239.5" y2="207.8" stroke="#555" stroke-width="1.3"/>
<line x1="245.5" y1="161.8" x2="245.5" y2="207.8" stroke="#555" stroke-width="1.3"/>
<line x1="256.5" y1="161.8" x2="256.5" y2="207.8" stroke="#555" stroke-width="1.3"/>
<line x1="262.5" y1="161.8" x2="262.5" y2="207.8" stroke="#555" stroke-width="1.3"/>
<line x1="269.5" y1="161.8" x2="269.5" y2="207.8" stroke="#555" stroke-width="1.3"/>
<rect x="74" y="214" width="12.1" height="1.9" fill="#7dcfc4"/>
<rect x="86.1" y="214" width="16.4" height="1.9" fill="#b8e0a8"/>
<rect x="102.5" y="214" width="9.7" height="1.9" fill="#f0eaa0"/>
<rect x="112.2" y="214" width="12.1" height="1.9" fill="#d0d0d8"/>
<rect x="124.3" y="214" width="13.2" height="1.9" fill="#d0a8c0"/>
<rect x="137.5" y="214" width="9.6" height="1.9" fill="#f08080"/>
<rect x="147.1" y="214" width="14.5" height="1.9" fill="#c8949c"/>
<rect x="161.6" y="214" width="10.9" height="1.9" fill="#90b0d0"/>
<rect x="172.5" y="214" width="11" height="1.9" fill="#e0b888"/>
<rect x="183.5" y="214" width="9.5" height="1.9" fill="#f0b860"/>
<rect x="193" y="214" width="17" height="1.9" fill="#c8dc80"/>
<rect x="210" y="214" width="7.4" height="1.9" fill="#c4dca8"/>
<rect x="217.4" y="214" width="7.1" height="1.9" fill="#f0c0d8"/>
<rect x="224.5" y="214" width="6.9" height="1.9" fill="#f0c0d8"/>
<rect x="231.4" y="214" width="7.7" height="1.9" fill="#d8d0e0"/>
<rect x="239.1" y="214" width="6.8" height="1.9" fill="#c8a0d0"/>
<rect x="245.9" y="214" width="10.5" height="1.9" fill="#c8a0d0"/>
<rect x="256.4" y="214" width="5.6" height="1.9" fill="#c0e0b0"/>
<rect x="262" y="214" width="7.2" height="1.9" fill="#e0e8a0"/>
<rect x="269.2" y="214" width="5.7" height="1.9" fill="#f8e060"/>
<g filter="url(#bl)">
<rect x="74" y="217.7" width="200.9" height="1.8" fill="url(#ps)"/>
<rect x="74" y="219.5" width="200.9" height="10.8" fill="url(#po)"/>
<rect x="74" y="230.3" width="200.9" height="2.9" fill="url(#pm)"/>
<rect x="74" y="233.2" width="200.9" height="12.2" fill="url(#ps)"/>
<rect x="74" y="245.4" width="200.9" height="4.2" fill="url(#pm)"/>
<rect x="74" y="249.6" width="200.9" height="2.1" fill="url(#ps)"/>
<rect x="74" y="251.7" width="200.9" height="2.2" fill="url(#ps)"/>
<rect x="74" y="253.9" width="200.9" height="2.3" fill="url(#pm)"/>
<rect x="74" y="256.2" width="200.9" height="8.1" fill="url(#pm)"/>
<rect x="74" y="264.3" width="200.9" height="7.1" fill="url(#po)"/>
<rect x="74" y="271.4" width="200.9" height="10.9" fill="url(#ps)"/>
<rect x="74" y="282.3" width="200.9" height="5.1" fill="url(#ps)"/>
<rect x="74" y="287.4" width="200.9" height="8.8" fill="url(#po)"/>
<rect x="74" y="296.2" width="200.9" height="2.1" fill="url(#po)"/>
<rect x="74" y="298.3" width="200.9" height="3.9" fill="url(#pm)"/>
<rect x="74" y="302.2" width="200.9" height="9.1" fill="url(#ps)"/>
<rect x="74" y="311.3" width="200.9" height="5.9" fill="url(#pm)"/>
<rect x="137.5" y="219.5" width="9.6" height="1.4" fill="#1a1a90" fill-opacity="1"/>
<rect x="137.5" y="220.9" width="9.6" height="4" fill="#4050d0" fill-opacity="0.75"/>
<rect x="137.5" y="224.9" width="9.6" height="1.1" fill="#2a2aa0" fill-opacity="0.9"/>
<rect x="137.5" y="226" width="9.6" height="4.3" fill="#7a7ae0" fill-opacity="0.4"/>
<rect x="147.5" y="220" width="9" height="6" fill="#7070e0" fill-opacity="0.35"/>
<rect x="114.9" y="219.5" width="2.6" height="4.8" fill="#2828b8" fill-opacity="0.85"/>
<rect x="117.5" y="219.5" width="2.5" height="6" fill="#7070d8" fill-opacity="0.4"/>
<rect x="186.6" y="219.5" width="2.8" height="6.8" fill="#1010a0" fill-opacity="1"/>
<rect x="189.4" y="219.5" width="1.6" height="4.5" fill="#6060d0" fill-opacity="0.5"/>
<rect x="190.9" y="219.5" width="1.2" height="12.8" fill="#a01010" fill-opacity="0.9"/>
<rect x="231.6" y="218.3" width="7.8" height="2.6" fill="#900c0c" fill-opacity="0.95"/>
<rect x="231.6" y="220.9" width="7.8" height="3.8" fill="#b42020" fill-opacity="0.8"/>
<rect x="265.8" y="218.3" width="2.9" height="1.8" fill="#1a1aa0" fill-opacity="1"/>
<rect x="113" y="264" width="11" height="7" fill="#6868d8" fill-opacity="0.3"/>
<rect x="112" y="287.2" width="12" height="8" fill="#6060d8" fill-opacity="0.35"/>
<rect x="137.5" y="287.2" width="23" height="8" fill="#6060d8" fill-opacity="0.3"/>
<rect x="150.5" y="232.7" width="1" height="18" fill="#d07070" fill-opacity="0.6"/>
<rect x="187.5" y="232.7" width="1.2" height="18" fill="#c06080" fill-opacity="0.45"/>
<rect x="74" y="296.2" width="200.9" height="2.1" fill="#555" fill-opacity="0.4"/>
<rect x="74" y="247" width="200.9" height="1" fill="#888" fill-opacity="0.5"/>
<rect x="74" y="255" width="200.9" height="1" fill="#999" fill-opacity="0.4"/>
</g>
<line x1="86.5" y1="217.7" x2="86.5" y2="317.2" stroke="#3a3a3a" stroke-width="0.9"/>
<line x1="102.5" y1="217.7" x2="102.5" y2="317.2" stroke="#3a3a3a" stroke-width="0.9"/>
<line x1="112.5" y1="217.7" x2="112.5" y2="317.2" stroke="#3a3a3a" stroke-width="0.9"/>
<line x1="124.5" y1="217.7" x2="124.5" y2="317.2" stroke="#3a3a3a" stroke-width="0.9"/>
<line x1="137.5" y1="217.7" x2="137.5" y2="317.2" stroke="#3a3a3a" stroke-width="0.9"/>
<line x1="147.5" y1="217.7" x2="147.5" y2="317.2" stroke="#3a3a3a" stroke-width="0.9"/>
<line x1="161.5" y1="217.7" x2="161.5" y2="317.2" stroke="#3a3a3a" stroke-width="0.9"/>
<line x1="172.5" y1="217.7" x2="172.5" y2="317.2" stroke="#3a3a3a" stroke-width="0.9"/>
<line x1="183.5" y1="217.7" x2="183.5" y2="317.2" stroke="#3a3a3a" stroke-width="0.9"/>
<line x1="192.5" y1="217.7" x2="192.5" y2="317.2" stroke="#3a3a3a" stroke-width="0.9"/>
<line x1="210.5" y1="217.7" x2="210.5" y2="317.2" stroke="#3a3a3a" stroke-width="0.9"/>
<line x1="217.5" y1="217.7" x2="217.5" y2="317.2" stroke="#3a3a3a" stroke-width="0.9"/>
<line x1="224.5" y1="217.7" x2="224.5" y2="317.2" stroke="#3a3a3a" stroke-width="0.9"/>
<line x1="231.5" y1="217.7" x2="231.5" y2="317.2" stroke="#3a3a3a" stroke-width="0.9"/>
<line x1="239.5" y1="217.7" x2="239.5" y2="317.2" stroke="#3a3a3a" stroke-width="0.9"/>
<line x1="245.5" y1="217.7" x2="245.5" y2="317.2" stroke="#3a3a3a" stroke-width="0.9"/>
<line x1="256.5" y1="217.7" x2="256.5" y2="317.2" stroke="#3a3a3a" stroke-width="0.9"/>
<line x1="262.5" y1="217.7" x2="262.5" y2="317.2" stroke="#3a3a3a" stroke-width="0.9"/>
<line x1="269.5" y1="217.7" x2="269.5" y2="317.2" stroke="#3a3a3a" stroke-width="0.9"/>
<line x1="74" y1="219.5" x2="274.9" y2="219.5" stroke="#333" stroke-width="0.9"/>
<line x1="74" y1="230.5" x2="274.9" y2="230.5" stroke="#333" stroke-width="0.9"/>
<line x1="74" y1="233.5" x2="274.9" y2="233.5" stroke="#333" stroke-width="0.9"/>
<line x1="74" y1="245.5" x2="274.9" y2="245.5" stroke="#333" stroke-width="0.9"/>
<line x1="74" y1="249.5" x2="274.9" y2="249.5" stroke="#333" stroke-width="0.9"/>
<line x1="74" y1="251.5" x2="274.9" y2="251.5" stroke="#333" stroke-width="0.9"/>
<line x1="74" y1="253.5" x2="274.9" y2="253.5" stroke="#333" stroke-width="0.9"/>
<line x1="74" y1="256.5" x2="274.9" y2="256.5" stroke="#333" stroke-width="0.9"/>
<line x1="74" y1="264.5" x2="274.9" y2="264.5" stroke="#333" stroke-width="0.9"/>
<line x1="74" y1="271.5" x2="274.9" y2="271.5" stroke="#333" stroke-width="0.9"/>
<line x1="74" y1="282.5" x2="274.9" y2="282.5" stroke="#333" stroke-width="0.9"/>
<line x1="74" y1="287.5" x2="274.9" y2="287.5" stroke="#333" stroke-width="0.9"/>
<line x1="74" y1="296.5" x2="274.9" y2="296.5" stroke="#333" stroke-width="0.9"/>
<line x1="74" y1="298.5" x2="274.9" y2="298.5" stroke="#333" stroke-width="0.9"/>
<line x1="74" y1="302.5" x2="274.9" y2="302.5" stroke="#333" stroke-width="0.9"/>
<line x1="74" y1="311.5" x2="274.9" y2="311.5" stroke="#333" stroke-width="0.9"/>
<text x="81.1" y="324.5" font-size="6.2" fill="#222" text-anchor="middle" text-rendering="geometricPrecision" stroke="#222" stroke-width="0.1">1</text>
<text x="95.4" y="324.5" font-size="6.2" fill="#222" text-anchor="middle" text-rendering="geometricPrecision" stroke="#222" stroke-width="0.1">2</text>
<text x="107.4" y="324.5" font-size="6.2" fill="#222" text-anchor="middle" text-rendering="geometricPrecision" stroke="#222" stroke-width="0.1">3</text>
<text x="117.7" y="324.5" font-size="6.2" fill="#222" text-anchor="middle" text-rendering="geometricPrecision" stroke="#222" stroke-width="0.1">4</text>
<text x="130.5" y="324.5" font-size="6.2" fill="#222" text-anchor="middle" text-rendering="geometricPrecision" stroke="#222" stroke-width="0.1">5</text>
<text x="143.2" y="324.5" font-size="6.2" fill="#222" text-anchor="middle" text-rendering="geometricPrecision" stroke="#222" stroke-width="0.1">6</text>
<text x="153" y="324.5" font-size="6.2" fill="#222" text-anchor="middle" text-rendering="geometricPrecision" stroke="#222" stroke-width="0.1">7</text>
<text x="166.8" y="324.5" font-size="6.2" fill="#222" text-anchor="middle" text-rendering="geometricPrecision" stroke="#222" stroke-width="0.1">8</text>
<text x="178.4" y="324.5" font-size="6.2" fill="#222" text-anchor="middle" text-rendering="geometricPrecision" stroke="#222" stroke-width="0.1">9</text>
<text x="189.7" y="324.5" font-size="6.2" fill="#222" text-anchor="middle" text-rendering="geometricPrecision" stroke="#222" stroke-width="0.1">10</text>
<text x="203.1" y="324.5" font-size="6.2" fill="#222" text-anchor="middle" text-rendering="geometricPrecision" stroke="#222" stroke-width="0.1">11</text>
<text x="213.8" y="324.5" font-size="6.2" fill="#222" text-anchor="middle" text-rendering="geometricPrecision" stroke="#222" stroke-width="0.1">12</text>
<text x="220.8" y="324.5" font-size="6.2" fill="#222" text-anchor="middle" text-rendering="geometricPrecision" stroke="#222" stroke-width="0.1">13</text>
<text x="227.6" y="324.5" font-size="6.2" fill="#222" text-anchor="middle" text-rendering="geometricPrecision" stroke="#222" stroke-width="0.1">14</text>
<text x="234.5" y="324.5" font-size="6.2" fill="#222" text-anchor="middle" text-rendering="geometricPrecision" stroke="#222" stroke-width="0.1">15</text>
<text x="241.3" y="324.5" font-size="6.2" fill="#222" text-anchor="middle" text-rendering="geometricPrecision" stroke="#222" stroke-width="0.1">16</text>
<text x="252.3" y="324.5" font-size="6.2" fill="#222" text-anchor="middle" text-rendering="geometricPrecision" stroke="#222" stroke-width="0.1">17</text>
<text x="259.1" y="324.5" font-size="6.2" fill="#222" text-anchor="middle" text-rendering="geometricPrecision" stroke="#222" stroke-width="0.1">18</text>
<text x="265.9" y="324.5" font-size="6.2" fill="#222" text-anchor="middle" text-rendering="geometricPrecision" stroke="#222" stroke-width="0.1">19</text>
<text x="271.7" y="324.5" font-size="6.2" fill="#222" text-anchor="middle" text-rendering="geometricPrecision" stroke="#222" stroke-width="0.1">X</text>
<text x="153.5" y="334.9" font-size="6.8" fill="#222" textLength="47.1" lengthAdjust="spacingAndGlyphs" stroke="#222" stroke-width="0.2">Genomic region</text>
<rect x="68.8" y="217.9" width="3.8" height="2.4" fill="#f5d83a"/>
<rect x="68.8" y="220.3" width="3.8" height="10.4" fill="#d4e89a"/>
<rect x="68.8" y="230.7" width="3.8" height="2.5" fill="#b8b8b8"/>
<rect x="68.8" y="233.2" width="3.8" height="12.6" fill="#b868c8"/>
<rect x="68.8" y="245.8" width="3.8" height="3.1" fill="#d8c8e0"/>
<rect x="68.8" y="248.9" width="3.8" height="5.5" fill="#f0d0dc"/>
<rect x="68.8" y="254.4" width="3.8" height="2.3" fill="#a0d880"/>
<rect x="68.8" y="256.7" width="3.8" height="7" fill="#d4c050"/>
<rect x="68.8" y="263.7" width="3.8" height="7.8" fill="#f0a860"/>
<rect x="68.8" y="271.5" width="3.8" height="10.5" fill="#80acd0"/>
<rect x="68.8" y="282" width="3.8" height="5.2" fill="#c08890"/>
<rect x="68.8" y="287.2" width="3.8" height="9.6" fill="#f07870"/>
<rect x="68.8" y="296.8" width="3.8" height="1.4" fill="#a8a8e8"/>
<rect x="68.8" y="298.2" width="3.8" height="4.7" fill="#e4e8b0"/>
<rect x="68.8" y="302.9" width="3.8" height="7.8" fill="#d0ec9c"/>
<rect x="68.8" y="310.7" width="3.8" height="6.1" fill="#64c8b8"/>
<path d="M24.7 218L24.7 315.9M24.7 218L63 218M24.7 232.4L57 232.4M24.7 241.1L53.5 241.1M24.7 247.4L58 247.4M24.7 252.1L59 252.1M24.7 253.4L59 253.4M24.7 256.1L58 256.1M24.7 261.3L56 261.3M24.7 269L56 269M24.7 278.4L54 278.4M24.7 285.4L57 285.4M24.7 295.2L48.5 295.2M24.7 296.9L49 296.9M24.7 300.4L56 300.4M24.7 308.5L52 308.5M24.7 315.9L57 315.9M24.7 225L28.3 225M28.3 222L28.3 229.1M28.3 222L53.5 222M28.3 229.1L53.5 229.1M53.5 220.4L53.5 223.6M53.5 220.4L57.5 220.4M53.5 223.6L57.5 223.6M53.5 227.5L53.5 230.7M53.5 227.5L57.5 227.5M53.5 230.7L57.5 230.7M53.5 239.5L53.5 242.7M53.5 239.5L57.5 239.5M53.5 242.7L57.5 242.7M56 259.7L56 262.9M56 259.7L60 259.7M56 262.9L60 262.9M56 267.4L56 270.6M56 267.4L60 267.4M56 270.6L60 270.6M54 276.8L54 280M54 276.8L58 276.8M54 280L58 280M57 283.8L57 287M57 283.8L61 283.8M57 287L61 287M52 306.9L52 310.1M52 306.9L56 306.9M52 310.1L56 310.1M56 298.8L56 302M56 298.8L60 298.8M56 302L60 302M57 314.3L57 317.5M57 314.3L61 314.3M57 317.5L61 317.5M48.5 295.2L48.5 298.2L55 298.2M48.5 295.2L55 295.2" stroke="#222" stroke-width="0.8" fill="none"/>
<path d="M63.6 218 L59.17 218 L59.62 219.3 L59.82 220.6 L60.38 221.9 L59.61 223.2 L60.3 224.5 L56.91 225.8 L58.57 227.1 L60.38 228.4 L59.27 229.7 L60.22 231 L57.23 232.3 L58.58 233.6 L57.74 234.9 L58.87 236.2 L58.98 237.5 L56.85 238.8 L57.62 240.1 L57.86 241.4 L60.28 242.7 L59.71 244 L57.41 245.3 L59.83 246.6 L57.33 247.9 L59.15 249.2 L57.28 250.5 L56.81 251.8 L60.11 253.1 L57.6 254.4 L57.62 255.7 L60.53 257 L60.12 258.3 L57.9 259.6 L60.45 260.9 L58.85 262.2 L59.38 263.5 L57.58 264.8 L60.38 266.1 L59.42 267.4 L60.47 268.7 L60.2 270 L57.94 271.3 L58.17 272.6 L57.43 273.9 L57.35 275.2 L57.05 276.5 L57.95 277.8 L59.09 279.1 L56.81 280.4 L59.38 281.7 L58.08 283 L57.98 284.3 L59.91 285.6 L58.63 286.9 L58 288.2 L58.63 289.5 L59.48 290.8 L57.02 292.1 L60.51 293.4 L56.89 294.7 L59.65 296 L60.01 297.3 L56.87 298.6 L59.79 299.9 L58.19 301.2 L59 302.5 L56.83 303.8 L56.98 305.1 L57.49 306.4 L60.43 307.7 L57.55 309 L59.67 310.3 L60.33 311.6 L60.38 312.9 L58.11 314.2 L58.15 315.5 L63.6 315.9 Z" fill="#000"/>
<text transform="translate(286.2,204.8) rotate(-90)" font-size="8" fill="#222" textLength="56.8" lengthAdjust="spacingAndGlyphs" stroke="#222" stroke-width="0.2">References (WT)</text>
<text transform="translate(287.2,306.2) rotate(-90)" font-size="8" fill="#222" textLength="67.6" lengthAdjust="spacingAndGlyphs" stroke="#222" stroke-width="0.2">Observations (cells)</text>
<text x="280.8" y="213.8" font-size="7.7" fill="#c8102e" textLength="40" lengthAdjust="spacingAndGlyphs" stroke="#c8102e" stroke-width="0.2">Leukemia-2</text>
<text x="282.9" y="234.6" font-size="7.7" fill="#c8102e" textLength="39" lengthAdjust="spacingAndGlyphs" stroke="#c8102e" stroke-width="0.2">Leukemia-1</text>
<path d="M274.9 219.6L284.9 219.6L284.9 216.1M274.9 225.3L284.9 225.3L284.9 227.7" stroke="#444" stroke-width="0.9" fill="none"/>
<line x1="293.8" y1="252.1" x2="328.5" y2="252.1" stroke="#000" stroke-width="1"/>
<path d="M327.3 249.3L332.9 252.1L327.3 254.9Z" fill="#000"/>
<rect x="334.8" y="172.7" width="176.5" height="128.2" fill="none" stroke="#000" stroke-width="1"/>
<text x="403.8" y="185" font-size="8" fill="#222" textLength="20.8" lengthAdjust="spacingAndGlyphs" stroke="#222" stroke-width="0.2">Chr 4</text>
<text x="441.2" y="185" font-size="8" fill="#222" text-anchor="middle" stroke="#222" stroke-width="0.2">6</text>
<text x="468.9" y="185" font-size="8" fill="#222" text-anchor="middle" stroke="#222" stroke-width="0.2">10</text>
<text x="492" y="185" font-size="8" fill="#222" text-anchor="middle" stroke="#222" stroke-width="0.2">15</text>
<rect x="399.2" y="188" width="32.3" height="4.4" fill="#c8c8cc"/>
<rect x="431.5" y="188" width="26" height="4.4" fill="#f08080"/>
<rect x="457.5" y="188" width="26" height="4.4" fill="#f0b860"/>
<rect x="483.5" y="188" width="21.7" height="4.4" fill="#d0c8d8"/>
<g filter="url(#bl)">
<rect x="399.2" y="195.2" width="106" height="29.3" fill="url(#pz)"/>
<rect x="399.2" y="224.5" width="106" height="12.7" fill="url(#pz)"/>
<rect x="399.2" y="237.6" width="106" height="11.8" fill="url(#pi)"/>
<rect x="399.2" y="250.2" width="106" height="6.8" fill="url(#pi)"/>
<rect x="399.2" y="258.8" width="106" height="28.8" fill="url(#pj)"/>
<rect x="414.5" y="197" width="2" height="1.6" fill="#d06060" fill-opacity="0.7"/>
<rect x="414.5" y="200" width="2" height="1.6" fill="#d06060" fill-opacity="0.7"/>
<rect x="414.5" y="203" width="2" height="1.6" fill="#d06060" fill-opacity="0.7"/>
<rect x="414.5" y="206" width="2" height="1.6" fill="#d06060" fill-opacity="0.7"/>
<rect x="414.5" y="209" width="2" height="1.6" fill="#d06060" fill-opacity="0.7"/>
<rect x="414.5" y="212" width="2" height="1.6" fill="#d06060" fill-opacity="0.7"/>
<rect x="414.5" y="215" width="2" height="1.6" fill="#d06060" fill-opacity="0.7"/>
<rect x="414.5" y="218" width="2" height="1.6" fill="#d06060" fill-opacity="0.7"/>
<rect x="414.5" y="221" width="2" height="1.6" fill="#d06060" fill-opacity="0.7"/>
<rect x="399.2" y="289.2" width="106" height="5.4" fill="#fff"/>
<rect x="429.5" y="204" width="1.5" height="12" fill="#c04040" fill-opacity="0.45"/>
<rect x="441" y="197" width="2" height="26" fill="#e0a0a0" fill-opacity="0.4"/>
<rect x="471" y="200" width="2" height="22" fill="#e09090" fill-opacity="0.3"/>
<rect x="461" y="203" width="1.5" height="5" fill="#9090e0" fill-opacity="0.35"/>
<rect x="414.5" y="226" width="2" height="8" fill="#e09090" fill-opacity="0.4"/>
<rect x="441" y="226" width="2" height="10" fill="#e0a0a0" fill-opacity="0.4"/>
<rect x="480" y="250.2" width="3.5" height="6.8" fill="#c02020" fill-opacity="0.8"/>
<rect x="483.5" y="250.2" width="21.7" height="6.8" fill="#d87070" fill-opacity="0.4"/>
<rect x="431.5" y="250.2" width="26" height="6.8" fill="#8080d8" fill-opacity="0.3"/>
<rect x="408" y="259.2" width="8" height="14.1" fill="#3030b8" fill-opacity="0.7"/>
<rect x="406" y="273.3" width="11" height="14" fill="#5050c8" fill-opacity="0.3"/>
<rect x="431.5" y="259.2" width="26" height="14.1" fill="#2a30b0" fill-opacity="1"/>
<rect x="461" y="259.2" width="5.5" height="28" fill="#6a6ad8" fill-opacity="0.35"/>
<rect x="474" y="259.2" width="4.5" height="28" fill="#6a6ad8" fill-opacity="0.3"/>
<rect x="466.5" y="259.2" width="7.5" height="14.1" fill="#1010a0" fill-opacity="0.95"/>
<rect x="466.5" y="273.3" width="7.5" height="14" fill="#3a3ab8" fill-opacity="0.6"/>
<rect x="479.2" y="259.2" width="4.3" height="14.1" fill="#b01010" fill-opacity="0.85"/>
<rect x="483.5" y="259.2" width="21.7" height="14.1" fill="#a00808" fill-opacity="1"/>
<rect x="483.5" y="273.3" width="21.7" height="14" fill="#d06060" fill-opacity="0.35"/>
<rect x="409.5" y="289.4" width="5.2" height="4.9" fill="#2020c0" fill-opacity="0.9"/>
<rect x="431.5" y="289.2" width="26" height="5.4" fill="#2830b0" fill-opacity="1"/>
<rect x="459" y="289.2" width="3" height="5.4" fill="#9090e8" fill-opacity="0.8"/>
<rect x="462" y="289.2" width="4.5" height="5.4" fill="#6060d8" fill-opacity="0.8"/>
<rect x="467" y="289.2" width="6.5" height="5.4" fill="#1a1aa8" fill-opacity="1"/>
<rect x="479" y="289.2" width="4.5" height="5.4" fill="#b01818" fill-opacity="1"/>
<rect x="483.5" y="289.2" width="21.7" height="5.4" fill="#a81818" fill-opacity="1"/>
<rect x="492" y="290.4" width="2.2" height="3" fill="#ffffff" fill-opacity="0.6"/>
<rect x="499" y="290.4" width="2.2" height="3" fill="#ffffff" fill-opacity="0.5"/>
<rect x="399.2" y="259.2" width="106" height="28" fill="url(#pt)" opacity="0.3"/>
</g>
<rect x="399.5" y="195.5" width="106" height="29" fill="none" stroke="#111" stroke-width="1"/>
<line x1="431.5" y1="195.5" x2="431.5" y2="224.5" stroke="#111" stroke-width="1"/>
<line x1="457.5" y1="195.5" x2="457.5" y2="224.5" stroke="#111" stroke-width="1"/>
<line x1="483.5" y1="195.5" x2="483.5" y2="224.5" stroke="#111" stroke-width="1"/>
<rect x="399.5" y="224.5" width="106" height="12" fill="none" stroke="#111" stroke-width="1"/>
<line x1="431.5" y1="224.5" x2="431.5" y2="236.5" stroke="#111" stroke-width="1"/>
<line x1="457.5" y1="224.5" x2="457.5" y2="236.5" stroke="#111" stroke-width="1"/>
<line x1="483.5" y1="224.5" x2="483.5" y2="236.5" stroke="#111" stroke-width="1"/>
<rect x="399.5" y="237.5" width="106" height="12" fill="none" stroke="#111" stroke-width="1"/>
<line x1="431.5" y1="237.5" x2="431.5" y2="249.5" stroke="#111" stroke-width="1"/>
<line x1="457.5" y1="237.5" x2="457.5" y2="249.5" stroke="#111" stroke-width="1"/>
<line x1="483.5" y1="237.5" x2="483.5" y2="249.5" stroke="#111" stroke-width="1"/>
<rect x="399.5" y="250.5" width="106" height="7" fill="none" stroke="#111" stroke-width="1"/>
<line x1="431.5" y1="250.5" x2="431.5" y2="257.5" stroke="#111" stroke-width="1"/>
<line x1="457.5" y1="250.5" x2="457.5" y2="257.5" stroke="#111" stroke-width="1"/>
<line x1="483.5" y1="250.5" x2="483.5" y2="257.5" stroke="#111" stroke-width="1"/>
<rect x="399.5" y="258.5" width="106" height="29" fill="none" stroke="#111" stroke-width="1"/>
<line x1="431.5" y1="258.5" x2="431.5" y2="287.5" stroke="#111" stroke-width="1"/>
<line x1="457.5" y1="258.5" x2="457.5" y2="287.5" stroke="#111" stroke-width="1"/>
<line x1="483.5" y1="258.5" x2="483.5" y2="287.5" stroke="#111" stroke-width="1"/>
<rect x="399.5" y="289.5" width="106" height="5" fill="none" stroke="#111" stroke-width="1"/>
<line x1="431.5" y1="289.5" x2="431.5" y2="294.5" stroke="#111" stroke-width="1"/>
<line x1="457.5" y1="289.5" x2="457.5" y2="294.5" stroke="#111" stroke-width="1"/>
<line x1="483.5" y1="289.5" x2="483.5" y2="294.5" stroke="#111" stroke-width="1"/>
<rect x="386.2" y="195.2" width="10.6" height="29.3" fill="#8fb4cc"/>
<rect x="386.2" y="224.5" width="10.6" height="12.7" fill="#c48a96"/>
<rect x="386.2" y="237.6" width="10.6" height="11.8" fill="#e6e6c4"/>
<rect x="386.2" y="250.2" width="10.6" height="6.8" fill="#bebebe"/>
<rect x="386.2" y="258.8" width="10.6" height="28.8" fill="#d2e89c"/>
<rect x="386.2" y="289.2" width="10.6" height="5.4" fill="#f8e050"/>
<text x="359.2" y="213.5" font-size="8" fill="#222" textLength="23.4" lengthAdjust="spacingAndGlyphs" stroke="#222" stroke-width="0.2">EryP_1</text>
<text x="358" y="233.7" font-size="8" fill="#222" textLength="24.6" lengthAdjust="spacingAndGlyphs" stroke="#222" stroke-width="0.2">EryP_2</text>
<text x="358.8" y="247.2" font-size="8" fill="#222" textLength="23.8" lengthAdjust="spacingAndGlyphs" stroke="#222" stroke-width="0.2">EryB_1</text>
<text x="358" y="258.1" font-size="8" fill="#222" textLength="24.6" lengthAdjust="spacingAndGlyphs" stroke="#222" stroke-width="0.2">EryB_2</text>
<text x="341.4" y="273.9" font-size="8" fill="#222" textLength="41.2" lengthAdjust="spacingAndGlyphs" stroke="#222" stroke-width="0.2">Leukemia_1</text>
<text x="340.4" y="295" font-size="8" fill="#222" textLength="42.2" lengthAdjust="spacingAndGlyphs" stroke="#222" stroke-width="0.2">Leukemia_2</text>
<rect x="23.5" y="343" width="3.2" height="3.2" fill="#5ec4b0" stroke="#444" stroke-width="0.8"/>
<text x="29" y="347.2" font-size="7.2" fill="#222" stroke="#222" stroke-width="0.2">MkE-P</text>
<rect x="65.1" y="343" width="3.2" height="3.2" fill="#9d8fd0" stroke="#444" stroke-width="0.8"/>
<text x="70.8" y="347.2" font-size="7.2" fill="#222" stroke="#222" stroke-width="0.2">MkB</text>
<rect x="107.3" y="343" width="3.2" height="3.2" fill="#6fa0c8" stroke="#444" stroke-width="0.8"/>
<text x="112.5" y="347.2" font-size="7.2" fill="#222" stroke="#222" stroke-width="0.2">EryP-1</text>
<rect x="147.8" y="343" width="3.2" height="3.2" fill="#80c040" stroke="#444" stroke-width="0.8"/>
<text x="153.8" y="347.2" font-size="7.2" fill="#222" stroke="#222" stroke-width="0.2">MkP-2</text>
<rect x="189.8" y="343" width="3.2" height="3.2" fill="#c8b8d0" stroke="#444" stroke-width="0.8"/>
<text x="195.9" y="347.2" font-size="7.2" fill="#222" stroke="#222" stroke-width="0.2">GMP-3</text>
<rect x="231.7" y="343" width="3.2" height="3.2" fill="#d8e8a0" stroke="#444" stroke-width="0.8"/>
<text x="235.4" y="347.2" font-size="7.2" fill="#222" stroke="#222" stroke-width="0.2">Leukemia_1</text>
<rect x="23.5" y="352.25" width="3.2" height="3.2" fill="#f0f0b0" stroke="#444" stroke-width="0.8"/>
<text x="29" y="356.45" font-size="7.2" fill="#222" stroke="#222" stroke-width="0.2">GMP-1</text>
<rect x="65.1" y="352.25" width="3.2" height="3.2" fill="#e83030" stroke="#444" stroke-width="0.8"/>
<text x="70.8" y="356.45" font-size="7.2" fill="#222" stroke="#222" stroke-width="0.2">Pre-GMP</text>
<rect x="107.3" y="352.25" width="3.2" height="3.2" fill="#f0a040" stroke="#444" stroke-width="0.8"/>
<text x="112.5" y="356.45" font-size="7.2" fill="#222" stroke="#222" stroke-width="0.2">B-cell-P</text>
<rect x="147.8" y="352.25" width="3.2" height="3.2" fill="#f0d0d8" stroke="#444" stroke-width="0.8"/>
<text x="153.8" y="356.45" font-size="7.2" fill="#222" stroke="#222" stroke-width="0.2">MkP-1</text>
<rect x="189.8" y="352.25" width="3.2" height="3.2" fill="#c060d0" stroke="#444" stroke-width="0.8"/>
<text x="195.9" y="356.45" font-size="7.2" fill="#222" stroke="#222" stroke-width="0.2">GMP-2</text>
<rect x="231.7" y="352.25" width="3.2" height="3.2" fill="#f0e040" stroke="#444" stroke-width="0.8"/>
<text x="235.4" y="356.45" font-size="7.2" fill="#222" stroke="#222" stroke-width="0.2">Leukemia_2</text>
<rect x="23.5" y="361.5" width="3.2" height="3.2" fill="#e8e8c0" stroke="#444" stroke-width="0.8"/>
<text x="29" y="365.7" font-size="7.2" fill="#222" stroke="#222" stroke-width="0.2">EryB-1</text>
<rect x="65.1" y="361.5" width="3.2" height="3.2" fill="#c07080" stroke="#444" stroke-width="0.8"/>
<text x="70.8" y="365.7" font-size="7.2" fill="#222" stroke="#222" stroke-width="0.2">EryP-2</text>
<rect x="107.3" y="361.5" width="3.2" height="3.2" fill="#d8c030" stroke="#444" stroke-width="0.8"/>
<text x="112.5" y="365.7" font-size="7.2" fill="#222" stroke="#222" stroke-width="0.2">HSC-1</text>
<rect x="147.8" y="361.5" width="3.2" height="3.2" fill="#e8d8e0" stroke="#444" stroke-width="0.8"/>
<text x="153.8" y="365.7" font-size="7.2" fill="#222" stroke="#222" stroke-width="0.2">HSC-2</text>
<rect x="189.8" y="361.5" width="3.2" height="3.2" fill="#a8a8a8" stroke="#444" stroke-width="0.8"/>
<text x="195.9" y="365.7" font-size="7.2" fill="#222" stroke="#222" stroke-width="0.2">EryB-2</text>
<rect x="0" y="0" width="520" height="1.1" fill="#000"/>
<rect x="0" y="0" width="1.1" height="373" fill="#000"/>
<rect x="518.7" y="0" width="1.3" height="373" fill="#000"/>
<rect x="0" y="371.5" width="520" height="1.5" fill="#000"/>
</g>
</svg></body></html>
